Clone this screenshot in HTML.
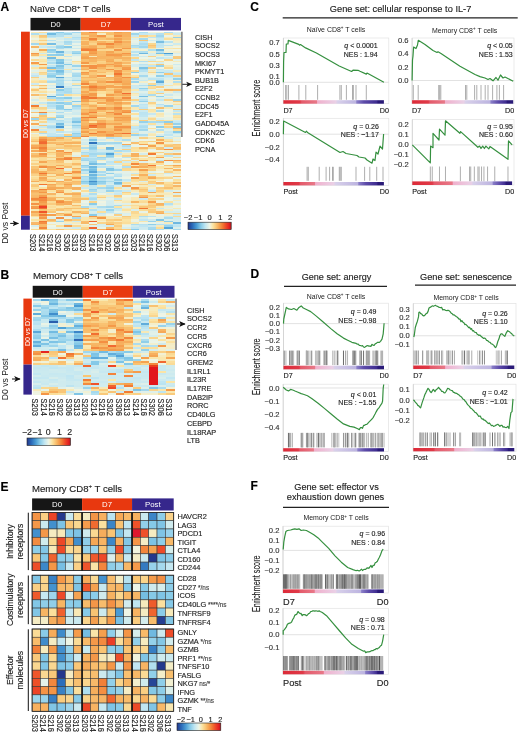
<!DOCTYPE html><html><head><meta charset="utf-8"><style>html,body{margin:0;padding:0;background:#fff;}svg{display:block;filter:blur(0.3px);}text{font-family:"Liberation Sans",sans-serif;stroke-width:0.14px;}</style></head><body><svg width="520" height="733" viewBox="0 0 520 733"><defs><filter id="bl" x="-2%" y="-2%" width="104%" height="104%"><feGaussianBlur stdDeviation="0.4 0.7"/></filter><linearGradient id="cb" x1="0" x2="1" y1="0" y2="0"><stop offset="0.000" stop-color="#24388c"/><stop offset="0.100" stop-color="#2a6ab8"/><stop offset="0.200" stop-color="#4a9cd4"/><stop offset="0.300" stop-color="#88cbe8"/><stop offset="0.400" stop-color="#c0e6f2"/><stop offset="0.500" stop-color="#eef5e6"/><stop offset="0.575" stop-color="#fbe4a4"/><stop offset="0.650" stop-color="#f9c676"/><stop offset="0.725" stop-color="#f5a250"/><stop offset="0.800" stop-color="#f27a34"/><stop offset="0.875" stop-color="#ee4a28"/><stop offset="0.950" stop-color="#e42222"/><stop offset="1.000" stop-color="#b8141e"/></linearGradient><marker id="ar" viewBox="0 0 10 10" refX="9" refY="5" markerWidth="6.5" markerHeight="6.5" orient="auto"><path d="M0,0.5 L10,5 L0,9.5 L2.5,5 z" fill="#111"/></marker></defs><rect width="520" height="733" fill="#fff"/><text x="0.4" y="10.8" font-size="12" text-anchor="start" fill="#000" stroke="#000" font-weight="bold" >A</text><text x="30" y="12.3" font-size="9.6" text-anchor="start" fill="#222" stroke="#222" >Naïve CD8<tspan font-size="6" dy="-3.5">+</tspan><tspan dy="3.5"> T cells</tspan></text><rect x="30.50" y="17.9" width="50.17" height="12.5" fill="#161616"/><text x="55.58" y="26.96" font-size="7.8" text-anchor="middle" fill="#fff" stroke="none" >D0</text><rect x="80.67" y="17.9" width="50.17" height="12.5" fill="#e8380f"/><text x="105.75" y="26.96" font-size="7.8" text-anchor="middle" fill="#fff" stroke="none" >D7</text><rect x="130.83" y="17.9" width="50.17" height="12.5" fill="#36278c"/><text x="155.92" y="26.96" font-size="7.8" text-anchor="middle" fill="#fff" stroke="none" >Post</text><g filter="url(#bl)" shape-rendering="crispEdges"><rect x="30.50" y="31.70" width="8.41" height="1.65" fill="#f7eaba"/><rect x="38.86" y="31.70" width="8.41" height="1.65" fill="#fbde9a"/><rect x="47.22" y="31.70" width="8.41" height="1.65" fill="#bbe3f1"/><rect x="55.58" y="31.70" width="8.41" height="1.65" fill="#8dcee9"/><rect x="63.94" y="31.70" width="8.41" height="1.65" fill="#c1e6f2"/><rect x="72.31" y="31.70" width="8.41" height="1.65" fill="#a2d7ed"/><rect x="80.67" y="31.70" width="8.41" height="1.65" fill="#f7b261"/><rect x="89.03" y="31.70" width="8.41" height="1.65" fill="#f3883e"/><rect x="97.39" y="31.70" width="8.41" height="1.65" fill="#f9c777"/><rect x="105.75" y="31.70" width="8.41" height="1.65" fill="#f8c170"/><rect x="114.11" y="31.70" width="8.41" height="1.65" fill="#f59e4d"/><rect x="122.47" y="31.70" width="8.41" height="1.65" fill="#f6ab59"/><rect x="130.83" y="31.70" width="8.41" height="1.65" fill="#e7f3e8"/><rect x="139.19" y="31.70" width="8.41" height="1.65" fill="#aedeef"/><rect x="147.56" y="31.70" width="8.41" height="1.65" fill="#f0f3dd"/><rect x="155.92" y="31.70" width="8.41" height="1.65" fill="#f0f3dc"/><rect x="164.28" y="31.70" width="8.41" height="1.65" fill="#afdeef"/><rect x="172.64" y="31.70" width="8.41" height="1.65" fill="#dcefeb"/><rect x="30.50" y="33.30" width="8.41" height="1.65" fill="#afdeef"/><rect x="38.86" y="33.30" width="8.41" height="1.65" fill="#d2eced"/><rect x="47.22" y="33.30" width="8.41" height="1.65" fill="#72bbe1"/><rect x="55.58" y="33.30" width="8.41" height="1.65" fill="#adddef"/><rect x="63.94" y="33.30" width="8.41" height="1.65" fill="#9cd5ec"/><rect x="72.31" y="33.30" width="8.41" height="1.65" fill="#d5edec"/><rect x="80.67" y="33.30" width="8.41" height="1.65" fill="#f7b05f"/><rect x="89.03" y="33.30" width="8.41" height="1.65" fill="#f7b362"/><rect x="97.39" y="33.30" width="8.41" height="1.65" fill="#f4edc6"/><rect x="105.75" y="33.30" width="8.41" height="1.65" fill="#f8bf6e"/><rect x="114.11" y="33.30" width="8.41" height="1.65" fill="#f6ad5b"/><rect x="122.47" y="33.30" width="8.41" height="1.65" fill="#f7b160"/><rect x="130.83" y="33.30" width="8.41" height="1.65" fill="#9fd6ec"/><rect x="139.19" y="33.30" width="8.41" height="1.65" fill="#c4e7f1"/><rect x="147.56" y="33.30" width="8.41" height="1.65" fill="#cceaef"/><rect x="155.92" y="33.30" width="8.41" height="1.65" fill="#b4e0f0"/><rect x="164.28" y="33.30" width="8.41" height="1.65" fill="#fbe2a1"/><rect x="172.64" y="33.30" width="8.41" height="1.65" fill="#cdeaee"/><rect x="30.50" y="34.90" width="8.41" height="1.65" fill="#f6eabd"/><rect x="38.86" y="34.90" width="8.41" height="1.65" fill="#f9c778"/><rect x="47.22" y="34.90" width="8.41" height="1.65" fill="#adddef"/><rect x="55.58" y="34.90" width="8.41" height="1.65" fill="#b4e0f0"/><rect x="63.94" y="34.90" width="8.41" height="1.65" fill="#d5edec"/><rect x="72.31" y="34.90" width="8.41" height="1.65" fill="#ceebee"/><rect x="80.67" y="34.90" width="8.41" height="1.65" fill="#fad288"/><rect x="89.03" y="34.90" width="8.41" height="1.65" fill="#f6ac5b"/><rect x="97.39" y="34.90" width="8.41" height="1.65" fill="#f49547"/><rect x="105.75" y="34.90" width="8.41" height="1.65" fill="#fad68f"/><rect x="114.11" y="34.90" width="8.41" height="1.65" fill="#f49346"/><rect x="122.47" y="34.90" width="8.41" height="1.65" fill="#f7b160"/><rect x="130.83" y="34.90" width="8.41" height="1.65" fill="#c9e9f0"/><rect x="139.19" y="34.90" width="8.41" height="1.65" fill="#fad085"/><rect x="147.56" y="34.90" width="8.41" height="1.65" fill="#fbe2a1"/><rect x="155.92" y="34.90" width="8.41" height="1.65" fill="#a1d7ed"/><rect x="164.28" y="34.90" width="8.41" height="1.65" fill="#ebf4e7"/><rect x="172.64" y="34.90" width="8.41" height="1.65" fill="#f7eaba"/><rect x="30.50" y="36.50" width="8.41" height="1.65" fill="#f4eeca"/><rect x="38.86" y="36.50" width="8.41" height="1.65" fill="#facf84"/><rect x="47.22" y="36.50" width="8.41" height="1.65" fill="#c3e7f1"/><rect x="55.58" y="36.50" width="8.41" height="1.65" fill="#d5edec"/><rect x="63.94" y="36.50" width="8.41" height="1.65" fill="#f7e9b8"/><rect x="72.31" y="36.50" width="8.41" height="1.65" fill="#b0deef"/><rect x="80.67" y="36.50" width="8.41" height="1.65" fill="#f6af5d"/><rect x="89.03" y="36.50" width="8.41" height="1.65" fill="#f8ba6a"/><rect x="97.39" y="36.50" width="8.41" height="1.65" fill="#f7b766"/><rect x="105.75" y="36.50" width="8.41" height="1.65" fill="#face82"/><rect x="114.11" y="36.50" width="8.41" height="1.65" fill="#f8bb6a"/><rect x="122.47" y="36.50" width="8.41" height="1.65" fill="#f8b968"/><rect x="130.83" y="36.50" width="8.41" height="1.65" fill="#f7e9b7"/><rect x="139.19" y="36.50" width="8.41" height="1.65" fill="#f7eaba"/><rect x="147.56" y="36.50" width="8.41" height="1.65" fill="#bee5f2"/><rect x="155.92" y="36.50" width="8.41" height="1.65" fill="#b5e1f0"/><rect x="164.28" y="36.50" width="8.41" height="1.65" fill="#f6ebbf"/><rect x="172.64" y="36.50" width="8.41" height="1.65" fill="#96d2eb"/><rect x="30.50" y="38.10" width="8.41" height="1.65" fill="#eff4e1"/><rect x="38.86" y="38.10" width="8.41" height="1.65" fill="#f7e9b7"/><rect x="47.22" y="38.10" width="8.41" height="1.65" fill="#f0f2db"/><rect x="55.58" y="38.10" width="8.41" height="1.65" fill="#d6edec"/><rect x="63.94" y="38.10" width="8.41" height="1.65" fill="#c5e8f1"/><rect x="72.31" y="38.10" width="8.41" height="1.65" fill="#bde5f2"/><rect x="80.67" y="38.10" width="8.41" height="1.65" fill="#f8bb6a"/><rect x="89.03" y="38.10" width="8.41" height="1.65" fill="#f3833a"/><rect x="97.39" y="38.10" width="8.41" height="1.65" fill="#f9c575"/><rect x="105.75" y="38.10" width="8.41" height="1.65" fill="#f7b868"/><rect x="114.11" y="38.10" width="8.41" height="1.65" fill="#f5a250"/><rect x="122.47" y="38.10" width="8.41" height="1.65" fill="#f7b766"/><rect x="130.83" y="38.10" width="8.41" height="1.65" fill="#dbefeb"/><rect x="139.19" y="38.10" width="8.41" height="1.65" fill="#a5d9ed"/><rect x="147.56" y="38.10" width="8.41" height="1.65" fill="#f0f2dc"/><rect x="155.92" y="38.10" width="8.41" height="1.65" fill="#c5e8f1"/><rect x="164.28" y="38.10" width="8.41" height="1.65" fill="#fbde9b"/><rect x="172.64" y="38.10" width="8.41" height="1.65" fill="#f8e8b4"/><rect x="30.50" y="39.70" width="8.41" height="1.65" fill="#f6eabc"/><rect x="38.86" y="39.70" width="8.41" height="1.65" fill="#fad085"/><rect x="47.22" y="39.70" width="8.41" height="1.65" fill="#b8e2f1"/><rect x="55.58" y="39.70" width="8.41" height="1.65" fill="#e5f2e8"/><rect x="63.94" y="39.70" width="8.41" height="1.65" fill="#d1ecee"/><rect x="72.31" y="39.70" width="8.41" height="1.65" fill="#e1f1e9"/><rect x="80.67" y="39.70" width="8.41" height="1.65" fill="#fad38b"/><rect x="89.03" y="39.70" width="8.41" height="1.65" fill="#f5a553"/><rect x="97.39" y="39.70" width="8.41" height="1.65" fill="#fbe1a0"/><rect x="105.75" y="39.70" width="8.41" height="1.65" fill="#fbe19f"/><rect x="114.11" y="39.70" width="8.41" height="1.65" fill="#f7b463"/><rect x="122.47" y="39.70" width="8.41" height="1.65" fill="#f9cb7d"/><rect x="130.83" y="39.70" width="8.41" height="1.65" fill="#e9f3e7"/><rect x="139.19" y="39.70" width="8.41" height="1.65" fill="#f9c778"/><rect x="147.56" y="39.70" width="8.41" height="1.65" fill="#d2eced"/><rect x="155.92" y="39.70" width="8.41" height="1.65" fill="#bde5f2"/><rect x="164.28" y="39.70" width="8.41" height="1.65" fill="#eff4e1"/><rect x="172.64" y="39.70" width="8.41" height="1.65" fill="#f5ebc0"/><rect x="30.50" y="41.30" width="8.41" height="1.65" fill="#f4edc9"/><rect x="38.86" y="41.30" width="8.41" height="1.65" fill="#f5ebc0"/><rect x="47.22" y="41.30" width="8.41" height="1.65" fill="#e0f0ea"/><rect x="55.58" y="41.30" width="8.41" height="1.65" fill="#cfebee"/><rect x="63.94" y="41.30" width="8.41" height="1.65" fill="#a7daed"/><rect x="72.31" y="41.30" width="8.41" height="1.65" fill="#c9e9f0"/><rect x="80.67" y="41.30" width="8.41" height="1.65" fill="#f7b362"/><rect x="89.03" y="41.30" width="8.41" height="1.65" fill="#f9c97b"/><rect x="97.39" y="41.30" width="8.41" height="1.65" fill="#f7b362"/><rect x="105.75" y="41.30" width="8.41" height="1.65" fill="#f9c777"/><rect x="114.11" y="41.30" width="8.41" height="1.65" fill="#f49044"/><rect x="122.47" y="41.30" width="8.41" height="1.65" fill="#f6af5e"/><rect x="130.83" y="41.30" width="8.41" height="1.65" fill="#e6f2e8"/><rect x="139.19" y="41.30" width="8.41" height="1.65" fill="#bfe6f2"/><rect x="147.56" y="41.30" width="8.41" height="1.65" fill="#eef5e4"/><rect x="155.92" y="41.30" width="8.41" height="1.65" fill="#79bfe3"/><rect x="164.28" y="41.30" width="8.41" height="1.65" fill="#bae3f1"/><rect x="172.64" y="41.30" width="8.41" height="1.65" fill="#f4eeca"/><rect x="30.50" y="42.90" width="8.41" height="1.65" fill="#a3d8ed"/><rect x="38.86" y="42.90" width="8.41" height="1.65" fill="#f9c97a"/><rect x="47.22" y="42.90" width="8.41" height="1.65" fill="#77bee3"/><rect x="55.58" y="42.90" width="8.41" height="1.65" fill="#d9eeec"/><rect x="63.94" y="42.90" width="8.41" height="1.65" fill="#afdeef"/><rect x="72.31" y="42.90" width="8.41" height="1.65" fill="#e8f3e8"/><rect x="80.67" y="42.90" width="8.41" height="1.65" fill="#f7b15f"/><rect x="89.03" y="42.90" width="8.41" height="1.65" fill="#fad48b"/><rect x="97.39" y="42.90" width="8.41" height="1.65" fill="#f49849"/><rect x="105.75" y="42.90" width="8.41" height="1.65" fill="#f3883e"/><rect x="114.11" y="42.90" width="8.41" height="1.65" fill="#f6ad5c"/><rect x="122.47" y="42.90" width="8.41" height="1.65" fill="#f8bb6b"/><rect x="130.83" y="42.90" width="8.41" height="1.65" fill="#dcefeb"/><rect x="139.19" y="42.90" width="8.41" height="1.65" fill="#acdcee"/><rect x="147.56" y="42.90" width="8.41" height="1.65" fill="#fad78f"/><rect x="155.92" y="42.90" width="8.41" height="1.65" fill="#c1e6f2"/><rect x="164.28" y="42.90" width="8.41" height="1.65" fill="#e6f2e8"/><rect x="172.64" y="42.90" width="8.41" height="1.65" fill="#ceebee"/><rect x="30.50" y="44.50" width="8.41" height="1.65" fill="#eaf4e7"/><rect x="38.86" y="44.50" width="8.41" height="1.65" fill="#d3eced"/><rect x="47.22" y="44.50" width="8.41" height="1.65" fill="#f0f2db"/><rect x="55.58" y="44.50" width="8.41" height="1.65" fill="#b1dfef"/><rect x="63.94" y="44.50" width="8.41" height="1.65" fill="#f1f2d9"/><rect x="72.31" y="44.50" width="8.41" height="1.65" fill="#cceaef"/><rect x="80.67" y="44.50" width="8.41" height="1.65" fill="#f9c676"/><rect x="89.03" y="44.50" width="8.41" height="1.65" fill="#f7b766"/><rect x="97.39" y="44.50" width="8.41" height="1.65" fill="#f9c87a"/><rect x="105.75" y="44.50" width="8.41" height="1.65" fill="#f7b05f"/><rect x="114.11" y="44.50" width="8.41" height="1.65" fill="#f7b665"/><rect x="122.47" y="44.50" width="8.41" height="1.65" fill="#f8bc6b"/><rect x="130.83" y="44.50" width="8.41" height="1.65" fill="#a6daed"/><rect x="139.19" y="44.50" width="8.41" height="1.65" fill="#b4e0f0"/><rect x="147.56" y="44.50" width="8.41" height="1.65" fill="#f9c372"/><rect x="155.92" y="44.50" width="8.41" height="1.65" fill="#bbe4f1"/><rect x="164.28" y="44.50" width="8.41" height="1.65" fill="#bde5f2"/><rect x="172.64" y="44.50" width="8.41" height="1.65" fill="#f3eecc"/><rect x="30.50" y="46.10" width="8.41" height="1.65" fill="#f7b665"/><rect x="38.86" y="46.10" width="8.41" height="1.65" fill="#cbeaef"/><rect x="47.22" y="46.10" width="8.41" height="1.65" fill="#bee5f2"/><rect x="55.58" y="46.10" width="8.41" height="1.65" fill="#9ad4eb"/><rect x="63.94" y="46.10" width="8.41" height="1.65" fill="#86c9e7"/><rect x="72.31" y="46.10" width="8.41" height="1.65" fill="#e7f3e8"/><rect x="80.67" y="46.10" width="8.41" height="1.65" fill="#f7b564"/><rect x="89.03" y="46.10" width="8.41" height="1.65" fill="#f6ac5b"/><rect x="97.39" y="46.10" width="8.41" height="1.65" fill="#f9cd80"/><rect x="105.75" y="46.10" width="8.41" height="1.65" fill="#f5a453"/><rect x="114.11" y="46.10" width="8.41" height="1.65" fill="#f8ba69"/><rect x="122.47" y="46.10" width="8.41" height="1.65" fill="#f7b867"/><rect x="130.83" y="46.10" width="8.41" height="1.65" fill="#b4e0f0"/><rect x="139.19" y="46.10" width="8.41" height="1.65" fill="#a0d7ec"/><rect x="147.56" y="46.10" width="8.41" height="1.65" fill="#face83"/><rect x="155.92" y="46.10" width="8.41" height="1.65" fill="#c3e7f1"/><rect x="164.28" y="46.10" width="8.41" height="1.65" fill="#f0f2db"/><rect x="172.64" y="46.10" width="8.41" height="1.65" fill="#edf5e6"/><rect x="30.50" y="47.70" width="8.41" height="1.65" fill="#eff3df"/><rect x="38.86" y="47.70" width="8.41" height="1.65" fill="#f0f2d9"/><rect x="47.22" y="47.70" width="8.41" height="1.65" fill="#ddefea"/><rect x="55.58" y="47.70" width="8.41" height="1.65" fill="#aadbee"/><rect x="63.94" y="47.70" width="8.41" height="1.65" fill="#cceaef"/><rect x="72.31" y="47.70" width="8.41" height="1.65" fill="#cceaef"/><rect x="80.67" y="47.70" width="8.41" height="1.65" fill="#f49346"/><rect x="89.03" y="47.70" width="8.41" height="1.65" fill="#f59b4b"/><rect x="97.39" y="47.70" width="8.41" height="1.65" fill="#f7b05f"/><rect x="105.75" y="47.70" width="8.41" height="1.65" fill="#f8bf6f"/><rect x="114.11" y="47.70" width="8.41" height="1.65" fill="#face83"/><rect x="122.47" y="47.70" width="8.41" height="1.65" fill="#f49a4b"/><rect x="130.83" y="47.70" width="8.41" height="1.65" fill="#f8e7b2"/><rect x="139.19" y="47.70" width="8.41" height="1.65" fill="#d1eced"/><rect x="147.56" y="47.70" width="8.41" height="1.65" fill="#f8e7b1"/><rect x="155.92" y="47.70" width="8.41" height="1.65" fill="#f1f1d6"/><rect x="164.28" y="47.70" width="8.41" height="1.65" fill="#f8e7b1"/><rect x="172.64" y="47.70" width="8.41" height="1.65" fill="#fbe2a1"/><rect x="30.50" y="49.30" width="8.41" height="1.65" fill="#eff3e0"/><rect x="38.86" y="49.30" width="8.41" height="1.65" fill="#f6ab59"/><rect x="47.22" y="49.30" width="8.41" height="1.65" fill="#8fcee9"/><rect x="55.58" y="49.30" width="8.41" height="1.65" fill="#ddefea"/><rect x="63.94" y="49.30" width="8.41" height="1.65" fill="#e3f2e9"/><rect x="72.31" y="49.30" width="8.41" height="1.65" fill="#ecf4e7"/><rect x="80.67" y="49.30" width="8.41" height="1.65" fill="#f27f37"/><rect x="89.03" y="49.30" width="8.41" height="1.65" fill="#f3843b"/><rect x="97.39" y="49.30" width="8.41" height="1.65" fill="#fad58d"/><rect x="105.75" y="49.30" width="8.41" height="1.65" fill="#fad993"/><rect x="114.11" y="49.30" width="8.41" height="1.65" fill="#f49547"/><rect x="122.47" y="49.30" width="8.41" height="1.65" fill="#f9cd81"/><rect x="130.83" y="49.30" width="8.41" height="1.65" fill="#e2f1e9"/><rect x="139.19" y="49.30" width="8.41" height="1.65" fill="#f2f0d1"/><rect x="147.56" y="49.30" width="8.41" height="1.65" fill="#aedeef"/><rect x="155.92" y="49.30" width="8.41" height="1.65" fill="#73bbe1"/><rect x="164.28" y="49.30" width="8.41" height="1.65" fill="#f0f3dd"/><rect x="172.64" y="49.30" width="8.41" height="1.65" fill="#eff4e3"/><rect x="30.50" y="50.90" width="8.41" height="1.65" fill="#f3efcf"/><rect x="38.86" y="50.90" width="8.41" height="1.65" fill="#f9e6ac"/><rect x="47.22" y="50.90" width="8.41" height="1.65" fill="#a0d7ec"/><rect x="55.58" y="50.90" width="8.41" height="1.65" fill="#6cb6df"/><rect x="63.94" y="50.90" width="8.41" height="1.65" fill="#cbeaef"/><rect x="72.31" y="50.90" width="8.41" height="1.65" fill="#a2d8ed"/><rect x="80.67" y="50.90" width="8.41" height="1.65" fill="#fadb96"/><rect x="89.03" y="50.90" width="8.41" height="1.65" fill="#f5a14f"/><rect x="97.39" y="50.90" width="8.41" height="1.65" fill="#f8bc6b"/><rect x="105.75" y="50.90" width="8.41" height="1.65" fill="#f5a654"/><rect x="114.11" y="50.90" width="8.41" height="1.65" fill="#f9c676"/><rect x="122.47" y="50.90" width="8.41" height="1.65" fill="#f9c575"/><rect x="130.83" y="50.90" width="8.41" height="1.65" fill="#b9e3f1"/><rect x="139.19" y="50.90" width="8.41" height="1.65" fill="#b1dfef"/><rect x="147.56" y="50.90" width="8.41" height="1.65" fill="#f3eecc"/><rect x="155.92" y="50.90" width="8.41" height="1.65" fill="#b6e1f0"/><rect x="164.28" y="50.90" width="8.41" height="1.65" fill="#f1f1d6"/><rect x="172.64" y="50.90" width="8.41" height="1.65" fill="#f3eecc"/><rect x="30.50" y="52.50" width="8.41" height="1.65" fill="#f4994a"/><rect x="38.86" y="52.50" width="8.41" height="1.65" fill="#ceebee"/><rect x="47.22" y="52.50" width="8.41" height="1.65" fill="#e6f3e8"/><rect x="55.58" y="52.50" width="8.41" height="1.65" fill="#b5e1f0"/><rect x="63.94" y="52.50" width="8.41" height="1.65" fill="#d1ebee"/><rect x="72.31" y="52.50" width="8.41" height="1.65" fill="#8dcde9"/><rect x="80.67" y="52.50" width="8.41" height="1.65" fill="#f8c070"/><rect x="89.03" y="52.50" width="8.41" height="1.65" fill="#f49a4a"/><rect x="97.39" y="52.50" width="8.41" height="1.65" fill="#f8bc6c"/><rect x="105.75" y="52.50" width="8.41" height="1.65" fill="#f6ae5d"/><rect x="114.11" y="52.50" width="8.41" height="1.65" fill="#f7b362"/><rect x="122.47" y="52.50" width="8.41" height="1.65" fill="#f49446"/><rect x="130.83" y="52.50" width="8.41" height="1.65" fill="#e2f1e9"/><rect x="139.19" y="52.50" width="8.41" height="1.65" fill="#6eb7df"/><rect x="147.56" y="52.50" width="8.41" height="1.65" fill="#d8eeec"/><rect x="155.92" y="52.50" width="8.41" height="1.65" fill="#7ac1e4"/><rect x="164.28" y="52.50" width="8.41" height="1.65" fill="#4c9dd5"/><rect x="172.64" y="52.50" width="8.41" height="1.65" fill="#d9eeec"/><rect x="30.50" y="54.10" width="8.41" height="1.65" fill="#f8b968"/><rect x="38.86" y="54.10" width="8.41" height="1.65" fill="#fae6ab"/><rect x="47.22" y="54.10" width="8.41" height="1.65" fill="#92d0ea"/><rect x="55.58" y="54.10" width="8.41" height="1.65" fill="#8bcce9"/><rect x="63.94" y="54.10" width="8.41" height="1.65" fill="#f3efcd"/><rect x="72.31" y="54.10" width="8.41" height="1.65" fill="#d1eced"/><rect x="80.67" y="54.10" width="8.41" height="1.65" fill="#f7b362"/><rect x="89.03" y="54.10" width="8.41" height="1.65" fill="#f6af5e"/><rect x="97.39" y="54.10" width="8.41" height="1.65" fill="#f8b968"/><rect x="105.75" y="54.10" width="8.41" height="1.65" fill="#f49a4b"/><rect x="114.11" y="54.10" width="8.41" height="1.65" fill="#f59c4c"/><rect x="122.47" y="54.10" width="8.41" height="1.65" fill="#f6ae5d"/><rect x="130.83" y="54.10" width="8.41" height="1.65" fill="#b7e2f0"/><rect x="139.19" y="54.10" width="8.41" height="1.65" fill="#ecf4e7"/><rect x="147.56" y="54.10" width="8.41" height="1.65" fill="#d8eeec"/><rect x="155.92" y="54.10" width="8.41" height="1.65" fill="#f6ebbe"/><rect x="164.28" y="54.10" width="8.41" height="1.65" fill="#b3e0f0"/><rect x="172.64" y="54.10" width="8.41" height="1.65" fill="#e8f3e7"/><rect x="30.50" y="55.70" width="8.41" height="1.65" fill="#f7eabb"/><rect x="38.86" y="55.70" width="8.41" height="1.65" fill="#d1ebee"/><rect x="47.22" y="55.70" width="8.41" height="1.65" fill="#f7eaba"/><rect x="55.58" y="55.70" width="8.41" height="1.65" fill="#f1f2d9"/><rect x="63.94" y="55.70" width="8.41" height="1.65" fill="#c0e6f2"/><rect x="72.31" y="55.70" width="8.41" height="1.65" fill="#e8f3e8"/><rect x="80.67" y="55.70" width="8.41" height="1.65" fill="#f6aa58"/><rect x="89.03" y="55.70" width="8.41" height="1.65" fill="#f8e8b4"/><rect x="97.39" y="55.70" width="8.41" height="1.65" fill="#f7b362"/><rect x="105.75" y="55.70" width="8.41" height="1.65" fill="#f7b261"/><rect x="114.11" y="55.70" width="8.41" height="1.65" fill="#f6a958"/><rect x="122.47" y="55.70" width="8.41" height="1.65" fill="#facf83"/><rect x="130.83" y="55.70" width="8.41" height="1.65" fill="#d8eeec"/><rect x="139.19" y="55.70" width="8.41" height="1.65" fill="#d0ebee"/><rect x="147.56" y="55.70" width="8.41" height="1.65" fill="#fad38b"/><rect x="155.92" y="55.70" width="8.41" height="1.65" fill="#e4f2e8"/><rect x="164.28" y="55.70" width="8.41" height="1.65" fill="#e8f3e8"/><rect x="172.64" y="55.70" width="8.41" height="1.65" fill="#f9cc80"/><rect x="30.50" y="57.30" width="8.41" height="1.65" fill="#edf5e6"/><rect x="38.86" y="57.30" width="8.41" height="1.65" fill="#f2efd0"/><rect x="47.22" y="57.30" width="8.41" height="1.65" fill="#74bce1"/><rect x="55.58" y="57.30" width="8.41" height="1.65" fill="#f2efd0"/><rect x="63.94" y="57.30" width="8.41" height="1.65" fill="#f1f2d9"/><rect x="72.31" y="57.30" width="8.41" height="1.65" fill="#edf5e6"/><rect x="80.67" y="57.30" width="8.41" height="1.65" fill="#f5a250"/><rect x="89.03" y="57.30" width="8.41" height="1.65" fill="#f6ab5a"/><rect x="97.39" y="57.30" width="8.41" height="1.65" fill="#f7b463"/><rect x="105.75" y="57.30" width="8.41" height="1.65" fill="#f7b766"/><rect x="114.11" y="57.30" width="8.41" height="1.65" fill="#f7b160"/><rect x="122.47" y="57.30" width="8.41" height="1.65" fill="#f7b361"/><rect x="130.83" y="57.30" width="8.41" height="1.65" fill="#fad790"/><rect x="139.19" y="57.30" width="8.41" height="1.65" fill="#edf5e6"/><rect x="147.56" y="57.30" width="8.41" height="1.65" fill="#eff3e0"/><rect x="155.92" y="57.30" width="8.41" height="1.65" fill="#c0e6f2"/><rect x="164.28" y="57.30" width="8.41" height="1.65" fill="#cfebee"/><rect x="172.64" y="57.30" width="8.41" height="1.65" fill="#f9ca7c"/><rect x="30.50" y="58.90" width="8.41" height="1.65" fill="#fadb96"/><rect x="38.86" y="58.90" width="8.41" height="1.65" fill="#fae5a9"/><rect x="47.22" y="58.90" width="8.41" height="1.65" fill="#b7e2f0"/><rect x="55.58" y="58.90" width="8.41" height="1.65" fill="#82c7e6"/><rect x="63.94" y="58.90" width="8.41" height="1.65" fill="#cfebee"/><rect x="72.31" y="58.90" width="8.41" height="1.65" fill="#ecf4e7"/><rect x="80.67" y="58.90" width="8.41" height="1.65" fill="#f8be6e"/><rect x="89.03" y="58.90" width="8.41" height="1.65" fill="#f7b463"/><rect x="97.39" y="58.90" width="8.41" height="1.65" fill="#f8c06f"/><rect x="105.75" y="58.90" width="8.41" height="1.65" fill="#f6ae5c"/><rect x="114.11" y="58.90" width="8.41" height="1.65" fill="#fad38a"/><rect x="122.47" y="58.90" width="8.41" height="1.65" fill="#f8ba6a"/><rect x="130.83" y="58.90" width="8.41" height="1.65" fill="#c0e6f2"/><rect x="139.19" y="58.90" width="8.41" height="1.65" fill="#f3efce"/><rect x="147.56" y="58.90" width="8.41" height="1.65" fill="#d5eded"/><rect x="155.92" y="58.90" width="8.41" height="1.65" fill="#eef5e6"/><rect x="164.28" y="58.90" width="8.41" height="1.65" fill="#fad288"/><rect x="172.64" y="58.90" width="8.41" height="1.65" fill="#e1f1e9"/><rect x="30.50" y="60.50" width="8.41" height="1.65" fill="#ebf4e7"/><rect x="38.86" y="60.50" width="8.41" height="1.65" fill="#fbe2a1"/><rect x="47.22" y="60.50" width="8.41" height="1.65" fill="#c6e8f1"/><rect x="55.58" y="60.50" width="8.41" height="1.65" fill="#88cbe8"/><rect x="63.94" y="60.50" width="8.41" height="1.65" fill="#e2f1e9"/><rect x="72.31" y="60.50" width="8.41" height="1.65" fill="#fbe09d"/><rect x="80.67" y="60.50" width="8.41" height="1.65" fill="#f8bb6a"/><rect x="89.03" y="60.50" width="8.41" height="1.65" fill="#f7b362"/><rect x="97.39" y="60.50" width="8.41" height="1.65" fill="#fad38a"/><rect x="105.75" y="60.50" width="8.41" height="1.65" fill="#f6a856"/><rect x="114.11" y="60.50" width="8.41" height="1.65" fill="#f9cb7e"/><rect x="122.47" y="60.50" width="8.41" height="1.65" fill="#facf84"/><rect x="130.83" y="60.50" width="8.41" height="1.65" fill="#fbdf9d"/><rect x="139.19" y="60.50" width="8.41" height="1.65" fill="#b0deef"/><rect x="147.56" y="60.50" width="8.41" height="1.65" fill="#fad790"/><rect x="155.92" y="60.50" width="8.41" height="1.65" fill="#fbe19f"/><rect x="164.28" y="60.50" width="8.41" height="1.65" fill="#f0f3dd"/><rect x="172.64" y="60.50" width="8.41" height="1.65" fill="#f6eabb"/><rect x="30.50" y="62.10" width="8.41" height="1.65" fill="#f59c4c"/><rect x="38.86" y="62.10" width="8.41" height="1.65" fill="#f6ebbf"/><rect x="47.22" y="62.10" width="8.41" height="1.65" fill="#acddef"/><rect x="55.58" y="62.10" width="8.41" height="1.65" fill="#75bce2"/><rect x="63.94" y="62.10" width="8.41" height="1.65" fill="#d3eced"/><rect x="72.31" y="62.10" width="8.41" height="1.65" fill="#f6ebc0"/><rect x="80.67" y="62.10" width="8.41" height="1.65" fill="#f49a4a"/><rect x="89.03" y="62.10" width="8.41" height="1.65" fill="#f9c777"/><rect x="97.39" y="62.10" width="8.41" height="1.65" fill="#facf84"/><rect x="105.75" y="62.10" width="8.41" height="1.65" fill="#f8be6d"/><rect x="114.11" y="62.10" width="8.41" height="1.65" fill="#f5a452"/><rect x="122.47" y="62.10" width="8.41" height="1.65" fill="#f8b969"/><rect x="130.83" y="62.10" width="8.41" height="1.65" fill="#ebf4e7"/><rect x="139.19" y="62.10" width="8.41" height="1.65" fill="#e3f1e9"/><rect x="147.56" y="62.10" width="8.41" height="1.65" fill="#e8f3e8"/><rect x="155.92" y="62.10" width="8.41" height="1.65" fill="#d5edec"/><rect x="164.28" y="62.10" width="8.41" height="1.65" fill="#eff4e1"/><rect x="172.64" y="62.10" width="8.41" height="1.65" fill="#ebf4e7"/><rect x="30.50" y="63.70" width="8.41" height="1.65" fill="#fadb96"/><rect x="38.86" y="63.70" width="8.41" height="1.65" fill="#f49a4a"/><rect x="47.22" y="63.70" width="8.41" height="1.65" fill="#dcefeb"/><rect x="55.58" y="63.70" width="8.41" height="1.65" fill="#bce4f1"/><rect x="63.94" y="63.70" width="8.41" height="1.65" fill="#89cce8"/><rect x="72.31" y="63.70" width="8.41" height="1.65" fill="#daeeeb"/><rect x="80.67" y="63.70" width="8.41" height="1.65" fill="#fbe2a1"/><rect x="89.03" y="63.70" width="8.41" height="1.65" fill="#fad187"/><rect x="97.39" y="63.70" width="8.41" height="1.65" fill="#f5a352"/><rect x="105.75" y="63.70" width="8.41" height="1.65" fill="#f59d4d"/><rect x="114.11" y="63.70" width="8.41" height="1.65" fill="#f7b05e"/><rect x="122.47" y="63.70" width="8.41" height="1.65" fill="#fbdd99"/><rect x="130.83" y="63.70" width="8.41" height="1.65" fill="#d4eced"/><rect x="139.19" y="63.70" width="8.41" height="1.65" fill="#bbe3f1"/><rect x="147.56" y="63.70" width="8.41" height="1.65" fill="#fae6aa"/><rect x="155.92" y="63.70" width="8.41" height="1.65" fill="#f9c778"/><rect x="164.28" y="63.70" width="8.41" height="1.65" fill="#eff4e0"/><rect x="172.64" y="63.70" width="8.41" height="1.65" fill="#cfebee"/><rect x="30.50" y="65.30" width="8.41" height="1.65" fill="#d2eced"/><rect x="38.86" y="65.30" width="8.41" height="1.65" fill="#f8e8b4"/><rect x="47.22" y="65.30" width="8.41" height="1.65" fill="#bfe6f2"/><rect x="55.58" y="65.30" width="8.41" height="1.65" fill="#80c5e5"/><rect x="63.94" y="65.30" width="8.41" height="1.65" fill="#d6edec"/><rect x="72.31" y="65.30" width="8.41" height="1.65" fill="#9ad4eb"/><rect x="80.67" y="65.30" width="8.41" height="1.65" fill="#f49547"/><rect x="89.03" y="65.30" width="8.41" height="1.65" fill="#f49044"/><rect x="97.39" y="65.30" width="8.41" height="1.65" fill="#f59d4c"/><rect x="105.75" y="65.30" width="8.41" height="1.65" fill="#f8bd6c"/><rect x="114.11" y="65.30" width="8.41" height="1.65" fill="#f59e4d"/><rect x="122.47" y="65.30" width="8.41" height="1.65" fill="#f7b767"/><rect x="130.83" y="65.30" width="8.41" height="1.65" fill="#d3eced"/><rect x="139.19" y="65.30" width="8.41" height="1.65" fill="#c9e9f0"/><rect x="147.56" y="65.30" width="8.41" height="1.65" fill="#bfe6f2"/><rect x="155.92" y="65.30" width="8.41" height="1.65" fill="#95d1ea"/><rect x="164.28" y="65.30" width="8.41" height="1.65" fill="#f8e8b4"/><rect x="172.64" y="65.30" width="8.41" height="1.65" fill="#e6f2e8"/><rect x="30.50" y="66.90" width="8.41" height="1.65" fill="#fae5a8"/><rect x="38.86" y="66.90" width="8.41" height="1.65" fill="#f9c272"/><rect x="47.22" y="66.90" width="8.41" height="1.65" fill="#78bfe3"/><rect x="55.58" y="66.90" width="8.41" height="1.65" fill="#93d0ea"/><rect x="63.94" y="66.90" width="8.41" height="1.65" fill="#d8eeec"/><rect x="72.31" y="66.90" width="8.41" height="1.65" fill="#daeeeb"/><rect x="80.67" y="66.90" width="8.41" height="1.65" fill="#f8be6e"/><rect x="89.03" y="66.90" width="8.41" height="1.65" fill="#f49144"/><rect x="97.39" y="66.90" width="8.41" height="1.65" fill="#f7b463"/><rect x="105.75" y="66.90" width="8.41" height="1.65" fill="#facf83"/><rect x="114.11" y="66.90" width="8.41" height="1.65" fill="#f9c474"/><rect x="122.47" y="66.90" width="8.41" height="1.65" fill="#f59e4d"/><rect x="130.83" y="66.90" width="8.41" height="1.65" fill="#f1f1d8"/><rect x="139.19" y="66.90" width="8.41" height="1.65" fill="#7ec3e5"/><rect x="147.56" y="66.90" width="8.41" height="1.65" fill="#face82"/><rect x="155.92" y="66.90" width="8.41" height="1.65" fill="#eef4e4"/><rect x="164.28" y="66.90" width="8.41" height="1.65" fill="#fad892"/><rect x="172.64" y="66.90" width="8.41" height="1.65" fill="#dff0ea"/><rect x="30.50" y="68.50" width="8.41" height="1.65" fill="#f2f0d3"/><rect x="38.86" y="68.50" width="8.41" height="1.65" fill="#daeeeb"/><rect x="47.22" y="68.50" width="8.41" height="1.65" fill="#fad48b"/><rect x="55.58" y="68.50" width="8.41" height="1.65" fill="#b0deef"/><rect x="63.94" y="68.50" width="8.41" height="1.65" fill="#f9e6ad"/><rect x="72.31" y="68.50" width="8.41" height="1.65" fill="#b1dfef"/><rect x="80.67" y="68.50" width="8.41" height="1.65" fill="#f7b05e"/><rect x="89.03" y="68.50" width="8.41" height="1.65" fill="#fad790"/><rect x="97.39" y="68.50" width="8.41" height="1.65" fill="#f9c474"/><rect x="105.75" y="68.50" width="8.41" height="1.65" fill="#f49547"/><rect x="114.11" y="68.50" width="8.41" height="1.65" fill="#f9cc7e"/><rect x="122.47" y="68.50" width="8.41" height="1.65" fill="#f49748"/><rect x="130.83" y="68.50" width="8.41" height="1.65" fill="#eff4e2"/><rect x="139.19" y="68.50" width="8.41" height="1.65" fill="#a9dbee"/><rect x="147.56" y="68.50" width="8.41" height="1.65" fill="#e0f0ea"/><rect x="155.92" y="68.50" width="8.41" height="1.65" fill="#c5e7f1"/><rect x="164.28" y="68.50" width="8.41" height="1.65" fill="#e6f2e8"/><rect x="172.64" y="68.50" width="8.41" height="1.65" fill="#d8eeec"/><rect x="30.50" y="70.10" width="8.41" height="1.65" fill="#e1f1e9"/><rect x="38.86" y="70.10" width="8.41" height="1.65" fill="#f4edc8"/><rect x="47.22" y="70.10" width="8.41" height="1.65" fill="#99d3eb"/><rect x="55.58" y="70.10" width="8.41" height="1.65" fill="#78bfe3"/><rect x="63.94" y="70.10" width="8.41" height="1.65" fill="#cfebee"/><rect x="72.31" y="70.10" width="8.41" height="1.65" fill="#ecf4e7"/><rect x="80.67" y="70.10" width="8.41" height="1.65" fill="#fad993"/><rect x="89.03" y="70.10" width="8.41" height="1.65" fill="#f6ae5d"/><rect x="97.39" y="70.10" width="8.41" height="1.65" fill="#f9ca7d"/><rect x="105.75" y="70.10" width="8.41" height="1.65" fill="#f9c97b"/><rect x="114.11" y="70.10" width="8.41" height="1.65" fill="#f49446"/><rect x="122.47" y="70.10" width="8.41" height="1.65" fill="#f9c271"/><rect x="130.83" y="70.10" width="8.41" height="1.65" fill="#fad891"/><rect x="139.19" y="70.10" width="8.41" height="1.65" fill="#b6e1f0"/><rect x="147.56" y="70.10" width="8.41" height="1.65" fill="#f6ebbd"/><rect x="155.92" y="70.10" width="8.41" height="1.65" fill="#ceebee"/><rect x="164.28" y="70.10" width="8.41" height="1.65" fill="#cae9ef"/><rect x="172.64" y="70.10" width="8.41" height="1.65" fill="#f7e9b9"/><rect x="30.50" y="71.70" width="8.41" height="1.65" fill="#f4edc7"/><rect x="38.86" y="71.70" width="8.41" height="1.65" fill="#fad289"/><rect x="47.22" y="71.70" width="8.41" height="1.65" fill="#c4e7f1"/><rect x="55.58" y="71.70" width="8.41" height="1.65" fill="#83c7e6"/><rect x="63.94" y="71.70" width="8.41" height="1.65" fill="#cdeaee"/><rect x="72.31" y="71.70" width="8.41" height="1.65" fill="#cdeaef"/><rect x="80.67" y="71.70" width="8.41" height="1.65" fill="#f49a4a"/><rect x="89.03" y="71.70" width="8.41" height="1.65" fill="#f9c676"/><rect x="97.39" y="71.70" width="8.41" height="1.65" fill="#f8bb6a"/><rect x="105.75" y="71.70" width="8.41" height="1.65" fill="#fada94"/><rect x="114.11" y="71.70" width="8.41" height="1.65" fill="#f49a4a"/><rect x="122.47" y="71.70" width="8.41" height="1.65" fill="#facf83"/><rect x="130.83" y="71.70" width="8.41" height="1.65" fill="#91d0ea"/><rect x="139.19" y="71.70" width="8.41" height="1.65" fill="#d5eded"/><rect x="147.56" y="71.70" width="8.41" height="1.65" fill="#fad68f"/><rect x="155.92" y="71.70" width="8.41" height="1.65" fill="#91cfea"/><rect x="164.28" y="71.70" width="8.41" height="1.65" fill="#bce4f1"/><rect x="172.64" y="71.70" width="8.41" height="1.65" fill="#d0ebee"/><rect x="30.50" y="73.30" width="8.41" height="1.65" fill="#d4eced"/><rect x="38.86" y="73.30" width="8.41" height="1.65" fill="#fadb96"/><rect x="47.22" y="73.30" width="8.41" height="1.65" fill="#a3d8ed"/><rect x="55.58" y="73.30" width="8.41" height="1.65" fill="#96d2ea"/><rect x="63.94" y="73.30" width="8.41" height="1.65" fill="#e7f3e8"/><rect x="72.31" y="73.30" width="8.41" height="1.65" fill="#acdcee"/><rect x="80.67" y="73.30" width="8.41" height="1.65" fill="#f6a957"/><rect x="89.03" y="73.30" width="8.41" height="1.65" fill="#f9c778"/><rect x="97.39" y="73.30" width="8.41" height="1.65" fill="#fad790"/><rect x="105.75" y="73.30" width="8.41" height="1.65" fill="#fadc98"/><rect x="114.11" y="73.30" width="8.41" height="1.65" fill="#f27533"/><rect x="122.47" y="73.30" width="8.41" height="1.65" fill="#f8bc6c"/><rect x="130.83" y="73.30" width="8.41" height="1.65" fill="#ecf4e6"/><rect x="139.19" y="73.30" width="8.41" height="1.65" fill="#d6edec"/><rect x="147.56" y="73.30" width="8.41" height="1.65" fill="#f3efcf"/><rect x="155.92" y="73.30" width="8.41" height="1.65" fill="#d9eeeb"/><rect x="164.28" y="73.30" width="8.41" height="1.65" fill="#f9c474"/><rect x="172.64" y="73.30" width="8.41" height="1.65" fill="#c4e7f1"/><rect x="30.50" y="74.90" width="8.41" height="1.65" fill="#c1e6f2"/><rect x="38.86" y="74.90" width="8.41" height="1.65" fill="#dff0ea"/><rect x="47.22" y="74.90" width="8.41" height="1.65" fill="#8bcde9"/><rect x="55.58" y="74.90" width="8.41" height="1.65" fill="#d8eeec"/><rect x="63.94" y="74.90" width="8.41" height="1.65" fill="#eff4e3"/><rect x="72.31" y="74.90" width="8.41" height="1.65" fill="#a3d8ed"/><rect x="80.67" y="74.90" width="8.41" height="1.65" fill="#fad68e"/><rect x="89.03" y="74.90" width="8.41" height="1.65" fill="#f7b767"/><rect x="97.39" y="74.90" width="8.41" height="1.65" fill="#f49446"/><rect x="105.75" y="74.90" width="8.41" height="1.65" fill="#f5ecc3"/><rect x="114.11" y="74.90" width="8.41" height="1.65" fill="#f59d4d"/><rect x="122.47" y="74.90" width="8.41" height="1.65" fill="#facf83"/><rect x="130.83" y="74.90" width="8.41" height="1.65" fill="#f9e6ac"/><rect x="139.19" y="74.90" width="8.41" height="1.65" fill="#a7daee"/><rect x="147.56" y="74.90" width="8.41" height="1.65" fill="#e8f3e7"/><rect x="155.92" y="74.90" width="8.41" height="1.65" fill="#92d0ea"/><rect x="164.28" y="74.90" width="8.41" height="1.65" fill="#c1e6f2"/><rect x="172.64" y="74.90" width="8.41" height="1.65" fill="#fad188"/><rect x="30.50" y="76.50" width="8.41" height="1.65" fill="#facf84"/><rect x="38.86" y="76.50" width="8.41" height="1.65" fill="#f2efd1"/><rect x="47.22" y="76.50" width="8.41" height="1.65" fill="#a0d7ec"/><rect x="55.58" y="76.50" width="8.41" height="1.65" fill="#58a6d8"/><rect x="63.94" y="76.50" width="8.41" height="1.65" fill="#c3e7f1"/><rect x="72.31" y="76.50" width="8.41" height="1.65" fill="#cae9ef"/><rect x="80.67" y="76.50" width="8.41" height="1.65" fill="#f7b665"/><rect x="89.03" y="76.50" width="8.41" height="1.65" fill="#f7b05f"/><rect x="97.39" y="76.50" width="8.41" height="1.65" fill="#fad58d"/><rect x="105.75" y="76.50" width="8.41" height="1.65" fill="#f7b261"/><rect x="114.11" y="76.50" width="8.41" height="1.65" fill="#f6ad5b"/><rect x="122.47" y="76.50" width="8.41" height="1.65" fill="#f49044"/><rect x="130.83" y="76.50" width="8.41" height="1.65" fill="#f9cb7d"/><rect x="139.19" y="76.50" width="8.41" height="1.65" fill="#d1eced"/><rect x="147.56" y="76.50" width="8.41" height="1.65" fill="#d5eded"/><rect x="155.92" y="76.50" width="8.41" height="1.65" fill="#d4eded"/><rect x="164.28" y="76.50" width="8.41" height="1.65" fill="#d0ebee"/><rect x="172.64" y="76.50" width="8.41" height="1.65" fill="#d0ebee"/><rect x="30.50" y="78.10" width="8.41" height="1.65" fill="#f6ebbf"/><rect x="38.86" y="78.10" width="8.41" height="1.65" fill="#ddf0ea"/><rect x="47.22" y="78.10" width="8.41" height="1.65" fill="#dcefeb"/><rect x="55.58" y="78.10" width="8.41" height="1.65" fill="#b4e0f0"/><rect x="63.94" y="78.10" width="8.41" height="1.65" fill="#daefeb"/><rect x="72.31" y="78.10" width="8.41" height="1.65" fill="#c5e8f1"/><rect x="80.67" y="78.10" width="8.41" height="1.65" fill="#f9c778"/><rect x="89.03" y="78.10" width="8.41" height="1.65" fill="#f9c777"/><rect x="97.39" y="78.10" width="8.41" height="1.65" fill="#f8c070"/><rect x="105.75" y="78.10" width="8.41" height="1.65" fill="#f8bf6e"/><rect x="114.11" y="78.10" width="8.41" height="1.65" fill="#f5a554"/><rect x="122.47" y="78.10" width="8.41" height="1.65" fill="#f7b463"/><rect x="130.83" y="78.10" width="8.41" height="1.65" fill="#a7daee"/><rect x="139.19" y="78.10" width="8.41" height="1.65" fill="#daeeeb"/><rect x="147.56" y="78.10" width="8.41" height="1.65" fill="#bde5f1"/><rect x="155.92" y="78.10" width="8.41" height="1.65" fill="#bee5f2"/><rect x="164.28" y="78.10" width="8.41" height="1.65" fill="#dcefeb"/><rect x="172.64" y="78.10" width="8.41" height="1.65" fill="#92d0ea"/><rect x="30.50" y="79.70" width="8.41" height="1.65" fill="#f8e8b2"/><rect x="38.86" y="79.70" width="8.41" height="1.65" fill="#fbe3a3"/><rect x="47.22" y="79.70" width="8.41" height="1.65" fill="#c0e6f2"/><rect x="55.58" y="79.70" width="8.41" height="1.65" fill="#a4d9ed"/><rect x="63.94" y="79.70" width="8.41" height="1.65" fill="#c4e7f1"/><rect x="72.31" y="79.70" width="8.41" height="1.65" fill="#a2d8ed"/><rect x="80.67" y="79.70" width="8.41" height="1.65" fill="#f8bb6b"/><rect x="89.03" y="79.70" width="8.41" height="1.65" fill="#f8bd6c"/><rect x="97.39" y="79.70" width="8.41" height="1.65" fill="#f7b867"/><rect x="105.75" y="79.70" width="8.41" height="1.65" fill="#face83"/><rect x="114.11" y="79.70" width="8.41" height="1.65" fill="#f5a554"/><rect x="122.47" y="79.70" width="8.41" height="1.65" fill="#f7b05f"/><rect x="130.83" y="79.70" width="8.41" height="1.65" fill="#ddefea"/><rect x="139.19" y="79.70" width="8.41" height="1.65" fill="#c5e8f1"/><rect x="147.56" y="79.70" width="8.41" height="1.65" fill="#f9e7b0"/><rect x="155.92" y="79.70" width="8.41" height="1.65" fill="#8acce8"/><rect x="164.28" y="79.70" width="8.41" height="1.65" fill="#f3efce"/><rect x="172.64" y="79.70" width="8.41" height="1.65" fill="#f2f0d3"/><rect x="30.50" y="81.30" width="8.41" height="1.65" fill="#fbe3a3"/><rect x="38.86" y="81.30" width="8.41" height="1.65" fill="#fada95"/><rect x="47.22" y="81.30" width="8.41" height="1.65" fill="#aadbee"/><rect x="55.58" y="81.30" width="8.41" height="1.65" fill="#acdcee"/><rect x="63.94" y="81.30" width="8.41" height="1.65" fill="#e9f3e7"/><rect x="72.31" y="81.30" width="8.41" height="1.65" fill="#dbefeb"/><rect x="80.67" y="81.30" width="8.41" height="1.65" fill="#f6af5d"/><rect x="89.03" y="81.30" width="8.41" height="1.65" fill="#fad38a"/><rect x="97.39" y="81.30" width="8.41" height="1.65" fill="#f6ac5a"/><rect x="105.75" y="81.30" width="8.41" height="1.65" fill="#f49043"/><rect x="114.11" y="81.30" width="8.41" height="1.65" fill="#f48f43"/><rect x="122.47" y="81.30" width="8.41" height="1.65" fill="#f6ae5c"/><rect x="130.83" y="81.30" width="8.41" height="1.65" fill="#9ed5ec"/><rect x="139.19" y="81.30" width="8.41" height="1.65" fill="#f4eec9"/><rect x="147.56" y="81.30" width="8.41" height="1.65" fill="#eef5e6"/><rect x="155.92" y="81.30" width="8.41" height="1.65" fill="#5ca9da"/><rect x="164.28" y="81.30" width="8.41" height="1.65" fill="#f2f0d4"/><rect x="172.64" y="81.30" width="8.41" height="1.65" fill="#afdeef"/><rect x="30.50" y="82.90" width="8.41" height="1.65" fill="#cceaef"/><rect x="38.86" y="82.90" width="8.41" height="1.65" fill="#eef5e4"/><rect x="47.22" y="82.90" width="8.41" height="1.65" fill="#f0f2d9"/><rect x="55.58" y="82.90" width="8.41" height="1.65" fill="#a7daee"/><rect x="63.94" y="82.90" width="8.41" height="1.65" fill="#dbefeb"/><rect x="72.31" y="82.90" width="8.41" height="1.65" fill="#f9e6ad"/><rect x="80.67" y="82.90" width="8.41" height="1.65" fill="#f3873d"/><rect x="89.03" y="82.90" width="8.41" height="1.65" fill="#f7b160"/><rect x="97.39" y="82.90" width="8.41" height="1.65" fill="#f8c070"/><rect x="105.75" y="82.90" width="8.41" height="1.65" fill="#fad085"/><rect x="114.11" y="82.90" width="8.41" height="1.65" fill="#f8be6d"/><rect x="122.47" y="82.90" width="8.41" height="1.65" fill="#f6a957"/><rect x="130.83" y="82.90" width="8.41" height="1.65" fill="#f0f3de"/><rect x="139.19" y="82.90" width="8.41" height="1.65" fill="#dbefeb"/><rect x="147.56" y="82.90" width="8.41" height="1.65" fill="#fada95"/><rect x="155.92" y="82.90" width="8.41" height="1.65" fill="#b6e1f0"/><rect x="164.28" y="82.90" width="8.41" height="1.65" fill="#e6f2e8"/><rect x="172.64" y="82.90" width="8.41" height="1.65" fill="#f9e6ae"/><rect x="30.50" y="84.50" width="8.41" height="1.65" fill="#fad891"/><rect x="38.86" y="84.50" width="8.41" height="1.65" fill="#f8bf6f"/><rect x="47.22" y="84.50" width="8.41" height="1.65" fill="#d4eded"/><rect x="55.58" y="84.50" width="8.41" height="1.65" fill="#aadbee"/><rect x="63.94" y="84.50" width="8.41" height="1.65" fill="#dff0ea"/><rect x="72.31" y="84.50" width="8.41" height="1.65" fill="#a1d7ec"/><rect x="80.67" y="84.50" width="8.41" height="1.65" fill="#fadb96"/><rect x="89.03" y="84.50" width="8.41" height="1.65" fill="#f59e4d"/><rect x="97.39" y="84.50" width="8.41" height="1.65" fill="#f8bb6b"/><rect x="105.75" y="84.50" width="8.41" height="1.65" fill="#f6a857"/><rect x="114.11" y="84.50" width="8.41" height="1.65" fill="#fad58e"/><rect x="122.47" y="84.50" width="8.41" height="1.65" fill="#f8be6d"/><rect x="130.83" y="84.50" width="8.41" height="1.65" fill="#cae9ef"/><rect x="139.19" y="84.50" width="8.41" height="1.65" fill="#b2dfef"/><rect x="147.56" y="84.50" width="8.41" height="1.65" fill="#91cfea"/><rect x="155.92" y="84.50" width="8.41" height="1.65" fill="#cae9f0"/><rect x="164.28" y="84.50" width="8.41" height="1.65" fill="#f9e6ac"/><rect x="172.64" y="84.50" width="8.41" height="1.65" fill="#f4edc9"/><rect x="30.50" y="86.10" width="8.41" height="1.65" fill="#ebf4e7"/><rect x="38.86" y="86.10" width="8.41" height="1.65" fill="#f9e7b0"/><rect x="47.22" y="86.10" width="8.41" height="1.65" fill="#e2f1e9"/><rect x="55.58" y="86.10" width="8.41" height="1.65" fill="#3981c5"/><rect x="63.94" y="86.10" width="8.41" height="1.65" fill="#cdeaef"/><rect x="72.31" y="86.10" width="8.41" height="1.65" fill="#dff0ea"/><rect x="80.67" y="86.10" width="8.41" height="1.65" fill="#f5a250"/><rect x="89.03" y="86.10" width="8.41" height="1.65" fill="#f27d36"/><rect x="97.39" y="86.10" width="8.41" height="1.65" fill="#f59b4b"/><rect x="105.75" y="86.10" width="8.41" height="1.65" fill="#f6a856"/><rect x="114.11" y="86.10" width="8.41" height="1.65" fill="#f5a452"/><rect x="122.47" y="86.10" width="8.41" height="1.65" fill="#f59f4e"/><rect x="130.83" y="86.10" width="8.41" height="1.65" fill="#cdeaef"/><rect x="139.19" y="86.10" width="8.41" height="1.65" fill="#d5edec"/><rect x="147.56" y="86.10" width="8.41" height="1.65" fill="#fbdd9a"/><rect x="155.92" y="86.10" width="8.41" height="1.65" fill="#fad188"/><rect x="164.28" y="86.10" width="8.41" height="1.65" fill="#e2f1e9"/><rect x="172.64" y="86.10" width="8.41" height="1.65" fill="#ecf4e7"/><rect x="30.50" y="87.70" width="8.41" height="1.65" fill="#fae5a9"/><rect x="38.86" y="87.70" width="8.41" height="1.65" fill="#f7b362"/><rect x="47.22" y="87.70" width="8.41" height="1.65" fill="#c5e8f1"/><rect x="55.58" y="87.70" width="8.41" height="1.65" fill="#f1f1d8"/><rect x="63.94" y="87.70" width="8.41" height="1.65" fill="#aadbee"/><rect x="72.31" y="87.70" width="8.41" height="1.65" fill="#c5e8f1"/><rect x="80.67" y="87.70" width="8.41" height="1.65" fill="#f8b969"/><rect x="89.03" y="87.70" width="8.41" height="1.65" fill="#f49849"/><rect x="97.39" y="87.70" width="8.41" height="1.65" fill="#f59e4d"/><rect x="105.75" y="87.70" width="8.41" height="1.65" fill="#fad58d"/><rect x="114.11" y="87.70" width="8.41" height="1.65" fill="#f9c474"/><rect x="122.47" y="87.70" width="8.41" height="1.65" fill="#f6ab5a"/><rect x="130.83" y="87.70" width="8.41" height="1.65" fill="#c8e9f0"/><rect x="139.19" y="87.70" width="8.41" height="1.65" fill="#91d0ea"/><rect x="147.56" y="87.70" width="8.41" height="1.65" fill="#fad993"/><rect x="155.92" y="87.70" width="8.41" height="1.65" fill="#ebf4e7"/><rect x="164.28" y="87.70" width="8.41" height="1.65" fill="#f3eecb"/><rect x="172.64" y="87.70" width="8.41" height="1.65" fill="#dbefeb"/><rect x="30.50" y="89.30" width="8.41" height="1.65" fill="#f9c777"/><rect x="38.86" y="89.30" width="8.41" height="1.65" fill="#f5ecc3"/><rect x="47.22" y="89.30" width="8.41" height="1.65" fill="#eef5e6"/><rect x="55.58" y="89.30" width="8.41" height="1.65" fill="#8ccde9"/><rect x="63.94" y="89.30" width="8.41" height="1.65" fill="#afdeef"/><rect x="72.31" y="89.30" width="8.41" height="1.65" fill="#d3eced"/><rect x="80.67" y="89.30" width="8.41" height="1.65" fill="#f9c677"/><rect x="89.03" y="89.30" width="8.41" height="1.65" fill="#f59c4b"/><rect x="97.39" y="89.30" width="8.41" height="1.65" fill="#f7b362"/><rect x="105.75" y="89.30" width="8.41" height="1.65" fill="#f9c87a"/><rect x="114.11" y="89.30" width="8.41" height="1.65" fill="#f6aa58"/><rect x="122.47" y="89.30" width="8.41" height="1.65" fill="#f8bd6d"/><rect x="130.83" y="89.30" width="8.41" height="1.65" fill="#f8e9b5"/><rect x="139.19" y="89.30" width="8.41" height="1.65" fill="#bde5f1"/><rect x="147.56" y="89.30" width="8.41" height="1.65" fill="#e2f1e9"/><rect x="155.92" y="89.30" width="8.41" height="1.65" fill="#f8e8b5"/><rect x="164.28" y="89.30" width="8.41" height="1.65" fill="#f7b665"/><rect x="172.64" y="89.30" width="8.41" height="1.65" fill="#f8ba69"/><rect x="30.50" y="90.90" width="8.41" height="1.65" fill="#f8e8b5"/><rect x="38.86" y="90.90" width="8.41" height="1.65" fill="#fbe19f"/><rect x="47.22" y="90.90" width="8.41" height="1.65" fill="#f4edc7"/><rect x="55.58" y="90.90" width="8.41" height="1.65" fill="#b3e0f0"/><rect x="63.94" y="90.90" width="8.41" height="1.65" fill="#a9dbee"/><rect x="72.31" y="90.90" width="8.41" height="1.65" fill="#d0ebee"/><rect x="80.67" y="90.90" width="8.41" height="1.65" fill="#f6a856"/><rect x="89.03" y="90.90" width="8.41" height="1.65" fill="#f9c474"/><rect x="97.39" y="90.90" width="8.41" height="1.65" fill="#fbe09e"/><rect x="105.75" y="90.90" width="8.41" height="1.65" fill="#fad48b"/><rect x="114.11" y="90.90" width="8.41" height="1.65" fill="#f4994a"/><rect x="122.47" y="90.90" width="8.41" height="1.65" fill="#f9c879"/><rect x="130.83" y="90.90" width="8.41" height="1.65" fill="#ddefea"/><rect x="139.19" y="90.90" width="8.41" height="1.65" fill="#e0f0ea"/><rect x="147.56" y="90.90" width="8.41" height="1.65" fill="#fae6ab"/><rect x="155.92" y="90.90" width="8.41" height="1.65" fill="#cae9f0"/><rect x="164.28" y="90.90" width="8.41" height="1.65" fill="#f3eecb"/><rect x="172.64" y="90.90" width="8.41" height="1.65" fill="#cae9ef"/><rect x="30.50" y="92.50" width="8.41" height="1.65" fill="#f1f1d8"/><rect x="38.86" y="92.50" width="8.41" height="1.65" fill="#def0ea"/><rect x="47.22" y="92.50" width="8.41" height="1.65" fill="#eff4e3"/><rect x="55.58" y="92.50" width="8.41" height="1.65" fill="#b8e2f1"/><rect x="63.94" y="92.50" width="8.41" height="1.65" fill="#b4e0f0"/><rect x="72.31" y="92.50" width="8.41" height="1.65" fill="#bee5f2"/><rect x="80.67" y="92.50" width="8.41" height="1.65" fill="#f8ba69"/><rect x="89.03" y="92.50" width="8.41" height="1.65" fill="#f49b4b"/><rect x="97.39" y="92.50" width="8.41" height="1.65" fill="#fbdf9c"/><rect x="105.75" y="92.50" width="8.41" height="1.65" fill="#f9cb7d"/><rect x="114.11" y="92.50" width="8.41" height="1.65" fill="#f7b665"/><rect x="122.47" y="92.50" width="8.41" height="1.65" fill="#f16930"/><rect x="130.83" y="92.50" width="8.41" height="1.65" fill="#f8e8b2"/><rect x="139.19" y="92.50" width="8.41" height="1.65" fill="#d3eced"/><rect x="147.56" y="92.50" width="8.41" height="1.65" fill="#fbe4a4"/><rect x="155.92" y="92.50" width="8.41" height="1.65" fill="#face82"/><rect x="164.28" y="92.50" width="8.41" height="1.65" fill="#dff0ea"/><rect x="172.64" y="92.50" width="8.41" height="1.65" fill="#dff0ea"/><rect x="30.50" y="94.10" width="8.41" height="1.65" fill="#f8bf6e"/><rect x="38.86" y="94.10" width="8.41" height="1.65" fill="#fad68f"/><rect x="47.22" y="94.10" width="8.41" height="1.65" fill="#def0ea"/><rect x="55.58" y="94.10" width="8.41" height="1.65" fill="#a0d7ec"/><rect x="63.94" y="94.10" width="8.41" height="1.65" fill="#fbdd9a"/><rect x="72.31" y="94.10" width="8.41" height="1.65" fill="#f9e7b0"/><rect x="80.67" y="94.10" width="8.41" height="1.65" fill="#f5a553"/><rect x="89.03" y="94.10" width="8.41" height="1.65" fill="#f49b4b"/><rect x="97.39" y="94.10" width="8.41" height="1.65" fill="#f9e7ae"/><rect x="105.75" y="94.10" width="8.41" height="1.65" fill="#f59f4e"/><rect x="114.11" y="94.10" width="8.41" height="1.65" fill="#f7b160"/><rect x="122.47" y="94.10" width="8.41" height="1.65" fill="#f6a957"/><rect x="130.83" y="94.10" width="8.41" height="1.65" fill="#f4edc7"/><rect x="139.19" y="94.10" width="8.41" height="1.65" fill="#c9e9f0"/><rect x="147.56" y="94.10" width="8.41" height="1.65" fill="#acdcee"/><rect x="155.92" y="94.10" width="8.41" height="1.65" fill="#e6f2e8"/><rect x="164.28" y="94.10" width="8.41" height="1.65" fill="#cae9ef"/><rect x="172.64" y="94.10" width="8.41" height="1.65" fill="#e1f1e9"/><rect x="30.50" y="95.70" width="8.41" height="1.65" fill="#ebf4e7"/><rect x="38.86" y="95.70" width="8.41" height="1.65" fill="#f3eecc"/><rect x="47.22" y="95.70" width="8.41" height="1.65" fill="#5ba9da"/><rect x="55.58" y="95.70" width="8.41" height="1.65" fill="#ebf4e7"/><rect x="63.94" y="95.70" width="8.41" height="1.65" fill="#dbefeb"/><rect x="72.31" y="95.70" width="8.41" height="1.65" fill="#f0f2da"/><rect x="80.67" y="95.70" width="8.41" height="1.65" fill="#f27c35"/><rect x="89.03" y="95.70" width="8.41" height="1.65" fill="#f6ad5c"/><rect x="97.39" y="95.70" width="8.41" height="1.65" fill="#fbe4a3"/><rect x="105.75" y="95.70" width="8.41" height="1.65" fill="#f9c879"/><rect x="114.11" y="95.70" width="8.41" height="1.65" fill="#f9cb7d"/><rect x="122.47" y="95.70" width="8.41" height="1.65" fill="#f8c171"/><rect x="130.83" y="95.70" width="8.41" height="1.65" fill="#e6f2e8"/><rect x="139.19" y="95.70" width="8.41" height="1.65" fill="#78bfe3"/><rect x="147.56" y="95.70" width="8.41" height="1.65" fill="#f5ebc1"/><rect x="155.92" y="95.70" width="8.41" height="1.65" fill="#92d0ea"/><rect x="164.28" y="95.70" width="8.41" height="1.65" fill="#f0f2da"/><rect x="172.64" y="95.70" width="8.41" height="1.65" fill="#eaf4e7"/><rect x="30.50" y="97.30" width="8.41" height="1.65" fill="#f2f0d4"/><rect x="38.86" y="97.30" width="8.41" height="1.65" fill="#f8e8b5"/><rect x="47.22" y="97.30" width="8.41" height="1.65" fill="#afdeef"/><rect x="55.58" y="97.30" width="8.41" height="1.65" fill="#9bd4eb"/><rect x="63.94" y="97.30" width="8.41" height="1.65" fill="#8acce8"/><rect x="72.31" y="97.30" width="8.41" height="1.65" fill="#cae9ef"/><rect x="80.67" y="97.30" width="8.41" height="1.65" fill="#f28038"/><rect x="89.03" y="97.30" width="8.41" height="1.65" fill="#f27433"/><rect x="97.39" y="97.30" width="8.41" height="1.65" fill="#f49648"/><rect x="105.75" y="97.30" width="8.41" height="1.65" fill="#f59d4d"/><rect x="114.11" y="97.30" width="8.41" height="1.65" fill="#f8bd6d"/><rect x="122.47" y="97.30" width="8.41" height="1.65" fill="#f38c40"/><rect x="130.83" y="97.30" width="8.41" height="1.65" fill="#e0f1ea"/><rect x="139.19" y="97.30" width="8.41" height="1.65" fill="#d4eded"/><rect x="147.56" y="97.30" width="8.41" height="1.65" fill="#e8f3e8"/><rect x="155.92" y="97.30" width="8.41" height="1.65" fill="#dbefeb"/><rect x="164.28" y="97.30" width="8.41" height="1.65" fill="#d7edec"/><rect x="172.64" y="97.30" width="8.41" height="1.65" fill="#ebf4e7"/><rect x="30.50" y="98.90" width="8.41" height="1.65" fill="#d6edec"/><rect x="38.86" y="98.90" width="8.41" height="1.65" fill="#f3efce"/><rect x="47.22" y="98.90" width="8.41" height="1.65" fill="#fadc98"/><rect x="55.58" y="98.90" width="8.41" height="1.65" fill="#b6e1f0"/><rect x="63.94" y="98.90" width="8.41" height="1.65" fill="#c8e9f0"/><rect x="72.31" y="98.90" width="8.41" height="1.65" fill="#dff0ea"/><rect x="80.67" y="98.90" width="8.41" height="1.65" fill="#f5a14f"/><rect x="89.03" y="98.90" width="8.41" height="1.65" fill="#f9cb7d"/><rect x="97.39" y="98.90" width="8.41" height="1.65" fill="#f8bf6f"/><rect x="105.75" y="98.90" width="8.41" height="1.65" fill="#f49748"/><rect x="114.11" y="98.90" width="8.41" height="1.65" fill="#f5a453"/><rect x="122.47" y="98.90" width="8.41" height="1.65" fill="#f7b160"/><rect x="130.83" y="98.90" width="8.41" height="1.65" fill="#fad68e"/><rect x="139.19" y="98.90" width="8.41" height="1.65" fill="#bbe3f1"/><rect x="147.56" y="98.90" width="8.41" height="1.65" fill="#f1f1d5"/><rect x="155.92" y="98.90" width="8.41" height="1.65" fill="#c2e7f1"/><rect x="164.28" y="98.90" width="8.41" height="1.65" fill="#fad38a"/><rect x="172.64" y="98.90" width="8.41" height="1.65" fill="#98d3eb"/><rect x="30.50" y="100.50" width="8.41" height="1.65" fill="#e8f3e8"/><rect x="38.86" y="100.50" width="8.41" height="1.65" fill="#f0f2db"/><rect x="47.22" y="100.50" width="8.41" height="1.65" fill="#def0ea"/><rect x="55.58" y="100.50" width="8.41" height="1.65" fill="#d3eced"/><rect x="63.94" y="100.50" width="8.41" height="1.65" fill="#f7eabb"/><rect x="72.31" y="100.50" width="8.41" height="1.65" fill="#87cbe8"/><rect x="80.67" y="100.50" width="8.41" height="1.65" fill="#f5a04f"/><rect x="89.03" y="100.50" width="8.41" height="1.65" fill="#f7b665"/><rect x="97.39" y="100.50" width="8.41" height="1.65" fill="#f9cb7d"/><rect x="105.75" y="100.50" width="8.41" height="1.65" fill="#f5a250"/><rect x="114.11" y="100.50" width="8.41" height="1.65" fill="#f9c474"/><rect x="122.47" y="100.50" width="8.41" height="1.65" fill="#fbe4a6"/><rect x="130.83" y="100.50" width="8.41" height="1.65" fill="#d4eced"/><rect x="139.19" y="100.50" width="8.41" height="1.65" fill="#93d0ea"/><rect x="147.56" y="100.50" width="8.41" height="1.65" fill="#daeeeb"/><rect x="155.92" y="100.50" width="8.41" height="1.65" fill="#e6f2e8"/><rect x="164.28" y="100.50" width="8.41" height="1.65" fill="#f1f2d9"/><rect x="172.64" y="100.50" width="8.41" height="1.65" fill="#f9ca7d"/><rect x="30.50" y="102.10" width="8.41" height="1.65" fill="#f3eecb"/><rect x="38.86" y="102.10" width="8.41" height="1.65" fill="#c8e9f0"/><rect x="47.22" y="102.10" width="8.41" height="1.65" fill="#a5d9ed"/><rect x="55.58" y="102.10" width="8.41" height="1.65" fill="#8ccde9"/><rect x="63.94" y="102.10" width="8.41" height="1.65" fill="#9ed6ec"/><rect x="72.31" y="102.10" width="8.41" height="1.65" fill="#dcefeb"/><rect x="80.67" y="102.10" width="8.41" height="1.65" fill="#f9c575"/><rect x="89.03" y="102.10" width="8.41" height="1.65" fill="#fbde9a"/><rect x="97.39" y="102.10" width="8.41" height="1.65" fill="#f6a856"/><rect x="105.75" y="102.10" width="8.41" height="1.65" fill="#f7b362"/><rect x="114.11" y="102.10" width="8.41" height="1.65" fill="#f5a250"/><rect x="122.47" y="102.10" width="8.41" height="1.65" fill="#f7b160"/><rect x="130.83" y="102.10" width="8.41" height="1.65" fill="#f3eecb"/><rect x="139.19" y="102.10" width="8.41" height="1.65" fill="#d9eeec"/><rect x="147.56" y="102.10" width="8.41" height="1.65" fill="#fad288"/><rect x="155.92" y="102.10" width="8.41" height="1.65" fill="#e8f3e8"/><rect x="164.28" y="102.10" width="8.41" height="1.65" fill="#f2f0d3"/><rect x="172.64" y="102.10" width="8.41" height="1.65" fill="#f4edc6"/><rect x="30.50" y="103.70" width="8.41" height="1.65" fill="#c5e8f1"/><rect x="38.86" y="103.70" width="8.41" height="1.65" fill="#f6eabd"/><rect x="47.22" y="103.70" width="8.41" height="1.65" fill="#bbe4f1"/><rect x="55.58" y="103.70" width="8.41" height="1.65" fill="#c3e7f1"/><rect x="63.94" y="103.70" width="8.41" height="1.65" fill="#98d3eb"/><rect x="72.31" y="103.70" width="8.41" height="1.65" fill="#f8e8b5"/><rect x="80.67" y="103.70" width="8.41" height="1.65" fill="#f7b160"/><rect x="89.03" y="103.70" width="8.41" height="1.65" fill="#f9cd80"/><rect x="97.39" y="103.70" width="8.41" height="1.65" fill="#fbe2a0"/><rect x="105.75" y="103.70" width="8.41" height="1.65" fill="#f7b867"/><rect x="114.11" y="103.70" width="8.41" height="1.65" fill="#f6ae5d"/><rect x="122.47" y="103.70" width="8.41" height="1.65" fill="#f9c777"/><rect x="130.83" y="103.70" width="8.41" height="1.65" fill="#e6f2e8"/><rect x="139.19" y="103.70" width="8.41" height="1.65" fill="#bde4f1"/><rect x="147.56" y="103.70" width="8.41" height="1.65" fill="#f9e7b1"/><rect x="155.92" y="103.70" width="8.41" height="1.65" fill="#b8e2f1"/><rect x="164.28" y="103.70" width="8.41" height="1.65" fill="#e7f3e8"/><rect x="172.64" y="103.70" width="8.41" height="1.65" fill="#fbe09d"/><rect x="30.50" y="105.30" width="8.41" height="1.65" fill="#f27d36"/><rect x="38.86" y="105.30" width="8.41" height="1.65" fill="#dff0ea"/><rect x="47.22" y="105.30" width="8.41" height="1.65" fill="#b2dff0"/><rect x="55.58" y="105.30" width="8.41" height="1.65" fill="#90cfe9"/><rect x="63.94" y="105.30" width="8.41" height="1.65" fill="#eef5e6"/><rect x="72.31" y="105.30" width="8.41" height="1.65" fill="#9bd4eb"/><rect x="80.67" y="105.30" width="8.41" height="1.65" fill="#f8c170"/><rect x="89.03" y="105.30" width="8.41" height="1.65" fill="#f6af5d"/><rect x="97.39" y="105.30" width="8.41" height="1.65" fill="#fad288"/><rect x="105.75" y="105.30" width="8.41" height="1.65" fill="#f9c97b"/><rect x="114.11" y="105.30" width="8.41" height="1.65" fill="#f7b867"/><rect x="122.47" y="105.30" width="8.41" height="1.65" fill="#fae5a7"/><rect x="130.83" y="105.30" width="8.41" height="1.65" fill="#a3d8ed"/><rect x="139.19" y="105.30" width="8.41" height="1.65" fill="#c6e8f0"/><rect x="147.56" y="105.30" width="8.41" height="1.65" fill="#f2efd0"/><rect x="155.92" y="105.30" width="8.41" height="1.65" fill="#d0ebee"/><rect x="164.28" y="105.30" width="8.41" height="1.65" fill="#9ad4eb"/><rect x="172.64" y="105.30" width="8.41" height="1.65" fill="#dbefeb"/><rect x="30.50" y="106.90" width="8.41" height="1.65" fill="#fad085"/><rect x="38.86" y="106.90" width="8.41" height="1.65" fill="#fad48b"/><rect x="47.22" y="106.90" width="8.41" height="1.65" fill="#c3e7f1"/><rect x="55.58" y="106.90" width="8.41" height="1.65" fill="#8ecee9"/><rect x="63.94" y="106.90" width="8.41" height="1.65" fill="#e8f3e7"/><rect x="72.31" y="106.90" width="8.41" height="1.65" fill="#b4e0f0"/><rect x="80.67" y="106.90" width="8.41" height="1.65" fill="#fad186"/><rect x="89.03" y="106.90" width="8.41" height="1.65" fill="#f9c373"/><rect x="97.39" y="106.90" width="8.41" height="1.65" fill="#f49245"/><rect x="105.75" y="106.90" width="8.41" height="1.65" fill="#f6ab59"/><rect x="114.11" y="106.90" width="8.41" height="1.65" fill="#f38b40"/><rect x="122.47" y="106.90" width="8.41" height="1.65" fill="#f8c170"/><rect x="130.83" y="106.90" width="8.41" height="1.65" fill="#f8e8b4"/><rect x="139.19" y="106.90" width="8.41" height="1.65" fill="#bfe5f2"/><rect x="147.56" y="106.90" width="8.41" height="1.65" fill="#edf5e6"/><rect x="155.92" y="106.90" width="8.41" height="1.65" fill="#f8be6d"/><rect x="164.28" y="106.90" width="8.41" height="1.65" fill="#f7e9b6"/><rect x="172.64" y="106.90" width="8.41" height="1.65" fill="#daeeeb"/><rect x="30.50" y="108.50" width="8.41" height="1.65" fill="#f5ebc1"/><rect x="38.86" y="108.50" width="8.41" height="1.65" fill="#fbdd99"/><rect x="47.22" y="108.50" width="8.41" height="1.65" fill="#f0f3de"/><rect x="55.58" y="108.50" width="8.41" height="1.65" fill="#a1d7ec"/><rect x="63.94" y="108.50" width="8.41" height="1.65" fill="#87cae8"/><rect x="72.31" y="108.50" width="8.41" height="1.65" fill="#c1e6f2"/><rect x="80.67" y="108.50" width="8.41" height="1.65" fill="#f7b463"/><rect x="89.03" y="108.50" width="8.41" height="1.65" fill="#f6ab5a"/><rect x="97.39" y="108.50" width="8.41" height="1.65" fill="#f49648"/><rect x="105.75" y="108.50" width="8.41" height="1.65" fill="#f6a856"/><rect x="114.11" y="108.50" width="8.41" height="1.65" fill="#f49547"/><rect x="122.47" y="108.50" width="8.41" height="1.65" fill="#facf84"/><rect x="130.83" y="108.50" width="8.41" height="1.65" fill="#f7e9b9"/><rect x="139.19" y="108.50" width="8.41" height="1.65" fill="#f9cd80"/><rect x="147.56" y="108.50" width="8.41" height="1.65" fill="#fbe2a1"/><rect x="155.92" y="108.50" width="8.41" height="1.65" fill="#e1f1e9"/><rect x="164.28" y="108.50" width="8.41" height="1.65" fill="#eef5e5"/><rect x="172.64" y="108.50" width="8.41" height="1.65" fill="#f9c373"/><rect x="30.50" y="110.10" width="8.41" height="1.65" fill="#dcefeb"/><rect x="38.86" y="110.10" width="8.41" height="1.65" fill="#f7e9b8"/><rect x="47.22" y="110.10" width="8.41" height="1.65" fill="#d7edec"/><rect x="55.58" y="110.10" width="8.41" height="1.65" fill="#d8eeec"/><rect x="63.94" y="110.10" width="8.41" height="1.65" fill="#c1e6f2"/><rect x="72.31" y="110.10" width="8.41" height="1.65" fill="#d7edec"/><rect x="80.67" y="110.10" width="8.41" height="1.65" fill="#f8bb6b"/><rect x="89.03" y="110.10" width="8.41" height="1.65" fill="#f6ab59"/><rect x="97.39" y="110.10" width="8.41" height="1.65" fill="#f8bd6d"/><rect x="105.75" y="110.10" width="8.41" height="1.65" fill="#f9cd81"/><rect x="114.11" y="110.10" width="8.41" height="1.65" fill="#f6ac5b"/><rect x="122.47" y="110.10" width="8.41" height="1.65" fill="#f59c4c"/><rect x="130.83" y="110.10" width="8.41" height="1.65" fill="#bbe3f1"/><rect x="139.19" y="110.10" width="8.41" height="1.65" fill="#cdeaef"/><rect x="147.56" y="110.10" width="8.41" height="1.65" fill="#fae5a8"/><rect x="155.92" y="110.10" width="8.41" height="1.65" fill="#a8daee"/><rect x="164.28" y="110.10" width="8.41" height="1.65" fill="#eff4e3"/><rect x="172.64" y="110.10" width="8.41" height="1.65" fill="#c3e7f1"/><rect x="30.50" y="111.70" width="8.41" height="1.65" fill="#f9c272"/><rect x="38.86" y="111.70" width="8.41" height="1.65" fill="#f3833b"/><rect x="47.22" y="111.70" width="8.41" height="1.65" fill="#fbe4a5"/><rect x="55.58" y="111.70" width="8.41" height="1.65" fill="#aeddef"/><rect x="63.94" y="111.70" width="8.41" height="1.65" fill="#ecf5e6"/><rect x="72.31" y="111.70" width="8.41" height="1.65" fill="#d0ebee"/><rect x="80.67" y="111.70" width="8.41" height="1.65" fill="#f7b160"/><rect x="89.03" y="111.70" width="8.41" height="1.65" fill="#f3823a"/><rect x="97.39" y="111.70" width="8.41" height="1.65" fill="#fad993"/><rect x="105.75" y="111.70" width="8.41" height="1.65" fill="#f49346"/><rect x="114.11" y="111.70" width="8.41" height="1.65" fill="#f6ad5b"/><rect x="122.47" y="111.70" width="8.41" height="1.65" fill="#f38d41"/><rect x="130.83" y="111.70" width="8.41" height="1.65" fill="#eaf4e7"/><rect x="139.19" y="111.70" width="8.41" height="1.65" fill="#bbe4f1"/><rect x="147.56" y="111.70" width="8.41" height="1.65" fill="#f4edc6"/><rect x="155.92" y="111.70" width="8.41" height="1.65" fill="#f0f2d9"/><rect x="164.28" y="111.70" width="8.41" height="1.65" fill="#eaf4e7"/><rect x="172.64" y="111.70" width="8.41" height="1.65" fill="#f5ebc0"/><rect x="30.50" y="113.30" width="8.41" height="1.65" fill="#eef5e6"/><rect x="38.86" y="113.30" width="8.41" height="1.65" fill="#a9dbee"/><rect x="47.22" y="113.30" width="8.41" height="1.65" fill="#e7f3e8"/><rect x="55.58" y="113.30" width="8.41" height="1.65" fill="#d6edec"/><rect x="63.94" y="113.30" width="8.41" height="1.65" fill="#d7edec"/><rect x="72.31" y="113.30" width="8.41" height="1.65" fill="#ceebee"/><rect x="80.67" y="113.30" width="8.41" height="1.65" fill="#f49849"/><rect x="89.03" y="113.30" width="8.41" height="1.65" fill="#f8ba69"/><rect x="97.39" y="113.30" width="8.41" height="1.65" fill="#f9cc7f"/><rect x="105.75" y="113.30" width="8.41" height="1.65" fill="#f7b564"/><rect x="114.11" y="113.30" width="8.41" height="1.65" fill="#f38a3f"/><rect x="122.47" y="113.30" width="8.41" height="1.65" fill="#fad68e"/><rect x="130.83" y="113.30" width="8.41" height="1.65" fill="#fbe2a1"/><rect x="139.19" y="113.30" width="8.41" height="1.65" fill="#bde4f1"/><rect x="147.56" y="113.30" width="8.41" height="1.65" fill="#c7e8f0"/><rect x="155.92" y="113.30" width="8.41" height="1.65" fill="#f8e7b1"/><rect x="164.28" y="113.30" width="8.41" height="1.65" fill="#e4f2e9"/><rect x="172.64" y="113.30" width="8.41" height="1.65" fill="#b8e2f1"/><rect x="30.50" y="114.90" width="8.41" height="1.65" fill="#f1f1d8"/><rect x="38.86" y="114.90" width="8.41" height="1.65" fill="#f9c676"/><rect x="47.22" y="114.90" width="8.41" height="1.65" fill="#eff3df"/><rect x="55.58" y="114.90" width="8.41" height="1.65" fill="#a4d9ed"/><rect x="63.94" y="114.90" width="8.41" height="1.65" fill="#e0f1ea"/><rect x="72.31" y="114.90" width="8.41" height="1.65" fill="#e6f2e8"/><rect x="80.67" y="114.90" width="8.41" height="1.65" fill="#f9c575"/><rect x="89.03" y="114.90" width="8.41" height="1.65" fill="#f5a553"/><rect x="97.39" y="114.90" width="8.41" height="1.65" fill="#f8bb6a"/><rect x="105.75" y="114.90" width="8.41" height="1.65" fill="#f8bf6e"/><rect x="114.11" y="114.90" width="8.41" height="1.65" fill="#f8b968"/><rect x="122.47" y="114.90" width="8.41" height="1.65" fill="#f7b261"/><rect x="130.83" y="114.90" width="8.41" height="1.65" fill="#e4f2e9"/><rect x="139.19" y="114.90" width="8.41" height="1.65" fill="#c0e6f2"/><rect x="147.56" y="114.90" width="8.41" height="1.65" fill="#e3f1e9"/><rect x="155.92" y="114.90" width="8.41" height="1.65" fill="#f6eabc"/><rect x="164.28" y="114.90" width="8.41" height="1.65" fill="#eff4e1"/><rect x="172.64" y="114.90" width="8.41" height="1.65" fill="#fbe3a2"/><rect x="30.50" y="116.50" width="8.41" height="1.65" fill="#f8bf6f"/><rect x="38.86" y="116.50" width="8.41" height="1.65" fill="#fad389"/><rect x="47.22" y="116.50" width="8.41" height="1.65" fill="#fadc98"/><rect x="55.58" y="116.50" width="8.41" height="1.65" fill="#91cfea"/><rect x="63.94" y="116.50" width="8.41" height="1.65" fill="#eef5e4"/><rect x="72.31" y="116.50" width="8.41" height="1.65" fill="#c0e6f2"/><rect x="80.67" y="116.50" width="8.41" height="1.65" fill="#f28038"/><rect x="89.03" y="116.50" width="8.41" height="1.65" fill="#f27d36"/><rect x="97.39" y="116.50" width="8.41" height="1.65" fill="#fae6ab"/><rect x="105.75" y="116.50" width="8.41" height="1.65" fill="#f9c97b"/><rect x="114.11" y="116.50" width="8.41" height="1.65" fill="#f4994a"/><rect x="122.47" y="116.50" width="8.41" height="1.65" fill="#f59f4e"/><rect x="130.83" y="116.50" width="8.41" height="1.65" fill="#f5ecc3"/><rect x="139.19" y="116.50" width="8.41" height="1.65" fill="#d4eded"/><rect x="147.56" y="116.50" width="8.41" height="1.65" fill="#f7e9b8"/><rect x="155.92" y="116.50" width="8.41" height="1.65" fill="#eff3e0"/><rect x="164.28" y="116.50" width="8.41" height="1.65" fill="#e5f2e8"/><rect x="172.64" y="116.50" width="8.41" height="1.65" fill="#fbde9b"/><rect x="30.50" y="118.10" width="8.41" height="1.65" fill="#9cd5ec"/><rect x="38.86" y="118.10" width="8.41" height="1.65" fill="#fad187"/><rect x="47.22" y="118.10" width="8.41" height="1.65" fill="#99d3eb"/><rect x="55.58" y="118.10" width="8.41" height="1.65" fill="#e1f1e9"/><rect x="63.94" y="118.10" width="8.41" height="1.65" fill="#c9e9f0"/><rect x="72.31" y="118.10" width="8.41" height="1.65" fill="#a6daed"/><rect x="80.67" y="118.10" width="8.41" height="1.65" fill="#f6aa59"/><rect x="89.03" y="118.10" width="8.41" height="1.65" fill="#f9c676"/><rect x="97.39" y="118.10" width="8.41" height="1.65" fill="#fad085"/><rect x="105.75" y="118.10" width="8.41" height="1.65" fill="#fad68f"/><rect x="114.11" y="118.10" width="8.41" height="1.65" fill="#f6ac5b"/><rect x="122.47" y="118.10" width="8.41" height="1.65" fill="#f6a755"/><rect x="130.83" y="118.10" width="8.41" height="1.65" fill="#f9e6ad"/><rect x="139.19" y="118.10" width="8.41" height="1.65" fill="#d1eced"/><rect x="147.56" y="118.10" width="8.41" height="1.65" fill="#fad892"/><rect x="155.92" y="118.10" width="8.41" height="1.65" fill="#d8eeec"/><rect x="164.28" y="118.10" width="8.41" height="1.65" fill="#e4f2e8"/><rect x="172.64" y="118.10" width="8.41" height="1.65" fill="#f7eaba"/><rect x="30.50" y="119.70" width="8.41" height="1.65" fill="#f9c676"/><rect x="38.86" y="119.70" width="8.41" height="1.65" fill="#f3eecc"/><rect x="47.22" y="119.70" width="8.41" height="1.65" fill="#bce4f1"/><rect x="55.58" y="119.70" width="8.41" height="1.65" fill="#b1dfef"/><rect x="63.94" y="119.70" width="8.41" height="1.65" fill="#d4eded"/><rect x="72.31" y="119.70" width="8.41" height="1.65" fill="#a6d9ed"/><rect x="80.67" y="119.70" width="8.41" height="1.65" fill="#f49849"/><rect x="89.03" y="119.70" width="8.41" height="1.65" fill="#f8b968"/><rect x="97.39" y="119.70" width="8.41" height="1.65" fill="#f6ae5c"/><rect x="105.75" y="119.70" width="8.41" height="1.65" fill="#f9c676"/><rect x="114.11" y="119.70" width="8.41" height="1.65" fill="#f5a250"/><rect x="122.47" y="119.70" width="8.41" height="1.65" fill="#f6aa58"/><rect x="130.83" y="119.70" width="8.41" height="1.65" fill="#d2eced"/><rect x="139.19" y="119.70" width="8.41" height="1.65" fill="#facf84"/><rect x="147.56" y="119.70" width="8.41" height="1.65" fill="#f6ebbe"/><rect x="155.92" y="119.70" width="8.41" height="1.65" fill="#fad891"/><rect x="164.28" y="119.70" width="8.41" height="1.65" fill="#fae5a7"/><rect x="172.64" y="119.70" width="8.41" height="1.65" fill="#d3eced"/><rect x="30.50" y="121.30" width="8.41" height="1.65" fill="#f0f2da"/><rect x="38.86" y="121.30" width="8.41" height="1.65" fill="#fad892"/><rect x="47.22" y="121.30" width="8.41" height="1.65" fill="#c8e9f0"/><rect x="55.58" y="121.30" width="8.41" height="1.65" fill="#bbe4f1"/><rect x="63.94" y="121.30" width="8.41" height="1.65" fill="#c7e8f0"/><rect x="72.31" y="121.30" width="8.41" height="1.65" fill="#7cc2e4"/><rect x="80.67" y="121.30" width="8.41" height="1.65" fill="#f8ba69"/><rect x="89.03" y="121.30" width="8.41" height="1.65" fill="#fbe3a2"/><rect x="97.39" y="121.30" width="8.41" height="1.65" fill="#f7b05f"/><rect x="105.75" y="121.30" width="8.41" height="1.65" fill="#f9c473"/><rect x="114.11" y="121.30" width="8.41" height="1.65" fill="#f8be6e"/><rect x="122.47" y="121.30" width="8.41" height="1.65" fill="#f8ba69"/><rect x="130.83" y="121.30" width="8.41" height="1.65" fill="#edf5e6"/><rect x="139.19" y="121.30" width="8.41" height="1.65" fill="#96d2ea"/><rect x="147.56" y="121.30" width="8.41" height="1.65" fill="#a9dbee"/><rect x="155.92" y="121.30" width="8.41" height="1.65" fill="#a8daee"/><rect x="164.28" y="121.30" width="8.41" height="1.65" fill="#8dcde9"/><rect x="172.64" y="121.30" width="8.41" height="1.65" fill="#c7e8f0"/><rect x="30.50" y="122.90" width="8.41" height="1.65" fill="#f6ad5c"/><rect x="38.86" y="122.90" width="8.41" height="1.65" fill="#ddefeb"/><rect x="47.22" y="122.90" width="8.41" height="1.65" fill="#def0ea"/><rect x="55.58" y="122.90" width="8.41" height="1.65" fill="#74bce1"/><rect x="63.94" y="122.90" width="8.41" height="1.65" fill="#dcefeb"/><rect x="72.31" y="122.90" width="8.41" height="1.65" fill="#c0e6f2"/><rect x="80.67" y="122.90" width="8.41" height="1.65" fill="#f7b665"/><rect x="89.03" y="122.90" width="8.41" height="1.65" fill="#f59f4e"/><rect x="97.39" y="122.90" width="8.41" height="1.65" fill="#f3893f"/><rect x="105.75" y="122.90" width="8.41" height="1.65" fill="#f6ab5a"/><rect x="114.11" y="122.90" width="8.41" height="1.65" fill="#f6a857"/><rect x="122.47" y="122.90" width="8.41" height="1.65" fill="#f9cc80"/><rect x="130.83" y="122.90" width="8.41" height="1.65" fill="#f3efcf"/><rect x="139.19" y="122.90" width="8.41" height="1.65" fill="#cdeaef"/><rect x="147.56" y="122.90" width="8.41" height="1.65" fill="#fbe09e"/><rect x="155.92" y="122.90" width="8.41" height="1.65" fill="#d5edec"/><rect x="164.28" y="122.90" width="8.41" height="1.65" fill="#f9ca7c"/><rect x="172.64" y="122.90" width="8.41" height="1.65" fill="#97d2eb"/><rect x="30.50" y="124.50" width="8.41" height="1.65" fill="#f2f0d3"/><rect x="38.86" y="124.50" width="8.41" height="1.65" fill="#f9c878"/><rect x="47.22" y="124.50" width="8.41" height="1.65" fill="#b7e2f0"/><rect x="55.58" y="124.50" width="8.41" height="1.65" fill="#92d0ea"/><rect x="63.94" y="124.50" width="8.41" height="1.65" fill="#c7e8f0"/><rect x="72.31" y="124.50" width="8.41" height="1.65" fill="#90cfe9"/><rect x="80.67" y="124.50" width="8.41" height="1.65" fill="#f7b160"/><rect x="89.03" y="124.50" width="8.41" height="1.65" fill="#f0642f"/><rect x="97.39" y="124.50" width="8.41" height="1.65" fill="#f49b4b"/><rect x="105.75" y="124.50" width="8.41" height="1.65" fill="#f9cc80"/><rect x="114.11" y="124.50" width="8.41" height="1.65" fill="#f9c372"/><rect x="122.47" y="124.50" width="8.41" height="1.65" fill="#f8bf6e"/><rect x="130.83" y="124.50" width="8.41" height="1.65" fill="#f9e7af"/><rect x="139.19" y="124.50" width="8.41" height="1.65" fill="#b4e0f0"/><rect x="147.56" y="124.50" width="8.41" height="1.65" fill="#d8eeec"/><rect x="155.92" y="124.50" width="8.41" height="1.65" fill="#f3efce"/><rect x="164.28" y="124.50" width="8.41" height="1.65" fill="#f9e7ae"/><rect x="172.64" y="124.50" width="8.41" height="1.65" fill="#dff0ea"/><rect x="30.50" y="126.10" width="8.41" height="1.65" fill="#d4eded"/><rect x="38.86" y="126.10" width="8.41" height="1.65" fill="#c7e8f0"/><rect x="47.22" y="126.10" width="8.41" height="1.65" fill="#a8daee"/><rect x="55.58" y="126.10" width="8.41" height="1.65" fill="#4898d2"/><rect x="63.94" y="126.10" width="8.41" height="1.65" fill="#edf5e6"/><rect x="72.31" y="126.10" width="8.41" height="1.65" fill="#b2dfef"/><rect x="80.67" y="126.10" width="8.41" height="1.65" fill="#f6a756"/><rect x="89.03" y="126.10" width="8.41" height="1.65" fill="#f27834"/><rect x="97.39" y="126.10" width="8.41" height="1.65" fill="#f49a4b"/><rect x="105.75" y="126.10" width="8.41" height="1.65" fill="#f9cd81"/><rect x="114.11" y="126.10" width="8.41" height="1.65" fill="#f49346"/><rect x="122.47" y="126.10" width="8.41" height="1.65" fill="#f49446"/><rect x="130.83" y="126.10" width="8.41" height="1.65" fill="#c4e7f1"/><rect x="139.19" y="126.10" width="8.41" height="1.65" fill="#adddef"/><rect x="147.56" y="126.10" width="8.41" height="1.65" fill="#eff4e3"/><rect x="155.92" y="126.10" width="8.41" height="1.65" fill="#8ecee9"/><rect x="164.28" y="126.10" width="8.41" height="1.65" fill="#fad48b"/><rect x="172.64" y="126.10" width="8.41" height="1.65" fill="#82c6e6"/><rect x="30.50" y="127.70" width="8.41" height="1.65" fill="#d5eded"/><rect x="38.86" y="127.70" width="8.41" height="1.65" fill="#f4edc6"/><rect x="47.22" y="127.70" width="8.41" height="1.65" fill="#bde4f1"/><rect x="55.58" y="127.70" width="8.41" height="1.65" fill="#c1e6f2"/><rect x="63.94" y="127.70" width="8.41" height="1.65" fill="#dbefeb"/><rect x="72.31" y="127.70" width="8.41" height="1.65" fill="#c4e7f1"/><rect x="80.67" y="127.70" width="8.41" height="1.65" fill="#f49547"/><rect x="89.03" y="127.70" width="8.41" height="1.65" fill="#fbe1a0"/><rect x="97.39" y="127.70" width="8.41" height="1.65" fill="#f8ba69"/><rect x="105.75" y="127.70" width="8.41" height="1.65" fill="#f9c373"/><rect x="114.11" y="127.70" width="8.41" height="1.65" fill="#f6a856"/><rect x="122.47" y="127.70" width="8.41" height="1.65" fill="#f6ae5d"/><rect x="130.83" y="127.70" width="8.41" height="1.65" fill="#bde5f2"/><rect x="139.19" y="127.70" width="8.41" height="1.65" fill="#bde4f1"/><rect x="147.56" y="127.70" width="8.41" height="1.65" fill="#fbe1a0"/><rect x="155.92" y="127.70" width="8.41" height="1.65" fill="#e5f2e8"/><rect x="164.28" y="127.70" width="8.41" height="1.65" fill="#cdeaef"/><rect x="172.64" y="127.70" width="8.41" height="1.65" fill="#f7b868"/><rect x="30.50" y="129.30" width="8.41" height="1.65" fill="#f38a3f"/><rect x="38.86" y="129.30" width="8.41" height="1.65" fill="#cbeaef"/><rect x="47.22" y="129.30" width="8.41" height="1.65" fill="#d1ebee"/><rect x="55.58" y="129.30" width="8.41" height="1.65" fill="#fad790"/><rect x="63.94" y="129.30" width="8.41" height="1.65" fill="#eef5e6"/><rect x="72.31" y="129.30" width="8.41" height="1.65" fill="#d4eced"/><rect x="80.67" y="129.30" width="8.41" height="1.65" fill="#f8b969"/><rect x="89.03" y="129.30" width="8.41" height="1.65" fill="#f8bc6c"/><rect x="97.39" y="129.30" width="8.41" height="1.65" fill="#f8c06f"/><rect x="105.75" y="129.30" width="8.41" height="1.65" fill="#f8bf6f"/><rect x="114.11" y="129.30" width="8.41" height="1.65" fill="#f49748"/><rect x="122.47" y="129.30" width="8.41" height="1.65" fill="#f8bf6e"/><rect x="130.83" y="129.30" width="8.41" height="1.65" fill="#d1ebee"/><rect x="139.19" y="129.30" width="8.41" height="1.65" fill="#a1d7ec"/><rect x="147.56" y="129.30" width="8.41" height="1.65" fill="#eff3df"/><rect x="155.92" y="129.30" width="8.41" height="1.65" fill="#b0deef"/><rect x="164.28" y="129.30" width="8.41" height="1.65" fill="#e1f1e9"/><rect x="172.64" y="129.30" width="8.41" height="1.65" fill="#fbde9a"/><rect x="30.50" y="130.90" width="8.41" height="1.65" fill="#fbe09e"/><rect x="38.86" y="130.90" width="8.41" height="1.65" fill="#fad68e"/><rect x="47.22" y="130.90" width="8.41" height="1.65" fill="#d3eced"/><rect x="55.58" y="130.90" width="8.41" height="1.65" fill="#bce4f1"/><rect x="63.94" y="130.90" width="8.41" height="1.65" fill="#cdeaef"/><rect x="72.31" y="130.90" width="8.41" height="1.65" fill="#c0e6f2"/><rect x="80.67" y="130.90" width="8.41" height="1.65" fill="#f5a04e"/><rect x="89.03" y="130.90" width="8.41" height="1.65" fill="#f9ca7c"/><rect x="97.39" y="130.90" width="8.41" height="1.65" fill="#f49547"/><rect x="105.75" y="130.90" width="8.41" height="1.65" fill="#f7b05e"/><rect x="114.11" y="130.90" width="8.41" height="1.65" fill="#f8bf6f"/><rect x="122.47" y="130.90" width="8.41" height="1.65" fill="#f8c171"/><rect x="130.83" y="130.90" width="8.41" height="1.65" fill="#c7e8f0"/><rect x="139.19" y="130.90" width="8.41" height="1.65" fill="#ddf0ea"/><rect x="147.56" y="130.90" width="8.41" height="1.65" fill="#d7edec"/><rect x="155.92" y="130.90" width="8.41" height="1.65" fill="#f7eaba"/><rect x="164.28" y="130.90" width="8.41" height="1.65" fill="#c9e9f0"/><rect x="172.64" y="130.90" width="8.41" height="1.65" fill="#89cbe8"/><rect x="30.50" y="132.50" width="8.41" height="1.65" fill="#e5f2e8"/><rect x="38.86" y="132.50" width="8.41" height="1.65" fill="#b0deef"/><rect x="47.22" y="132.50" width="8.41" height="1.65" fill="#c4e7f1"/><rect x="55.58" y="132.50" width="8.41" height="1.65" fill="#e5f2e8"/><rect x="63.94" y="132.50" width="8.41" height="1.65" fill="#e9f3e7"/><rect x="72.31" y="132.50" width="8.41" height="1.65" fill="#92d0ea"/><rect x="80.67" y="132.50" width="8.41" height="1.65" fill="#f9c879"/><rect x="89.03" y="132.50" width="8.41" height="1.65" fill="#f27b35"/><rect x="97.39" y="132.50" width="8.41" height="1.65" fill="#f7b260"/><rect x="105.75" y="132.50" width="8.41" height="1.65" fill="#f7b05f"/><rect x="114.11" y="132.50" width="8.41" height="1.65" fill="#f38e42"/><rect x="122.47" y="132.50" width="8.41" height="1.65" fill="#f16c30"/><rect x="130.83" y="132.50" width="8.41" height="1.65" fill="#fbdf9c"/><rect x="139.19" y="132.50" width="8.41" height="1.65" fill="#ddefeb"/><rect x="147.56" y="132.50" width="8.41" height="1.65" fill="#f6ebc0"/><rect x="155.92" y="132.50" width="8.41" height="1.65" fill="#eff4e2"/><rect x="164.28" y="132.50" width="8.41" height="1.65" fill="#d0ebee"/><rect x="172.64" y="132.50" width="8.41" height="1.65" fill="#c3e7f1"/><rect x="30.50" y="134.10" width="8.41" height="1.65" fill="#f8e9b6"/><rect x="38.86" y="134.10" width="8.41" height="1.65" fill="#e1f1e9"/><rect x="47.22" y="134.10" width="8.41" height="1.65" fill="#c3e7f1"/><rect x="55.58" y="134.10" width="8.41" height="1.65" fill="#bee5f2"/><rect x="63.94" y="134.10" width="8.41" height="1.65" fill="#fad085"/><rect x="72.31" y="134.10" width="8.41" height="1.65" fill="#a8daee"/><rect x="80.67" y="134.10" width="8.41" height="1.65" fill="#f7b766"/><rect x="89.03" y="134.10" width="8.41" height="1.65" fill="#f7b261"/><rect x="97.39" y="134.10" width="8.41" height="1.65" fill="#f6ae5d"/><rect x="105.75" y="134.10" width="8.41" height="1.65" fill="#f49346"/><rect x="114.11" y="134.10" width="8.41" height="1.65" fill="#f8b968"/><rect x="122.47" y="134.10" width="8.41" height="1.65" fill="#f9c97b"/><rect x="130.83" y="134.10" width="8.41" height="1.65" fill="#9ad3eb"/><rect x="139.19" y="134.10" width="8.41" height="1.65" fill="#afdeef"/><rect x="147.56" y="134.10" width="8.41" height="1.65" fill="#f8e8b2"/><rect x="155.92" y="134.10" width="8.41" height="1.65" fill="#d9eeec"/><rect x="164.28" y="134.10" width="8.41" height="1.65" fill="#bfe6f2"/><rect x="172.64" y="134.10" width="8.41" height="1.65" fill="#dff0ea"/><rect x="30.50" y="135.70" width="8.41" height="1.65" fill="#f7e9b7"/><rect x="38.86" y="135.70" width="8.41" height="1.65" fill="#fad68e"/><rect x="47.22" y="135.70" width="8.41" height="1.65" fill="#acddef"/><rect x="55.58" y="135.70" width="8.41" height="1.65" fill="#adddef"/><rect x="63.94" y="135.70" width="8.41" height="1.65" fill="#83c7e6"/><rect x="72.31" y="135.70" width="8.41" height="1.65" fill="#9ad4eb"/><rect x="80.67" y="135.70" width="8.41" height="1.65" fill="#f3873d"/><rect x="89.03" y="135.70" width="8.41" height="1.65" fill="#fbe2a1"/><rect x="97.39" y="135.70" width="8.41" height="1.65" fill="#f9c373"/><rect x="105.75" y="135.70" width="8.41" height="1.65" fill="#f6ab59"/><rect x="114.11" y="135.70" width="8.41" height="1.65" fill="#f7b565"/><rect x="122.47" y="135.70" width="8.41" height="1.65" fill="#f9c97a"/><rect x="130.83" y="135.70" width="8.41" height="1.65" fill="#e0f0ea"/><rect x="139.19" y="135.70" width="8.41" height="1.65" fill="#d7edec"/><rect x="147.56" y="135.70" width="8.41" height="1.65" fill="#eff4e1"/><rect x="155.92" y="135.70" width="8.41" height="1.65" fill="#7fc4e5"/><rect x="164.28" y="135.70" width="8.41" height="1.65" fill="#e2f1e9"/><rect x="172.64" y="135.70" width="8.41" height="1.65" fill="#cceaef"/><rect x="30.50" y="137.30" width="8.41" height="1.65" fill="#fbde9a"/><rect x="38.86" y="137.30" width="8.41" height="1.65" fill="#f5a453"/><rect x="47.22" y="137.30" width="8.41" height="1.65" fill="#f8b968"/><rect x="55.58" y="137.30" width="8.41" height="1.65" fill="#f6ab5a"/><rect x="63.94" y="137.30" width="8.41" height="1.65" fill="#fad791"/><rect x="72.31" y="137.30" width="8.41" height="1.65" fill="#f7b665"/><rect x="80.67" y="137.30" width="8.41" height="1.65" fill="#eff4e0"/><rect x="89.03" y="137.30" width="8.41" height="1.65" fill="#c2e7f2"/><rect x="97.39" y="137.30" width="8.41" height="1.65" fill="#f0f2dc"/><rect x="105.75" y="137.30" width="8.41" height="1.65" fill="#b2dff0"/><rect x="114.11" y="137.30" width="8.41" height="1.65" fill="#c5e8f1"/><rect x="122.47" y="137.30" width="8.41" height="1.65" fill="#f7e9b7"/><rect x="130.83" y="137.30" width="8.41" height="1.65" fill="#e1f1e9"/><rect x="139.19" y="137.30" width="8.41" height="1.65" fill="#facf83"/><rect x="147.56" y="137.30" width="8.41" height="1.65" fill="#f8e7b1"/><rect x="155.92" y="137.30" width="8.41" height="1.65" fill="#fbe5a6"/><rect x="164.28" y="137.30" width="8.41" height="1.65" fill="#cfebee"/><rect x="172.64" y="137.30" width="8.41" height="1.65" fill="#f2f0d4"/><rect x="30.50" y="138.90" width="8.41" height="1.65" fill="#fad186"/><rect x="38.86" y="138.90" width="8.41" height="1.65" fill="#f3863c"/><rect x="47.22" y="138.90" width="8.41" height="1.65" fill="#f6ae5d"/><rect x="55.58" y="138.90" width="8.41" height="1.65" fill="#f9c879"/><rect x="63.94" y="138.90" width="8.41" height="1.65" fill="#fad085"/><rect x="72.31" y="138.90" width="8.41" height="1.65" fill="#fbe4a6"/><rect x="80.67" y="138.90" width="8.41" height="1.65" fill="#d5eded"/><rect x="89.03" y="138.90" width="8.41" height="1.65" fill="#83c8e7"/><rect x="97.39" y="138.90" width="8.41" height="1.65" fill="#d6edec"/><rect x="105.75" y="138.90" width="8.41" height="1.65" fill="#f3efce"/><rect x="114.11" y="138.90" width="8.41" height="1.65" fill="#cae9ef"/><rect x="122.47" y="138.90" width="8.41" height="1.65" fill="#aeddef"/><rect x="130.83" y="138.90" width="8.41" height="1.65" fill="#f0f3dd"/><rect x="139.19" y="138.90" width="8.41" height="1.65" fill="#eff4e3"/><rect x="147.56" y="138.90" width="8.41" height="1.65" fill="#f0f3dd"/><rect x="155.92" y="138.90" width="8.41" height="1.65" fill="#f6af5e"/><rect x="164.28" y="138.90" width="8.41" height="1.65" fill="#fbe2a1"/><rect x="172.64" y="138.90" width="8.41" height="1.65" fill="#e2f1e9"/><rect x="30.50" y="140.50" width="8.41" height="1.65" fill="#f8be6e"/><rect x="38.86" y="140.50" width="8.41" height="1.65" fill="#f17332"/><rect x="47.22" y="140.50" width="8.41" height="1.65" fill="#fad48b"/><rect x="55.58" y="140.50" width="8.41" height="1.65" fill="#fad790"/><rect x="63.94" y="140.50" width="8.41" height="1.65" fill="#fad38b"/><rect x="72.31" y="140.50" width="8.41" height="1.65" fill="#f9c97a"/><rect x="80.67" y="140.50" width="8.41" height="1.65" fill="#ddf0ea"/><rect x="89.03" y="140.50" width="8.41" height="1.65" fill="#c3e7f1"/><rect x="97.39" y="140.50" width="8.41" height="1.65" fill="#edf5e6"/><rect x="105.75" y="140.50" width="8.41" height="1.65" fill="#e6f2e8"/><rect x="114.11" y="140.50" width="8.41" height="1.65" fill="#f4edc8"/><rect x="122.47" y="140.50" width="8.41" height="1.65" fill="#f5ecc2"/><rect x="130.83" y="140.50" width="8.41" height="1.65" fill="#dcefeb"/><rect x="139.19" y="140.50" width="8.41" height="1.65" fill="#fad993"/><rect x="147.56" y="140.50" width="8.41" height="1.65" fill="#fad186"/><rect x="155.92" y="140.50" width="8.41" height="1.65" fill="#fae5a7"/><rect x="164.28" y="140.50" width="8.41" height="1.65" fill="#face82"/><rect x="172.64" y="140.50" width="8.41" height="1.65" fill="#f8e7b1"/><rect x="30.50" y="142.10" width="8.41" height="1.65" fill="#fae6ab"/><rect x="38.86" y="142.10" width="8.41" height="1.65" fill="#f16930"/><rect x="47.22" y="142.10" width="8.41" height="1.65" fill="#f7b867"/><rect x="55.58" y="142.10" width="8.41" height="1.65" fill="#f8bf6f"/><rect x="63.94" y="142.10" width="8.41" height="1.65" fill="#f7b05f"/><rect x="72.31" y="142.10" width="8.41" height="1.65" fill="#f7b261"/><rect x="80.67" y="142.10" width="8.41" height="1.65" fill="#d2eced"/><rect x="89.03" y="142.10" width="8.41" height="1.65" fill="#2f72bc"/><rect x="97.39" y="142.10" width="8.41" height="1.65" fill="#a2d7ed"/><rect x="105.75" y="142.10" width="8.41" height="1.65" fill="#a5d9ed"/><rect x="114.11" y="142.10" width="8.41" height="1.65" fill="#a2d7ed"/><rect x="122.47" y="142.10" width="8.41" height="1.65" fill="#eff4e3"/><rect x="130.83" y="142.10" width="8.41" height="1.65" fill="#f8bf6f"/><rect x="139.19" y="142.10" width="8.41" height="1.65" fill="#fbe4a3"/><rect x="147.56" y="142.10" width="8.41" height="1.65" fill="#f1f2d9"/><rect x="155.92" y="142.10" width="8.41" height="1.65" fill="#f49446"/><rect x="164.28" y="142.10" width="8.41" height="1.65" fill="#f3efcd"/><rect x="172.64" y="142.10" width="8.41" height="1.65" fill="#ecf4e7"/><rect x="30.50" y="143.70" width="8.41" height="1.65" fill="#f9ca7c"/><rect x="38.86" y="143.70" width="8.41" height="1.65" fill="#f59b4b"/><rect x="47.22" y="143.70" width="8.41" height="1.65" fill="#fbdd99"/><rect x="55.58" y="143.70" width="8.41" height="1.65" fill="#f6ae5d"/><rect x="63.94" y="143.70" width="8.41" height="1.65" fill="#fad790"/><rect x="72.31" y="143.70" width="8.41" height="1.65" fill="#fae6ab"/><rect x="80.67" y="143.70" width="8.41" height="1.65" fill="#cceaef"/><rect x="89.03" y="143.70" width="8.41" height="1.65" fill="#b2dfef"/><rect x="97.39" y="143.70" width="8.41" height="1.65" fill="#a4d8ed"/><rect x="105.75" y="143.70" width="8.41" height="1.65" fill="#c6e8f0"/><rect x="114.11" y="143.70" width="8.41" height="1.65" fill="#c8e9f0"/><rect x="122.47" y="143.70" width="8.41" height="1.65" fill="#f6a856"/><rect x="130.83" y="143.70" width="8.41" height="1.65" fill="#f2f0d3"/><rect x="139.19" y="143.70" width="8.41" height="1.65" fill="#f5a654"/><rect x="147.56" y="143.70" width="8.41" height="1.65" fill="#fadc97"/><rect x="155.92" y="143.70" width="8.41" height="1.65" fill="#fbde9a"/><rect x="164.28" y="143.70" width="8.41" height="1.65" fill="#fad38a"/><rect x="172.64" y="143.70" width="8.41" height="1.65" fill="#f9c474"/><rect x="30.50" y="145.30" width="8.41" height="1.65" fill="#f6ac5b"/><rect x="38.86" y="145.30" width="8.41" height="1.65" fill="#f5a04f"/><rect x="47.22" y="145.30" width="8.41" height="1.65" fill="#fada95"/><rect x="55.58" y="145.30" width="8.41" height="1.65" fill="#fad38b"/><rect x="63.94" y="145.30" width="8.41" height="1.65" fill="#f8bd6c"/><rect x="72.31" y="145.30" width="8.41" height="1.65" fill="#f8c170"/><rect x="80.67" y="145.30" width="8.41" height="1.65" fill="#f2efd1"/><rect x="89.03" y="145.30" width="8.41" height="1.65" fill="#a2d7ed"/><rect x="97.39" y="145.30" width="8.41" height="1.65" fill="#e7f3e8"/><rect x="105.75" y="145.30" width="8.41" height="1.65" fill="#f0f3de"/><rect x="114.11" y="145.30" width="8.41" height="1.65" fill="#d2eced"/><rect x="122.47" y="145.30" width="8.41" height="1.65" fill="#aedeef"/><rect x="130.83" y="145.30" width="8.41" height="1.65" fill="#e8f3e8"/><rect x="139.19" y="145.30" width="8.41" height="1.65" fill="#eff4e2"/><rect x="147.56" y="145.30" width="8.41" height="1.65" fill="#f5a553"/><rect x="155.92" y="145.30" width="8.41" height="1.65" fill="#f4edc6"/><rect x="164.28" y="145.30" width="8.41" height="1.65" fill="#f9c474"/><rect x="172.64" y="145.30" width="8.41" height="1.65" fill="#f9cd81"/><rect x="30.50" y="146.90" width="8.41" height="1.65" fill="#f59e4d"/><rect x="38.86" y="146.90" width="8.41" height="1.65" fill="#f28139"/><rect x="47.22" y="146.90" width="8.41" height="1.65" fill="#face82"/><rect x="55.58" y="146.90" width="8.41" height="1.65" fill="#f9cb7e"/><rect x="63.94" y="146.90" width="8.41" height="1.65" fill="#f9c97a"/><rect x="72.31" y="146.90" width="8.41" height="1.65" fill="#f9cc7f"/><rect x="80.67" y="146.90" width="8.41" height="1.65" fill="#afdeef"/><rect x="89.03" y="146.90" width="8.41" height="1.65" fill="#8ecee9"/><rect x="97.39" y="146.90" width="8.41" height="1.65" fill="#f3eecd"/><rect x="105.75" y="146.90" width="8.41" height="1.65" fill="#6ab4de"/><rect x="114.11" y="146.90" width="8.41" height="1.65" fill="#d5eded"/><rect x="122.47" y="146.90" width="8.41" height="1.65" fill="#c7e8f0"/><rect x="130.83" y="146.90" width="8.41" height="1.65" fill="#fbde9b"/><rect x="139.19" y="146.90" width="8.41" height="1.65" fill="#f8ba69"/><rect x="147.56" y="146.90" width="8.41" height="1.65" fill="#fadc97"/><rect x="155.92" y="146.90" width="8.41" height="1.65" fill="#f9c272"/><rect x="164.28" y="146.90" width="8.41" height="1.65" fill="#d4eced"/><rect x="172.64" y="146.90" width="8.41" height="1.65" fill="#f8bc6c"/><rect x="30.50" y="148.50" width="8.41" height="1.65" fill="#fbdf9c"/><rect x="38.86" y="148.50" width="8.41" height="1.65" fill="#f49245"/><rect x="47.22" y="148.50" width="8.41" height="1.65" fill="#f9c677"/><rect x="55.58" y="148.50" width="8.41" height="1.65" fill="#e9f3e7"/><rect x="63.94" y="148.50" width="8.41" height="1.65" fill="#fbde9b"/><rect x="72.31" y="148.50" width="8.41" height="1.65" fill="#f9ca7d"/><rect x="80.67" y="148.50" width="8.41" height="1.65" fill="#f4edc6"/><rect x="89.03" y="148.50" width="8.41" height="1.65" fill="#9cd5ec"/><rect x="97.39" y="148.50" width="8.41" height="1.65" fill="#c9e9f0"/><rect x="105.75" y="148.50" width="8.41" height="1.65" fill="#78bfe3"/><rect x="114.11" y="148.50" width="8.41" height="1.65" fill="#f5ecc3"/><rect x="122.47" y="148.50" width="8.41" height="1.65" fill="#f9cd81"/><rect x="130.83" y="148.50" width="8.41" height="1.65" fill="#fbe3a3"/><rect x="139.19" y="148.50" width="8.41" height="1.65" fill="#fadc97"/><rect x="147.56" y="148.50" width="8.41" height="1.65" fill="#e4f2e9"/><rect x="155.92" y="148.50" width="8.41" height="1.65" fill="#f8be6e"/><rect x="164.28" y="148.50" width="8.41" height="1.65" fill="#f38d41"/><rect x="172.64" y="148.50" width="8.41" height="1.65" fill="#f9c97b"/><rect x="30.50" y="150.10" width="8.41" height="1.65" fill="#f6ac5b"/><rect x="38.86" y="150.10" width="8.41" height="1.65" fill="#f49648"/><rect x="47.22" y="150.10" width="8.41" height="1.65" fill="#fbe4a3"/><rect x="55.58" y="150.10" width="8.41" height="1.65" fill="#f59d4d"/><rect x="63.94" y="150.10" width="8.41" height="1.65" fill="#f8e7b1"/><rect x="72.31" y="150.10" width="8.41" height="1.65" fill="#fad58d"/><rect x="80.67" y="150.10" width="8.41" height="1.65" fill="#d0ebee"/><rect x="89.03" y="150.10" width="8.41" height="1.65" fill="#b7e1f0"/><rect x="97.39" y="150.10" width="8.41" height="1.65" fill="#cfebee"/><rect x="105.75" y="150.10" width="8.41" height="1.65" fill="#c8e9f0"/><rect x="114.11" y="150.10" width="8.41" height="1.65" fill="#acdcee"/><rect x="122.47" y="150.10" width="8.41" height="1.65" fill="#b7e2f0"/><rect x="130.83" y="150.10" width="8.41" height="1.65" fill="#fbe2a1"/><rect x="139.19" y="150.10" width="8.41" height="1.65" fill="#f8e8b2"/><rect x="147.56" y="150.10" width="8.41" height="1.65" fill="#eef5e4"/><rect x="155.92" y="150.10" width="8.41" height="1.65" fill="#eff4e2"/><rect x="164.28" y="150.10" width="8.41" height="1.65" fill="#f2efcf"/><rect x="172.64" y="150.10" width="8.41" height="1.65" fill="#d6edec"/><rect x="30.50" y="151.70" width="8.41" height="1.65" fill="#f5ecc2"/><rect x="38.86" y="151.70" width="8.41" height="1.65" fill="#f8e8b4"/><rect x="47.22" y="151.70" width="8.41" height="1.65" fill="#f9c677"/><rect x="55.58" y="151.70" width="8.41" height="1.65" fill="#f8ba69"/><rect x="63.94" y="151.70" width="8.41" height="1.65" fill="#f38e42"/><rect x="72.31" y="151.70" width="8.41" height="1.65" fill="#f3eeca"/><rect x="80.67" y="151.70" width="8.41" height="1.65" fill="#a9dbee"/><rect x="89.03" y="151.70" width="8.41" height="1.65" fill="#b8e2f1"/><rect x="97.39" y="151.70" width="8.41" height="1.65" fill="#b6e1f0"/><rect x="105.75" y="151.70" width="8.41" height="1.65" fill="#aadcee"/><rect x="114.11" y="151.70" width="8.41" height="1.65" fill="#f9e7b0"/><rect x="122.47" y="151.70" width="8.41" height="1.65" fill="#dcefeb"/><rect x="130.83" y="151.70" width="8.41" height="1.65" fill="#e9f3e7"/><rect x="139.19" y="151.70" width="8.41" height="1.65" fill="#f0f2da"/><rect x="147.56" y="151.70" width="8.41" height="1.65" fill="#fad085"/><rect x="155.92" y="151.70" width="8.41" height="1.65" fill="#fad187"/><rect x="164.28" y="151.70" width="8.41" height="1.65" fill="#dbefeb"/><rect x="172.64" y="151.70" width="8.41" height="1.65" fill="#f0f2da"/><rect x="30.50" y="153.30" width="8.41" height="1.65" fill="#f9c272"/><rect x="38.86" y="153.30" width="8.41" height="1.65" fill="#f49446"/><rect x="47.22" y="153.30" width="8.41" height="1.65" fill="#fadb96"/><rect x="55.58" y="153.30" width="8.41" height="1.65" fill="#f7b362"/><rect x="63.94" y="153.30" width="8.41" height="1.65" fill="#f8bb6a"/><rect x="72.31" y="153.30" width="8.41" height="1.65" fill="#f0f2da"/><rect x="80.67" y="153.30" width="8.41" height="1.65" fill="#b9e3f1"/><rect x="89.03" y="153.30" width="8.41" height="1.65" fill="#a2d7ed"/><rect x="97.39" y="153.30" width="8.41" height="1.65" fill="#a6daed"/><rect x="105.75" y="153.30" width="8.41" height="1.65" fill="#54a4d7"/><rect x="114.11" y="153.30" width="8.41" height="1.65" fill="#c1e6f2"/><rect x="122.47" y="153.30" width="8.41" height="1.65" fill="#f6eabc"/><rect x="130.83" y="153.30" width="8.41" height="1.65" fill="#f7b160"/><rect x="139.19" y="153.30" width="8.41" height="1.65" fill="#d6edec"/><rect x="147.56" y="153.30" width="8.41" height="1.65" fill="#f27c35"/><rect x="155.92" y="153.30" width="8.41" height="1.65" fill="#f1f1d8"/><rect x="164.28" y="153.30" width="8.41" height="1.65" fill="#f9cc80"/><rect x="172.64" y="153.30" width="8.41" height="1.65" fill="#f7b867"/><rect x="30.50" y="154.90" width="8.41" height="1.65" fill="#f7b564"/><rect x="38.86" y="154.90" width="8.41" height="1.65" fill="#f6a856"/><rect x="47.22" y="154.90" width="8.41" height="1.65" fill="#f9e6ad"/><rect x="55.58" y="154.90" width="8.41" height="1.65" fill="#f7b362"/><rect x="63.94" y="154.90" width="8.41" height="1.65" fill="#fbdd99"/><rect x="72.31" y="154.90" width="8.41" height="1.65" fill="#dff0ea"/><rect x="80.67" y="154.90" width="8.41" height="1.65" fill="#f9ca7d"/><rect x="89.03" y="154.90" width="8.41" height="1.65" fill="#afdeef"/><rect x="97.39" y="154.90" width="8.41" height="1.65" fill="#f6ebbe"/><rect x="105.75" y="154.90" width="8.41" height="1.65" fill="#90cfe9"/><rect x="114.11" y="154.90" width="8.41" height="1.65" fill="#f5ebc1"/><rect x="122.47" y="154.90" width="8.41" height="1.65" fill="#fad48c"/><rect x="130.83" y="154.90" width="8.41" height="1.65" fill="#f7b261"/><rect x="139.19" y="154.90" width="8.41" height="1.65" fill="#fad68e"/><rect x="147.56" y="154.90" width="8.41" height="1.65" fill="#f0f3dd"/><rect x="155.92" y="154.90" width="8.41" height="1.65" fill="#fbdf9d"/><rect x="164.28" y="154.90" width="8.41" height="1.65" fill="#bee5f2"/><rect x="172.64" y="154.90" width="8.41" height="1.65" fill="#dcefeb"/><rect x="30.50" y="156.50" width="8.41" height="1.65" fill="#face82"/><rect x="38.86" y="156.50" width="8.41" height="1.65" fill="#fad58d"/><rect x="47.22" y="156.50" width="8.41" height="1.65" fill="#facf84"/><rect x="55.58" y="156.50" width="8.41" height="1.65" fill="#f9c97a"/><rect x="63.94" y="156.50" width="8.41" height="1.65" fill="#f49044"/><rect x="72.31" y="156.50" width="8.41" height="1.65" fill="#f6ab5a"/><rect x="80.67" y="156.50" width="8.41" height="1.65" fill="#c4e7f1"/><rect x="89.03" y="156.50" width="8.41" height="1.65" fill="#c4e7f1"/><rect x="97.39" y="156.50" width="8.41" height="1.65" fill="#9dd5ec"/><rect x="105.75" y="156.50" width="8.41" height="1.65" fill="#aadbee"/><rect x="114.11" y="156.50" width="8.41" height="1.65" fill="#edf5e6"/><rect x="122.47" y="156.50" width="8.41" height="1.65" fill="#b9e3f1"/><rect x="130.83" y="156.50" width="8.41" height="1.65" fill="#f7e9b6"/><rect x="139.19" y="156.50" width="8.41" height="1.65" fill="#f0f2da"/><rect x="147.56" y="156.50" width="8.41" height="1.65" fill="#fad68f"/><rect x="155.92" y="156.50" width="8.41" height="1.65" fill="#f5a351"/><rect x="164.28" y="156.50" width="8.41" height="1.65" fill="#eff4e1"/><rect x="172.64" y="156.50" width="8.41" height="1.65" fill="#fad892"/><rect x="30.50" y="158.10" width="8.41" height="1.65" fill="#fae5a9"/><rect x="38.86" y="158.10" width="8.41" height="1.65" fill="#fada95"/><rect x="47.22" y="158.10" width="8.41" height="1.65" fill="#f8e7b1"/><rect x="55.58" y="158.10" width="8.41" height="1.65" fill="#f49a4a"/><rect x="63.94" y="158.10" width="8.41" height="1.65" fill="#f3823a"/><rect x="72.31" y="158.10" width="8.41" height="1.65" fill="#f9c473"/><rect x="80.67" y="158.10" width="8.41" height="1.65" fill="#a7daee"/><rect x="89.03" y="158.10" width="8.41" height="1.65" fill="#afdeef"/><rect x="97.39" y="158.10" width="8.41" height="1.65" fill="#b1dfef"/><rect x="105.75" y="158.10" width="8.41" height="1.65" fill="#d8eeec"/><rect x="114.11" y="158.10" width="8.41" height="1.65" fill="#d6edec"/><rect x="122.47" y="158.10" width="8.41" height="1.65" fill="#f0f3dd"/><rect x="130.83" y="158.10" width="8.41" height="1.65" fill="#fad288"/><rect x="139.19" y="158.10" width="8.41" height="1.65" fill="#fae5a9"/><rect x="147.56" y="158.10" width="8.41" height="1.65" fill="#fae5a9"/><rect x="155.92" y="158.10" width="8.41" height="1.65" fill="#e1f1e9"/><rect x="164.28" y="158.10" width="8.41" height="1.65" fill="#f3eecc"/><rect x="172.64" y="158.10" width="8.41" height="1.65" fill="#e5f2e8"/><rect x="30.50" y="159.70" width="8.41" height="1.65" fill="#fad48b"/><rect x="38.86" y="159.70" width="8.41" height="1.65" fill="#fad48b"/><rect x="47.22" y="159.70" width="8.41" height="1.65" fill="#f9c87a"/><rect x="55.58" y="159.70" width="8.41" height="1.65" fill="#f7b868"/><rect x="63.94" y="159.70" width="8.41" height="1.65" fill="#f6eabb"/><rect x="72.31" y="159.70" width="8.41" height="1.65" fill="#fbe4a5"/><rect x="80.67" y="159.70" width="8.41" height="1.65" fill="#9dd5ec"/><rect x="89.03" y="159.70" width="8.41" height="1.65" fill="#b0deef"/><rect x="97.39" y="159.70" width="8.41" height="1.65" fill="#f4edc6"/><rect x="105.75" y="159.70" width="8.41" height="1.65" fill="#daeeeb"/><rect x="114.11" y="159.70" width="8.41" height="1.65" fill="#bee5f2"/><rect x="122.47" y="159.70" width="8.41" height="1.65" fill="#fad892"/><rect x="130.83" y="159.70" width="8.41" height="1.65" fill="#dcefeb"/><rect x="139.19" y="159.70" width="8.41" height="1.65" fill="#f5a250"/><rect x="147.56" y="159.70" width="8.41" height="1.65" fill="#f7e9b9"/><rect x="155.92" y="159.70" width="8.41" height="1.65" fill="#bbe4f1"/><rect x="164.28" y="159.70" width="8.41" height="1.65" fill="#f48f42"/><rect x="172.64" y="159.70" width="8.41" height="1.65" fill="#f6ab5a"/><rect x="30.50" y="161.30" width="8.41" height="1.65" fill="#f8e7b1"/><rect x="38.86" y="161.30" width="8.41" height="1.65" fill="#f6a755"/><rect x="47.22" y="161.30" width="8.41" height="1.65" fill="#fad086"/><rect x="55.58" y="161.30" width="8.41" height="1.65" fill="#f9c373"/><rect x="63.94" y="161.30" width="8.41" height="1.65" fill="#f6ebbf"/><rect x="72.31" y="161.30" width="8.41" height="1.65" fill="#fbe19f"/><rect x="80.67" y="161.30" width="8.41" height="1.65" fill="#d7edec"/><rect x="89.03" y="161.30" width="8.41" height="1.65" fill="#99d3eb"/><rect x="97.39" y="161.30" width="8.41" height="1.65" fill="#ecf4e6"/><rect x="105.75" y="161.30" width="8.41" height="1.65" fill="#bde4f1"/><rect x="114.11" y="161.30" width="8.41" height="1.65" fill="#fad58d"/><rect x="122.47" y="161.30" width="8.41" height="1.65" fill="#ceebee"/><rect x="130.83" y="161.30" width="8.41" height="1.65" fill="#fadc98"/><rect x="139.19" y="161.30" width="8.41" height="1.65" fill="#e0f0ea"/><rect x="147.56" y="161.30" width="8.41" height="1.65" fill="#eff4e1"/><rect x="155.92" y="161.30" width="8.41" height="1.65" fill="#f6ae5d"/><rect x="164.28" y="161.30" width="8.41" height="1.65" fill="#eaf4e7"/><rect x="172.64" y="161.30" width="8.41" height="1.65" fill="#facf84"/><rect x="30.50" y="162.90" width="8.41" height="1.65" fill="#fad288"/><rect x="38.86" y="162.90" width="8.41" height="1.65" fill="#fad78f"/><rect x="47.22" y="162.90" width="8.41" height="1.65" fill="#fad48b"/><rect x="55.58" y="162.90" width="8.41" height="1.65" fill="#fad38a"/><rect x="63.94" y="162.90" width="8.41" height="1.65" fill="#fad790"/><rect x="72.31" y="162.90" width="8.41" height="1.65" fill="#f8bb6b"/><rect x="80.67" y="162.90" width="8.41" height="1.65" fill="#def0ea"/><rect x="89.03" y="162.90" width="8.41" height="1.65" fill="#73bbe1"/><rect x="97.39" y="162.90" width="8.41" height="1.65" fill="#97d2eb"/><rect x="105.75" y="162.90" width="8.41" height="1.65" fill="#c5e8f1"/><rect x="114.11" y="162.90" width="8.41" height="1.65" fill="#c8e9f0"/><rect x="122.47" y="162.90" width="8.41" height="1.65" fill="#fae5a9"/><rect x="130.83" y="162.90" width="8.41" height="1.65" fill="#f3883e"/><rect x="139.19" y="162.90" width="8.41" height="1.65" fill="#f8ba69"/><rect x="147.56" y="162.90" width="8.41" height="1.65" fill="#fadb96"/><rect x="155.92" y="162.90" width="8.41" height="1.65" fill="#fbdf9d"/><rect x="164.28" y="162.90" width="8.41" height="1.65" fill="#edf5e6"/><rect x="172.64" y="162.90" width="8.41" height="1.65" fill="#f1f1d5"/><rect x="30.50" y="164.50" width="8.41" height="1.65" fill="#f9e7af"/><rect x="38.86" y="164.50" width="8.41" height="1.65" fill="#f8bf6e"/><rect x="47.22" y="164.50" width="8.41" height="1.65" fill="#fad68e"/><rect x="55.58" y="164.50" width="8.41" height="1.65" fill="#f7b05e"/><rect x="63.94" y="164.50" width="8.41" height="1.65" fill="#fad58d"/><rect x="72.31" y="164.50" width="8.41" height="1.65" fill="#fad58d"/><rect x="80.67" y="164.50" width="8.41" height="1.65" fill="#90cfea"/><rect x="89.03" y="164.50" width="8.41" height="1.65" fill="#d4eded"/><rect x="97.39" y="164.50" width="8.41" height="1.65" fill="#d3eced"/><rect x="105.75" y="164.50" width="8.41" height="1.65" fill="#f3eecb"/><rect x="114.11" y="164.50" width="8.41" height="1.65" fill="#e9f3e7"/><rect x="122.47" y="164.50" width="8.41" height="1.65" fill="#fad791"/><rect x="130.83" y="164.50" width="8.41" height="1.65" fill="#f8e8b4"/><rect x="139.19" y="164.50" width="8.41" height="1.65" fill="#f8be6e"/><rect x="147.56" y="164.50" width="8.41" height="1.65" fill="#f27834"/><rect x="155.92" y="164.50" width="8.41" height="1.65" fill="#eff3df"/><rect x="164.28" y="164.50" width="8.41" height="1.65" fill="#f9c676"/><rect x="172.64" y="164.50" width="8.41" height="1.65" fill="#f6a755"/><rect x="30.50" y="166.10" width="8.41" height="1.65" fill="#f9c575"/><rect x="38.86" y="166.10" width="8.41" height="1.65" fill="#f38c40"/><rect x="47.22" y="166.10" width="8.41" height="1.65" fill="#f5a654"/><rect x="55.58" y="166.10" width="8.41" height="1.65" fill="#fad790"/><rect x="63.94" y="166.10" width="8.41" height="1.65" fill="#f8bf6f"/><rect x="72.31" y="166.10" width="8.41" height="1.65" fill="#fae5a9"/><rect x="80.67" y="166.10" width="8.41" height="1.65" fill="#a8daee"/><rect x="89.03" y="166.10" width="8.41" height="1.65" fill="#70b9e0"/><rect x="97.39" y="166.10" width="8.41" height="1.65" fill="#b9e3f1"/><rect x="105.75" y="166.10" width="8.41" height="1.65" fill="#c0e6f2"/><rect x="114.11" y="166.10" width="8.41" height="1.65" fill="#ddefeb"/><rect x="122.47" y="166.10" width="8.41" height="1.65" fill="#b0deef"/><rect x="130.83" y="166.10" width="8.41" height="1.65" fill="#f5a14f"/><rect x="139.19" y="166.10" width="8.41" height="1.65" fill="#f6ad5c"/><rect x="147.56" y="166.10" width="8.41" height="1.65" fill="#f9c373"/><rect x="155.92" y="166.10" width="8.41" height="1.65" fill="#fbe5a6"/><rect x="164.28" y="166.10" width="8.41" height="1.65" fill="#f8e8b5"/><rect x="172.64" y="166.10" width="8.41" height="1.65" fill="#face83"/><rect x="30.50" y="167.70" width="8.41" height="1.65" fill="#f9c575"/><rect x="38.86" y="167.70" width="8.41" height="1.65" fill="#f7eabb"/><rect x="47.22" y="167.70" width="8.41" height="1.65" fill="#f7b564"/><rect x="55.58" y="167.70" width="8.41" height="1.65" fill="#f0622e"/><rect x="63.94" y="167.70" width="8.41" height="1.65" fill="#f1f1d5"/><rect x="72.31" y="167.70" width="8.41" height="1.65" fill="#f7b362"/><rect x="80.67" y="167.70" width="8.41" height="1.65" fill="#d4eced"/><rect x="89.03" y="167.70" width="8.41" height="1.65" fill="#8acce8"/><rect x="97.39" y="167.70" width="8.41" height="1.65" fill="#f0f2db"/><rect x="105.75" y="167.70" width="8.41" height="1.65" fill="#82c6e6"/><rect x="114.11" y="167.70" width="8.41" height="1.65" fill="#d2eced"/><rect x="122.47" y="167.70" width="8.41" height="1.65" fill="#fad790"/><rect x="130.83" y="167.70" width="8.41" height="1.65" fill="#f8e7b1"/><rect x="139.19" y="167.70" width="8.41" height="1.65" fill="#fbe2a1"/><rect x="147.56" y="167.70" width="8.41" height="1.65" fill="#fad68f"/><rect x="155.92" y="167.70" width="8.41" height="1.65" fill="#f9e6ac"/><rect x="164.28" y="167.70" width="8.41" height="1.65" fill="#f7b766"/><rect x="172.64" y="167.70" width="8.41" height="1.65" fill="#f1f1d7"/><rect x="30.50" y="169.30" width="8.41" height="1.65" fill="#f7b766"/><rect x="38.86" y="169.30" width="8.41" height="1.65" fill="#fbdf9c"/><rect x="47.22" y="169.30" width="8.41" height="1.65" fill="#f7b767"/><rect x="55.58" y="169.30" width="8.41" height="1.65" fill="#f9c97a"/><rect x="63.94" y="169.30" width="8.41" height="1.65" fill="#e1f1e9"/><rect x="72.31" y="169.30" width="8.41" height="1.65" fill="#fad086"/><rect x="80.67" y="169.30" width="8.41" height="1.65" fill="#96d2ea"/><rect x="89.03" y="169.30" width="8.41" height="1.65" fill="#79c0e3"/><rect x="97.39" y="169.30" width="8.41" height="1.65" fill="#f3efcf"/><rect x="105.75" y="169.30" width="8.41" height="1.65" fill="#85c9e7"/><rect x="114.11" y="169.30" width="8.41" height="1.65" fill="#9dd5ec"/><rect x="122.47" y="169.30" width="8.41" height="1.65" fill="#fad891"/><rect x="130.83" y="169.30" width="8.41" height="1.65" fill="#fbe09f"/><rect x="139.19" y="169.30" width="8.41" height="1.65" fill="#f59f4e"/><rect x="147.56" y="169.30" width="8.41" height="1.65" fill="#fad085"/><rect x="155.92" y="169.30" width="8.41" height="1.65" fill="#f4eeca"/><rect x="164.28" y="169.30" width="8.41" height="1.65" fill="#f8e8b3"/><rect x="172.64" y="169.30" width="8.41" height="1.65" fill="#f7b666"/><rect x="30.50" y="170.90" width="8.41" height="1.65" fill="#f7b564"/><rect x="38.86" y="170.90" width="8.41" height="1.65" fill="#f6ae5d"/><rect x="47.22" y="170.90" width="8.41" height="1.65" fill="#f9ca7c"/><rect x="55.58" y="170.90" width="8.41" height="1.65" fill="#f9c97a"/><rect x="63.94" y="170.90" width="8.41" height="1.65" fill="#fada94"/><rect x="72.31" y="170.90" width="8.41" height="1.65" fill="#f49547"/><rect x="80.67" y="170.90" width="8.41" height="1.65" fill="#c6e8f0"/><rect x="89.03" y="170.90" width="8.41" height="1.65" fill="#56a5d8"/><rect x="97.39" y="170.90" width="8.41" height="1.65" fill="#aadbee"/><rect x="105.75" y="170.90" width="8.41" height="1.65" fill="#d6edec"/><rect x="114.11" y="170.90" width="8.41" height="1.65" fill="#e4f2e9"/><rect x="122.47" y="170.90" width="8.41" height="1.65" fill="#e3f1e9"/><rect x="130.83" y="170.90" width="8.41" height="1.65" fill="#f2f0d1"/><rect x="139.19" y="170.90" width="8.41" height="1.65" fill="#fad48c"/><rect x="147.56" y="170.90" width="8.41" height="1.65" fill="#e1f1e9"/><rect x="155.92" y="170.90" width="8.41" height="1.65" fill="#eef5e6"/><rect x="164.28" y="170.90" width="8.41" height="1.65" fill="#fad086"/><rect x="172.64" y="170.90" width="8.41" height="1.65" fill="#f7eaba"/><rect x="30.50" y="172.50" width="8.41" height="1.65" fill="#f9c677"/><rect x="38.86" y="172.50" width="8.41" height="1.65" fill="#f17432"/><rect x="47.22" y="172.50" width="8.41" height="1.65" fill="#f7b867"/><rect x="55.58" y="172.50" width="8.41" height="1.65" fill="#f9c575"/><rect x="63.94" y="172.50" width="8.41" height="1.65" fill="#f3883e"/><rect x="72.31" y="172.50" width="8.41" height="1.65" fill="#f8bd6d"/><rect x="80.67" y="172.50" width="8.41" height="1.65" fill="#b7e2f0"/><rect x="89.03" y="172.50" width="8.41" height="1.65" fill="#b1dfef"/><rect x="97.39" y="172.50" width="8.41" height="1.65" fill="#cfebee"/><rect x="105.75" y="172.50" width="8.41" height="1.65" fill="#92d0ea"/><rect x="114.11" y="172.50" width="8.41" height="1.65" fill="#ceebee"/><rect x="122.47" y="172.50" width="8.41" height="1.65" fill="#e2f1e9"/><rect x="130.83" y="172.50" width="8.41" height="1.65" fill="#cbeaef"/><rect x="139.19" y="172.50" width="8.41" height="1.65" fill="#fada95"/><rect x="147.56" y="172.50" width="8.41" height="1.65" fill="#fbe3a2"/><rect x="155.92" y="172.50" width="8.41" height="1.65" fill="#f9e6ac"/><rect x="164.28" y="172.50" width="8.41" height="1.65" fill="#d0ebee"/><rect x="172.64" y="172.50" width="8.41" height="1.65" fill="#f8e7b1"/><rect x="30.50" y="174.10" width="8.41" height="1.65" fill="#fad187"/><rect x="38.86" y="174.10" width="8.41" height="1.65" fill="#f6aa58"/><rect x="47.22" y="174.10" width="8.41" height="1.65" fill="#f9e6ad"/><rect x="55.58" y="174.10" width="8.41" height="1.65" fill="#f7b261"/><rect x="63.94" y="174.10" width="8.41" height="1.65" fill="#f8e8b2"/><rect x="72.31" y="174.10" width="8.41" height="1.65" fill="#fad68e"/><rect x="80.67" y="174.10" width="8.41" height="1.65" fill="#f1f1d5"/><rect x="89.03" y="174.10" width="8.41" height="1.65" fill="#6cb6df"/><rect x="97.39" y="174.10" width="8.41" height="1.65" fill="#a8dbee"/><rect x="105.75" y="174.10" width="8.41" height="1.65" fill="#e3f1e9"/><rect x="114.11" y="174.10" width="8.41" height="1.65" fill="#bce4f1"/><rect x="122.47" y="174.10" width="8.41" height="1.65" fill="#ddefea"/><rect x="130.83" y="174.10" width="8.41" height="1.65" fill="#fbdd9a"/><rect x="139.19" y="174.10" width="8.41" height="1.65" fill="#f7b160"/><rect x="147.56" y="174.10" width="8.41" height="1.65" fill="#ceebee"/><rect x="155.92" y="174.10" width="8.41" height="1.65" fill="#f4edc6"/><rect x="164.28" y="174.10" width="8.41" height="1.65" fill="#e7f3e8"/><rect x="172.64" y="174.10" width="8.41" height="1.65" fill="#eff4e3"/><rect x="30.50" y="175.70" width="8.41" height="1.65" fill="#fae5a8"/><rect x="38.86" y="175.70" width="8.41" height="1.65" fill="#fad086"/><rect x="47.22" y="175.70" width="8.41" height="1.65" fill="#f9c373"/><rect x="55.58" y="175.70" width="8.41" height="1.65" fill="#fbdd99"/><rect x="63.94" y="175.70" width="8.41" height="1.65" fill="#f9c879"/><rect x="72.31" y="175.70" width="8.41" height="1.65" fill="#f9c676"/><rect x="80.67" y="175.70" width="8.41" height="1.65" fill="#a5d9ed"/><rect x="89.03" y="175.70" width="8.41" height="1.65" fill="#95d1ea"/><rect x="97.39" y="175.70" width="8.41" height="1.65" fill="#f4edc8"/><rect x="105.75" y="175.70" width="8.41" height="1.65" fill="#c6e8f0"/><rect x="114.11" y="175.70" width="8.41" height="1.65" fill="#b1dfef"/><rect x="122.47" y="175.70" width="8.41" height="1.65" fill="#e6f2e8"/><rect x="130.83" y="175.70" width="8.41" height="1.65" fill="#eff4e2"/><rect x="139.19" y="175.70" width="8.41" height="1.65" fill="#f9cd80"/><rect x="147.56" y="175.70" width="8.41" height="1.65" fill="#f8be6e"/><rect x="155.92" y="175.70" width="8.41" height="1.65" fill="#f4edc5"/><rect x="164.28" y="175.70" width="8.41" height="1.65" fill="#f6eabd"/><rect x="172.64" y="175.70" width="8.41" height="1.65" fill="#f8bb6a"/><rect x="30.50" y="177.30" width="8.41" height="1.65" fill="#fbdd99"/><rect x="38.86" y="177.30" width="8.41" height="1.65" fill="#f5a654"/><rect x="47.22" y="177.30" width="8.41" height="1.65" fill="#fbe5a7"/><rect x="55.58" y="177.30" width="8.41" height="1.65" fill="#fadb96"/><rect x="63.94" y="177.30" width="8.41" height="1.65" fill="#fad892"/><rect x="72.31" y="177.30" width="8.41" height="1.65" fill="#f48f43"/><rect x="80.67" y="177.30" width="8.41" height="1.65" fill="#b5e1f0"/><rect x="89.03" y="177.30" width="8.41" height="1.65" fill="#75bde2"/><rect x="97.39" y="177.30" width="8.41" height="1.65" fill="#a7daed"/><rect x="105.75" y="177.30" width="8.41" height="1.65" fill="#b2dfef"/><rect x="114.11" y="177.30" width="8.41" height="1.65" fill="#e4f2e9"/><rect x="122.47" y="177.30" width="8.41" height="1.65" fill="#eef4e4"/><rect x="130.83" y="177.30" width="8.41" height="1.65" fill="#f5a04e"/><rect x="139.19" y="177.30" width="8.41" height="1.65" fill="#facf83"/><rect x="147.56" y="177.30" width="8.41" height="1.65" fill="#f6aa58"/><rect x="155.92" y="177.30" width="8.41" height="1.65" fill="#fad288"/><rect x="164.28" y="177.30" width="8.41" height="1.65" fill="#fad790"/><rect x="172.64" y="177.30" width="8.41" height="1.65" fill="#e4f2e8"/><rect x="30.50" y="178.90" width="8.41" height="1.65" fill="#fad38a"/><rect x="38.86" y="178.90" width="8.41" height="1.65" fill="#f7b160"/><rect x="47.22" y="178.90" width="8.41" height="1.65" fill="#fad187"/><rect x="55.58" y="178.90" width="8.41" height="1.65" fill="#f1f1d8"/><rect x="63.94" y="178.90" width="8.41" height="1.65" fill="#f7b260"/><rect x="72.31" y="178.90" width="8.41" height="1.65" fill="#fada94"/><rect x="80.67" y="178.90" width="8.41" height="1.65" fill="#b3e0f0"/><rect x="89.03" y="178.90" width="8.41" height="1.65" fill="#83c7e6"/><rect x="97.39" y="178.90" width="8.41" height="1.65" fill="#b6e1f0"/><rect x="105.75" y="178.90" width="8.41" height="1.65" fill="#c9e9f0"/><rect x="114.11" y="178.90" width="8.41" height="1.65" fill="#95d1ea"/><rect x="122.47" y="178.90" width="8.41" height="1.65" fill="#c6e8f0"/><rect x="130.83" y="178.90" width="8.41" height="1.65" fill="#fadb97"/><rect x="139.19" y="178.90" width="8.41" height="1.65" fill="#fad186"/><rect x="147.56" y="178.90" width="8.41" height="1.65" fill="#fae5a7"/><rect x="155.92" y="178.90" width="8.41" height="1.65" fill="#f8e8b4"/><rect x="164.28" y="178.90" width="8.41" height="1.65" fill="#eef5e6"/><rect x="172.64" y="178.90" width="8.41" height="1.65" fill="#fbe19f"/><rect x="30.50" y="180.50" width="8.41" height="1.65" fill="#f6af5d"/><rect x="38.86" y="180.50" width="8.41" height="1.65" fill="#fad790"/><rect x="47.22" y="180.50" width="8.41" height="1.65" fill="#f59e4d"/><rect x="55.58" y="180.50" width="8.41" height="1.65" fill="#f6ad5b"/><rect x="63.94" y="180.50" width="8.41" height="1.65" fill="#fad68f"/><rect x="72.31" y="180.50" width="8.41" height="1.65" fill="#f8bb6a"/><rect x="80.67" y="180.50" width="8.41" height="1.65" fill="#85c9e7"/><rect x="89.03" y="180.50" width="8.41" height="1.65" fill="#428fcd"/><rect x="97.39" y="180.50" width="8.41" height="1.65" fill="#86cae7"/><rect x="105.75" y="180.50" width="8.41" height="1.65" fill="#a7daed"/><rect x="114.11" y="180.50" width="8.41" height="1.65" fill="#bfe6f2"/><rect x="122.47" y="180.50" width="8.41" height="1.65" fill="#d5edec"/><rect x="130.83" y="180.50" width="8.41" height="1.65" fill="#fbe19f"/><rect x="139.19" y="180.50" width="8.41" height="1.65" fill="#d8eeec"/><rect x="147.56" y="180.50" width="8.41" height="1.65" fill="#f9cb7e"/><rect x="155.92" y="180.50" width="8.41" height="1.65" fill="#ebf4e7"/><rect x="164.28" y="180.50" width="8.41" height="1.65" fill="#f0f2db"/><rect x="172.64" y="180.50" width="8.41" height="1.65" fill="#f8e8b4"/><rect x="30.50" y="182.10" width="8.41" height="1.65" fill="#f7e9b8"/><rect x="38.86" y="182.10" width="8.41" height="1.65" fill="#fbe2a1"/><rect x="47.22" y="182.10" width="8.41" height="1.65" fill="#fbe4a4"/><rect x="55.58" y="182.10" width="8.41" height="1.65" fill="#f9c676"/><rect x="63.94" y="182.10" width="8.41" height="1.65" fill="#f8ba6a"/><rect x="72.31" y="182.10" width="8.41" height="1.65" fill="#f8c171"/><rect x="80.67" y="182.10" width="8.41" height="1.65" fill="#9ad4eb"/><rect x="89.03" y="182.10" width="8.41" height="1.65" fill="#68b3de"/><rect x="97.39" y="182.10" width="8.41" height="1.65" fill="#97d2eb"/><rect x="105.75" y="182.10" width="8.41" height="1.65" fill="#cbeaef"/><rect x="114.11" y="182.10" width="8.41" height="1.65" fill="#70b9e0"/><rect x="122.47" y="182.10" width="8.41" height="1.65" fill="#fbdf9d"/><rect x="130.83" y="182.10" width="8.41" height="1.65" fill="#f5ecc4"/><rect x="139.19" y="182.10" width="8.41" height="1.65" fill="#f7e9b7"/><rect x="147.56" y="182.10" width="8.41" height="1.65" fill="#fad085"/><rect x="155.92" y="182.10" width="8.41" height="1.65" fill="#f8b968"/><rect x="164.28" y="182.10" width="8.41" height="1.65" fill="#fbdf9c"/><rect x="172.64" y="182.10" width="8.41" height="1.65" fill="#f8be6e"/><rect x="30.50" y="183.70" width="8.41" height="1.65" fill="#f9cd80"/><rect x="38.86" y="183.70" width="8.41" height="1.65" fill="#f27533"/><rect x="47.22" y="183.70" width="8.41" height="1.65" fill="#f6a755"/><rect x="55.58" y="183.70" width="8.41" height="1.65" fill="#f9c87a"/><rect x="63.94" y="183.70" width="8.41" height="1.65" fill="#f5a14f"/><rect x="72.31" y="183.70" width="8.41" height="1.65" fill="#f9cc7f"/><rect x="80.67" y="183.70" width="8.41" height="1.65" fill="#c9e9f0"/><rect x="89.03" y="183.70" width="8.41" height="1.65" fill="#62aedc"/><rect x="97.39" y="183.70" width="8.41" height="1.65" fill="#b3e0f0"/><rect x="105.75" y="183.70" width="8.41" height="1.65" fill="#d7edec"/><rect x="114.11" y="183.70" width="8.41" height="1.65" fill="#93d0ea"/><rect x="122.47" y="183.70" width="8.41" height="1.65" fill="#f5ecc3"/><rect x="130.83" y="183.70" width="8.41" height="1.65" fill="#fada94"/><rect x="139.19" y="183.70" width="8.41" height="1.65" fill="#f9cd80"/><rect x="147.56" y="183.70" width="8.41" height="1.65" fill="#d0ebee"/><rect x="155.92" y="183.70" width="8.41" height="1.65" fill="#fbdd99"/><rect x="164.28" y="183.70" width="8.41" height="1.65" fill="#fad68e"/><rect x="172.64" y="183.70" width="8.41" height="1.65" fill="#f3eecb"/><rect x="30.50" y="185.30" width="8.41" height="1.65" fill="#f9c97a"/><rect x="38.86" y="185.30" width="8.41" height="1.65" fill="#f0f2db"/><rect x="47.22" y="185.30" width="8.41" height="1.65" fill="#f7b867"/><rect x="55.58" y="185.30" width="8.41" height="1.65" fill="#fadc97"/><rect x="63.94" y="185.30" width="8.41" height="1.65" fill="#f7b867"/><rect x="72.31" y="185.30" width="8.41" height="1.65" fill="#f0f3dd"/><rect x="80.67" y="185.30" width="8.41" height="1.65" fill="#f8e7b1"/><rect x="89.03" y="185.30" width="8.41" height="1.65" fill="#c2e7f1"/><rect x="97.39" y="185.30" width="8.41" height="1.65" fill="#f6ebbe"/><rect x="105.75" y="185.30" width="8.41" height="1.65" fill="#afdeef"/><rect x="114.11" y="185.30" width="8.41" height="1.65" fill="#d5edec"/><rect x="122.47" y="185.30" width="8.41" height="1.65" fill="#f5a452"/><rect x="130.83" y="185.30" width="8.41" height="1.65" fill="#f0f2db"/><rect x="139.19" y="185.30" width="8.41" height="1.65" fill="#f6eabd"/><rect x="147.56" y="185.30" width="8.41" height="1.65" fill="#f7e9b6"/><rect x="155.92" y="185.30" width="8.41" height="1.65" fill="#edf5e6"/><rect x="164.28" y="185.30" width="8.41" height="1.65" fill="#fad48c"/><rect x="172.64" y="185.30" width="8.41" height="1.65" fill="#f7b867"/><rect x="30.50" y="186.90" width="8.41" height="1.65" fill="#fbdd99"/><rect x="38.86" y="186.90" width="8.41" height="1.65" fill="#fbe3a3"/><rect x="47.22" y="186.90" width="8.41" height="1.65" fill="#f6a957"/><rect x="55.58" y="186.90" width="8.41" height="1.65" fill="#f6ab59"/><rect x="63.94" y="186.90" width="8.41" height="1.65" fill="#f8b969"/><rect x="72.31" y="186.90" width="8.41" height="1.65" fill="#f6af5e"/><rect x="80.67" y="186.90" width="8.41" height="1.65" fill="#cbeaef"/><rect x="89.03" y="186.90" width="8.41" height="1.65" fill="#c5e8f1"/><rect x="97.39" y="186.90" width="8.41" height="1.65" fill="#a6daed"/><rect x="105.75" y="186.90" width="8.41" height="1.65" fill="#97d2eb"/><rect x="114.11" y="186.90" width="8.41" height="1.65" fill="#fbe09d"/><rect x="122.47" y="186.90" width="8.41" height="1.65" fill="#def0ea"/><rect x="130.83" y="186.90" width="8.41" height="1.65" fill="#f49748"/><rect x="139.19" y="186.90" width="8.41" height="1.65" fill="#fad891"/><rect x="147.56" y="186.90" width="8.41" height="1.65" fill="#f3efce"/><rect x="155.92" y="186.90" width="8.41" height="1.65" fill="#f9cc7f"/><rect x="164.28" y="186.90" width="8.41" height="1.65" fill="#f8c171"/><rect x="172.64" y="186.90" width="8.41" height="1.65" fill="#fbdf9d"/><rect x="30.50" y="188.50" width="8.41" height="1.65" fill="#f9e7b0"/><rect x="38.86" y="188.50" width="8.41" height="1.65" fill="#f38139"/><rect x="47.22" y="188.50" width="8.41" height="1.65" fill="#f5a351"/><rect x="55.58" y="188.50" width="8.41" height="1.65" fill="#fad791"/><rect x="63.94" y="188.50" width="8.41" height="1.65" fill="#fbe3a3"/><rect x="72.31" y="188.50" width="8.41" height="1.65" fill="#f7b462"/><rect x="80.67" y="188.50" width="8.41" height="1.65" fill="#f0f2db"/><rect x="89.03" y="188.50" width="8.41" height="1.65" fill="#98d3eb"/><rect x="97.39" y="188.50" width="8.41" height="1.65" fill="#d3eced"/><rect x="105.75" y="188.50" width="8.41" height="1.65" fill="#b7e2f0"/><rect x="114.11" y="188.50" width="8.41" height="1.65" fill="#f2efcf"/><rect x="122.47" y="188.50" width="8.41" height="1.65" fill="#f4edc8"/><rect x="130.83" y="188.50" width="8.41" height="1.65" fill="#f8c170"/><rect x="139.19" y="188.50" width="8.41" height="1.65" fill="#f9c474"/><rect x="147.56" y="188.50" width="8.41" height="1.65" fill="#dbefeb"/><rect x="155.92" y="188.50" width="8.41" height="1.65" fill="#fad891"/><rect x="164.28" y="188.50" width="8.41" height="1.65" fill="#fbdd99"/><rect x="172.64" y="188.50" width="8.41" height="1.65" fill="#fbe09e"/><rect x="30.50" y="190.10" width="8.41" height="1.65" fill="#f6ad5c"/><rect x="38.86" y="190.10" width="8.41" height="1.65" fill="#f7b05f"/><rect x="47.22" y="190.10" width="8.41" height="1.65" fill="#fbe3a2"/><rect x="55.58" y="190.10" width="8.41" height="1.65" fill="#f7b05f"/><rect x="63.94" y="190.10" width="8.41" height="1.65" fill="#f8e8b3"/><rect x="72.31" y="190.10" width="8.41" height="1.65" fill="#e9f4e7"/><rect x="80.67" y="190.10" width="8.41" height="1.65" fill="#fbde9b"/><rect x="89.03" y="190.10" width="8.41" height="1.65" fill="#abdcee"/><rect x="97.39" y="190.10" width="8.41" height="1.65" fill="#d6edec"/><rect x="105.75" y="190.10" width="8.41" height="1.65" fill="#97d2eb"/><rect x="114.11" y="190.10" width="8.41" height="1.65" fill="#b7e2f0"/><rect x="122.47" y="190.10" width="8.41" height="1.65" fill="#cbeaef"/><rect x="130.83" y="190.10" width="8.41" height="1.65" fill="#f6eabc"/><rect x="139.19" y="190.10" width="8.41" height="1.65" fill="#facf84"/><rect x="147.56" y="190.10" width="8.41" height="1.65" fill="#c1e6f2"/><rect x="155.92" y="190.10" width="8.41" height="1.65" fill="#f9cd81"/><rect x="164.28" y="190.10" width="8.41" height="1.65" fill="#d1ebee"/><rect x="172.64" y="190.10" width="8.41" height="1.65" fill="#e0f1ea"/><rect x="30.50" y="191.70" width="8.41" height="1.65" fill="#f7b867"/><rect x="38.86" y="191.70" width="8.41" height="1.65" fill="#f49949"/><rect x="47.22" y="191.70" width="8.41" height="1.65" fill="#f5ecc2"/><rect x="55.58" y="191.70" width="8.41" height="1.65" fill="#f49346"/><rect x="63.94" y="191.70" width="8.41" height="1.65" fill="#fae5a7"/><rect x="72.31" y="191.70" width="8.41" height="1.65" fill="#f9ca7c"/><rect x="80.67" y="191.70" width="8.41" height="1.65" fill="#f1f1d7"/><rect x="89.03" y="191.70" width="8.41" height="1.65" fill="#f6eabb"/><rect x="97.39" y="191.70" width="8.41" height="1.65" fill="#d0ebee"/><rect x="105.75" y="191.70" width="8.41" height="1.65" fill="#f5ecc4"/><rect x="114.11" y="191.70" width="8.41" height="1.65" fill="#d0ebee"/><rect x="122.47" y="191.70" width="8.41" height="1.65" fill="#fad186"/><rect x="130.83" y="191.70" width="8.41" height="1.65" fill="#f1f1d6"/><rect x="139.19" y="191.70" width="8.41" height="1.65" fill="#fbe4a6"/><rect x="147.56" y="191.70" width="8.41" height="1.65" fill="#f5a654"/><rect x="155.92" y="191.70" width="8.41" height="1.65" fill="#fada95"/><rect x="164.28" y="191.70" width="8.41" height="1.65" fill="#f4edc9"/><rect x="172.64" y="191.70" width="8.41" height="1.65" fill="#f5a553"/><rect x="30.50" y="193.30" width="8.41" height="1.65" fill="#f8c171"/><rect x="38.86" y="193.30" width="8.41" height="1.65" fill="#f8bd6d"/><rect x="47.22" y="193.30" width="8.41" height="1.65" fill="#f7b665"/><rect x="55.58" y="193.30" width="8.41" height="1.65" fill="#f9e7ae"/><rect x="63.94" y="193.30" width="8.41" height="1.65" fill="#f7b05f"/><rect x="72.31" y="193.30" width="8.41" height="1.65" fill="#f6ae5c"/><rect x="80.67" y="193.30" width="8.41" height="1.65" fill="#d7edec"/><rect x="89.03" y="193.30" width="8.41" height="1.65" fill="#afdeef"/><rect x="97.39" y="193.30" width="8.41" height="1.65" fill="#eaf4e7"/><rect x="105.75" y="193.30" width="8.41" height="1.65" fill="#d8eeec"/><rect x="114.11" y="193.30" width="8.41" height="1.65" fill="#c7e8f0"/><rect x="122.47" y="193.30" width="8.41" height="1.65" fill="#fbe4a4"/><rect x="130.83" y="193.30" width="8.41" height="1.65" fill="#cae9ef"/><rect x="139.19" y="193.30" width="8.41" height="1.65" fill="#fae6ab"/><rect x="147.56" y="193.30" width="8.41" height="1.65" fill="#f6ebbf"/><rect x="155.92" y="193.30" width="8.41" height="1.65" fill="#f7e9b6"/><rect x="164.28" y="193.30" width="8.41" height="1.65" fill="#f6eabc"/><rect x="172.64" y="193.30" width="8.41" height="1.65" fill="#dbefeb"/><rect x="30.50" y="194.90" width="8.41" height="1.65" fill="#f8ba6a"/><rect x="38.86" y="194.90" width="8.41" height="1.65" fill="#f59e4d"/><rect x="47.22" y="194.90" width="8.41" height="1.65" fill="#fadb97"/><rect x="55.58" y="194.90" width="8.41" height="1.65" fill="#f7e9b8"/><rect x="63.94" y="194.90" width="8.41" height="1.65" fill="#f7e9b9"/><rect x="72.31" y="194.90" width="8.41" height="1.65" fill="#f9c778"/><rect x="80.67" y="194.90" width="8.41" height="1.65" fill="#c7e8f0"/><rect x="89.03" y="194.90" width="8.41" height="1.65" fill="#ceebee"/><rect x="97.39" y="194.90" width="8.41" height="1.65" fill="#fae6aa"/><rect x="105.75" y="194.90" width="8.41" height="1.65" fill="#f5ecc2"/><rect x="114.11" y="194.90" width="8.41" height="1.65" fill="#f9cb7e"/><rect x="122.47" y="194.90" width="8.41" height="1.65" fill="#eef5e6"/><rect x="130.83" y="194.90" width="8.41" height="1.65" fill="#ebf4e7"/><rect x="139.19" y="194.90" width="8.41" height="1.65" fill="#f8b969"/><rect x="147.56" y="194.90" width="8.41" height="1.65" fill="#fadb96"/><rect x="155.92" y="194.90" width="8.41" height="1.65" fill="#f9c271"/><rect x="164.28" y="194.90" width="8.41" height="1.65" fill="#f2efcf"/><rect x="172.64" y="194.90" width="8.41" height="1.65" fill="#f9ca7c"/><rect x="30.50" y="196.50" width="8.41" height="1.65" fill="#f7b362"/><rect x="38.86" y="196.50" width="8.41" height="1.65" fill="#f16c31"/><rect x="47.22" y="196.50" width="8.41" height="1.65" fill="#f8bd6c"/><rect x="55.58" y="196.50" width="8.41" height="1.65" fill="#f8c070"/><rect x="63.94" y="196.50" width="8.41" height="1.65" fill="#f9ca7c"/><rect x="72.31" y="196.50" width="8.41" height="1.65" fill="#f9ca7d"/><rect x="80.67" y="196.50" width="8.41" height="1.65" fill="#fbdf9d"/><rect x="89.03" y="196.50" width="8.41" height="1.65" fill="#b5e1f0"/><rect x="97.39" y="196.50" width="8.41" height="1.65" fill="#facf84"/><rect x="105.75" y="196.50" width="8.41" height="1.65" fill="#d3eced"/><rect x="114.11" y="196.50" width="8.41" height="1.65" fill="#fbe09d"/><rect x="122.47" y="196.50" width="8.41" height="1.65" fill="#f1f1d7"/><rect x="130.83" y="196.50" width="8.41" height="1.65" fill="#f8e8b4"/><rect x="139.19" y="196.50" width="8.41" height="1.65" fill="#f49346"/><rect x="147.56" y="196.50" width="8.41" height="1.65" fill="#f7e9b8"/><rect x="155.92" y="196.50" width="8.41" height="1.65" fill="#e4f2e8"/><rect x="164.28" y="196.50" width="8.41" height="1.65" fill="#e1f1e9"/><rect x="172.64" y="196.50" width="8.41" height="1.65" fill="#f3efcf"/><rect x="30.50" y="198.10" width="8.41" height="1.65" fill="#f3893e"/><rect x="38.86" y="198.10" width="8.41" height="1.65" fill="#f38a3f"/><rect x="47.22" y="198.10" width="8.41" height="1.65" fill="#f7b05f"/><rect x="55.58" y="198.10" width="8.41" height="1.65" fill="#fbe4a4"/><rect x="63.94" y="198.10" width="8.41" height="1.65" fill="#f9c778"/><rect x="72.31" y="198.10" width="8.41" height="1.65" fill="#f8be6d"/><rect x="80.67" y="198.10" width="8.41" height="1.65" fill="#f9c272"/><rect x="89.03" y="198.10" width="8.41" height="1.65" fill="#acdcee"/><rect x="97.39" y="198.10" width="8.41" height="1.65" fill="#f3efce"/><rect x="105.75" y="198.10" width="8.41" height="1.65" fill="#e3f1e9"/><rect x="114.11" y="198.10" width="8.41" height="1.65" fill="#c5e8f1"/><rect x="122.47" y="198.10" width="8.41" height="1.65" fill="#f2f0d1"/><rect x="130.83" y="198.10" width="8.41" height="1.65" fill="#f8e8b5"/><rect x="139.19" y="198.10" width="8.41" height="1.65" fill="#cceaef"/><rect x="147.56" y="198.10" width="8.41" height="1.65" fill="#fad288"/><rect x="155.92" y="198.10" width="8.41" height="1.65" fill="#fad48b"/><rect x="164.28" y="198.10" width="8.41" height="1.65" fill="#eaf4e7"/><rect x="172.64" y="198.10" width="8.41" height="1.65" fill="#d7edec"/><rect x="30.50" y="199.70" width="8.41" height="1.65" fill="#f59f4e"/><rect x="38.86" y="199.70" width="8.41" height="1.65" fill="#f3863d"/><rect x="47.22" y="199.70" width="8.41" height="1.65" fill="#f6ad5c"/><rect x="55.58" y="199.70" width="8.41" height="1.65" fill="#f5a250"/><rect x="63.94" y="199.70" width="8.41" height="1.65" fill="#fbdd99"/><rect x="72.31" y="199.70" width="8.41" height="1.65" fill="#f8ba69"/><rect x="80.67" y="199.70" width="8.41" height="1.65" fill="#e4f2e9"/><rect x="89.03" y="199.70" width="8.41" height="1.65" fill="#c9e9f0"/><rect x="97.39" y="199.70" width="8.41" height="1.65" fill="#dff0ea"/><rect x="105.75" y="199.70" width="8.41" height="1.65" fill="#d7edec"/><rect x="114.11" y="199.70" width="8.41" height="1.65" fill="#fadb96"/><rect x="122.47" y="199.70" width="8.41" height="1.65" fill="#f4edc6"/><rect x="130.83" y="199.70" width="8.41" height="1.65" fill="#f9e7ae"/><rect x="139.19" y="199.70" width="8.41" height="1.65" fill="#fbe2a1"/><rect x="147.56" y="199.70" width="8.41" height="1.65" fill="#fada94"/><rect x="155.92" y="199.70" width="8.41" height="1.65" fill="#eff3df"/><rect x="164.28" y="199.70" width="8.41" height="1.65" fill="#e8f3e8"/><rect x="172.64" y="199.70" width="8.41" height="1.65" fill="#f6ebbd"/><rect x="30.50" y="201.30" width="8.41" height="1.65" fill="#fad993"/><rect x="38.86" y="201.30" width="8.41" height="1.65" fill="#f49b4b"/><rect x="47.22" y="201.30" width="8.41" height="1.65" fill="#fada95"/><rect x="55.58" y="201.30" width="8.41" height="1.65" fill="#f38e42"/><rect x="63.94" y="201.30" width="8.41" height="1.65" fill="#f6aa59"/><rect x="72.31" y="201.30" width="8.41" height="1.65" fill="#f9c574"/><rect x="80.67" y="201.30" width="8.41" height="1.65" fill="#ecf4e7"/><rect x="89.03" y="201.30" width="8.41" height="1.65" fill="#fad38a"/><rect x="97.39" y="201.30" width="8.41" height="1.65" fill="#eff4e3"/><rect x="105.75" y="201.30" width="8.41" height="1.65" fill="#d4eced"/><rect x="114.11" y="201.30" width="8.41" height="1.65" fill="#f3efcf"/><rect x="122.47" y="201.30" width="8.41" height="1.65" fill="#f7e9b8"/><rect x="130.83" y="201.30" width="8.41" height="1.65" fill="#f7b766"/><rect x="139.19" y="201.30" width="8.41" height="1.65" fill="#fadb96"/><rect x="147.56" y="201.30" width="8.41" height="1.65" fill="#f59e4d"/><rect x="155.92" y="201.30" width="8.41" height="1.65" fill="#f0f3de"/><rect x="164.28" y="201.30" width="8.41" height="1.65" fill="#fbe3a3"/><rect x="172.64" y="201.30" width="8.41" height="1.65" fill="#e2f1e9"/><rect x="30.50" y="202.90" width="8.41" height="1.65" fill="#f49446"/><rect x="38.86" y="202.90" width="8.41" height="1.65" fill="#f5a654"/><rect x="47.22" y="202.90" width="8.41" height="1.65" fill="#f9cc80"/><rect x="55.58" y="202.90" width="8.41" height="1.65" fill="#f7b05f"/><rect x="63.94" y="202.90" width="8.41" height="1.65" fill="#f6ac5b"/><rect x="72.31" y="202.90" width="8.41" height="1.65" fill="#f8e8b5"/><rect x="80.67" y="202.90" width="8.41" height="1.65" fill="#e0f0ea"/><rect x="89.03" y="202.90" width="8.41" height="1.65" fill="#8acce8"/><rect x="97.39" y="202.90" width="8.41" height="1.65" fill="#e8f3e8"/><rect x="105.75" y="202.90" width="8.41" height="1.65" fill="#d3eced"/><rect x="114.11" y="202.90" width="8.41" height="1.65" fill="#e0f0ea"/><rect x="122.47" y="202.90" width="8.41" height="1.65" fill="#def0ea"/><rect x="130.83" y="202.90" width="8.41" height="1.65" fill="#f6ebbd"/><rect x="139.19" y="202.90" width="8.41" height="1.65" fill="#f6ebbf"/><rect x="147.56" y="202.90" width="8.41" height="1.65" fill="#fad48c"/><rect x="155.92" y="202.90" width="8.41" height="1.65" fill="#f7b362"/><rect x="164.28" y="202.90" width="8.41" height="1.65" fill="#b5e1f0"/><rect x="172.64" y="202.90" width="8.41" height="1.65" fill="#f5ecc2"/><rect x="30.50" y="204.50" width="8.41" height="1.65" fill="#fad58e"/><rect x="38.86" y="204.50" width="8.41" height="1.65" fill="#f27a34"/><rect x="47.22" y="204.50" width="8.41" height="1.65" fill="#fbe3a2"/><rect x="55.58" y="204.50" width="8.41" height="1.65" fill="#facf83"/><rect x="63.94" y="204.50" width="8.41" height="1.65" fill="#f8e7b1"/><rect x="72.31" y="204.50" width="8.41" height="1.65" fill="#f8bd6d"/><rect x="80.67" y="204.50" width="8.41" height="1.65" fill="#f0f3de"/><rect x="89.03" y="204.50" width="8.41" height="1.65" fill="#c5e8f1"/><rect x="97.39" y="204.50" width="8.41" height="1.65" fill="#eff3df"/><rect x="105.75" y="204.50" width="8.41" height="1.65" fill="#cdeaef"/><rect x="114.11" y="204.50" width="8.41" height="1.65" fill="#acdcee"/><rect x="122.47" y="204.50" width="8.41" height="1.65" fill="#fbe3a3"/><rect x="130.83" y="204.50" width="8.41" height="1.65" fill="#fadb97"/><rect x="139.19" y="204.50" width="8.41" height="1.65" fill="#fbdf9c"/><rect x="147.56" y="204.50" width="8.41" height="1.65" fill="#f9c677"/><rect x="155.92" y="204.50" width="8.41" height="1.65" fill="#f8be6e"/><rect x="164.28" y="204.50" width="8.41" height="1.65" fill="#d4eced"/><rect x="172.64" y="204.50" width="8.41" height="1.65" fill="#eaf4e7"/><rect x="30.50" y="206.10" width="8.41" height="1.65" fill="#f59d4d"/><rect x="38.86" y="206.10" width="8.41" height="1.65" fill="#ec4127"/><rect x="47.22" y="206.10" width="8.41" height="1.65" fill="#fbdd9a"/><rect x="55.58" y="206.10" width="8.41" height="1.65" fill="#f9e7ae"/><rect x="63.94" y="206.10" width="8.41" height="1.65" fill="#fbe09e"/><rect x="72.31" y="206.10" width="8.41" height="1.65" fill="#fadc98"/><rect x="80.67" y="206.10" width="8.41" height="1.65" fill="#aadcee"/><rect x="89.03" y="206.10" width="8.41" height="1.65" fill="#cdeaef"/><rect x="97.39" y="206.10" width="8.41" height="1.65" fill="#abdcee"/><rect x="105.75" y="206.10" width="8.41" height="1.65" fill="#a1d7ec"/><rect x="114.11" y="206.10" width="8.41" height="1.65" fill="#fbe2a1"/><rect x="122.47" y="206.10" width="8.41" height="1.65" fill="#def0ea"/><rect x="130.83" y="206.10" width="8.41" height="1.65" fill="#fae5a9"/><rect x="139.19" y="206.10" width="8.41" height="1.65" fill="#f9c778"/><rect x="147.56" y="206.10" width="8.41" height="1.65" fill="#f9cc7f"/><rect x="155.92" y="206.10" width="8.41" height="1.65" fill="#f7eaba"/><rect x="164.28" y="206.10" width="8.41" height="1.65" fill="#f3efcd"/><rect x="172.64" y="206.10" width="8.41" height="1.65" fill="#e9f3e7"/><rect x="30.50" y="207.70" width="8.41" height="1.65" fill="#f49648"/><rect x="38.86" y="207.70" width="8.41" height="1.65" fill="#f17032"/><rect x="47.22" y="207.70" width="8.41" height="1.65" fill="#fae5aa"/><rect x="55.58" y="207.70" width="8.41" height="1.65" fill="#f9cb7e"/><rect x="63.94" y="207.70" width="8.41" height="1.65" fill="#f8bd6c"/><rect x="72.31" y="207.70" width="8.41" height="1.65" fill="#f9c473"/><rect x="80.67" y="207.70" width="8.41" height="1.65" fill="#f8c171"/><rect x="89.03" y="207.70" width="8.41" height="1.65" fill="#f6ebbe"/><rect x="97.39" y="207.70" width="8.41" height="1.65" fill="#cdeaef"/><rect x="105.75" y="207.70" width="8.41" height="1.65" fill="#d3eced"/><rect x="114.11" y="207.70" width="8.41" height="1.65" fill="#b9e3f1"/><rect x="122.47" y="207.70" width="8.41" height="1.65" fill="#f6eabd"/><rect x="130.83" y="207.70" width="8.41" height="1.65" fill="#fbdf9d"/><rect x="139.19" y="207.70" width="8.41" height="1.65" fill="#f27834"/><rect x="147.56" y="207.70" width="8.41" height="1.65" fill="#fbe1a0"/><rect x="155.92" y="207.70" width="8.41" height="1.65" fill="#c8e9f0"/><rect x="164.28" y="207.70" width="8.41" height="1.65" fill="#e2f1e9"/><rect x="172.64" y="207.70" width="8.41" height="1.65" fill="#f8e8b3"/><rect x="30.50" y="209.30" width="8.41" height="1.65" fill="#f8e8b2"/><rect x="38.86" y="209.30" width="8.41" height="1.65" fill="#f8c06f"/><rect x="47.22" y="209.30" width="8.41" height="1.65" fill="#fad48c"/><rect x="55.58" y="209.30" width="8.41" height="1.65" fill="#f9c272"/><rect x="63.94" y="209.30" width="8.41" height="1.65" fill="#fad48c"/><rect x="72.31" y="209.30" width="8.41" height="1.65" fill="#fae5a9"/><rect x="80.67" y="209.30" width="8.41" height="1.65" fill="#fae5a9"/><rect x="89.03" y="209.30" width="8.41" height="1.65" fill="#b4e0f0"/><rect x="97.39" y="209.30" width="8.41" height="1.65" fill="#ceebee"/><rect x="105.75" y="209.30" width="8.41" height="1.65" fill="#98d3eb"/><rect x="114.11" y="209.30" width="8.41" height="1.65" fill="#ceebee"/><rect x="122.47" y="209.30" width="8.41" height="1.65" fill="#fbe1a0"/><rect x="130.83" y="209.30" width="8.41" height="1.65" fill="#d9eeec"/><rect x="139.19" y="209.30" width="8.41" height="1.65" fill="#fadc98"/><rect x="147.56" y="209.30" width="8.41" height="1.65" fill="#face83"/><rect x="155.92" y="209.30" width="8.41" height="1.65" fill="#f6eabd"/><rect x="164.28" y="209.30" width="8.41" height="1.65" fill="#f5ebc0"/><rect x="172.64" y="209.30" width="8.41" height="1.65" fill="#def0ea"/><rect x="30.50" y="210.90" width="8.41" height="1.65" fill="#f5a553"/><rect x="38.86" y="210.90" width="8.41" height="1.65" fill="#ef542a"/><rect x="47.22" y="210.90" width="8.41" height="1.65" fill="#f9c575"/><rect x="55.58" y="210.90" width="8.41" height="1.65" fill="#f3efce"/><rect x="63.94" y="210.90" width="8.41" height="1.65" fill="#f8e7b2"/><rect x="72.31" y="210.90" width="8.41" height="1.65" fill="#f7b564"/><rect x="80.67" y="210.90" width="8.41" height="1.65" fill="#f9c676"/><rect x="89.03" y="210.90" width="8.41" height="1.65" fill="#d7eeec"/><rect x="97.39" y="210.90" width="8.41" height="1.65" fill="#fbe09e"/><rect x="105.75" y="210.90" width="8.41" height="1.65" fill="#bee5f2"/><rect x="114.11" y="210.90" width="8.41" height="1.65" fill="#e6f3e8"/><rect x="122.47" y="210.90" width="8.41" height="1.65" fill="#f2efd0"/><rect x="130.83" y="210.90" width="8.41" height="1.65" fill="#fad791"/><rect x="139.19" y="210.90" width="8.41" height="1.65" fill="#e7f3e8"/><rect x="147.56" y="210.90" width="8.41" height="1.65" fill="#f9c879"/><rect x="155.92" y="210.90" width="8.41" height="1.65" fill="#f8ba6a"/><rect x="164.28" y="210.90" width="8.41" height="1.65" fill="#d2eced"/><rect x="172.64" y="210.90" width="8.41" height="1.65" fill="#d6edec"/><rect x="30.50" y="212.50" width="8.41" height="1.65" fill="#f8c171"/><rect x="38.86" y="212.50" width="8.41" height="1.65" fill="#f7b564"/><rect x="47.22" y="212.50" width="8.41" height="1.65" fill="#e9f3e7"/><rect x="55.58" y="212.50" width="8.41" height="1.65" fill="#f7b463"/><rect x="63.94" y="212.50" width="8.41" height="1.65" fill="#f9cc7f"/><rect x="72.31" y="212.50" width="8.41" height="1.65" fill="#fadc98"/><rect x="80.67" y="212.50" width="8.41" height="1.65" fill="#f7b564"/><rect x="89.03" y="212.50" width="8.41" height="1.65" fill="#d1ecee"/><rect x="97.39" y="212.50" width="8.41" height="1.65" fill="#c4e7f1"/><rect x="105.75" y="212.50" width="8.41" height="1.65" fill="#dbefeb"/><rect x="114.11" y="212.50" width="8.41" height="1.65" fill="#c4e7f1"/><rect x="122.47" y="212.50" width="8.41" height="1.65" fill="#dbefeb"/><rect x="130.83" y="212.50" width="8.41" height="1.65" fill="#fad892"/><rect x="139.19" y="212.50" width="8.41" height="1.65" fill="#f8e8b3"/><rect x="147.56" y="212.50" width="8.41" height="1.65" fill="#f5ecc2"/><rect x="155.92" y="212.50" width="8.41" height="1.65" fill="#f6ae5d"/><rect x="164.28" y="212.50" width="8.41" height="1.65" fill="#fbde9b"/><rect x="172.64" y="212.50" width="8.41" height="1.65" fill="#fad68e"/><rect x="30.50" y="214.10" width="8.41" height="1.65" fill="#f8bc6c"/><rect x="38.86" y="214.10" width="8.41" height="1.65" fill="#f27b35"/><rect x="47.22" y="214.10" width="8.41" height="1.65" fill="#f5a04f"/><rect x="55.58" y="214.10" width="8.41" height="1.65" fill="#f9cb7e"/><rect x="63.94" y="214.10" width="8.41" height="1.65" fill="#f4994a"/><rect x="72.31" y="214.10" width="8.41" height="1.65" fill="#f9e6ac"/><rect x="80.67" y="214.10" width="8.41" height="1.65" fill="#e4f2e9"/><rect x="89.03" y="214.10" width="8.41" height="1.65" fill="#8acce8"/><rect x="97.39" y="214.10" width="8.41" height="1.65" fill="#d5eded"/><rect x="105.75" y="214.10" width="8.41" height="1.65" fill="#ecf4e7"/><rect x="114.11" y="214.10" width="8.41" height="1.65" fill="#facf84"/><rect x="122.47" y="214.10" width="8.41" height="1.65" fill="#dff0ea"/><rect x="130.83" y="214.10" width="8.41" height="1.65" fill="#fbe4a4"/><rect x="139.19" y="214.10" width="8.41" height="1.65" fill="#fbe4a6"/><rect x="147.56" y="214.10" width="8.41" height="1.65" fill="#f1f1d5"/><rect x="155.92" y="214.10" width="8.41" height="1.65" fill="#e7f3e8"/><rect x="164.28" y="214.10" width="8.41" height="1.65" fill="#f3eecc"/><rect x="172.64" y="214.10" width="8.41" height="1.65" fill="#c9e9f0"/><rect x="30.50" y="215.70" width="8.41" height="1.65" fill="#fbe09e"/><rect x="38.86" y="215.70" width="8.41" height="1.65" fill="#f6ad5c"/><rect x="47.22" y="215.70" width="8.41" height="1.65" fill="#f1f1d7"/><rect x="55.58" y="215.70" width="8.41" height="1.65" fill="#e8f3e8"/><rect x="63.94" y="215.70" width="8.41" height="1.65" fill="#d9eeec"/><rect x="72.31" y="215.70" width="8.41" height="1.65" fill="#f6a756"/><rect x="80.67" y="215.70" width="8.41" height="1.65" fill="#daefeb"/><rect x="89.03" y="215.70" width="8.41" height="1.65" fill="#f49547"/><rect x="97.39" y="215.70" width="8.41" height="1.65" fill="#facf84"/><rect x="105.75" y="215.70" width="8.41" height="1.65" fill="#f8e8b5"/><rect x="114.11" y="215.70" width="8.41" height="1.65" fill="#e2f1e9"/><rect x="122.47" y="215.70" width="8.41" height="1.65" fill="#f9ca7b"/><rect x="130.83" y="215.70" width="8.41" height="1.65" fill="#fbe3a3"/><rect x="139.19" y="215.70" width="8.41" height="1.65" fill="#aeddef"/><rect x="147.56" y="215.70" width="8.41" height="1.65" fill="#b8e2f1"/><rect x="155.92" y="215.70" width="8.41" height="1.65" fill="#f1f1d7"/><rect x="164.28" y="215.70" width="8.41" height="1.65" fill="#c8e9f0"/><rect x="172.64" y="215.70" width="8.41" height="1.65" fill="#fada95"/><rect x="30.50" y="217.30" width="8.41" height="1.65" fill="#f2efd0"/><rect x="38.86" y="217.30" width="8.41" height="1.65" fill="#f49648"/><rect x="47.22" y="217.30" width="8.41" height="1.65" fill="#def0ea"/><rect x="55.58" y="217.30" width="8.41" height="1.65" fill="#f49044"/><rect x="63.94" y="217.30" width="8.41" height="1.65" fill="#f0f2dc"/><rect x="72.31" y="217.30" width="8.41" height="1.65" fill="#a8daee"/><rect x="80.67" y="217.30" width="8.41" height="1.65" fill="#f9e6ae"/><rect x="89.03" y="217.30" width="8.41" height="1.65" fill="#fada94"/><rect x="97.39" y="217.30" width="8.41" height="1.65" fill="#f49949"/><rect x="105.75" y="217.30" width="8.41" height="1.65" fill="#f8e8b3"/><rect x="114.11" y="217.30" width="8.41" height="1.65" fill="#fbe4a5"/><rect x="122.47" y="217.30" width="8.41" height="1.65" fill="#fad993"/><rect x="130.83" y="217.30" width="8.41" height="1.65" fill="#f9e7ae"/><rect x="139.19" y="217.30" width="8.41" height="1.65" fill="#d4eded"/><rect x="147.56" y="217.30" width="8.41" height="1.65" fill="#eff4e3"/><rect x="155.92" y="217.30" width="8.41" height="1.65" fill="#e0f1ea"/><rect x="164.28" y="217.30" width="8.41" height="1.65" fill="#aadcee"/><rect x="172.64" y="217.30" width="8.41" height="1.65" fill="#cfebee"/><rect x="30.50" y="218.90" width="8.41" height="1.65" fill="#fbe3a2"/><rect x="38.86" y="218.90" width="8.41" height="1.65" fill="#fad288"/><rect x="47.22" y="218.90" width="8.41" height="1.65" fill="#f7b766"/><rect x="55.58" y="218.90" width="8.41" height="1.65" fill="#d9eeec"/><rect x="63.94" y="218.90" width="8.41" height="1.65" fill="#f8b968"/><rect x="72.31" y="218.90" width="8.41" height="1.65" fill="#f9cd80"/><rect x="80.67" y="218.90" width="8.41" height="1.65" fill="#fae6ab"/><rect x="89.03" y="218.90" width="8.41" height="1.65" fill="#f6ebbe"/><rect x="97.39" y="218.90" width="8.41" height="1.65" fill="#f8e8b5"/><rect x="105.75" y="218.90" width="8.41" height="1.65" fill="#face83"/><rect x="114.11" y="218.90" width="8.41" height="1.65" fill="#f9ca7c"/><rect x="122.47" y="218.90" width="8.41" height="1.65" fill="#fbe4a4"/><rect x="130.83" y="218.90" width="8.41" height="1.65" fill="#f0f2dc"/><rect x="139.19" y="218.90" width="8.41" height="1.65" fill="#c1e6f2"/><rect x="147.56" y="218.90" width="8.41" height="1.65" fill="#cfebee"/><rect x="155.92" y="218.90" width="8.41" height="1.65" fill="#80c5e6"/><rect x="164.28" y="218.90" width="8.41" height="1.65" fill="#d9eeeb"/><rect x="172.64" y="218.90" width="8.41" height="1.65" fill="#d2eced"/><rect x="30.50" y="220.50" width="8.41" height="1.65" fill="#f5ecc4"/><rect x="38.86" y="220.50" width="8.41" height="1.65" fill="#f27934"/><rect x="47.22" y="220.50" width="8.41" height="1.65" fill="#f9cc7f"/><rect x="55.58" y="220.50" width="8.41" height="1.65" fill="#98d3eb"/><rect x="63.94" y="220.50" width="8.41" height="1.65" fill="#fbe3a2"/><rect x="72.31" y="220.50" width="8.41" height="1.65" fill="#cae9ef"/><rect x="80.67" y="220.50" width="8.41" height="1.65" fill="#f8bd6d"/><rect x="89.03" y="220.50" width="8.41" height="1.65" fill="#f0672f"/><rect x="97.39" y="220.50" width="8.41" height="1.65" fill="#f3eecc"/><rect x="105.75" y="220.50" width="8.41" height="1.65" fill="#fadc98"/><rect x="114.11" y="220.50" width="8.41" height="1.65" fill="#f7e9b7"/><rect x="122.47" y="220.50" width="8.41" height="1.65" fill="#fbe2a1"/><rect x="130.83" y="220.50" width="8.41" height="1.65" fill="#e5f2e8"/><rect x="139.19" y="220.50" width="8.41" height="1.65" fill="#f9e7af"/><rect x="147.56" y="220.50" width="8.41" height="1.65" fill="#97d2eb"/><rect x="155.92" y="220.50" width="8.41" height="1.65" fill="#f9e7af"/><rect x="164.28" y="220.50" width="8.41" height="1.65" fill="#8bcde9"/><rect x="172.64" y="220.50" width="8.41" height="1.65" fill="#d7edec"/><rect x="30.50" y="222.10" width="8.41" height="1.65" fill="#f8b969"/><rect x="38.86" y="222.10" width="8.41" height="1.65" fill="#f48e42"/><rect x="47.22" y="222.10" width="8.41" height="1.65" fill="#ebf4e7"/><rect x="55.58" y="222.10" width="8.41" height="1.65" fill="#f0f2da"/><rect x="63.94" y="222.10" width="8.41" height="1.65" fill="#f4edc8"/><rect x="72.31" y="222.10" width="8.41" height="1.65" fill="#f6ebbe"/><rect x="80.67" y="222.10" width="8.41" height="1.65" fill="#f8ba69"/><rect x="89.03" y="222.10" width="8.41" height="1.65" fill="#eef5e6"/><rect x="97.39" y="222.10" width="8.41" height="1.65" fill="#fad48b"/><rect x="105.75" y="222.10" width="8.41" height="1.65" fill="#f9ca7c"/><rect x="114.11" y="222.10" width="8.41" height="1.65" fill="#fad086"/><rect x="122.47" y="222.10" width="8.41" height="1.65" fill="#fbde9a"/><rect x="130.83" y="222.10" width="8.41" height="1.65" fill="#f8e8b3"/><rect x="139.19" y="222.10" width="8.41" height="1.65" fill="#ebf4e7"/><rect x="147.56" y="222.10" width="8.41" height="1.65" fill="#e8f3e8"/><rect x="155.92" y="222.10" width="8.41" height="1.65" fill="#e2f1e9"/><rect x="164.28" y="222.10" width="8.41" height="1.65" fill="#f6ebbf"/><rect x="172.64" y="222.10" width="8.41" height="1.65" fill="#6eb8e0"/><rect x="30.50" y="223.70" width="8.41" height="1.65" fill="#f7b463"/><rect x="38.86" y="223.70" width="8.41" height="1.65" fill="#f8b968"/><rect x="47.22" y="223.70" width="8.41" height="1.65" fill="#f7eaba"/><rect x="55.58" y="223.70" width="8.41" height="1.65" fill="#e9f4e7"/><rect x="63.94" y="223.70" width="8.41" height="1.65" fill="#c5e8f1"/><rect x="72.31" y="223.70" width="8.41" height="1.65" fill="#f1f1d7"/><rect x="80.67" y="223.70" width="8.41" height="1.65" fill="#f1f2d9"/><rect x="89.03" y="223.70" width="8.41" height="1.65" fill="#f9c373"/><rect x="97.39" y="223.70" width="8.41" height="1.65" fill="#d5edec"/><rect x="105.75" y="223.70" width="8.41" height="1.65" fill="#f6a856"/><rect x="114.11" y="223.70" width="8.41" height="1.65" fill="#fada95"/><rect x="122.47" y="223.70" width="8.41" height="1.65" fill="#f3efcd"/><rect x="130.83" y="223.70" width="8.41" height="1.65" fill="#abdcee"/><rect x="139.19" y="223.70" width="8.41" height="1.65" fill="#b5e1f0"/><rect x="147.56" y="223.70" width="8.41" height="1.65" fill="#90cfe9"/><rect x="155.92" y="223.70" width="8.41" height="1.65" fill="#b3e0f0"/><rect x="164.28" y="223.70" width="8.41" height="1.65" fill="#b9e3f1"/><rect x="172.64" y="223.70" width="8.41" height="1.65" fill="#c4e7f1"/><rect x="30.50" y="225.30" width="8.41" height="1.65" fill="#d8eeec"/><rect x="38.86" y="225.30" width="8.41" height="1.65" fill="#f8b968"/><rect x="47.22" y="225.30" width="8.41" height="1.65" fill="#edf5e6"/><rect x="55.58" y="225.30" width="8.41" height="1.65" fill="#fbde9b"/><rect x="63.94" y="225.30" width="8.41" height="1.65" fill="#f49b4b"/><rect x="72.31" y="225.30" width="8.41" height="1.65" fill="#fad892"/><rect x="80.67" y="225.30" width="8.41" height="1.65" fill="#f6eabc"/><rect x="89.03" y="225.30" width="8.41" height="1.65" fill="#e0f1ea"/><rect x="97.39" y="225.30" width="8.41" height="1.65" fill="#d8eeec"/><rect x="105.75" y="225.30" width="8.41" height="1.65" fill="#d2eced"/><rect x="114.11" y="225.30" width="8.41" height="1.65" fill="#f9cb7d"/><rect x="122.47" y="225.30" width="8.41" height="1.65" fill="#e6f2e8"/><rect x="130.83" y="225.30" width="8.41" height="1.65" fill="#ceebee"/><rect x="139.19" y="225.30" width="8.41" height="1.65" fill="#bee5f2"/><rect x="147.56" y="225.30" width="8.41" height="1.65" fill="#c9e9f0"/><rect x="155.92" y="225.30" width="8.41" height="1.65" fill="#f6eabc"/><rect x="164.28" y="225.30" width="8.41" height="1.65" fill="#97d2eb"/><rect x="172.64" y="225.30" width="8.41" height="1.65" fill="#bde5f2"/><rect x="30.50" y="226.90" width="8.41" height="1.65" fill="#eff4e2"/><rect x="38.86" y="226.90" width="8.41" height="1.65" fill="#f3873d"/><rect x="47.22" y="226.90" width="8.41" height="1.65" fill="#e7f3e8"/><rect x="55.58" y="226.90" width="8.41" height="1.65" fill="#e3f1e9"/><rect x="63.94" y="226.90" width="8.41" height="1.65" fill="#d9eeec"/><rect x="72.31" y="226.90" width="8.41" height="1.65" fill="#cceaef"/><rect x="80.67" y="226.90" width="8.41" height="1.65" fill="#fad48b"/><rect x="89.03" y="226.90" width="8.41" height="1.65" fill="#f0622e"/><rect x="97.39" y="226.90" width="8.41" height="1.65" fill="#e8f3e7"/><rect x="105.75" y="226.90" width="8.41" height="1.65" fill="#f8bc6b"/><rect x="114.11" y="226.90" width="8.41" height="1.65" fill="#fadb97"/><rect x="122.47" y="226.90" width="8.41" height="1.65" fill="#d9eeec"/><rect x="130.83" y="226.90" width="8.41" height="1.65" fill="#c0e6f2"/><rect x="139.19" y="226.90" width="8.41" height="1.65" fill="#ceeaee"/><rect x="147.56" y="226.90" width="8.41" height="1.65" fill="#a5d9ed"/><rect x="155.92" y="226.90" width="8.41" height="1.65" fill="#fadc98"/><rect x="164.28" y="226.90" width="8.41" height="1.65" fill="#57a6d8"/><rect x="172.64" y="226.90" width="8.41" height="1.65" fill="#dbefeb"/><rect x="30.50" y="228.50" width="8.41" height="1.65" fill="#fad892"/><rect x="38.86" y="228.50" width="8.41" height="1.65" fill="#f9c676"/><rect x="47.22" y="228.50" width="8.41" height="1.65" fill="#fbdf9c"/><rect x="55.58" y="228.50" width="8.41" height="1.65" fill="#f9c575"/><rect x="63.94" y="228.50" width="8.41" height="1.65" fill="#fbdf9c"/><rect x="72.31" y="228.50" width="8.41" height="1.65" fill="#fbdf9d"/><rect x="80.67" y="228.50" width="8.41" height="1.65" fill="#f9cc7f"/><rect x="89.03" y="228.50" width="8.41" height="1.65" fill="#d0ebee"/><rect x="97.39" y="228.50" width="8.41" height="1.65" fill="#f6ac5a"/><rect x="105.75" y="228.50" width="8.41" height="1.65" fill="#f38139"/><rect x="114.11" y="228.50" width="8.41" height="1.65" fill="#f8c171"/><rect x="122.47" y="228.50" width="8.41" height="1.65" fill="#f9cb7d"/><rect x="130.83" y="228.50" width="8.41" height="1.65" fill="#89cbe8"/><rect x="139.19" y="228.50" width="8.41" height="1.65" fill="#d2eced"/><rect x="147.56" y="228.50" width="8.41" height="1.65" fill="#9fd6ec"/><rect x="155.92" y="228.50" width="8.41" height="1.65" fill="#b1dfef"/><rect x="164.28" y="228.50" width="8.41" height="1.65" fill="#e1f1e9"/><rect x="172.64" y="228.50" width="8.41" height="1.65" fill="#a7daed"/></g><rect x="21" y="31.7" width="8.8" height="184" fill="#e8380f"/><rect x="21" y="215.7" width="8.8" height="14" fill="#36278c"/><text transform="translate(27.6,138) rotate(-90)" font-size="7.8" fill="#fff" textLength="29" lengthAdjust="spacingAndGlyphs">D0 vs D7</text><text transform="translate(8.4,243.8) rotate(-90)" font-size="9.6" fill="#222" textLength="41.3" lengthAdjust="spacingAndGlyphs">D0 vs Post</text><line x1="10.2" y1="223.4" x2="18.4" y2="223.4" stroke="#111" stroke-width="1" marker-end="url(#ar)"/><line x1="181.9" y1="31.7" x2="181.9" y2="137" stroke="#555" stroke-width="1.2"/><line x1="182.3" y1="84.3" x2="191.5" y2="84.3" stroke="#111" stroke-width="0.9" marker-end="url(#ar)"/><text x="195" y="39.70" font-size="7.3" text-anchor="start" fill="#222" stroke="#222" >CISH</text><text x="195" y="48.32" font-size="7.3" text-anchor="start" fill="#222" stroke="#222" >SOCS2</text><text x="195" y="56.94" font-size="7.3" text-anchor="start" fill="#222" stroke="#222" >SOCS3</text><text x="195" y="65.56" font-size="7.3" text-anchor="start" fill="#222" stroke="#222" >MKI67</text><text x="195" y="74.18" font-size="7.3" text-anchor="start" fill="#222" stroke="#222" >PKMYT1</text><text x="195" y="82.80" font-size="7.3" text-anchor="start" fill="#222" stroke="#222" >BUB1B</text><text x="195" y="91.42" font-size="7.3" text-anchor="start" fill="#222" stroke="#222" >E2F2</text><text x="195" y="100.04" font-size="7.3" text-anchor="start" fill="#222" stroke="#222" >CCNB2</text><text x="195" y="108.66" font-size="7.3" text-anchor="start" fill="#222" stroke="#222" >CDC45</text><text x="195" y="117.28" font-size="7.3" text-anchor="start" fill="#222" stroke="#222" >E2F1</text><text x="195" y="125.90" font-size="7.3" text-anchor="start" fill="#222" stroke="#222" >GADD45A</text><text x="195" y="134.52" font-size="7.3" text-anchor="start" fill="#222" stroke="#222" >CDKN2C</text><text x="195" y="143.14" font-size="7.3" text-anchor="start" fill="#222" stroke="#222" >CDK6</text><text x="195" y="151.76" font-size="7.3" text-anchor="start" fill="#222" stroke="#222" >PCNA</text><rect x="188" y="222.2" width="43.2" height="7.4" fill="url(#cb)" stroke="#222" stroke-width="0.6"/><text x="188.2" y="220.3" font-size="7.6" text-anchor="middle" fill="#222" stroke="#222" >−2</text><text x="198.2" y="220.3" font-size="7.6" text-anchor="middle" fill="#222" stroke="#222" >−1</text><text x="209.5" y="220.3" font-size="7.6" text-anchor="middle" fill="#222" stroke="#222" >0</text><text x="220.4" y="220.3" font-size="7.6" text-anchor="middle" fill="#222" stroke="#222" >1</text><text x="230.2" y="220.3" font-size="7.6" text-anchor="middle" fill="#222" stroke="#222" >2</text><text transform="translate(30.23,234) rotate(90)" font-size="8.2" fill="#222" stroke="#222" textLength="17.3" lengthAdjust="spacingAndGlyphs">S203</text><text transform="translate(38.59,234) rotate(90)" font-size="8.2" fill="#222" stroke="#222" textLength="17.3" lengthAdjust="spacingAndGlyphs">S214</text><text transform="translate(46.95,234) rotate(90)" font-size="8.2" fill="#222" stroke="#222" textLength="17.3" lengthAdjust="spacingAndGlyphs">S216</text><text transform="translate(55.31,234) rotate(90)" font-size="8.2" fill="#222" stroke="#222" textLength="17.3" lengthAdjust="spacingAndGlyphs">S302</text><text transform="translate(63.67,234) rotate(90)" font-size="8.2" fill="#222" stroke="#222" textLength="17.3" lengthAdjust="spacingAndGlyphs">S306</text><text transform="translate(72.03,234) rotate(90)" font-size="8.2" fill="#222" stroke="#222" textLength="17.3" lengthAdjust="spacingAndGlyphs">S313</text><text transform="translate(80.40,234) rotate(90)" font-size="8.2" fill="#222" stroke="#222" textLength="17.3" lengthAdjust="spacingAndGlyphs">S203</text><text transform="translate(88.76,234) rotate(90)" font-size="8.2" fill="#222" stroke="#222" textLength="17.3" lengthAdjust="spacingAndGlyphs">S214</text><text transform="translate(97.12,234) rotate(90)" font-size="8.2" fill="#222" stroke="#222" textLength="17.3" lengthAdjust="spacingAndGlyphs">S216</text><text transform="translate(105.48,234) rotate(90)" font-size="8.2" fill="#222" stroke="#222" textLength="17.3" lengthAdjust="spacingAndGlyphs">S302</text><text transform="translate(113.84,234) rotate(90)" font-size="8.2" fill="#222" stroke="#222" textLength="17.3" lengthAdjust="spacingAndGlyphs">S306</text><text transform="translate(122.20,234) rotate(90)" font-size="8.2" fill="#222" stroke="#222" textLength="17.3" lengthAdjust="spacingAndGlyphs">S313</text><text transform="translate(130.56,234) rotate(90)" font-size="8.2" fill="#222" stroke="#222" textLength="17.3" lengthAdjust="spacingAndGlyphs">S203</text><text transform="translate(138.92,234) rotate(90)" font-size="8.2" fill="#222" stroke="#222" textLength="17.3" lengthAdjust="spacingAndGlyphs">S214</text><text transform="translate(147.28,234) rotate(90)" font-size="8.2" fill="#222" stroke="#222" textLength="17.3" lengthAdjust="spacingAndGlyphs">S216</text><text transform="translate(155.65,234) rotate(90)" font-size="8.2" fill="#222" stroke="#222" textLength="17.3" lengthAdjust="spacingAndGlyphs">S302</text><text transform="translate(164.01,234) rotate(90)" font-size="8.2" fill="#222" stroke="#222" textLength="17.3" lengthAdjust="spacingAndGlyphs">S306</text><text transform="translate(172.37,234) rotate(90)" font-size="8.2" fill="#222" stroke="#222" textLength="17.3" lengthAdjust="spacingAndGlyphs">S313</text><text x="0.4" y="278.6" font-size="12" text-anchor="start" fill="#000" stroke="#000" font-weight="bold" >B</text><text x="33" y="279.3" font-size="9.6" text-anchor="start" fill="#222" stroke="#222" >Memory CD8<tspan font-size="6" dy="-3.5">+</tspan><tspan dy="3.5"> T cells</tspan></text><rect x="32.70" y="285.8" width="50.05" height="11.899999999999977" fill="#161616"/><text x="57.72" y="294.56" font-size="7.8" text-anchor="middle" fill="#fff" stroke="none" >D0</text><rect x="82.75" y="285.8" width="50.05" height="11.899999999999977" fill="#e8380f"/><text x="107.77" y="294.56" font-size="7.8" text-anchor="middle" fill="#fff" stroke="none" >D7</text><rect x="132.79" y="285.8" width="41.71" height="11.899999999999977" fill="#36278c"/><text x="153.65" y="294.56" font-size="7.8" text-anchor="middle" fill="#fff" stroke="none" >Post</text><g filter="url(#bl)" shape-rendering="crispEdges"><rect x="32.70" y="298.60" width="8.39" height="2.05" fill="#a5d9ed"/><rect x="41.04" y="298.60" width="8.39" height="2.05" fill="#57a6d8"/><rect x="49.38" y="298.60" width="8.39" height="2.05" fill="#7fc4e5"/><rect x="57.72" y="298.60" width="8.39" height="2.05" fill="#b6e1f0"/><rect x="66.06" y="298.60" width="8.39" height="2.05" fill="#88cbe8"/><rect x="74.41" y="298.60" width="8.39" height="2.05" fill="#80c5e5"/><rect x="82.75" y="298.60" width="8.39" height="2.05" fill="#f27d36"/><rect x="91.09" y="298.60" width="8.39" height="2.05" fill="#fbde9b"/><rect x="99.43" y="298.60" width="8.39" height="2.05" fill="#f9e7ae"/><rect x="107.77" y="298.60" width="8.39" height="2.05" fill="#fad389"/><rect x="116.11" y="298.60" width="8.39" height="2.05" fill="#f3893f"/><rect x="124.45" y="298.60" width="8.39" height="2.05" fill="#f17432"/><rect x="132.79" y="298.60" width="8.39" height="2.05" fill="#eff3df"/><rect x="141.14" y="298.60" width="8.39" height="2.05" fill="#adddef"/><rect x="149.48" y="298.60" width="8.39" height="2.05" fill="#e6f2e8"/><rect x="157.82" y="298.60" width="8.39" height="2.05" fill="#fbe1a0"/><rect x="166.16" y="298.60" width="8.39" height="2.05" fill="#c4e7f1"/><rect x="32.70" y="300.60" width="8.39" height="2.05" fill="#e9f3e7"/><rect x="41.04" y="300.60" width="8.39" height="2.05" fill="#f0f2dc"/><rect x="49.38" y="300.60" width="8.39" height="2.05" fill="#8bcde9"/><rect x="57.72" y="300.60" width="8.39" height="2.05" fill="#cfebee"/><rect x="66.06" y="300.60" width="8.39" height="2.05" fill="#cdeaef"/><rect x="74.41" y="300.60" width="8.39" height="2.05" fill="#e8f3e8"/><rect x="82.75" y="300.60" width="8.39" height="2.05" fill="#fbde9b"/><rect x="91.09" y="300.60" width="8.39" height="2.05" fill="#f49144"/><rect x="99.43" y="300.60" width="8.39" height="2.05" fill="#fad68e"/><rect x="107.77" y="300.60" width="8.39" height="2.05" fill="#fad188"/><rect x="116.11" y="300.60" width="8.39" height="2.05" fill="#f7b15f"/><rect x="124.45" y="300.60" width="8.39" height="2.05" fill="#f9c778"/><rect x="132.79" y="300.60" width="8.39" height="2.05" fill="#b3e0f0"/><rect x="141.14" y="300.60" width="8.39" height="2.05" fill="#7ac1e4"/><rect x="149.48" y="300.60" width="8.39" height="2.05" fill="#ceebee"/><rect x="157.82" y="300.60" width="8.39" height="2.05" fill="#fad288"/><rect x="166.16" y="300.60" width="8.39" height="2.05" fill="#f7b05f"/><rect x="32.70" y="302.60" width="8.39" height="2.05" fill="#c9e9f0"/><rect x="41.04" y="302.60" width="8.39" height="2.05" fill="#eaf4e7"/><rect x="49.38" y="302.60" width="8.39" height="2.05" fill="#6cb6df"/><rect x="57.72" y="302.60" width="8.39" height="2.05" fill="#aeddef"/><rect x="66.06" y="302.60" width="8.39" height="2.05" fill="#b9e3f1"/><rect x="74.41" y="302.60" width="8.39" height="2.05" fill="#6cb6df"/><rect x="82.75" y="302.60" width="8.39" height="2.05" fill="#fbdd99"/><rect x="91.09" y="302.60" width="8.39" height="2.05" fill="#f7b766"/><rect x="99.43" y="302.60" width="8.39" height="2.05" fill="#fad48b"/><rect x="107.77" y="302.60" width="8.39" height="2.05" fill="#fada94"/><rect x="116.11" y="302.60" width="8.39" height="2.05" fill="#f6a755"/><rect x="124.45" y="302.60" width="8.39" height="2.05" fill="#f9c87a"/><rect x="132.79" y="302.60" width="8.39" height="2.05" fill="#fbe3a3"/><rect x="141.14" y="302.60" width="8.39" height="2.05" fill="#d1ecee"/><rect x="149.48" y="302.60" width="8.39" height="2.05" fill="#ecf4e7"/><rect x="157.82" y="302.60" width="8.39" height="2.05" fill="#e8f3e7"/><rect x="166.16" y="302.60" width="8.39" height="2.05" fill="#e6f2e8"/><rect x="32.70" y="304.60" width="8.39" height="2.05" fill="#8acce8"/><rect x="41.04" y="304.60" width="8.39" height="2.05" fill="#a5d9ed"/><rect x="49.38" y="304.60" width="8.39" height="2.05" fill="#adddef"/><rect x="57.72" y="304.60" width="8.39" height="2.05" fill="#cfebee"/><rect x="66.06" y="304.60" width="8.39" height="2.05" fill="#e3f1e9"/><rect x="74.41" y="304.60" width="8.39" height="2.05" fill="#4b9dd4"/><rect x="82.75" y="304.60" width="8.39" height="2.05" fill="#f9cc7f"/><rect x="91.09" y="304.60" width="8.39" height="2.05" fill="#f9c878"/><rect x="99.43" y="304.60" width="8.39" height="2.05" fill="#f9c676"/><rect x="107.77" y="304.60" width="8.39" height="2.05" fill="#f9c97a"/><rect x="116.11" y="304.60" width="8.39" height="2.05" fill="#f9c575"/><rect x="124.45" y="304.60" width="8.39" height="2.05" fill="#f5a654"/><rect x="132.79" y="304.60" width="8.39" height="2.05" fill="#ebf4e7"/><rect x="141.14" y="304.60" width="8.39" height="2.05" fill="#94d1ea"/><rect x="149.48" y="304.60" width="8.39" height="2.05" fill="#f9c272"/><rect x="157.82" y="304.60" width="8.39" height="2.05" fill="#fbe4a4"/><rect x="166.16" y="304.60" width="8.39" height="2.05" fill="#d4eced"/><rect x="32.70" y="306.60" width="8.39" height="2.05" fill="#d0ebee"/><rect x="41.04" y="306.60" width="8.39" height="2.05" fill="#95d1ea"/><rect x="49.38" y="306.60" width="8.39" height="2.05" fill="#bfe6f2"/><rect x="57.72" y="306.60" width="8.39" height="2.05" fill="#a7daee"/><rect x="66.06" y="306.60" width="8.39" height="2.05" fill="#83c7e6"/><rect x="74.41" y="306.60" width="8.39" height="2.05" fill="#92d0ea"/><rect x="82.75" y="306.60" width="8.39" height="2.05" fill="#fad68f"/><rect x="91.09" y="306.60" width="8.39" height="2.05" fill="#f7b463"/><rect x="99.43" y="306.60" width="8.39" height="2.05" fill="#f9c676"/><rect x="107.77" y="306.60" width="8.39" height="2.05" fill="#f8b968"/><rect x="116.11" y="306.60" width="8.39" height="2.05" fill="#f9c777"/><rect x="124.45" y="306.60" width="8.39" height="2.05" fill="#c3e7f1"/><rect x="132.79" y="306.60" width="8.39" height="2.05" fill="#e7f3e8"/><rect x="141.14" y="306.60" width="8.39" height="2.05" fill="#68b3de"/><rect x="149.48" y="306.60" width="8.39" height="2.05" fill="#f7eabb"/><rect x="157.82" y="306.60" width="8.39" height="2.05" fill="#fbdf9c"/><rect x="166.16" y="306.60" width="8.39" height="2.05" fill="#f3efce"/><rect x="32.70" y="308.60" width="8.39" height="2.05" fill="#98d3eb"/><rect x="41.04" y="308.60" width="8.39" height="2.05" fill="#b0deef"/><rect x="49.38" y="308.60" width="8.39" height="2.05" fill="#81c6e6"/><rect x="57.72" y="308.60" width="8.39" height="2.05" fill="#97d2eb"/><rect x="66.06" y="308.60" width="8.39" height="2.05" fill="#8ecee9"/><rect x="74.41" y="308.60" width="8.39" height="2.05" fill="#75bde2"/><rect x="82.75" y="308.60" width="8.39" height="2.05" fill="#f49748"/><rect x="91.09" y="308.60" width="8.39" height="2.05" fill="#f8bb6a"/><rect x="99.43" y="308.60" width="8.39" height="2.05" fill="#f6ac5a"/><rect x="107.77" y="308.60" width="8.39" height="2.05" fill="#f9c272"/><rect x="116.11" y="308.60" width="8.39" height="2.05" fill="#f7b260"/><rect x="124.45" y="308.60" width="8.39" height="2.05" fill="#f9c676"/><rect x="132.79" y="308.60" width="8.39" height="2.05" fill="#f2f0d3"/><rect x="141.14" y="308.60" width="8.39" height="2.05" fill="#f1f0d4"/><rect x="149.48" y="308.60" width="8.39" height="2.05" fill="#f6eabb"/><rect x="157.82" y="308.60" width="8.39" height="2.05" fill="#c4e7f1"/><rect x="166.16" y="308.60" width="8.39" height="2.05" fill="#cae9ef"/><rect x="32.70" y="310.60" width="8.39" height="2.05" fill="#eff3df"/><rect x="41.04" y="310.60" width="8.39" height="2.05" fill="#abdcee"/><rect x="49.38" y="310.60" width="8.39" height="2.05" fill="#78bfe3"/><rect x="57.72" y="310.60" width="8.39" height="2.05" fill="#eff4e3"/><rect x="66.06" y="310.60" width="8.39" height="2.05" fill="#dbefeb"/><rect x="74.41" y="310.60" width="8.39" height="2.05" fill="#bee5f2"/><rect x="82.75" y="310.60" width="8.39" height="2.05" fill="#f9cc7f"/><rect x="91.09" y="310.60" width="8.39" height="2.05" fill="#f0612e"/><rect x="99.43" y="310.60" width="8.39" height="2.05" fill="#f8bf6e"/><rect x="107.77" y="310.60" width="8.39" height="2.05" fill="#f6a856"/><rect x="116.11" y="310.60" width="8.39" height="2.05" fill="#f8ba69"/><rect x="124.45" y="310.60" width="8.39" height="2.05" fill="#f9e7ae"/><rect x="132.79" y="310.60" width="8.39" height="2.05" fill="#9fd6ec"/><rect x="141.14" y="310.60" width="8.39" height="2.05" fill="#e4f2e9"/><rect x="149.48" y="310.60" width="8.39" height="2.05" fill="#f9e6ae"/><rect x="157.82" y="310.60" width="8.39" height="2.05" fill="#d7eeec"/><rect x="166.16" y="310.60" width="8.39" height="2.05" fill="#b6e1f0"/><rect x="32.70" y="312.60" width="8.39" height="2.05" fill="#61addb"/><rect x="41.04" y="312.60" width="8.39" height="2.05" fill="#a9dbee"/><rect x="49.38" y="312.60" width="8.39" height="2.05" fill="#418ecc"/><rect x="57.72" y="312.60" width="8.39" height="2.05" fill="#d9eeec"/><rect x="66.06" y="312.60" width="8.39" height="2.05" fill="#ddf0ea"/><rect x="74.41" y="312.60" width="8.39" height="2.05" fill="#fadb96"/><rect x="82.75" y="312.60" width="8.39" height="2.05" fill="#f5a251"/><rect x="91.09" y="312.60" width="8.39" height="2.05" fill="#f9cd80"/><rect x="99.43" y="312.60" width="8.39" height="2.05" fill="#fbe3a3"/><rect x="107.77" y="312.60" width="8.39" height="2.05" fill="#cfebee"/><rect x="116.11" y="312.60" width="8.39" height="2.05" fill="#f9c879"/><rect x="124.45" y="312.60" width="8.39" height="2.05" fill="#f9c676"/><rect x="132.79" y="312.60" width="8.39" height="2.05" fill="#fae5a7"/><rect x="141.14" y="312.60" width="8.39" height="2.05" fill="#edf5e6"/><rect x="149.48" y="312.60" width="8.39" height="2.05" fill="#fbe09f"/><rect x="157.82" y="312.60" width="8.39" height="2.05" fill="#ecf4e6"/><rect x="166.16" y="312.60" width="8.39" height="2.05" fill="#f9e6ac"/><rect x="32.70" y="314.60" width="8.39" height="2.05" fill="#e9f3e7"/><rect x="41.04" y="314.60" width="8.39" height="2.05" fill="#84c8e7"/><rect x="49.38" y="314.60" width="8.39" height="2.05" fill="#6fb8e0"/><rect x="57.72" y="314.60" width="8.39" height="2.05" fill="#6bb5df"/><rect x="66.06" y="314.60" width="8.39" height="2.05" fill="#eff4e2"/><rect x="74.41" y="314.60" width="8.39" height="2.05" fill="#ddf0ea"/><rect x="82.75" y="314.60" width="8.39" height="2.05" fill="#f6a755"/><rect x="91.09" y="314.60" width="8.39" height="2.05" fill="#fbde9a"/><rect x="99.43" y="314.60" width="8.39" height="2.05" fill="#f9c676"/><rect x="107.77" y="314.60" width="8.39" height="2.05" fill="#f9c272"/><rect x="116.11" y="314.60" width="8.39" height="2.05" fill="#f7b160"/><rect x="124.45" y="314.60" width="8.39" height="2.05" fill="#f9c676"/><rect x="132.79" y="314.60" width="8.39" height="2.05" fill="#f3efce"/><rect x="141.14" y="314.60" width="8.39" height="2.05" fill="#bfe5f2"/><rect x="149.48" y="314.60" width="8.39" height="2.05" fill="#fad68e"/><rect x="157.82" y="314.60" width="8.39" height="2.05" fill="#eef5e6"/><rect x="166.16" y="314.60" width="8.39" height="2.05" fill="#e1f1ea"/><rect x="32.70" y="316.60" width="8.39" height="2.05" fill="#a6d9ed"/><rect x="41.04" y="316.60" width="8.39" height="2.05" fill="#a3d8ed"/><rect x="49.38" y="316.60" width="8.39" height="2.05" fill="#b0deef"/><rect x="57.72" y="316.60" width="8.39" height="2.05" fill="#a5d9ed"/><rect x="66.06" y="316.60" width="8.39" height="2.05" fill="#b9e3f1"/><rect x="74.41" y="316.60" width="8.39" height="2.05" fill="#91cfea"/><rect x="82.75" y="316.60" width="8.39" height="2.05" fill="#f8e8b2"/><rect x="91.09" y="316.60" width="8.39" height="2.05" fill="#f49b4b"/><rect x="99.43" y="316.60" width="8.39" height="2.05" fill="#f9e7ae"/><rect x="107.77" y="316.60" width="8.39" height="2.05" fill="#f5a351"/><rect x="116.11" y="316.60" width="8.39" height="2.05" fill="#f5a654"/><rect x="124.45" y="316.60" width="8.39" height="2.05" fill="#f6eabd"/><rect x="132.79" y="316.60" width="8.39" height="2.05" fill="#b5e1f0"/><rect x="141.14" y="316.60" width="8.39" height="2.05" fill="#b8e2f1"/><rect x="149.48" y="316.60" width="8.39" height="2.05" fill="#d4eced"/><rect x="157.82" y="316.60" width="8.39" height="2.05" fill="#a8daee"/><rect x="166.16" y="316.60" width="8.39" height="2.05" fill="#fbe4a5"/><rect x="32.70" y="318.60" width="8.39" height="2.05" fill="#9fd6ec"/><rect x="41.04" y="318.60" width="8.39" height="2.05" fill="#cae9ef"/><rect x="49.38" y="318.60" width="8.39" height="2.05" fill="#71b9e0"/><rect x="57.72" y="318.60" width="8.39" height="2.05" fill="#c1e6f2"/><rect x="66.06" y="318.60" width="8.39" height="2.05" fill="#86c9e7"/><rect x="74.41" y="318.60" width="8.39" height="2.05" fill="#a3d8ed"/><rect x="82.75" y="318.60" width="8.39" height="2.05" fill="#f6ac5b"/><rect x="91.09" y="318.60" width="8.39" height="2.05" fill="#f7b868"/><rect x="99.43" y="318.60" width="8.39" height="2.05" fill="#fad891"/><rect x="107.77" y="318.60" width="8.39" height="2.05" fill="#fada95"/><rect x="116.11" y="318.60" width="8.39" height="2.05" fill="#f6ae5d"/><rect x="124.45" y="318.60" width="8.39" height="2.05" fill="#f7b463"/><rect x="132.79" y="318.60" width="8.39" height="2.05" fill="#d7edec"/><rect x="141.14" y="318.60" width="8.39" height="2.05" fill="#aadbee"/><rect x="149.48" y="318.60" width="8.39" height="2.05" fill="#fbe2a1"/><rect x="157.82" y="318.60" width="8.39" height="2.05" fill="#f5a351"/><rect x="166.16" y="318.60" width="8.39" height="2.05" fill="#e0f0ea"/><rect x="32.70" y="320.60" width="8.39" height="2.05" fill="#bce4f1"/><rect x="41.04" y="320.60" width="8.39" height="2.05" fill="#c9e9f0"/><rect x="49.38" y="320.60" width="8.39" height="2.05" fill="#295ead"/><rect x="57.72" y="320.60" width="8.39" height="2.05" fill="#b8e2f1"/><rect x="66.06" y="320.60" width="8.39" height="2.05" fill="#88cbe8"/><rect x="74.41" y="320.60" width="8.39" height="2.05" fill="#e1f1e9"/><rect x="82.75" y="320.60" width="8.39" height="2.05" fill="#f9c879"/><rect x="91.09" y="320.60" width="8.39" height="2.05" fill="#fad288"/><rect x="99.43" y="320.60" width="8.39" height="2.05" fill="#fad187"/><rect x="107.77" y="320.60" width="8.39" height="2.05" fill="#f7b463"/><rect x="116.11" y="320.60" width="8.39" height="2.05" fill="#f9c777"/><rect x="124.45" y="320.60" width="8.39" height="2.05" fill="#f9c272"/><rect x="132.79" y="320.60" width="8.39" height="2.05" fill="#9ed6ec"/><rect x="141.14" y="320.60" width="8.39" height="2.05" fill="#c7e8f0"/><rect x="149.48" y="320.60" width="8.39" height="2.05" fill="#fad993"/><rect x="157.82" y="320.60" width="8.39" height="2.05" fill="#f8bb6b"/><rect x="166.16" y="320.60" width="8.39" height="2.05" fill="#fae5a8"/><rect x="32.70" y="322.60" width="8.39" height="2.05" fill="#b8e2f1"/><rect x="41.04" y="322.60" width="8.39" height="2.05" fill="#eaf4e7"/><rect x="49.38" y="322.60" width="8.39" height="2.05" fill="#bae3f1"/><rect x="57.72" y="322.60" width="8.39" height="2.05" fill="#f2f0d4"/><rect x="66.06" y="322.60" width="8.39" height="2.05" fill="#daefeb"/><rect x="74.41" y="322.60" width="8.39" height="2.05" fill="#9ed6ec"/><rect x="82.75" y="322.60" width="8.39" height="2.05" fill="#f7b767"/><rect x="91.09" y="322.60" width="8.39" height="2.05" fill="#f7b463"/><rect x="99.43" y="322.60" width="8.39" height="2.05" fill="#f9c272"/><rect x="107.77" y="322.60" width="8.39" height="2.05" fill="#f7b362"/><rect x="116.11" y="322.60" width="8.39" height="2.05" fill="#f9cd81"/><rect x="124.45" y="322.60" width="8.39" height="2.05" fill="#f1f2d9"/><rect x="132.79" y="322.60" width="8.39" height="2.05" fill="#c4e7f1"/><rect x="141.14" y="322.60" width="8.39" height="2.05" fill="#60acdb"/><rect x="149.48" y="322.60" width="8.39" height="2.05" fill="#f4eeca"/><rect x="157.82" y="322.60" width="8.39" height="2.05" fill="#e3f1e9"/><rect x="166.16" y="322.60" width="8.39" height="2.05" fill="#9ad4eb"/><rect x="32.70" y="324.60" width="8.39" height="2.05" fill="#cae9ef"/><rect x="41.04" y="324.60" width="8.39" height="2.05" fill="#ddf0ea"/><rect x="49.38" y="324.60" width="8.39" height="2.05" fill="#8dcde9"/><rect x="57.72" y="324.60" width="8.39" height="2.05" fill="#f2f0d4"/><rect x="66.06" y="324.60" width="8.39" height="2.05" fill="#f3efcf"/><rect x="74.41" y="324.60" width="8.39" height="2.05" fill="#66b1dd"/><rect x="82.75" y="324.60" width="8.39" height="2.05" fill="#f59d4c"/><rect x="91.09" y="324.60" width="8.39" height="2.05" fill="#f6ab5a"/><rect x="99.43" y="324.60" width="8.39" height="2.05" fill="#f8be6d"/><rect x="107.77" y="324.60" width="8.39" height="2.05" fill="#f49a4a"/><rect x="116.11" y="324.60" width="8.39" height="2.05" fill="#f9cb7e"/><rect x="124.45" y="324.60" width="8.39" height="2.05" fill="#fad288"/><rect x="132.79" y="324.60" width="8.39" height="2.05" fill="#bce4f1"/><rect x="141.14" y="324.60" width="8.39" height="2.05" fill="#abdcee"/><rect x="149.48" y="324.60" width="8.39" height="2.05" fill="#f1f2d9"/><rect x="157.82" y="324.60" width="8.39" height="2.05" fill="#99d3eb"/><rect x="166.16" y="324.60" width="8.39" height="2.05" fill="#bde5f2"/><rect x="32.70" y="326.60" width="8.39" height="2.05" fill="#c6e8f0"/><rect x="41.04" y="326.60" width="8.39" height="2.05" fill="#b6e1f0"/><rect x="49.38" y="326.60" width="8.39" height="2.05" fill="#9bd4eb"/><rect x="57.72" y="326.60" width="8.39" height="2.05" fill="#50a1d6"/><rect x="66.06" y="326.60" width="8.39" height="2.05" fill="#84c8e7"/><rect x="74.41" y="326.60" width="8.39" height="2.05" fill="#89cbe8"/><rect x="82.75" y="326.60" width="8.39" height="2.05" fill="#f8bf6f"/><rect x="91.09" y="326.60" width="8.39" height="2.05" fill="#f9cc80"/><rect x="99.43" y="326.60" width="8.39" height="2.05" fill="#f6ad5b"/><rect x="107.77" y="326.60" width="8.39" height="2.05" fill="#f8bc6b"/><rect x="116.11" y="326.60" width="8.39" height="2.05" fill="#f7b362"/><rect x="124.45" y="326.60" width="8.39" height="2.05" fill="#f8c06f"/><rect x="132.79" y="326.60" width="8.39" height="2.05" fill="#f6ebbe"/><rect x="141.14" y="326.60" width="8.39" height="2.05" fill="#bbe3f1"/><rect x="149.48" y="326.60" width="8.39" height="2.05" fill="#f9cb7e"/><rect x="157.82" y="326.60" width="8.39" height="2.05" fill="#f2f0d4"/><rect x="166.16" y="326.60" width="8.39" height="2.05" fill="#f1f2d8"/><rect x="32.70" y="328.60" width="8.39" height="2.05" fill="#adddef"/><rect x="41.04" y="328.60" width="8.39" height="2.05" fill="#cfebee"/><rect x="49.38" y="328.60" width="8.39" height="2.05" fill="#bae3f1"/><rect x="57.72" y="328.60" width="8.39" height="2.05" fill="#dbefeb"/><rect x="66.06" y="328.60" width="8.39" height="2.05" fill="#bde5f2"/><rect x="74.41" y="328.60" width="8.39" height="2.05" fill="#cceaef"/><rect x="82.75" y="328.60" width="8.39" height="2.05" fill="#f8bc6b"/><rect x="91.09" y="328.60" width="8.39" height="2.05" fill="#f38e42"/><rect x="99.43" y="328.60" width="8.39" height="2.05" fill="#f9cc7f"/><rect x="107.77" y="328.60" width="8.39" height="2.05" fill="#f3eecc"/><rect x="116.11" y="328.60" width="8.39" height="2.05" fill="#f3843b"/><rect x="124.45" y="328.60" width="8.39" height="2.05" fill="#f8bc6c"/><rect x="132.79" y="328.60" width="8.39" height="2.05" fill="#a8dbee"/><rect x="141.14" y="328.60" width="8.39" height="2.05" fill="#c8e9f0"/><rect x="149.48" y="328.60" width="8.39" height="2.05" fill="#d1ebee"/><rect x="157.82" y="328.60" width="8.39" height="2.05" fill="#f7b564"/><rect x="166.16" y="328.60" width="8.39" height="2.05" fill="#f7eaba"/><rect x="32.70" y="330.60" width="8.39" height="2.05" fill="#5aa8d9"/><rect x="41.04" y="330.60" width="8.39" height="2.05" fill="#d0ebee"/><rect x="49.38" y="330.60" width="8.39" height="2.05" fill="#72bbe1"/><rect x="57.72" y="330.60" width="8.39" height="2.05" fill="#f5ebc0"/><rect x="66.06" y="330.60" width="8.39" height="2.05" fill="#76bde2"/><rect x="74.41" y="330.60" width="8.39" height="2.05" fill="#3b85c7"/><rect x="82.75" y="330.60" width="8.39" height="2.05" fill="#f8be6d"/><rect x="91.09" y="330.60" width="8.39" height="2.05" fill="#f9c676"/><rect x="99.43" y="330.60" width="8.39" height="2.05" fill="#fad790"/><rect x="107.77" y="330.60" width="8.39" height="2.05" fill="#f2efd0"/><rect x="116.11" y="330.60" width="8.39" height="2.05" fill="#f5a654"/><rect x="124.45" y="330.60" width="8.39" height="2.05" fill="#f3853c"/><rect x="132.79" y="330.60" width="8.39" height="2.05" fill="#7ec4e5"/><rect x="141.14" y="330.60" width="8.39" height="2.05" fill="#f7e9b6"/><rect x="149.48" y="330.60" width="8.39" height="2.05" fill="#dff0ea"/><rect x="157.82" y="330.60" width="8.39" height="2.05" fill="#f6a958"/><rect x="166.16" y="330.60" width="8.39" height="2.05" fill="#f6ebc0"/><rect x="32.70" y="332.60" width="8.39" height="2.05" fill="#a2d7ed"/><rect x="41.04" y="332.60" width="8.39" height="2.05" fill="#e7f3e8"/><rect x="49.38" y="332.60" width="8.39" height="2.05" fill="#a2d7ed"/><rect x="57.72" y="332.60" width="8.39" height="2.05" fill="#95d1ea"/><rect x="66.06" y="332.60" width="8.39" height="2.05" fill="#cbeaef"/><rect x="74.41" y="332.60" width="8.39" height="2.05" fill="#8bcce9"/><rect x="82.75" y="332.60" width="8.39" height="2.05" fill="#f4edc5"/><rect x="91.09" y="332.60" width="8.39" height="2.05" fill="#f16f31"/><rect x="99.43" y="332.60" width="8.39" height="2.05" fill="#fad58d"/><rect x="107.77" y="332.60" width="8.39" height="2.05" fill="#f9cd81"/><rect x="116.11" y="332.60" width="8.39" height="2.05" fill="#f6a957"/><rect x="124.45" y="332.60" width="8.39" height="2.05" fill="#f7e9b7"/><rect x="132.79" y="332.60" width="8.39" height="2.05" fill="#9ed6ec"/><rect x="141.14" y="332.60" width="8.39" height="2.05" fill="#b9e3f1"/><rect x="149.48" y="332.60" width="8.39" height="2.05" fill="#e2f1e9"/><rect x="157.82" y="332.60" width="8.39" height="2.05" fill="#e6f2e8"/><rect x="166.16" y="332.60" width="8.39" height="2.05" fill="#fad58d"/><rect x="32.70" y="334.60" width="8.39" height="2.05" fill="#94d1ea"/><rect x="41.04" y="334.60" width="8.39" height="2.05" fill="#ceebee"/><rect x="49.38" y="334.60" width="8.39" height="2.05" fill="#a5d9ed"/><rect x="57.72" y="334.60" width="8.39" height="2.05" fill="#7cc2e4"/><rect x="66.06" y="334.60" width="8.39" height="2.05" fill="#b6e1f0"/><rect x="74.41" y="334.60" width="8.39" height="2.05" fill="#74bce2"/><rect x="82.75" y="334.60" width="8.39" height="2.05" fill="#f59c4c"/><rect x="91.09" y="334.60" width="8.39" height="2.05" fill="#f6ab59"/><rect x="99.43" y="334.60" width="8.39" height="2.05" fill="#f9cb7d"/><rect x="107.77" y="334.60" width="8.39" height="2.05" fill="#fbe2a0"/><rect x="116.11" y="334.60" width="8.39" height="2.05" fill="#f7b05f"/><rect x="124.45" y="334.60" width="8.39" height="2.05" fill="#fad68f"/><rect x="132.79" y="334.60" width="8.39" height="2.05" fill="#f6ebbe"/><rect x="141.14" y="334.60" width="8.39" height="2.05" fill="#cceaef"/><rect x="149.48" y="334.60" width="8.39" height="2.05" fill="#d4eded"/><rect x="157.82" y="334.60" width="8.39" height="2.05" fill="#fae6ab"/><rect x="166.16" y="334.60" width="8.39" height="2.05" fill="#fbe5a7"/><rect x="32.70" y="336.60" width="8.39" height="2.05" fill="#8ecee9"/><rect x="41.04" y="336.60" width="8.39" height="2.05" fill="#e9f3e7"/><rect x="49.38" y="336.60" width="8.39" height="2.05" fill="#78bfe3"/><rect x="57.72" y="336.60" width="8.39" height="2.05" fill="#a3d8ed"/><rect x="66.06" y="336.60" width="8.39" height="2.05" fill="#b1dfef"/><rect x="74.41" y="336.60" width="8.39" height="2.05" fill="#7ec4e5"/><rect x="82.75" y="336.60" width="8.39" height="2.05" fill="#f9cd81"/><rect x="91.09" y="336.60" width="8.39" height="2.05" fill="#f8bf6f"/><rect x="99.43" y="336.60" width="8.39" height="2.05" fill="#f49849"/><rect x="107.77" y="336.60" width="8.39" height="2.05" fill="#f3853b"/><rect x="116.11" y="336.60" width="8.39" height="2.05" fill="#f8bd6c"/><rect x="124.45" y="336.60" width="8.39" height="2.05" fill="#f3873d"/><rect x="132.79" y="336.60" width="8.39" height="2.05" fill="#e1f1ea"/><rect x="141.14" y="336.60" width="8.39" height="2.05" fill="#e3f1e9"/><rect x="149.48" y="336.60" width="8.39" height="2.05" fill="#fad58c"/><rect x="157.82" y="336.60" width="8.39" height="2.05" fill="#eff4e2"/><rect x="166.16" y="336.60" width="8.39" height="2.05" fill="#f4994a"/><rect x="32.70" y="338.60" width="8.39" height="2.05" fill="#b7e2f0"/><rect x="41.04" y="338.60" width="8.39" height="2.05" fill="#7dc3e5"/><rect x="49.38" y="338.60" width="8.39" height="2.05" fill="#c7e8f0"/><rect x="57.72" y="338.60" width="8.39" height="2.05" fill="#9ed6ec"/><rect x="66.06" y="338.60" width="8.39" height="2.05" fill="#9cd5ec"/><rect x="74.41" y="338.60" width="8.39" height="2.05" fill="#2964b3"/><rect x="82.75" y="338.60" width="8.39" height="2.05" fill="#f59e4d"/><rect x="91.09" y="338.60" width="8.39" height="2.05" fill="#f59e4d"/><rect x="99.43" y="338.60" width="8.39" height="2.05" fill="#f7b160"/><rect x="107.77" y="338.60" width="8.39" height="2.05" fill="#f49849"/><rect x="116.11" y="338.60" width="8.39" height="2.05" fill="#f27633"/><rect x="124.45" y="338.60" width="8.39" height="2.05" fill="#f9c271"/><rect x="132.79" y="338.60" width="8.39" height="2.05" fill="#fae5a9"/><rect x="141.14" y="338.60" width="8.39" height="2.05" fill="#abdcee"/><rect x="149.48" y="338.60" width="8.39" height="2.05" fill="#e9f3e7"/><rect x="157.82" y="338.60" width="8.39" height="2.05" fill="#fbe2a1"/><rect x="166.16" y="338.60" width="8.39" height="2.05" fill="#f5ecc4"/><rect x="32.70" y="340.60" width="8.39" height="2.05" fill="#66b2dd"/><rect x="41.04" y="340.60" width="8.39" height="2.05" fill="#c9e9f0"/><rect x="49.38" y="340.60" width="8.39" height="2.05" fill="#7ec3e5"/><rect x="57.72" y="340.60" width="8.39" height="2.05" fill="#8acce8"/><rect x="66.06" y="340.60" width="8.39" height="2.05" fill="#c0e6f2"/><rect x="74.41" y="340.60" width="8.39" height="2.05" fill="#90cfe9"/><rect x="82.75" y="340.60" width="8.39" height="2.05" fill="#f7e9b8"/><rect x="91.09" y="340.60" width="8.39" height="2.05" fill="#fadb96"/><rect x="99.43" y="340.60" width="8.39" height="2.05" fill="#f48f42"/><rect x="107.77" y="340.60" width="8.39" height="2.05" fill="#fae5a9"/><rect x="116.11" y="340.60" width="8.39" height="2.05" fill="#f6ad5b"/><rect x="124.45" y="340.60" width="8.39" height="2.05" fill="#f6ac5a"/><rect x="132.79" y="340.60" width="8.39" height="2.05" fill="#f5ecc4"/><rect x="141.14" y="340.60" width="8.39" height="2.05" fill="#90cfe9"/><rect x="149.48" y="340.60" width="8.39" height="2.05" fill="#ebf4e7"/><rect x="157.82" y="340.60" width="8.39" height="2.05" fill="#e9f3e7"/><rect x="166.16" y="340.60" width="8.39" height="2.05" fill="#fbe2a1"/><rect x="32.70" y="342.60" width="8.39" height="2.05" fill="#8bcde9"/><rect x="41.04" y="342.60" width="8.39" height="2.05" fill="#7fc4e5"/><rect x="49.38" y="342.60" width="8.39" height="2.05" fill="#b9e3f1"/><rect x="57.72" y="342.60" width="8.39" height="2.05" fill="#e1f1e9"/><rect x="66.06" y="342.60" width="8.39" height="2.05" fill="#bde5f1"/><rect x="74.41" y="342.60" width="8.39" height="2.05" fill="#86c9e7"/><rect x="82.75" y="342.60" width="8.39" height="2.05" fill="#f7b261"/><rect x="91.09" y="342.60" width="8.39" height="2.05" fill="#f7b665"/><rect x="99.43" y="342.60" width="8.39" height="2.05" fill="#f7b05f"/><rect x="107.77" y="342.60" width="8.39" height="2.05" fill="#fbdf9c"/><rect x="116.11" y="342.60" width="8.39" height="2.05" fill="#f7b05f"/><rect x="124.45" y="342.60" width="8.39" height="2.05" fill="#f9c575"/><rect x="132.79" y="342.60" width="8.39" height="2.05" fill="#acdcee"/><rect x="141.14" y="342.60" width="8.39" height="2.05" fill="#dbefeb"/><rect x="149.48" y="342.60" width="8.39" height="2.05" fill="#f3efcd"/><rect x="157.82" y="342.60" width="8.39" height="2.05" fill="#d0ebee"/><rect x="166.16" y="342.60" width="8.39" height="2.05" fill="#f5ecc3"/><rect x="32.70" y="344.60" width="8.39" height="2.05" fill="#62aedc"/><rect x="41.04" y="344.60" width="8.39" height="2.05" fill="#b6e1f0"/><rect x="49.38" y="344.60" width="8.39" height="2.05" fill="#9dd5ec"/><rect x="57.72" y="344.60" width="8.39" height="2.05" fill="#c0e6f2"/><rect x="66.06" y="344.60" width="8.39" height="2.05" fill="#daefeb"/><rect x="74.41" y="344.60" width="8.39" height="2.05" fill="#66b1dd"/><rect x="82.75" y="344.60" width="8.39" height="2.05" fill="#f8e8b4"/><rect x="91.09" y="344.60" width="8.39" height="2.05" fill="#f7b261"/><rect x="99.43" y="344.60" width="8.39" height="2.05" fill="#f8bd6c"/><rect x="107.77" y="344.60" width="8.39" height="2.05" fill="#f16b30"/><rect x="116.11" y="344.60" width="8.39" height="2.05" fill="#f59f4e"/><rect x="124.45" y="344.60" width="8.39" height="2.05" fill="#fad994"/><rect x="132.79" y="344.60" width="8.39" height="2.05" fill="#f8e8b5"/><rect x="141.14" y="344.60" width="8.39" height="2.05" fill="#a6d9ed"/><rect x="149.48" y="344.60" width="8.39" height="2.05" fill="#b3e0f0"/><rect x="157.82" y="344.60" width="8.39" height="2.05" fill="#f59c4c"/><rect x="166.16" y="344.60" width="8.39" height="2.05" fill="#f4eec9"/><rect x="32.70" y="346.60" width="8.39" height="2.05" fill="#cceaef"/><rect x="41.04" y="346.60" width="8.39" height="2.05" fill="#d1ecee"/><rect x="49.38" y="346.60" width="8.39" height="2.05" fill="#dbefeb"/><rect x="57.72" y="346.60" width="8.39" height="2.05" fill="#c0e6f2"/><rect x="66.06" y="346.60" width="8.39" height="2.05" fill="#e0f0ea"/><rect x="74.41" y="346.60" width="8.39" height="2.05" fill="#6fb8e0"/><rect x="82.75" y="346.60" width="8.39" height="2.05" fill="#f9e6ad"/><rect x="91.09" y="346.60" width="8.39" height="2.05" fill="#f3873d"/><rect x="99.43" y="346.60" width="8.39" height="2.05" fill="#f49a4a"/><rect x="107.77" y="346.60" width="8.39" height="2.05" fill="#f6a957"/><rect x="116.11" y="346.60" width="8.39" height="2.05" fill="#f6ac5b"/><rect x="124.45" y="346.60" width="8.39" height="2.05" fill="#f8ba6a"/><rect x="132.79" y="346.60" width="8.39" height="2.05" fill="#c3e7f1"/><rect x="141.14" y="346.60" width="8.39" height="2.05" fill="#fbdd9a"/><rect x="149.48" y="346.60" width="8.39" height="2.05" fill="#fbde9a"/><rect x="157.82" y="346.60" width="8.39" height="2.05" fill="#f2efcf"/><rect x="166.16" y="346.60" width="8.39" height="2.05" fill="#f5ecc5"/><rect x="32.70" y="348.60" width="8.39" height="2.05" fill="#d9eeeb"/><rect x="41.04" y="348.60" width="8.39" height="2.05" fill="#cfebee"/><rect x="49.38" y="348.60" width="8.39" height="2.05" fill="#adddef"/><rect x="57.72" y="348.60" width="8.39" height="2.05" fill="#77bee3"/><rect x="66.06" y="348.60" width="8.39" height="2.05" fill="#c3e7f1"/><rect x="74.41" y="348.60" width="8.39" height="2.05" fill="#f5ecc2"/><rect x="82.75" y="348.60" width="8.39" height="2.05" fill="#fad085"/><rect x="91.09" y="348.60" width="8.39" height="2.05" fill="#f8be6e"/><rect x="99.43" y="348.60" width="8.39" height="2.05" fill="#f6ae5d"/><rect x="107.77" y="348.60" width="8.39" height="2.05" fill="#f4994a"/><rect x="116.11" y="348.60" width="8.39" height="2.05" fill="#f59f4e"/><rect x="124.45" y="348.60" width="8.39" height="2.05" fill="#f7eabb"/><rect x="132.79" y="348.60" width="8.39" height="2.05" fill="#f2efd0"/><rect x="141.14" y="348.60" width="8.39" height="2.05" fill="#93d0ea"/><rect x="149.48" y="348.60" width="8.39" height="2.05" fill="#d4eced"/><rect x="157.82" y="348.60" width="8.39" height="2.05" fill="#f3eecc"/><rect x="166.16" y="348.60" width="8.39" height="2.05" fill="#e0f1ea"/><rect x="32.70" y="350.60" width="8.39" height="2.10" fill="#f59f4e"/><rect x="41.04" y="350.60" width="8.39" height="2.10" fill="#e52723"/><rect x="49.38" y="350.60" width="8.39" height="2.10" fill="#f9c575"/><rect x="57.72" y="350.60" width="8.39" height="2.10" fill="#f5a351"/><rect x="66.06" y="350.60" width="8.39" height="2.10" fill="#e7f3e8"/><rect x="74.41" y="350.60" width="8.39" height="2.10" fill="#f0f3dd"/><rect x="82.75" y="350.60" width="8.39" height="2.10" fill="#a0d7ec"/><rect x="91.09" y="350.60" width="8.39" height="2.10" fill="#a2d8ed"/><rect x="99.43" y="350.60" width="8.39" height="2.10" fill="#73bbe1"/><rect x="107.77" y="350.60" width="8.39" height="2.10" fill="#a9dbee"/><rect x="116.11" y="350.60" width="8.39" height="2.10" fill="#98d3eb"/><rect x="124.45" y="350.60" width="8.39" height="2.10" fill="#88cbe8"/><rect x="132.79" y="350.60" width="8.39" height="2.10" fill="#c4e7f1"/><rect x="141.14" y="350.60" width="8.39" height="2.10" fill="#d2eced"/><rect x="149.48" y="350.60" width="8.39" height="2.10" fill="#f9c879"/><rect x="157.82" y="350.60" width="8.39" height="2.10" fill="#face82"/><rect x="166.16" y="350.60" width="8.39" height="2.10" fill="#f8b968"/><rect x="32.70" y="352.65" width="8.39" height="2.10" fill="#f49245"/><rect x="41.04" y="352.65" width="8.39" height="2.10" fill="#fbde9a"/><rect x="49.38" y="352.65" width="8.39" height="2.10" fill="#f9c97b"/><rect x="57.72" y="352.65" width="8.39" height="2.10" fill="#eff4e1"/><rect x="66.06" y="352.65" width="8.39" height="2.10" fill="#f27833"/><rect x="74.41" y="352.65" width="8.39" height="2.10" fill="#f7b15f"/><rect x="82.75" y="352.65" width="8.39" height="2.10" fill="#cdeaef"/><rect x="91.09" y="352.65" width="8.39" height="2.10" fill="#7ec3e5"/><rect x="99.43" y="352.65" width="8.39" height="2.10" fill="#c6e8f0"/><rect x="107.77" y="352.65" width="8.39" height="2.10" fill="#62aedc"/><rect x="116.11" y="352.65" width="8.39" height="2.10" fill="#77bee2"/><rect x="124.45" y="352.65" width="8.39" height="2.10" fill="#e2f1e9"/><rect x="132.79" y="352.65" width="8.39" height="2.10" fill="#f8e8b3"/><rect x="141.14" y="352.65" width="8.39" height="2.10" fill="#f2efcf"/><rect x="149.48" y="352.65" width="8.39" height="2.10" fill="#f7b05f"/><rect x="157.82" y="352.65" width="8.39" height="2.10" fill="#f2f0d3"/><rect x="166.16" y="352.65" width="8.39" height="2.10" fill="#fad993"/><rect x="32.70" y="354.70" width="8.39" height="2.10" fill="#fada95"/><rect x="41.04" y="354.70" width="8.39" height="2.10" fill="#f5ecc3"/><rect x="49.38" y="354.70" width="8.39" height="2.10" fill="#fad188"/><rect x="57.72" y="354.70" width="8.39" height="2.10" fill="#f7eab9"/><rect x="66.06" y="354.70" width="8.39" height="2.10" fill="#f38d41"/><rect x="74.41" y="354.70" width="8.39" height="2.10" fill="#f1f1d7"/><rect x="82.75" y="354.70" width="8.39" height="2.10" fill="#f9c677"/><rect x="91.09" y="354.70" width="8.39" height="2.10" fill="#82c7e6"/><rect x="99.43" y="354.70" width="8.39" height="2.10" fill="#d0ebee"/><rect x="107.77" y="354.70" width="8.39" height="2.10" fill="#8bcce9"/><rect x="116.11" y="354.70" width="8.39" height="2.10" fill="#54a3d7"/><rect x="124.45" y="354.70" width="8.39" height="2.10" fill="#c7e8f0"/><rect x="132.79" y="354.70" width="8.39" height="2.10" fill="#fad38a"/><rect x="141.14" y="354.70" width="8.39" height="2.10" fill="#d6edec"/><rect x="149.48" y="354.70" width="8.39" height="2.10" fill="#f5a553"/><rect x="157.82" y="354.70" width="8.39" height="2.10" fill="#f6ebbe"/><rect x="166.16" y="354.70" width="8.39" height="2.10" fill="#fbdf9c"/><rect x="32.70" y="356.75" width="8.39" height="2.10" fill="#f7b463"/><rect x="41.04" y="356.75" width="8.39" height="2.10" fill="#f7b565"/><rect x="49.38" y="356.75" width="8.39" height="2.10" fill="#bde5f2"/><rect x="57.72" y="356.75" width="8.39" height="2.10" fill="#f17232"/><rect x="66.06" y="356.75" width="8.39" height="2.10" fill="#face82"/><rect x="74.41" y="356.75" width="8.39" height="2.10" fill="#f4eec9"/><rect x="82.75" y="356.75" width="8.39" height="2.10" fill="#a3d8ed"/><rect x="91.09" y="356.75" width="8.39" height="2.10" fill="#5daada"/><rect x="99.43" y="356.75" width="8.39" height="2.10" fill="#62aedc"/><rect x="107.77" y="356.75" width="8.39" height="2.10" fill="#e5f2e8"/><rect x="116.11" y="356.75" width="8.39" height="2.10" fill="#91cfea"/><rect x="124.45" y="356.75" width="8.39" height="2.10" fill="#80c5e5"/><rect x="132.79" y="356.75" width="8.39" height="2.10" fill="#edf5e6"/><rect x="141.14" y="356.75" width="8.39" height="2.10" fill="#f59f4e"/><rect x="149.48" y="356.75" width="8.39" height="2.10" fill="#fae6ab"/><rect x="157.82" y="356.75" width="8.39" height="2.10" fill="#fae6ab"/><rect x="166.16" y="356.75" width="8.39" height="2.10" fill="#f6a958"/><rect x="32.70" y="358.80" width="8.39" height="2.10" fill="#f7b05f"/><rect x="41.04" y="358.80" width="8.39" height="2.10" fill="#face83"/><rect x="49.38" y="358.80" width="8.39" height="2.10" fill="#f0f2d9"/><rect x="57.72" y="358.80" width="8.39" height="2.10" fill="#ecf4e7"/><rect x="66.06" y="358.80" width="8.39" height="2.10" fill="#dbefeb"/><rect x="74.41" y="358.80" width="8.39" height="2.10" fill="#f3efce"/><rect x="82.75" y="358.80" width="8.39" height="2.10" fill="#cdeaef"/><rect x="91.09" y="358.80" width="8.39" height="2.10" fill="#d0ebee"/><rect x="99.43" y="358.80" width="8.39" height="2.10" fill="#ceebee"/><rect x="107.77" y="358.80" width="8.39" height="2.10" fill="#d6edec"/><rect x="116.11" y="358.80" width="8.39" height="2.10" fill="#b0deef"/><rect x="124.45" y="358.80" width="8.39" height="2.10" fill="#88cbe8"/><rect x="132.79" y="358.80" width="8.39" height="2.10" fill="#9bd4eb"/><rect x="141.14" y="358.80" width="8.39" height="2.10" fill="#f2f0d2"/><rect x="149.48" y="358.80" width="8.39" height="2.10" fill="#eff4e2"/><rect x="157.82" y="358.80" width="8.39" height="2.10" fill="#f8e7b1"/><rect x="166.16" y="358.80" width="8.39" height="2.10" fill="#f6eabc"/><rect x="32.70" y="360.85" width="8.39" height="2.10" fill="#f2efcf"/><rect x="41.04" y="360.85" width="8.39" height="2.10" fill="#f0f2da"/><rect x="49.38" y="360.85" width="8.39" height="2.10" fill="#f9e6ad"/><rect x="57.72" y="360.85" width="8.39" height="2.10" fill="#f8c070"/><rect x="66.06" y="360.85" width="8.39" height="2.10" fill="#f0f3de"/><rect x="74.41" y="360.85" width="8.39" height="2.10" fill="#fad085"/><rect x="82.75" y="360.85" width="8.39" height="2.10" fill="#cdeaef"/><rect x="91.09" y="360.85" width="8.39" height="2.10" fill="#87cae8"/><rect x="99.43" y="360.85" width="8.39" height="2.10" fill="#b4e0f0"/><rect x="107.77" y="360.85" width="8.39" height="2.10" fill="#fad58d"/><rect x="116.11" y="360.85" width="8.39" height="2.10" fill="#7dc3e5"/><rect x="124.45" y="360.85" width="8.39" height="2.10" fill="#f1f1d7"/><rect x="132.79" y="360.85" width="8.39" height="2.10" fill="#f7b463"/><rect x="141.14" y="360.85" width="8.39" height="2.10" fill="#f5a250"/><rect x="149.48" y="360.85" width="8.39" height="2.10" fill="#f1f1d6"/><rect x="157.82" y="360.85" width="8.39" height="2.10" fill="#f16930"/><rect x="166.16" y="360.85" width="8.39" height="2.10" fill="#fbdf9d"/><rect x="32.70" y="362.90" width="8.39" height="2.10" fill="#fad086"/><rect x="41.04" y="362.90" width="8.39" height="2.10" fill="#fad993"/><rect x="49.38" y="362.90" width="8.39" height="2.10" fill="#f9cc7f"/><rect x="57.72" y="362.90" width="8.39" height="2.10" fill="#f9c473"/><rect x="66.06" y="362.90" width="8.39" height="2.10" fill="#f8e8b4"/><rect x="74.41" y="362.90" width="8.39" height="2.10" fill="#f6ac5b"/><rect x="82.75" y="362.90" width="8.39" height="2.10" fill="#b4e0f0"/><rect x="91.09" y="362.90" width="8.39" height="2.10" fill="#85c9e7"/><rect x="99.43" y="362.90" width="8.39" height="2.10" fill="#d9eeeb"/><rect x="107.77" y="362.90" width="8.39" height="2.10" fill="#ecf4e7"/><rect x="116.11" y="362.90" width="8.39" height="2.10" fill="#dbefeb"/><rect x="124.45" y="362.90" width="8.39" height="2.10" fill="#84c8e7"/><rect x="132.79" y="362.90" width="8.39" height="2.10" fill="#f9c272"/><rect x="141.14" y="362.90" width="8.39" height="2.10" fill="#fad186"/><rect x="149.48" y="362.90" width="8.39" height="2.10" fill="#f3873d"/><rect x="157.82" y="362.90" width="8.39" height="2.10" fill="#eef5e6"/><rect x="166.16" y="362.90" width="8.39" height="2.10" fill="#fadb97"/></g><g filter="url(#bl)" shape-rendering="crispEdges"><rect x="32.70" y="364.60" width="8.39" height="2.05" fill="#cae9ef"/><rect x="41.04" y="364.60" width="8.39" height="2.05" fill="#c2e7f1"/><rect x="49.38" y="364.60" width="8.39" height="2.05" fill="#c7e8f0"/><rect x="57.72" y="364.60" width="8.39" height="2.05" fill="#d2eced"/><rect x="66.06" y="364.60" width="8.39" height="2.05" fill="#c9e9f0"/><rect x="74.41" y="364.60" width="8.39" height="2.05" fill="#c7e8f0"/><rect x="82.75" y="364.60" width="8.39" height="2.05" fill="#f16b30"/><rect x="91.09" y="364.60" width="8.39" height="2.05" fill="#c7e8f0"/><rect x="99.43" y="364.60" width="8.39" height="2.05" fill="#d1eced"/><rect x="107.77" y="364.60" width="8.39" height="2.05" fill="#ed4728"/><rect x="116.11" y="364.60" width="8.39" height="2.05" fill="#fbe2a1"/><rect x="124.45" y="364.60" width="8.39" height="2.05" fill="#c6e8f1"/><rect x="132.79" y="364.60" width="8.39" height="2.05" fill="#cfebee"/><rect x="141.14" y="364.60" width="8.39" height="2.05" fill="#c7e8f0"/><rect x="149.48" y="364.60" width="8.39" height="2.05" fill="#e8401c"/><rect x="157.82" y="364.60" width="8.39" height="2.05" fill="#c8e9f0"/><rect x="166.16" y="364.60" width="8.39" height="2.05" fill="#d0ebee"/><rect x="32.70" y="366.60" width="8.39" height="2.05" fill="#c6e8f0"/><rect x="41.04" y="366.60" width="8.39" height="2.05" fill="#c9e9f0"/><rect x="49.38" y="366.60" width="8.39" height="2.05" fill="#c2e7f1"/><rect x="57.72" y="366.60" width="8.39" height="2.05" fill="#c7e8f0"/><rect x="66.06" y="366.60" width="8.39" height="2.05" fill="#c7e8f0"/><rect x="74.41" y="366.60" width="8.39" height="2.05" fill="#d1ebee"/><rect x="82.75" y="366.60" width="8.39" height="2.05" fill="#c9e9f0"/><rect x="91.09" y="366.60" width="8.39" height="2.05" fill="#c4e7f1"/><rect x="99.43" y="366.60" width="8.39" height="2.05" fill="#cbeaef"/><rect x="107.77" y="366.60" width="8.39" height="2.05" fill="#d2eced"/><rect x="116.11" y="366.60" width="8.39" height="2.05" fill="#d2eced"/><rect x="124.45" y="366.60" width="8.39" height="2.05" fill="#cbeaef"/><rect x="132.79" y="366.60" width="8.39" height="2.05" fill="#c4e7f1"/><rect x="141.14" y="366.60" width="8.39" height="2.05" fill="#d4eced"/><rect x="149.48" y="366.60" width="8.39" height="2.05" fill="#e2121c"/><rect x="157.82" y="366.60" width="8.39" height="2.05" fill="#c9e9f0"/><rect x="166.16" y="366.60" width="8.39" height="2.05" fill="#d1ecee"/><rect x="32.70" y="368.60" width="8.39" height="2.05" fill="#cae9ef"/><rect x="41.04" y="368.60" width="8.39" height="2.05" fill="#cae9ef"/><rect x="49.38" y="368.60" width="8.39" height="2.05" fill="#cfebee"/><rect x="57.72" y="368.60" width="8.39" height="2.05" fill="#cdeaef"/><rect x="66.06" y="368.60" width="8.39" height="2.05" fill="#c7e8f0"/><rect x="74.41" y="368.60" width="8.39" height="2.05" fill="#d5edec"/><rect x="82.75" y="368.60" width="8.39" height="2.05" fill="#cdeaef"/><rect x="91.09" y="368.60" width="8.39" height="2.05" fill="#d4eded"/><rect x="99.43" y="368.60" width="8.39" height="2.05" fill="#cbeaef"/><rect x="107.77" y="368.60" width="8.39" height="2.05" fill="#c5e8f1"/><rect x="116.11" y="368.60" width="8.39" height="2.05" fill="#bee5f2"/><rect x="124.45" y="368.60" width="8.39" height="2.05" fill="#f9c97b"/><rect x="132.79" y="368.60" width="8.39" height="2.05" fill="#c6e8f0"/><rect x="141.14" y="368.60" width="8.39" height="2.05" fill="#cdeaef"/><rect x="149.48" y="368.60" width="8.39" height="2.05" fill="#e2121c"/><rect x="157.82" y="368.60" width="8.39" height="2.05" fill="#c8e9f0"/><rect x="166.16" y="368.60" width="8.39" height="2.05" fill="#cceaef"/><rect x="32.70" y="370.60" width="8.39" height="2.05" fill="#cbeaef"/><rect x="41.04" y="370.60" width="8.39" height="2.05" fill="#cbeaef"/><rect x="49.38" y="370.60" width="8.39" height="2.05" fill="#cdeaef"/><rect x="57.72" y="370.60" width="8.39" height="2.05" fill="#ceebee"/><rect x="66.06" y="370.60" width="8.39" height="2.05" fill="#c9e9f0"/><rect x="74.41" y="370.60" width="8.39" height="2.05" fill="#c7e8f0"/><rect x="82.75" y="370.60" width="8.39" height="2.05" fill="#d0ebee"/><rect x="91.09" y="370.60" width="8.39" height="2.05" fill="#d9eeeb"/><rect x="99.43" y="370.60" width="8.39" height="2.05" fill="#c8e8f0"/><rect x="107.77" y="370.60" width="8.39" height="2.05" fill="#c2e7f1"/><rect x="116.11" y="370.60" width="8.39" height="2.05" fill="#bce4f1"/><rect x="124.45" y="370.60" width="8.39" height="2.05" fill="#f6ad5b"/><rect x="132.79" y="370.60" width="8.39" height="2.05" fill="#f59c4c"/><rect x="141.14" y="370.60" width="8.39" height="2.05" fill="#c5e8f1"/><rect x="149.48" y="370.60" width="8.39" height="2.05" fill="#e2121c"/><rect x="157.82" y="370.60" width="8.39" height="2.05" fill="#fbe4a5"/><rect x="166.16" y="370.60" width="8.39" height="2.05" fill="#d2eced"/><rect x="32.70" y="372.60" width="8.39" height="2.05" fill="#c3e7f1"/><rect x="41.04" y="372.60" width="8.39" height="2.05" fill="#cbeaef"/><rect x="49.38" y="372.60" width="8.39" height="2.05" fill="#c7e8f0"/><rect x="57.72" y="372.60" width="8.39" height="2.05" fill="#c8e9f0"/><rect x="66.06" y="372.60" width="8.39" height="2.05" fill="#cceaef"/><rect x="74.41" y="372.60" width="8.39" height="2.05" fill="#c7e8f0"/><rect x="82.75" y="372.60" width="8.39" height="2.05" fill="#d1ecee"/><rect x="91.09" y="372.60" width="8.39" height="2.05" fill="#d1ecee"/><rect x="99.43" y="372.60" width="8.39" height="2.05" fill="#d0ebee"/><rect x="107.77" y="372.60" width="8.39" height="2.05" fill="#f3833a"/><rect x="116.11" y="372.60" width="8.39" height="2.05" fill="#d1ecee"/><rect x="124.45" y="372.60" width="8.39" height="2.05" fill="#d3eced"/><rect x="132.79" y="372.60" width="8.39" height="2.05" fill="#cae9ef"/><rect x="141.14" y="372.60" width="8.39" height="2.05" fill="#cbeaef"/><rect x="149.48" y="372.60" width="8.39" height="2.05" fill="#e2121c"/><rect x="157.82" y="372.60" width="8.39" height="2.05" fill="#c8e8f0"/><rect x="166.16" y="372.60" width="8.39" height="2.05" fill="#cdeaef"/><rect x="32.70" y="374.60" width="8.39" height="2.05" fill="#d2eced"/><rect x="41.04" y="374.60" width="8.39" height="2.05" fill="#c9e9f0"/><rect x="49.38" y="374.60" width="8.39" height="2.05" fill="#cae9ef"/><rect x="57.72" y="374.60" width="8.39" height="2.05" fill="#c9e9f0"/><rect x="66.06" y="374.60" width="8.39" height="2.05" fill="#c0e6f2"/><rect x="74.41" y="374.60" width="8.39" height="2.05" fill="#d0ebee"/><rect x="82.75" y="374.60" width="8.39" height="2.05" fill="#f9c676"/><rect x="91.09" y="374.60" width="8.39" height="2.05" fill="#d0ebee"/><rect x="99.43" y="374.60" width="8.39" height="2.05" fill="#cceaef"/><rect x="107.77" y="374.60" width="8.39" height="2.05" fill="#cbeaef"/><rect x="116.11" y="374.60" width="8.39" height="2.05" fill="#cdeaef"/><rect x="124.45" y="374.60" width="8.39" height="2.05" fill="#f3863c"/><rect x="132.79" y="374.60" width="8.39" height="2.05" fill="#cfebee"/><rect x="141.14" y="374.60" width="8.39" height="2.05" fill="#cae9ef"/><rect x="149.48" y="374.60" width="8.39" height="2.05" fill="#e2121c"/><rect x="157.82" y="374.60" width="8.39" height="2.05" fill="#d2eced"/><rect x="166.16" y="374.60" width="8.39" height="2.05" fill="#d1ecee"/><rect x="32.70" y="376.60" width="8.39" height="2.05" fill="#c4e7f1"/><rect x="41.04" y="376.60" width="8.39" height="2.05" fill="#c5e8f1"/><rect x="49.38" y="376.60" width="8.39" height="2.05" fill="#d6edec"/><rect x="57.72" y="376.60" width="8.39" height="2.05" fill="#cdeaef"/><rect x="66.06" y="376.60" width="8.39" height="2.05" fill="#c3e7f1"/><rect x="74.41" y="376.60" width="8.39" height="2.05" fill="#ceeaee"/><rect x="82.75" y="376.60" width="8.39" height="2.05" fill="#c9e9f0"/><rect x="91.09" y="376.60" width="8.39" height="2.05" fill="#bee5f2"/><rect x="99.43" y="376.60" width="8.39" height="2.05" fill="#cdeaef"/><rect x="107.77" y="376.60" width="8.39" height="2.05" fill="#cae9ef"/><rect x="116.11" y="376.60" width="8.39" height="2.05" fill="#cfebee"/><rect x="124.45" y="376.60" width="8.39" height="2.05" fill="#cae9ef"/><rect x="132.79" y="376.60" width="8.39" height="2.05" fill="#c4e7f1"/><rect x="141.14" y="376.60" width="8.39" height="2.05" fill="#cbeaef"/><rect x="149.48" y="376.60" width="8.39" height="2.05" fill="#e2121c"/><rect x="157.82" y="376.60" width="8.39" height="2.05" fill="#d7eeec"/><rect x="166.16" y="376.60" width="8.39" height="2.05" fill="#c2e7f2"/><rect x="32.70" y="378.60" width="8.39" height="2.05" fill="#cfebee"/><rect x="41.04" y="378.60" width="8.39" height="2.05" fill="#ceebee"/><rect x="49.38" y="378.60" width="8.39" height="2.05" fill="#c5e8f1"/><rect x="57.72" y="378.60" width="8.39" height="2.05" fill="#d1ecee"/><rect x="66.06" y="378.60" width="8.39" height="2.05" fill="#c7e8f0"/><rect x="74.41" y="378.60" width="8.39" height="2.05" fill="#c5e8f1"/><rect x="82.75" y="378.60" width="8.39" height="2.05" fill="#f27c35"/><rect x="91.09" y="378.60" width="8.39" height="2.05" fill="#cfebee"/><rect x="99.43" y="378.60" width="8.39" height="2.05" fill="#d1ebee"/><rect x="107.77" y="378.60" width="8.39" height="2.05" fill="#fae6ab"/><rect x="116.11" y="378.60" width="8.39" height="2.05" fill="#d0ebee"/><rect x="124.45" y="378.60" width="8.39" height="2.05" fill="#cae9ef"/><rect x="132.79" y="378.60" width="8.39" height="2.05" fill="#c9e9f0"/><rect x="141.14" y="378.60" width="8.39" height="2.05" fill="#d4eced"/><rect x="149.48" y="378.60" width="8.39" height="2.05" fill="#e2121c"/><rect x="157.82" y="378.60" width="8.39" height="2.05" fill="#cceaef"/><rect x="166.16" y="378.60" width="8.39" height="2.05" fill="#d0ebee"/><rect x="32.70" y="380.60" width="8.39" height="2.05" fill="#c5e8f1"/><rect x="41.04" y="380.60" width="8.39" height="2.05" fill="#cceaef"/><rect x="49.38" y="380.60" width="8.39" height="2.05" fill="#cae9ef"/><rect x="57.72" y="380.60" width="8.39" height="2.05" fill="#cfebee"/><rect x="66.06" y="380.60" width="8.39" height="2.05" fill="#cceaef"/><rect x="74.41" y="380.60" width="8.39" height="2.05" fill="#cfebee"/><rect x="82.75" y="380.60" width="8.39" height="2.05" fill="#f9c272"/><rect x="91.09" y="380.60" width="8.39" height="2.05" fill="#c8e9f0"/><rect x="99.43" y="380.60" width="8.39" height="2.05" fill="#cbe9ef"/><rect x="107.77" y="380.60" width="8.39" height="2.05" fill="#d5eded"/><rect x="116.11" y="380.60" width="8.39" height="2.05" fill="#c4e7f1"/><rect x="124.45" y="380.60" width="8.39" height="2.05" fill="#c7e8f0"/><rect x="132.79" y="380.60" width="8.39" height="2.05" fill="#cbeaef"/><rect x="141.14" y="380.60" width="8.39" height="2.05" fill="#cceaef"/><rect x="149.48" y="380.60" width="8.39" height="2.05" fill="#e2121c"/><rect x="157.82" y="380.60" width="8.39" height="2.05" fill="#bee5f2"/><rect x="166.16" y="380.60" width="8.39" height="2.05" fill="#fbe5a6"/><rect x="32.70" y="382.60" width="8.39" height="2.05" fill="#d8eeec"/><rect x="41.04" y="382.60" width="8.39" height="2.05" fill="#c9e9f0"/><rect x="49.38" y="382.60" width="8.39" height="2.05" fill="#d7eeec"/><rect x="57.72" y="382.60" width="8.39" height="2.05" fill="#cfebee"/><rect x="66.06" y="382.60" width="8.39" height="2.05" fill="#cceaef"/><rect x="74.41" y="382.60" width="8.39" height="2.05" fill="#ceebee"/><rect x="82.75" y="382.60" width="8.39" height="2.05" fill="#f38b40"/><rect x="91.09" y="382.60" width="8.39" height="2.05" fill="#ef532a"/><rect x="99.43" y="382.60" width="8.39" height="2.05" fill="#d0ebee"/><rect x="107.77" y="382.60" width="8.39" height="2.05" fill="#f8c070"/><rect x="116.11" y="382.60" width="8.39" height="2.05" fill="#f6af5d"/><rect x="124.45" y="382.60" width="8.39" height="2.05" fill="#f5a250"/><rect x="132.79" y="382.60" width="8.39" height="2.05" fill="#d7eeec"/><rect x="141.14" y="382.60" width="8.39" height="2.05" fill="#def0ea"/><rect x="149.48" y="382.60" width="8.39" height="2.05" fill="#e2121c"/><rect x="157.82" y="382.60" width="8.39" height="2.05" fill="#bae3f1"/><rect x="166.16" y="382.60" width="8.39" height="2.05" fill="#cdeaef"/><rect x="32.70" y="384.60" width="8.39" height="2.05" fill="#c4e7f1"/><rect x="41.04" y="384.60" width="8.39" height="2.05" fill="#d6edec"/><rect x="49.38" y="384.60" width="8.39" height="2.05" fill="#cae9ef"/><rect x="57.72" y="384.60" width="8.39" height="2.05" fill="#d0ebee"/><rect x="66.06" y="384.60" width="8.39" height="2.05" fill="#bce4f1"/><rect x="74.41" y="384.60" width="8.39" height="2.05" fill="#cceaef"/><rect x="82.75" y="384.60" width="8.39" height="2.05" fill="#cae9f0"/><rect x="91.09" y="384.60" width="8.39" height="2.05" fill="#cceaef"/><rect x="99.43" y="384.60" width="8.39" height="2.05" fill="#d1ecee"/><rect x="107.77" y="384.60" width="8.39" height="2.05" fill="#f0642e"/><rect x="116.11" y="384.60" width="8.39" height="2.05" fill="#cbeaef"/><rect x="124.45" y="384.60" width="8.39" height="2.05" fill="#f27c35"/><rect x="132.79" y="384.60" width="8.39" height="2.05" fill="#cceaef"/><rect x="141.14" y="384.60" width="8.39" height="2.05" fill="#cceaef"/><rect x="149.48" y="384.60" width="8.39" height="2.05" fill="#cae9f0"/><rect x="157.82" y="384.60" width="8.39" height="2.05" fill="#d8eeec"/><rect x="166.16" y="384.60" width="8.39" height="2.05" fill="#c8e9f0"/><rect x="32.70" y="386.60" width="8.39" height="2.05" fill="#bbe4f1"/><rect x="41.04" y="386.60" width="8.39" height="2.05" fill="#fad790"/><rect x="49.38" y="386.60" width="8.39" height="2.05" fill="#fad48c"/><rect x="57.72" y="386.60" width="8.39" height="2.05" fill="#dff0ea"/><rect x="66.06" y="386.60" width="8.39" height="2.05" fill="#eff3df"/><rect x="74.41" y="386.60" width="8.39" height="2.05" fill="#d9eeeb"/><rect x="82.75" y="386.60" width="8.39" height="2.05" fill="#9bd4eb"/><rect x="91.09" y="386.60" width="8.39" height="2.05" fill="#f7b05f"/><rect x="99.43" y="386.60" width="8.39" height="2.05" fill="#f8e8b5"/><rect x="107.77" y="386.60" width="8.39" height="2.05" fill="#ee4c29"/><rect x="116.11" y="386.60" width="8.39" height="2.05" fill="#b8e2f1"/><rect x="124.45" y="386.60" width="8.39" height="2.05" fill="#e5f2e8"/><rect x="132.79" y="386.60" width="8.39" height="2.05" fill="#f9cd81"/><rect x="141.14" y="386.60" width="8.39" height="2.05" fill="#ddefea"/><rect x="149.48" y="386.60" width="8.39" height="2.05" fill="#83c7e6"/><rect x="157.82" y="386.60" width="8.39" height="2.05" fill="#a8dbee"/><rect x="166.16" y="386.60" width="8.39" height="2.05" fill="#f1f2d9"/><rect x="32.70" y="388.60" width="8.39" height="2.05" fill="#f7e9b9"/><rect x="41.04" y="388.60" width="8.39" height="2.05" fill="#e7f3e8"/><rect x="49.38" y="388.60" width="8.39" height="2.05" fill="#f9c676"/><rect x="57.72" y="388.60" width="8.39" height="2.05" fill="#f9c677"/><rect x="66.06" y="388.60" width="8.39" height="2.05" fill="#f6eabb"/><rect x="74.41" y="388.60" width="8.39" height="2.05" fill="#eff4e2"/><rect x="82.75" y="388.60" width="8.39" height="2.05" fill="#ddefeb"/><rect x="91.09" y="388.60" width="8.39" height="2.05" fill="#fbe19f"/><rect x="99.43" y="388.60" width="8.39" height="2.05" fill="#f9cb7d"/><rect x="107.77" y="388.60" width="8.39" height="2.05" fill="#f0f3de"/><rect x="116.11" y="388.60" width="8.39" height="2.05" fill="#fae6ab"/><rect x="124.45" y="388.60" width="8.39" height="2.05" fill="#d8eeec"/><rect x="132.79" y="388.60" width="8.39" height="2.05" fill="#81c5e6"/><rect x="141.14" y="388.60" width="8.39" height="2.05" fill="#a4d8ed"/><rect x="149.48" y="388.60" width="8.39" height="2.05" fill="#fad48c"/><rect x="157.82" y="388.60" width="8.39" height="2.05" fill="#fae6ab"/><rect x="166.16" y="388.60" width="8.39" height="2.05" fill="#f49b4b"/><rect x="32.70" y="390.60" width="8.39" height="2.05" fill="#eff3df"/><rect x="41.04" y="390.60" width="8.39" height="2.05" fill="#face82"/><rect x="49.38" y="390.60" width="8.39" height="2.05" fill="#f6af5d"/><rect x="57.72" y="390.60" width="8.39" height="2.05" fill="#f9c677"/><rect x="66.06" y="390.60" width="8.39" height="2.05" fill="#c4e7f1"/><rect x="74.41" y="390.60" width="8.39" height="2.05" fill="#e1f1e9"/><rect x="82.75" y="390.60" width="8.39" height="2.05" fill="#f1f1d5"/><rect x="91.09" y="390.60" width="8.39" height="2.05" fill="#a5d9ed"/><rect x="99.43" y="390.60" width="8.39" height="2.05" fill="#fae5a7"/><rect x="107.77" y="390.60" width="8.39" height="2.05" fill="#f9c474"/><rect x="116.11" y="390.60" width="8.39" height="2.05" fill="#cdeaef"/><rect x="124.45" y="390.60" width="8.39" height="2.05" fill="#f27c36"/><rect x="132.79" y="390.60" width="8.39" height="2.05" fill="#daeeeb"/><rect x="141.14" y="390.60" width="8.39" height="2.05" fill="#e0f0ea"/><rect x="149.48" y="390.60" width="8.39" height="2.05" fill="#def0ea"/><rect x="157.82" y="390.60" width="8.39" height="2.05" fill="#bde4f1"/><rect x="166.16" y="390.60" width="8.39" height="2.05" fill="#f9e7af"/><rect x="32.70" y="392.60" width="8.39" height="2.05" fill="#eff4e3"/><rect x="41.04" y="392.60" width="8.39" height="2.05" fill="#f49547"/><rect x="49.38" y="392.60" width="8.39" height="2.05" fill="#fbde9a"/><rect x="57.72" y="392.60" width="8.39" height="2.05" fill="#fbe2a1"/><rect x="66.06" y="392.60" width="8.39" height="2.05" fill="#dff0ea"/><rect x="74.41" y="392.60" width="8.39" height="2.05" fill="#80c5e6"/><rect x="82.75" y="392.60" width="8.39" height="2.05" fill="#e8f3e8"/><rect x="91.09" y="392.60" width="8.39" height="2.05" fill="#b1dfef"/><rect x="99.43" y="392.60" width="8.39" height="2.05" fill="#f9c97a"/><rect x="107.77" y="392.60" width="8.39" height="2.05" fill="#ecf4e7"/><rect x="116.11" y="392.60" width="8.39" height="2.05" fill="#f49547"/><rect x="124.45" y="392.60" width="8.39" height="2.05" fill="#fad68e"/><rect x="132.79" y="392.60" width="8.39" height="2.05" fill="#fad085"/><rect x="141.14" y="392.60" width="8.39" height="2.05" fill="#f4edc8"/><rect x="149.48" y="392.60" width="8.39" height="2.05" fill="#f3eeca"/><rect x="157.82" y="392.60" width="8.39" height="2.05" fill="#fadb96"/><rect x="166.16" y="392.60" width="8.39" height="2.05" fill="#f9cb7d"/></g><rect x="23.4" y="298.6" width="8.4" height="66" fill="#e8380f"/><rect x="23.4" y="364.6" width="8.4" height="30" fill="#36278c"/><text transform="translate(30,346) rotate(-90)" font-size="7.8" fill="#fff" textLength="29" lengthAdjust="spacingAndGlyphs">D0 vs D7</text><text transform="translate(8.3,400.2) rotate(-90)" font-size="9.6" fill="#222" textLength="41.6" lengthAdjust="spacingAndGlyphs">D0 vs Post</text><line x1="12" y1="379" x2="20" y2="379" stroke="#111" stroke-width="1" marker-end="url(#ar)"/><line x1="176" y1="298.6" x2="176" y2="350" stroke="#333" stroke-width="1"/><line x1="177" y1="324" x2="185" y2="324" stroke="#111" stroke-width="1" marker-end="url(#ar)"/><text x="187" y="312.70" font-size="7.3" text-anchor="start" fill="#222" stroke="#222" >CISH</text><text x="187" y="321.40" font-size="7.3" text-anchor="start" fill="#222" stroke="#222" >SOCS2</text><text x="187" y="330.10" font-size="7.3" text-anchor="start" fill="#222" stroke="#222" >CCR2</text><text x="187" y="338.80" font-size="7.3" text-anchor="start" fill="#222" stroke="#222" >CCR5</text><text x="187" y="347.50" font-size="7.3" text-anchor="start" fill="#222" stroke="#222" >CXCR6</text><text x="187" y="356.20" font-size="7.3" text-anchor="start" fill="#222" stroke="#222" >CCR6</text><text x="187" y="364.90" font-size="7.3" text-anchor="start" fill="#222" stroke="#222" >GREM2</text><text x="187" y="373.60" font-size="7.3" text-anchor="start" fill="#222" stroke="#222" >IL1RL1</text><text x="187" y="382.30" font-size="7.3" text-anchor="start" fill="#222" stroke="#222" >IL23R</text><text x="187" y="391.00" font-size="7.3" text-anchor="start" fill="#222" stroke="#222" >IL17RE</text><text x="187" y="399.70" font-size="7.3" text-anchor="start" fill="#222" stroke="#222" >DAB2IP</text><text x="187" y="408.40" font-size="7.3" text-anchor="start" fill="#222" stroke="#222" >RORC</text><text x="187" y="417.10" font-size="7.3" text-anchor="start" fill="#222" stroke="#222" >CD40LG</text><text x="187" y="425.80" font-size="7.3" text-anchor="start" fill="#222" stroke="#222" >CEBPD</text><text x="187" y="434.50" font-size="7.3" text-anchor="start" fill="#222" stroke="#222" >IL18RAP</text><text x="187" y="443.20" font-size="7.3" text-anchor="start" fill="#222" stroke="#222" >LTB</text><rect x="27" y="438" width="43.5" height="7.5" fill="url(#cb)" stroke="#222" stroke-width="0.6"/><text x="27" y="435.3" font-size="8.8" text-anchor="middle" fill="#222" stroke="#222" >−2</text><text x="37.3" y="435.3" font-size="8.8" text-anchor="middle" fill="#222" stroke="#222" >−1</text><text x="48.3" y="435.3" font-size="8.8" text-anchor="middle" fill="#222" stroke="#222" >0</text><text x="59.5" y="435.3" font-size="8.8" text-anchor="middle" fill="#222" stroke="#222" >1</text><text x="69.6" y="435.3" font-size="8.8" text-anchor="middle" fill="#222" stroke="#222" >2</text><text transform="translate(32.42,398.5) rotate(90)" font-size="8.2" fill="#222" stroke="#222" textLength="17.3" lengthAdjust="spacingAndGlyphs">S203</text><text transform="translate(40.76,398.5) rotate(90)" font-size="8.2" fill="#222" stroke="#222" textLength="17.3" lengthAdjust="spacingAndGlyphs">S214</text><text transform="translate(49.10,398.5) rotate(90)" font-size="8.2" fill="#222" stroke="#222" textLength="17.3" lengthAdjust="spacingAndGlyphs">S216</text><text transform="translate(57.44,398.5) rotate(90)" font-size="8.2" fill="#222" stroke="#222" textLength="17.3" lengthAdjust="spacingAndGlyphs">S302</text><text transform="translate(65.78,398.5) rotate(90)" font-size="8.2" fill="#222" stroke="#222" textLength="17.3" lengthAdjust="spacingAndGlyphs">S306</text><text transform="translate(74.12,398.5) rotate(90)" font-size="8.2" fill="#222" stroke="#222" textLength="17.3" lengthAdjust="spacingAndGlyphs">S313</text><text transform="translate(82.47,398.5) rotate(90)" font-size="8.2" fill="#222" stroke="#222" textLength="17.3" lengthAdjust="spacingAndGlyphs">S203</text><text transform="translate(90.81,398.5) rotate(90)" font-size="8.2" fill="#222" stroke="#222" textLength="17.3" lengthAdjust="spacingAndGlyphs">S214</text><text transform="translate(99.15,398.5) rotate(90)" font-size="8.2" fill="#222" stroke="#222" textLength="17.3" lengthAdjust="spacingAndGlyphs">S216</text><text transform="translate(107.49,398.5) rotate(90)" font-size="8.2" fill="#222" stroke="#222" textLength="17.3" lengthAdjust="spacingAndGlyphs">S302</text><text transform="translate(115.83,398.5) rotate(90)" font-size="8.2" fill="#222" stroke="#222" textLength="17.3" lengthAdjust="spacingAndGlyphs">S306</text><text transform="translate(124.17,398.5) rotate(90)" font-size="8.2" fill="#222" stroke="#222" textLength="17.3" lengthAdjust="spacingAndGlyphs">S313</text><text transform="translate(132.51,398.5) rotate(90)" font-size="8.2" fill="#222" stroke="#222" textLength="17.3" lengthAdjust="spacingAndGlyphs">S214</text><text transform="translate(140.85,398.5) rotate(90)" font-size="8.2" fill="#222" stroke="#222" textLength="17.3" lengthAdjust="spacingAndGlyphs">S216</text><text transform="translate(149.20,398.5) rotate(90)" font-size="8.2" fill="#222" stroke="#222" textLength="17.3" lengthAdjust="spacingAndGlyphs">S302</text><text transform="translate(157.54,398.5) rotate(90)" font-size="8.2" fill="#222" stroke="#222" textLength="17.3" lengthAdjust="spacingAndGlyphs">S306</text><text transform="translate(165.88,398.5) rotate(90)" font-size="8.2" fill="#222" stroke="#222" textLength="17.3" lengthAdjust="spacingAndGlyphs">S313</text><g><rect x="32.10" y="512.40" width="8.33" height="8.29" fill="#f49446" stroke="#333" stroke-width="0.55"/><rect x="40.43" y="512.40" width="8.33" height="8.29" fill="#facf84" stroke="#333" stroke-width="0.55"/><rect x="48.76" y="512.40" width="8.33" height="8.29" fill="#ec4427" stroke="#333" stroke-width="0.55"/><rect x="57.09" y="512.40" width="8.33" height="8.29" fill="#24388c" stroke="#333" stroke-width="0.55"/><rect x="65.42" y="512.40" width="8.33" height="8.29" fill="#c9e9f0" stroke="#333" stroke-width="0.55"/><rect x="73.75" y="512.40" width="8.33" height="8.29" fill="#fbde9b" stroke="#333" stroke-width="0.55"/><rect x="82.08" y="512.40" width="8.33" height="8.29" fill="#f5ecc2" stroke="#333" stroke-width="0.55"/><rect x="90.41" y="512.40" width="8.33" height="8.29" fill="#f49547" stroke="#333" stroke-width="0.55"/><rect x="98.74" y="512.40" width="8.33" height="8.29" fill="#f7b05f" stroke="#333" stroke-width="0.55"/><rect x="107.06" y="512.40" width="8.33" height="8.29" fill="#b9e3f1" stroke="#333" stroke-width="0.55"/><rect x="115.39" y="512.40" width="8.33" height="8.29" fill="#f6a957" stroke="#333" stroke-width="0.55"/><rect x="123.72" y="512.40" width="8.33" height="8.29" fill="#f8b968" stroke="#333" stroke-width="0.55"/><rect x="132.05" y="512.40" width="8.33" height="8.29" fill="#f7b160" stroke="#333" stroke-width="0.55"/><rect x="140.38" y="512.40" width="8.33" height="8.29" fill="#cae9ef" stroke="#333" stroke-width="0.55"/><rect x="148.71" y="512.40" width="8.33" height="8.29" fill="#3c85c7" stroke="#333" stroke-width="0.55"/><rect x="157.04" y="512.40" width="8.33" height="8.29" fill="#8dcee9" stroke="#333" stroke-width="0.55"/><rect x="165.37" y="512.40" width="8.33" height="8.29" fill="#fad38b" stroke="#333" stroke-width="0.55"/><rect x="32.10" y="520.69" width="8.33" height="8.29" fill="#f49748" stroke="#333" stroke-width="0.55"/><rect x="40.43" y="520.69" width="8.33" height="8.29" fill="#cae9ef" stroke="#333" stroke-width="0.55"/><rect x="48.76" y="520.69" width="8.33" height="8.29" fill="#4290cd" stroke="#333" stroke-width="0.55"/><rect x="57.09" y="520.69" width="8.33" height="8.29" fill="#7dc3e5" stroke="#333" stroke-width="0.55"/><rect x="65.42" y="520.69" width="8.33" height="8.29" fill="#f9c676" stroke="#333" stroke-width="0.55"/><rect x="73.75" y="520.69" width="8.33" height="8.29" fill="#fad790" stroke="#333" stroke-width="0.55"/><rect x="82.08" y="520.69" width="8.33" height="8.29" fill="#f59c4c" stroke="#333" stroke-width="0.55"/><rect x="90.41" y="520.69" width="8.33" height="8.29" fill="#f16b30" stroke="#333" stroke-width="0.55"/><rect x="98.74" y="520.69" width="8.33" height="8.29" fill="#fbe19f" stroke="#333" stroke-width="0.55"/><rect x="107.06" y="520.69" width="8.33" height="8.29" fill="#3b85c7" stroke="#333" stroke-width="0.55"/><rect x="115.39" y="520.69" width="8.33" height="8.29" fill="#f9c373" stroke="#333" stroke-width="0.55"/><rect x="123.72" y="520.69" width="8.33" height="8.29" fill="#bde5f2" stroke="#333" stroke-width="0.55"/><rect x="132.05" y="520.69" width="8.33" height="8.29" fill="#ef522a" stroke="#333" stroke-width="0.55"/><rect x="140.38" y="520.69" width="8.33" height="8.29" fill="#92d0ea" stroke="#333" stroke-width="0.55"/><rect x="148.71" y="520.69" width="8.33" height="8.29" fill="#85c9e7" stroke="#333" stroke-width="0.55"/><rect x="157.04" y="520.69" width="8.33" height="8.29" fill="#7fc4e5" stroke="#333" stroke-width="0.55"/><rect x="165.37" y="520.69" width="8.33" height="8.29" fill="#cfebee" stroke="#333" stroke-width="0.55"/><rect x="32.10" y="528.97" width="8.33" height="8.29" fill="#4390ce" stroke="#333" stroke-width="0.55"/><rect x="40.43" y="528.97" width="8.33" height="8.29" fill="#f49849" stroke="#333" stroke-width="0.55"/><rect x="48.76" y="528.97" width="8.33" height="8.29" fill="#f5ecc2" stroke="#333" stroke-width="0.55"/><rect x="57.09" y="528.97" width="8.33" height="8.29" fill="#f7e9b9" stroke="#333" stroke-width="0.55"/><rect x="65.42" y="528.97" width="8.33" height="8.29" fill="#85c9e7" stroke="#333" stroke-width="0.55"/><rect x="73.75" y="528.97" width="8.33" height="8.29" fill="#7ec3e5" stroke="#333" stroke-width="0.55"/><rect x="82.08" y="528.97" width="8.33" height="8.29" fill="#cfebee" stroke="#333" stroke-width="0.55"/><rect x="90.41" y="528.97" width="8.33" height="8.29" fill="#fad892" stroke="#333" stroke-width="0.55"/><rect x="98.74" y="528.97" width="8.33" height="8.29" fill="#f6ad5c" stroke="#333" stroke-width="0.55"/><rect x="107.06" y="528.97" width="8.33" height="8.29" fill="#f9c474" stroke="#333" stroke-width="0.55"/><rect x="115.39" y="528.97" width="8.33" height="8.29" fill="#80c5e5" stroke="#333" stroke-width="0.55"/><rect x="123.72" y="528.97" width="8.33" height="8.29" fill="#c4e7f1" stroke="#333" stroke-width="0.55"/><rect x="132.05" y="528.97" width="8.33" height="8.29" fill="#e0182e" stroke="#333" stroke-width="0.55"/><rect x="140.38" y="528.97" width="8.33" height="8.29" fill="#ef502a" stroke="#333" stroke-width="0.55"/><rect x="148.71" y="528.97" width="8.33" height="8.29" fill="#f5ecc2" stroke="#333" stroke-width="0.55"/><rect x="157.04" y="528.97" width="8.33" height="8.29" fill="#7fc4e5" stroke="#333" stroke-width="0.55"/><rect x="165.37" y="528.97" width="8.33" height="8.29" fill="#98d2eb" stroke="#333" stroke-width="0.55"/><rect x="32.10" y="537.26" width="8.33" height="8.29" fill="#f38c41" stroke="#333" stroke-width="0.55"/><rect x="40.43" y="537.26" width="8.33" height="8.29" fill="#d1eced" stroke="#333" stroke-width="0.55"/><rect x="48.76" y="537.26" width="8.33" height="8.29" fill="#fad790" stroke="#333" stroke-width="0.55"/><rect x="57.09" y="537.26" width="8.33" height="8.29" fill="#ed4627" stroke="#333" stroke-width="0.55"/><rect x="65.42" y="537.26" width="8.33" height="8.29" fill="#f5a351" stroke="#333" stroke-width="0.55"/><rect x="73.75" y="537.26" width="8.33" height="8.29" fill="#428fcd" stroke="#333" stroke-width="0.55"/><rect x="82.08" y="537.26" width="8.33" height="8.29" fill="#8fcee9" stroke="#333" stroke-width="0.55"/><rect x="90.41" y="537.26" width="8.33" height="8.29" fill="#f6a755" stroke="#333" stroke-width="0.55"/><rect x="98.74" y="537.26" width="8.33" height="8.29" fill="#f7b463" stroke="#333" stroke-width="0.55"/><rect x="107.06" y="537.26" width="8.33" height="8.29" fill="#3c87c8" stroke="#333" stroke-width="0.55"/><rect x="115.39" y="537.26" width="8.33" height="8.29" fill="#f7b05f" stroke="#333" stroke-width="0.55"/><rect x="123.72" y="537.26" width="8.33" height="8.29" fill="#83c7e6" stroke="#333" stroke-width="0.55"/><rect x="132.05" y="537.26" width="8.33" height="8.29" fill="#f49547" stroke="#333" stroke-width="0.55"/><rect x="140.38" y="537.26" width="8.33" height="8.29" fill="#f4edc6" stroke="#333" stroke-width="0.55"/><rect x="148.71" y="537.26" width="8.33" height="8.29" fill="#7dc3e4" stroke="#333" stroke-width="0.55"/><rect x="157.04" y="537.26" width="8.33" height="8.29" fill="#8fcee9" stroke="#333" stroke-width="0.55"/><rect x="165.37" y="537.26" width="8.33" height="8.29" fill="#f8b968" stroke="#333" stroke-width="0.55"/><rect x="32.10" y="545.54" width="8.33" height="8.29" fill="#8ecee9" stroke="#333" stroke-width="0.55"/><rect x="40.43" y="545.54" width="8.33" height="8.29" fill="#82c6e6" stroke="#333" stroke-width="0.55"/><rect x="48.76" y="545.54" width="8.33" height="8.29" fill="#f7e9b8" stroke="#333" stroke-width="0.55"/><rect x="57.09" y="545.54" width="8.33" height="8.29" fill="#ee4a28" stroke="#333" stroke-width="0.55"/><rect x="65.42" y="545.54" width="8.33" height="8.29" fill="#fadb97" stroke="#333" stroke-width="0.55"/><rect x="73.75" y="545.54" width="8.33" height="8.29" fill="#fad58d" stroke="#333" stroke-width="0.55"/><rect x="82.08" y="545.54" width="8.33" height="8.29" fill="#96d2eb" stroke="#333" stroke-width="0.55"/><rect x="90.41" y="545.54" width="8.33" height="8.29" fill="#9cd5ec" stroke="#333" stroke-width="0.55"/><rect x="98.74" y="545.54" width="8.33" height="8.29" fill="#f9c777" stroke="#333" stroke-width="0.55"/><rect x="107.06" y="545.54" width="8.33" height="8.29" fill="#92d0ea" stroke="#333" stroke-width="0.55"/><rect x="115.39" y="545.54" width="8.33" height="8.29" fill="#ee4c29" stroke="#333" stroke-width="0.55"/><rect x="123.72" y="545.54" width="8.33" height="8.29" fill="#87cae8" stroke="#333" stroke-width="0.55"/><rect x="132.05" y="545.54" width="8.33" height="8.29" fill="#f0f3dd" stroke="#333" stroke-width="0.55"/><rect x="140.38" y="545.54" width="8.33" height="8.29" fill="#f3873d" stroke="#333" stroke-width="0.55"/><rect x="148.71" y="545.54" width="8.33" height="8.29" fill="#f5a250" stroke="#333" stroke-width="0.55"/><rect x="157.04" y="545.54" width="8.33" height="8.29" fill="#ee4b28" stroke="#333" stroke-width="0.55"/><rect x="165.37" y="545.54" width="8.33" height="8.29" fill="#d7eeec" stroke="#333" stroke-width="0.55"/><rect x="32.10" y="553.83" width="8.33" height="8.29" fill="#f9c777" stroke="#333" stroke-width="0.55"/><rect x="40.43" y="553.83" width="8.33" height="8.29" fill="#84c8e7" stroke="#333" stroke-width="0.55"/><rect x="48.76" y="553.83" width="8.33" height="8.29" fill="#f0632e" stroke="#333" stroke-width="0.55"/><rect x="57.09" y="553.83" width="8.33" height="8.29" fill="#8bcce8" stroke="#333" stroke-width="0.55"/><rect x="65.42" y="553.83" width="8.33" height="8.29" fill="#99d3eb" stroke="#333" stroke-width="0.55"/><rect x="73.75" y="553.83" width="8.33" height="8.29" fill="#fae5a8" stroke="#333" stroke-width="0.55"/><rect x="82.08" y="553.83" width="8.33" height="8.29" fill="#f9c879" stroke="#333" stroke-width="0.55"/><rect x="90.41" y="553.83" width="8.33" height="8.29" fill="#ef592c" stroke="#333" stroke-width="0.55"/><rect x="98.74" y="553.83" width="8.33" height="8.29" fill="#ee4928" stroke="#333" stroke-width="0.55"/><rect x="107.06" y="553.83" width="8.33" height="8.29" fill="#daeeeb" stroke="#333" stroke-width="0.55"/><rect x="115.39" y="553.83" width="8.33" height="8.29" fill="#f7b463" stroke="#333" stroke-width="0.55"/><rect x="123.72" y="553.83" width="8.33" height="8.29" fill="#c5e8f1" stroke="#333" stroke-width="0.55"/><rect x="132.05" y="553.83" width="8.33" height="8.29" fill="#f4edc6" stroke="#333" stroke-width="0.55"/><rect x="140.38" y="553.83" width="8.33" height="8.29" fill="#cbeaef" stroke="#333" stroke-width="0.55"/><rect x="148.71" y="553.83" width="8.33" height="8.29" fill="#24388c" stroke="#333" stroke-width="0.55"/><rect x="157.04" y="553.83" width="8.33" height="8.29" fill="#7fc4e5" stroke="#333" stroke-width="0.55"/><rect x="165.37" y="553.83" width="8.33" height="8.29" fill="#8ccde9" stroke="#333" stroke-width="0.55"/><rect x="32.10" y="562.11" width="8.33" height="8.29" fill="#ee4e29" stroke="#333" stroke-width="0.55"/><rect x="40.43" y="562.11" width="8.33" height="8.29" fill="#3d88c9" stroke="#333" stroke-width="0.55"/><rect x="48.76" y="562.11" width="8.33" height="8.29" fill="#f49748" stroke="#333" stroke-width="0.55"/><rect x="57.09" y="562.11" width="8.33" height="8.29" fill="#78bfe3" stroke="#333" stroke-width="0.55"/><rect x="65.42" y="562.11" width="8.33" height="8.29" fill="#c7e8f0" stroke="#333" stroke-width="0.55"/><rect x="73.75" y="562.11" width="8.33" height="8.29" fill="#fad086" stroke="#333" stroke-width="0.55"/><rect x="82.08" y="562.11" width="8.33" height="8.29" fill="#ef542b" stroke="#333" stroke-width="0.55"/><rect x="90.41" y="562.11" width="8.33" height="8.29" fill="#fae5a7" stroke="#333" stroke-width="0.55"/><rect x="98.74" y="562.11" width="8.33" height="8.29" fill="#f3863d" stroke="#333" stroke-width="0.55"/><rect x="107.06" y="562.11" width="8.33" height="8.29" fill="#8ecee9" stroke="#333" stroke-width="0.55"/><rect x="115.39" y="562.11" width="8.33" height="8.29" fill="#a0d6ec" stroke="#333" stroke-width="0.55"/><rect x="123.72" y="562.11" width="8.33" height="8.29" fill="#f7b766" stroke="#333" stroke-width="0.55"/><rect x="132.05" y="562.11" width="8.33" height="8.29" fill="#f49a4a" stroke="#333" stroke-width="0.55"/><rect x="140.38" y="562.11" width="8.33" height="8.29" fill="#357bc1" stroke="#333" stroke-width="0.55"/><rect x="148.71" y="562.11" width="8.33" height="8.29" fill="#97d2eb" stroke="#333" stroke-width="0.55"/><rect x="157.04" y="562.11" width="8.33" height="8.29" fill="#a5d9ed" stroke="#333" stroke-width="0.55"/><rect x="165.37" y="562.11" width="8.33" height="8.29" fill="#c4e7f1" stroke="#333" stroke-width="0.55"/><rect x="32.10" y="512.4" width="141.60" height="58.00" fill="none" stroke="#222" stroke-width="0.8"/><line x1="82.08" y1="512.4" x2="82.08" y2="570.40" stroke="#111" stroke-width="1.6"/><line x1="132.05" y1="512.4" x2="132.05" y2="570.40" stroke="#111" stroke-width="1.6"/><line x1="28.3" y1="512.6999999999999" x2="28.3" y2="570.10" stroke="#111" stroke-width="1"/><rect x="32.10" y="575.20" width="8.33" height="8.22" fill="#80c5e5" stroke="#333" stroke-width="0.55"/><rect x="40.43" y="575.20" width="8.33" height="8.22" fill="#fad58d" stroke="#333" stroke-width="0.55"/><rect x="48.76" y="575.20" width="8.33" height="8.22" fill="#3981c5" stroke="#333" stroke-width="0.55"/><rect x="57.09" y="575.20" width="8.33" height="8.22" fill="#f49849" stroke="#333" stroke-width="0.55"/><rect x="65.42" y="575.20" width="8.33" height="8.22" fill="#f8bb6a" stroke="#333" stroke-width="0.55"/><rect x="73.75" y="575.20" width="8.33" height="8.22" fill="#8acce8" stroke="#333" stroke-width="0.55"/><rect x="82.08" y="575.20" width="8.33" height="8.22" fill="#f6ad5c" stroke="#333" stroke-width="0.55"/><rect x="90.41" y="575.20" width="8.33" height="8.22" fill="#fada94" stroke="#333" stroke-width="0.55"/><rect x="98.74" y="575.20" width="8.33" height="8.22" fill="#4492cf" stroke="#333" stroke-width="0.55"/><rect x="107.06" y="575.20" width="8.33" height="8.22" fill="#f8bc6b" stroke="#333" stroke-width="0.55"/><rect x="115.39" y="575.20" width="8.33" height="8.22" fill="#f4edc6" stroke="#333" stroke-width="0.55"/><rect x="123.72" y="575.20" width="8.33" height="8.22" fill="#b6e1f0" stroke="#333" stroke-width="0.55"/><rect x="132.05" y="575.20" width="8.33" height="8.22" fill="#f9c675" stroke="#333" stroke-width="0.55"/><rect x="140.38" y="575.20" width="8.33" height="8.22" fill="#fad48b" stroke="#333" stroke-width="0.55"/><rect x="148.71" y="575.20" width="8.33" height="8.22" fill="#f49b4b" stroke="#333" stroke-width="0.55"/><rect x="157.04" y="575.20" width="8.33" height="8.22" fill="#f48e42" stroke="#333" stroke-width="0.55"/><rect x="165.37" y="575.20" width="8.33" height="8.22" fill="#8ecee9" stroke="#333" stroke-width="0.55"/><rect x="32.10" y="583.42" width="8.33" height="8.22" fill="#facf84" stroke="#333" stroke-width="0.55"/><rect x="40.43" y="583.42" width="8.33" height="8.22" fill="#fad48b" stroke="#333" stroke-width="0.55"/><rect x="48.76" y="583.42" width="8.33" height="8.22" fill="#4593cf" stroke="#333" stroke-width="0.55"/><rect x="57.09" y="583.42" width="8.33" height="8.22" fill="#f8b968" stroke="#333" stroke-width="0.55"/><rect x="65.42" y="583.42" width="8.33" height="8.22" fill="#f8be6e" stroke="#333" stroke-width="0.55"/><rect x="73.75" y="583.42" width="8.33" height="8.22" fill="#7fc4e5" stroke="#333" stroke-width="0.55"/><rect x="82.08" y="583.42" width="8.33" height="8.22" fill="#ef582c" stroke="#333" stroke-width="0.55"/><rect x="90.41" y="583.42" width="8.33" height="8.22" fill="#f5a14f" stroke="#333" stroke-width="0.55"/><rect x="98.74" y="583.42" width="8.33" height="8.22" fill="#c6e8f0" stroke="#333" stroke-width="0.55"/><rect x="107.06" y="583.42" width="8.33" height="8.22" fill="#f7b868" stroke="#333" stroke-width="0.55"/><rect x="115.39" y="583.42" width="8.33" height="8.22" fill="#f7b564" stroke="#333" stroke-width="0.55"/><rect x="123.72" y="583.42" width="8.33" height="8.22" fill="#84c8e7" stroke="#333" stroke-width="0.55"/><rect x="132.05" y="583.42" width="8.33" height="8.22" fill="#eaf4e7" stroke="#333" stroke-width="0.55"/><rect x="140.38" y="583.42" width="8.33" height="8.22" fill="#87cae8" stroke="#333" stroke-width="0.55"/><rect x="148.71" y="583.42" width="8.33" height="8.22" fill="#ceeaee" stroke="#333" stroke-width="0.55"/><rect x="157.04" y="583.42" width="8.33" height="8.22" fill="#d5edec" stroke="#333" stroke-width="0.55"/><rect x="165.37" y="583.42" width="8.33" height="8.22" fill="#8ecee9" stroke="#333" stroke-width="0.55"/><rect x="32.10" y="591.63" width="8.33" height="8.22" fill="#ef5a2c" stroke="#333" stroke-width="0.55"/><rect x="40.43" y="591.63" width="8.33" height="8.22" fill="#c5e8f1" stroke="#333" stroke-width="0.55"/><rect x="48.76" y="591.63" width="8.33" height="8.22" fill="#9fd6ec" stroke="#333" stroke-width="0.55"/><rect x="57.09" y="591.63" width="8.33" height="8.22" fill="#ee4928" stroke="#333" stroke-width="0.55"/><rect x="65.42" y="591.63" width="8.33" height="8.22" fill="#dcefeb" stroke="#333" stroke-width="0.55"/><rect x="73.75" y="591.63" width="8.33" height="8.22" fill="#f5a351" stroke="#333" stroke-width="0.55"/><rect x="82.08" y="591.63" width="8.33" height="8.22" fill="#7ec3e5" stroke="#333" stroke-width="0.55"/><rect x="90.41" y="591.63" width="8.33" height="8.22" fill="#8ccde9" stroke="#333" stroke-width="0.55"/><rect x="98.74" y="591.63" width="8.33" height="8.22" fill="#d0ebee" stroke="#333" stroke-width="0.55"/><rect x="107.06" y="591.63" width="8.33" height="8.22" fill="#f7b261" stroke="#333" stroke-width="0.55"/><rect x="115.39" y="591.63" width="8.33" height="8.22" fill="#fad68e" stroke="#333" stroke-width="0.55"/><rect x="123.72" y="591.63" width="8.33" height="8.22" fill="#f7b665" stroke="#333" stroke-width="0.55"/><rect x="132.05" y="591.63" width="8.33" height="8.22" fill="#f7b665" stroke="#333" stroke-width="0.55"/><rect x="140.38" y="591.63" width="8.33" height="8.22" fill="#75bde2" stroke="#333" stroke-width="0.55"/><rect x="148.71" y="591.63" width="8.33" height="8.22" fill="#86c9e7" stroke="#333" stroke-width="0.55"/><rect x="157.04" y="591.63" width="8.33" height="8.22" fill="#7fc4e5" stroke="#333" stroke-width="0.55"/><rect x="165.37" y="591.63" width="8.33" height="8.22" fill="#89cce8" stroke="#333" stroke-width="0.55"/><rect x="32.10" y="599.85" width="8.33" height="8.22" fill="#82c7e6" stroke="#333" stroke-width="0.55"/><rect x="40.43" y="599.85" width="8.33" height="8.22" fill="#8fcee9" stroke="#333" stroke-width="0.55"/><rect x="48.76" y="599.85" width="8.33" height="8.22" fill="#91cfea" stroke="#333" stroke-width="0.55"/><rect x="57.09" y="599.85" width="8.33" height="8.22" fill="#f7b564" stroke="#333" stroke-width="0.55"/><rect x="65.42" y="599.85" width="8.33" height="8.22" fill="#8ccde9" stroke="#333" stroke-width="0.55"/><rect x="73.75" y="599.85" width="8.33" height="8.22" fill="#89cce8" stroke="#333" stroke-width="0.55"/><rect x="82.08" y="599.85" width="8.33" height="8.22" fill="#f8bc6b" stroke="#333" stroke-width="0.55"/><rect x="90.41" y="599.85" width="8.33" height="8.22" fill="#f49648" stroke="#333" stroke-width="0.55"/><rect x="98.74" y="599.85" width="8.33" height="8.22" fill="#f8bc6c" stroke="#333" stroke-width="0.55"/><rect x="107.06" y="599.85" width="8.33" height="8.22" fill="#f49144" stroke="#333" stroke-width="0.55"/><rect x="115.39" y="599.85" width="8.33" height="8.22" fill="#f7b767" stroke="#333" stroke-width="0.55"/><rect x="123.72" y="599.85" width="8.33" height="8.22" fill="#d1ebee" stroke="#333" stroke-width="0.55"/><rect x="132.05" y="599.85" width="8.33" height="8.22" fill="#bfe6f2" stroke="#333" stroke-width="0.55"/><rect x="140.38" y="599.85" width="8.33" height="8.22" fill="#f6eabc" stroke="#333" stroke-width="0.55"/><rect x="148.71" y="599.85" width="8.33" height="8.22" fill="#ef5c2c" stroke="#333" stroke-width="0.55"/><rect x="157.04" y="599.85" width="8.33" height="8.22" fill="#fbe09e" stroke="#333" stroke-width="0.55"/><rect x="165.37" y="599.85" width="8.33" height="8.22" fill="#86c9e7" stroke="#333" stroke-width="0.55"/><rect x="32.10" y="608.07" width="8.33" height="8.22" fill="#81c6e6" stroke="#333" stroke-width="0.55"/><rect x="40.43" y="608.07" width="8.33" height="8.22" fill="#f7b564" stroke="#333" stroke-width="0.55"/><rect x="48.76" y="608.07" width="8.33" height="8.22" fill="#fbdf9c" stroke="#333" stroke-width="0.55"/><rect x="57.09" y="608.07" width="8.33" height="8.22" fill="#f0602d" stroke="#333" stroke-width="0.55"/><rect x="65.42" y="608.07" width="8.33" height="8.22" fill="#c4e7f1" stroke="#333" stroke-width="0.55"/><rect x="73.75" y="608.07" width="8.33" height="8.22" fill="#f8e8b5" stroke="#333" stroke-width="0.55"/><rect x="82.08" y="608.07" width="8.33" height="8.22" fill="#88cbe8" stroke="#333" stroke-width="0.55"/><rect x="90.41" y="608.07" width="8.33" height="8.22" fill="#f9c373" stroke="#333" stroke-width="0.55"/><rect x="98.74" y="608.07" width="8.33" height="8.22" fill="#cceaef" stroke="#333" stroke-width="0.55"/><rect x="107.06" y="608.07" width="8.33" height="8.22" fill="#f9c677" stroke="#333" stroke-width="0.55"/><rect x="115.39" y="608.07" width="8.33" height="8.22" fill="#499bd4" stroke="#333" stroke-width="0.55"/><rect x="123.72" y="608.07" width="8.33" height="8.22" fill="#eef5e6" stroke="#333" stroke-width="0.55"/><rect x="132.05" y="608.07" width="8.33" height="8.22" fill="#f7b362" stroke="#333" stroke-width="0.55"/><rect x="140.38" y="608.07" width="8.33" height="8.22" fill="#f5ecc2" stroke="#333" stroke-width="0.55"/><rect x="148.71" y="608.07" width="8.33" height="8.22" fill="#f0652f" stroke="#333" stroke-width="0.55"/><rect x="157.04" y="608.07" width="8.33" height="8.22" fill="#8bcde9" stroke="#333" stroke-width="0.55"/><rect x="165.37" y="608.07" width="8.33" height="8.22" fill="#f7eaba" stroke="#333" stroke-width="0.55"/><rect x="32.10" y="616.28" width="8.33" height="8.22" fill="#f5ecc3" stroke="#333" stroke-width="0.55"/><rect x="40.43" y="616.28" width="8.33" height="8.22" fill="#f4edc7" stroke="#333" stroke-width="0.55"/><rect x="48.76" y="616.28" width="8.33" height="8.22" fill="#f6ae5d" stroke="#333" stroke-width="0.55"/><rect x="57.09" y="616.28" width="8.33" height="8.22" fill="#f49345" stroke="#333" stroke-width="0.55"/><rect x="65.42" y="616.28" width="8.33" height="8.22" fill="#cfebee" stroke="#333" stroke-width="0.55"/><rect x="73.75" y="616.28" width="8.33" height="8.22" fill="#cae9ef" stroke="#333" stroke-width="0.55"/><rect x="82.08" y="616.28" width="8.33" height="8.22" fill="#fad58d" stroke="#333" stroke-width="0.55"/><rect x="90.41" y="616.28" width="8.33" height="8.22" fill="#f59f4e" stroke="#333" stroke-width="0.55"/><rect x="98.74" y="616.28" width="8.33" height="8.22" fill="#fad48b" stroke="#333" stroke-width="0.55"/><rect x="107.06" y="616.28" width="8.33" height="8.22" fill="#f49a4a" stroke="#333" stroke-width="0.55"/><rect x="115.39" y="616.28" width="8.33" height="8.22" fill="#7ac1e4" stroke="#333" stroke-width="0.55"/><rect x="123.72" y="616.28" width="8.33" height="8.22" fill="#cfebee" stroke="#333" stroke-width="0.55"/><rect x="132.05" y="616.28" width="8.33" height="8.22" fill="#f9cc80" stroke="#333" stroke-width="0.55"/><rect x="140.38" y="616.28" width="8.33" height="8.22" fill="#d4eded" stroke="#333" stroke-width="0.55"/><rect x="148.71" y="616.28" width="8.33" height="8.22" fill="#f8bd6c" stroke="#333" stroke-width="0.55"/><rect x="157.04" y="616.28" width="8.33" height="8.22" fill="#253f92" stroke="#333" stroke-width="0.55"/><rect x="165.37" y="616.28" width="8.33" height="8.22" fill="#82c7e6" stroke="#333" stroke-width="0.55"/><rect x="32.10" y="575.2" width="141.60" height="49.30" fill="none" stroke="#222" stroke-width="0.8"/><line x1="82.08" y1="575.2" x2="82.08" y2="624.50" stroke="#111" stroke-width="1.6"/><line x1="132.05" y1="575.2" x2="132.05" y2="624.50" stroke="#111" stroke-width="1.6"/><line x1="28.3" y1="575.5" x2="28.3" y2="624.20" stroke="#111" stroke-width="1"/><rect x="32.10" y="629.00" width="8.33" height="8.23" fill="#fadb96" stroke="#333" stroke-width="0.55"/><rect x="40.43" y="629.00" width="8.33" height="8.23" fill="#89cbe8" stroke="#333" stroke-width="0.55"/><rect x="48.76" y="629.00" width="8.33" height="8.23" fill="#f6ac5b" stroke="#333" stroke-width="0.55"/><rect x="57.09" y="629.00" width="8.33" height="8.23" fill="#3f8bcb" stroke="#333" stroke-width="0.55"/><rect x="65.42" y="629.00" width="8.33" height="8.23" fill="#c2e7f1" stroke="#333" stroke-width="0.55"/><rect x="73.75" y="629.00" width="8.33" height="8.23" fill="#f59c4c" stroke="#333" stroke-width="0.55"/><rect x="82.08" y="629.00" width="8.33" height="8.23" fill="#76bde2" stroke="#333" stroke-width="0.55"/><rect x="90.41" y="629.00" width="8.33" height="8.23" fill="#fae5a9" stroke="#333" stroke-width="0.55"/><rect x="98.74" y="629.00" width="8.33" height="8.23" fill="#f59f4e" stroke="#333" stroke-width="0.55"/><rect x="107.06" y="629.00" width="8.33" height="8.23" fill="#91cfea" stroke="#333" stroke-width="0.55"/><rect x="115.39" y="629.00" width="8.33" height="8.23" fill="#dbefeb" stroke="#333" stroke-width="0.55"/><rect x="123.72" y="629.00" width="8.33" height="8.23" fill="#f49547" stroke="#333" stroke-width="0.55"/><rect x="132.05" y="629.00" width="8.33" height="8.23" fill="#d6edec" stroke="#333" stroke-width="0.55"/><rect x="140.38" y="629.00" width="8.33" height="8.23" fill="#f8ba69" stroke="#333" stroke-width="0.55"/><rect x="148.71" y="629.00" width="8.33" height="8.23" fill="#70b9e0" stroke="#333" stroke-width="0.55"/><rect x="157.04" y="629.00" width="8.33" height="8.23" fill="#cdeaef" stroke="#333" stroke-width="0.55"/><rect x="165.37" y="629.00" width="8.33" height="8.23" fill="#ee4c29" stroke="#333" stroke-width="0.55"/><rect x="32.10" y="637.23" width="8.33" height="8.23" fill="#f8bc6b" stroke="#333" stroke-width="0.55"/><rect x="40.43" y="637.23" width="8.33" height="8.23" fill="#408ccb" stroke="#333" stroke-width="0.55"/><rect x="48.76" y="637.23" width="8.33" height="8.23" fill="#f5ecc2" stroke="#333" stroke-width="0.55"/><rect x="57.09" y="637.23" width="8.33" height="8.23" fill="#c4e7f1" stroke="#333" stroke-width="0.55"/><rect x="65.42" y="637.23" width="8.33" height="8.23" fill="#eef5e6" stroke="#333" stroke-width="0.55"/><rect x="73.75" y="637.23" width="8.33" height="8.23" fill="#fadc97" stroke="#333" stroke-width="0.55"/><rect x="82.08" y="637.23" width="8.33" height="8.23" fill="#f8ba69" stroke="#333" stroke-width="0.55"/><rect x="90.41" y="637.23" width="8.33" height="8.23" fill="#f49849" stroke="#333" stroke-width="0.55"/><rect x="98.74" y="637.23" width="8.33" height="8.23" fill="#f38a3f" stroke="#333" stroke-width="0.55"/><rect x="107.06" y="637.23" width="8.33" height="8.23" fill="#eb3e26" stroke="#333" stroke-width="0.55"/><rect x="115.39" y="637.23" width="8.33" height="8.23" fill="#fbdd9a" stroke="#333" stroke-width="0.55"/><rect x="123.72" y="637.23" width="8.33" height="8.23" fill="#f7b160" stroke="#333" stroke-width="0.55"/><rect x="132.05" y="637.23" width="8.33" height="8.23" fill="#93d0ea" stroke="#333" stroke-width="0.55"/><rect x="140.38" y="637.23" width="8.33" height="8.23" fill="#f6ebbf" stroke="#333" stroke-width="0.55"/><rect x="148.71" y="637.23" width="8.33" height="8.23" fill="#94d1ea" stroke="#333" stroke-width="0.55"/><rect x="157.04" y="637.23" width="8.33" height="8.23" fill="#83c7e6" stroke="#333" stroke-width="0.55"/><rect x="165.37" y="637.23" width="8.33" height="8.23" fill="#d2eced" stroke="#333" stroke-width="0.55"/><rect x="32.10" y="645.46" width="8.33" height="8.23" fill="#f27f38" stroke="#333" stroke-width="0.55"/><rect x="40.43" y="645.46" width="8.33" height="8.23" fill="#f6ebbd" stroke="#333" stroke-width="0.55"/><rect x="48.76" y="645.46" width="8.33" height="8.23" fill="#f49b4b" stroke="#333" stroke-width="0.55"/><rect x="57.09" y="645.46" width="8.33" height="8.23" fill="#428fcd" stroke="#333" stroke-width="0.55"/><rect x="65.42" y="645.46" width="8.33" height="8.23" fill="#96d2eb" stroke="#333" stroke-width="0.55"/><rect x="73.75" y="645.46" width="8.33" height="8.23" fill="#f7b463" stroke="#333" stroke-width="0.55"/><rect x="82.08" y="645.46" width="8.33" height="8.23" fill="#c6e8f0" stroke="#333" stroke-width="0.55"/><rect x="90.41" y="645.46" width="8.33" height="8.23" fill="#f6a957" stroke="#333" stroke-width="0.55"/><rect x="98.74" y="645.46" width="8.33" height="8.23" fill="#f9c473" stroke="#333" stroke-width="0.55"/><rect x="107.06" y="645.46" width="8.33" height="8.23" fill="#8ecee9" stroke="#333" stroke-width="0.55"/><rect x="115.39" y="645.46" width="8.33" height="8.23" fill="#88cbe8" stroke="#333" stroke-width="0.55"/><rect x="123.72" y="645.46" width="8.33" height="8.23" fill="#f9c373" stroke="#333" stroke-width="0.55"/><rect x="132.05" y="645.46" width="8.33" height="8.23" fill="#fad086" stroke="#333" stroke-width="0.55"/><rect x="140.38" y="645.46" width="8.33" height="8.23" fill="#fad790" stroke="#333" stroke-width="0.55"/><rect x="148.71" y="645.46" width="8.33" height="8.23" fill="#377ec3" stroke="#333" stroke-width="0.55"/><rect x="157.04" y="645.46" width="8.33" height="8.23" fill="#8fcee9" stroke="#333" stroke-width="0.55"/><rect x="165.37" y="645.46" width="8.33" height="8.23" fill="#f8bc6b" stroke="#333" stroke-width="0.55"/><rect x="32.10" y="653.69" width="8.33" height="8.23" fill="#f9c97b" stroke="#333" stroke-width="0.55"/><rect x="40.43" y="653.69" width="8.33" height="8.23" fill="#7fc5e5" stroke="#333" stroke-width="0.55"/><rect x="48.76" y="653.69" width="8.33" height="8.23" fill="#fad891" stroke="#333" stroke-width="0.55"/><rect x="57.09" y="653.69" width="8.33" height="8.23" fill="#4290cd" stroke="#333" stroke-width="0.55"/><rect x="65.42" y="653.69" width="8.33" height="8.23" fill="#8acce8" stroke="#333" stroke-width="0.55"/><rect x="73.75" y="653.69" width="8.33" height="8.23" fill="#cceaef" stroke="#333" stroke-width="0.55"/><rect x="82.08" y="653.69" width="8.33" height="8.23" fill="#f7b362" stroke="#333" stroke-width="0.55"/><rect x="90.41" y="653.69" width="8.33" height="8.23" fill="#f49748" stroke="#333" stroke-width="0.55"/><rect x="98.74" y="653.69" width="8.33" height="8.23" fill="#f7e9b7" stroke="#333" stroke-width="0.55"/><rect x="107.06" y="653.69" width="8.33" height="8.23" fill="#f4eec9" stroke="#333" stroke-width="0.55"/><rect x="115.39" y="653.69" width="8.33" height="8.23" fill="#ee4e29" stroke="#333" stroke-width="0.55"/><rect x="123.72" y="653.69" width="8.33" height="8.23" fill="#f7b261" stroke="#333" stroke-width="0.55"/><rect x="132.05" y="653.69" width="8.33" height="8.23" fill="#f0f3de" stroke="#333" stroke-width="0.55"/><rect x="140.38" y="653.69" width="8.33" height="8.23" fill="#7fc4e5" stroke="#333" stroke-width="0.55"/><rect x="148.71" y="653.69" width="8.33" height="8.23" fill="#99d3eb" stroke="#333" stroke-width="0.55"/><rect x="157.04" y="653.69" width="8.33" height="8.23" fill="#cfebee" stroke="#333" stroke-width="0.55"/><rect x="165.37" y="653.69" width="8.33" height="8.23" fill="#c9e9f0" stroke="#333" stroke-width="0.55"/><rect x="32.10" y="661.92" width="8.33" height="8.23" fill="#fad790" stroke="#333" stroke-width="0.55"/><rect x="40.43" y="661.92" width="8.33" height="8.23" fill="#82c6e6" stroke="#333" stroke-width="0.55"/><rect x="48.76" y="661.92" width="8.33" height="8.23" fill="#fad891" stroke="#333" stroke-width="0.55"/><rect x="57.09" y="661.92" width="8.33" height="8.23" fill="#80c5e5" stroke="#333" stroke-width="0.55"/><rect x="65.42" y="661.92" width="8.33" height="8.23" fill="#8bcce9" stroke="#333" stroke-width="0.55"/><rect x="73.75" y="661.92" width="8.33" height="8.23" fill="#f9c777" stroke="#333" stroke-width="0.55"/><rect x="82.08" y="661.92" width="8.33" height="8.23" fill="#f6ab59" stroke="#333" stroke-width="0.55"/><rect x="90.41" y="661.92" width="8.33" height="8.23" fill="#f8bd6c" stroke="#333" stroke-width="0.55"/><rect x="98.74" y="661.92" width="8.33" height="8.23" fill="#f9c777" stroke="#333" stroke-width="0.55"/><rect x="107.06" y="661.92" width="8.33" height="8.23" fill="#f49748" stroke="#333" stroke-width="0.55"/><rect x="115.39" y="661.92" width="8.33" height="8.23" fill="#c8e9f0" stroke="#333" stroke-width="0.55"/><rect x="123.72" y="661.92" width="8.33" height="8.23" fill="#f49346" stroke="#333" stroke-width="0.55"/><rect x="132.05" y="661.92" width="8.33" height="8.23" fill="#c1e6f2" stroke="#333" stroke-width="0.55"/><rect x="140.38" y="661.92" width="8.33" height="8.23" fill="#f7b463" stroke="#333" stroke-width="0.55"/><rect x="148.71" y="661.92" width="8.33" height="8.23" fill="#b1dfef" stroke="#333" stroke-width="0.55"/><rect x="157.04" y="661.92" width="8.33" height="8.23" fill="#24388c" stroke="#333" stroke-width="0.55"/><rect x="165.37" y="661.92" width="8.33" height="8.23" fill="#f4edc6" stroke="#333" stroke-width="0.55"/><rect x="32.10" y="670.15" width="8.33" height="8.23" fill="#ef562b" stroke="#333" stroke-width="0.55"/><rect x="40.43" y="670.15" width="8.33" height="8.23" fill="#fad892" stroke="#333" stroke-width="0.55"/><rect x="48.76" y="670.15" width="8.33" height="8.23" fill="#f9c87a" stroke="#333" stroke-width="0.55"/><rect x="57.09" y="670.15" width="8.33" height="8.23" fill="#24388c" stroke="#333" stroke-width="0.55"/><rect x="65.42" y="670.15" width="8.33" height="8.23" fill="#f5ecc4" stroke="#333" stroke-width="0.55"/><rect x="73.75" y="670.15" width="8.33" height="8.23" fill="#f7b867" stroke="#333" stroke-width="0.55"/><rect x="82.08" y="670.15" width="8.33" height="8.23" fill="#f9cd81" stroke="#333" stroke-width="0.55"/><rect x="90.41" y="670.15" width="8.33" height="8.23" fill="#f8be6e" stroke="#333" stroke-width="0.55"/><rect x="98.74" y="670.15" width="8.33" height="8.23" fill="#cdeaef" stroke="#333" stroke-width="0.55"/><rect x="107.06" y="670.15" width="8.33" height="8.23" fill="#a9dbee" stroke="#333" stroke-width="0.55"/><rect x="115.39" y="670.15" width="8.33" height="8.23" fill="#7fc4e5" stroke="#333" stroke-width="0.55"/><rect x="123.72" y="670.15" width="8.33" height="8.23" fill="#f8c070" stroke="#333" stroke-width="0.55"/><rect x="132.05" y="670.15" width="8.33" height="8.23" fill="#f7b867" stroke="#333" stroke-width="0.55"/><rect x="140.38" y="670.15" width="8.33" height="8.23" fill="#fada95" stroke="#333" stroke-width="0.55"/><rect x="148.71" y="670.15" width="8.33" height="8.23" fill="#91d0ea" stroke="#333" stroke-width="0.55"/><rect x="157.04" y="670.15" width="8.33" height="8.23" fill="#f4eec9" stroke="#333" stroke-width="0.55"/><rect x="165.37" y="670.15" width="8.33" height="8.23" fill="#f8bf6e" stroke="#333" stroke-width="0.55"/><rect x="32.10" y="678.38" width="8.33" height="8.23" fill="#ee4f29" stroke="#333" stroke-width="0.55"/><rect x="40.43" y="678.38" width="8.33" height="8.23" fill="#e4f2e9" stroke="#333" stroke-width="0.55"/><rect x="48.76" y="678.38" width="8.33" height="8.23" fill="#f3873d" stroke="#333" stroke-width="0.55"/><rect x="57.09" y="678.38" width="8.33" height="8.23" fill="#2c6dba" stroke="#333" stroke-width="0.55"/><rect x="65.42" y="678.38" width="8.33" height="8.23" fill="#fadb96" stroke="#333" stroke-width="0.55"/><rect x="73.75" y="678.38" width="8.33" height="8.23" fill="#f8c070" stroke="#333" stroke-width="0.55"/><rect x="82.08" y="678.38" width="8.33" height="8.23" fill="#fad58d" stroke="#333" stroke-width="0.55"/><rect x="90.41" y="678.38" width="8.33" height="8.23" fill="#f8b969" stroke="#333" stroke-width="0.55"/><rect x="98.74" y="678.38" width="8.33" height="8.23" fill="#f28038" stroke="#333" stroke-width="0.55"/><rect x="107.06" y="678.38" width="8.33" height="8.23" fill="#92d0ea" stroke="#333" stroke-width="0.55"/><rect x="115.39" y="678.38" width="8.33" height="8.23" fill="#fad38a" stroke="#333" stroke-width="0.55"/><rect x="123.72" y="678.38" width="8.33" height="8.23" fill="#f7b665" stroke="#333" stroke-width="0.55"/><rect x="132.05" y="678.38" width="8.33" height="8.23" fill="#f3eecc" stroke="#333" stroke-width="0.55"/><rect x="140.38" y="678.38" width="8.33" height="8.23" fill="#cfebee" stroke="#333" stroke-width="0.55"/><rect x="148.71" y="678.38" width="8.33" height="8.23" fill="#264597" stroke="#333" stroke-width="0.55"/><rect x="157.04" y="678.38" width="8.33" height="8.23" fill="#8ecee9" stroke="#333" stroke-width="0.55"/><rect x="165.37" y="678.38" width="8.33" height="8.23" fill="#f2f0d2" stroke="#333" stroke-width="0.55"/><rect x="32.10" y="686.61" width="8.33" height="8.23" fill="#ec4327" stroke="#333" stroke-width="0.55"/><rect x="40.43" y="686.61" width="8.33" height="8.23" fill="#f49345" stroke="#333" stroke-width="0.55"/><rect x="48.76" y="686.61" width="8.33" height="8.23" fill="#f49547" stroke="#333" stroke-width="0.55"/><rect x="57.09" y="686.61" width="8.33" height="8.23" fill="#3981c5" stroke="#333" stroke-width="0.55"/><rect x="65.42" y="686.61" width="8.33" height="8.23" fill="#81c6e6" stroke="#333" stroke-width="0.55"/><rect x="73.75" y="686.61" width="8.33" height="8.23" fill="#fbdf9c" stroke="#333" stroke-width="0.55"/><rect x="82.08" y="686.61" width="8.33" height="8.23" fill="#afdeef" stroke="#333" stroke-width="0.55"/><rect x="90.41" y="686.61" width="8.33" height="8.23" fill="#f6ae5c" stroke="#333" stroke-width="0.55"/><rect x="98.74" y="686.61" width="8.33" height="8.23" fill="#f48f42" stroke="#333" stroke-width="0.55"/><rect x="107.06" y="686.61" width="8.33" height="8.23" fill="#85c9e7" stroke="#333" stroke-width="0.55"/><rect x="115.39" y="686.61" width="8.33" height="8.23" fill="#94d1ea" stroke="#333" stroke-width="0.55"/><rect x="123.72" y="686.61" width="8.33" height="8.23" fill="#f5ecc4" stroke="#333" stroke-width="0.55"/><rect x="132.05" y="686.61" width="8.33" height="8.23" fill="#f7b463" stroke="#333" stroke-width="0.55"/><rect x="140.38" y="686.61" width="8.33" height="8.23" fill="#face82" stroke="#333" stroke-width="0.55"/><rect x="148.71" y="686.61" width="8.33" height="8.23" fill="#85c9e7" stroke="#333" stroke-width="0.55"/><rect x="157.04" y="686.61" width="8.33" height="8.23" fill="#8ecee9" stroke="#333" stroke-width="0.55"/><rect x="165.37" y="686.61" width="8.33" height="8.23" fill="#daefeb" stroke="#333" stroke-width="0.55"/><rect x="32.10" y="694.84" width="8.33" height="8.23" fill="#9dd5ec" stroke="#333" stroke-width="0.55"/><rect x="40.43" y="694.84" width="8.33" height="8.23" fill="#98d3eb" stroke="#333" stroke-width="0.55"/><rect x="48.76" y="694.84" width="8.33" height="8.23" fill="#377ec3" stroke="#333" stroke-width="0.55"/><rect x="57.09" y="694.84" width="8.33" height="8.23" fill="#f9cc7f" stroke="#333" stroke-width="0.55"/><rect x="65.42" y="694.84" width="8.33" height="8.23" fill="#fad58e" stroke="#333" stroke-width="0.55"/><rect x="73.75" y="694.84" width="8.33" height="8.23" fill="#88cbe8" stroke="#333" stroke-width="0.55"/><rect x="82.08" y="694.84" width="8.33" height="8.23" fill="#fad289" stroke="#333" stroke-width="0.55"/><rect x="90.41" y="694.84" width="8.33" height="8.23" fill="#f8b968" stroke="#333" stroke-width="0.55"/><rect x="98.74" y="694.84" width="8.33" height="8.23" fill="#f7b565" stroke="#333" stroke-width="0.55"/><rect x="107.06" y="694.84" width="8.33" height="8.23" fill="#f0652f" stroke="#333" stroke-width="0.55"/><rect x="115.39" y="694.84" width="8.33" height="8.23" fill="#f7b362" stroke="#333" stroke-width="0.55"/><rect x="123.72" y="694.84" width="8.33" height="8.23" fill="#f8bc6b" stroke="#333" stroke-width="0.55"/><rect x="132.05" y="694.84" width="8.33" height="8.23" fill="#fad790" stroke="#333" stroke-width="0.55"/><rect x="140.38" y="694.84" width="8.33" height="8.23" fill="#f7b362" stroke="#333" stroke-width="0.55"/><rect x="148.71" y="694.84" width="8.33" height="8.23" fill="#fadb96" stroke="#333" stroke-width="0.55"/><rect x="157.04" y="694.84" width="8.33" height="8.23" fill="#8ccde9" stroke="#333" stroke-width="0.55"/><rect x="165.37" y="694.84" width="8.33" height="8.23" fill="#3e89c9" stroke="#333" stroke-width="0.55"/><rect x="32.10" y="703.07" width="8.33" height="8.23" fill="#f7b05f" stroke="#333" stroke-width="0.55"/><rect x="40.43" y="703.07" width="8.33" height="8.23" fill="#f7b362" stroke="#333" stroke-width="0.55"/><rect x="48.76" y="703.07" width="8.33" height="8.23" fill="#81c6e6" stroke="#333" stroke-width="0.55"/><rect x="57.09" y="703.07" width="8.33" height="8.23" fill="#81c5e6" stroke="#333" stroke-width="0.55"/><rect x="65.42" y="703.07" width="8.33" height="8.23" fill="#9cd4eb" stroke="#333" stroke-width="0.55"/><rect x="73.75" y="703.07" width="8.33" height="8.23" fill="#cbe9ef" stroke="#333" stroke-width="0.55"/><rect x="82.08" y="703.07" width="8.33" height="8.23" fill="#ed4627" stroke="#333" stroke-width="0.55"/><rect x="90.41" y="703.07" width="8.33" height="8.23" fill="#f7b463" stroke="#333" stroke-width="0.55"/><rect x="98.74" y="703.07" width="8.33" height="8.23" fill="#c6e8f0" stroke="#333" stroke-width="0.55"/><rect x="107.06" y="703.07" width="8.33" height="8.23" fill="#7fc4e5" stroke="#333" stroke-width="0.55"/><rect x="115.39" y="703.07" width="8.33" height="8.23" fill="#89cce8" stroke="#333" stroke-width="0.55"/><rect x="123.72" y="703.07" width="8.33" height="8.23" fill="#fad892" stroke="#333" stroke-width="0.55"/><rect x="132.05" y="703.07" width="8.33" height="8.23" fill="#ee4a28" stroke="#333" stroke-width="0.55"/><rect x="140.38" y="703.07" width="8.33" height="8.23" fill="#c0e6f2" stroke="#333" stroke-width="0.55"/><rect x="148.71" y="703.07" width="8.33" height="8.23" fill="#81c5e6" stroke="#333" stroke-width="0.55"/><rect x="157.04" y="703.07" width="8.33" height="8.23" fill="#f8b968" stroke="#333" stroke-width="0.55"/><rect x="165.37" y="703.07" width="8.33" height="8.23" fill="#f9e7af" stroke="#333" stroke-width="0.55"/><rect x="32.10" y="629.0" width="141.60" height="82.30" fill="none" stroke="#222" stroke-width="0.8"/><line x1="82.08" y1="629.0" x2="82.08" y2="711.30" stroke="#111" stroke-width="1.6"/><line x1="132.05" y1="629.0" x2="132.05" y2="711.30" stroke="#111" stroke-width="1.6"/><line x1="28.3" y1="629.3" x2="28.3" y2="711.00" stroke="#111" stroke-width="1"/></g><text x="0.4" y="491" font-size="12" text-anchor="start" fill="#000" stroke="#000" font-weight="bold" >E</text><text x="32" y="491.8" font-size="9.6" text-anchor="start" fill="#222" stroke="#222" >Memory CD8<tspan font-size="6" dy="-3.5">+</tspan><tspan dy="3.5"> T cells</tspan></text><rect x="32.10" y="498.4" width="49.98" height="12.100000000000023" fill="#161616"/><text x="57.09" y="507.26" font-size="7.8" text-anchor="middle" fill="#fff" stroke="none" >D0</text><rect x="82.08" y="498.4" width="49.98" height="12.100000000000023" fill="#e8380f"/><text x="107.06" y="507.26" font-size="7.8" text-anchor="middle" fill="#fff" stroke="none" >D7</text><rect x="132.05" y="498.4" width="41.65" height="12.100000000000023" fill="#36278c"/><text x="152.88" y="507.26" font-size="7.8" text-anchor="middle" fill="#fff" stroke="none" >Post</text><text transform="translate(13.30,541.6) rotate(-90)" font-size="8.6" text-anchor="middle" fill="#222" stroke="#222">Inhibitory</text><text transform="translate(22.50,541.6) rotate(-90)" font-size="8.6" text-anchor="middle" fill="#222" stroke="#222">receptors</text><text transform="translate(13.30,599.8) rotate(-90)" font-size="8.6" text-anchor="middle" fill="#222" stroke="#222">Costimulatory</text><text transform="translate(22.50,599.8) rotate(-90)" font-size="8.6" text-anchor="middle" fill="#222" stroke="#222">receptors</text><text transform="translate(13.30,670.2) rotate(-90)" font-size="8.6" text-anchor="middle" fill="#222" stroke="#222">Effector</text><text transform="translate(22.50,670.2) rotate(-90)" font-size="8.6" text-anchor="middle" fill="#222" stroke="#222">molecules</text><text x="177.4" y="519.10" font-size="7.4" text-anchor="start" fill="#222" stroke="#222" >HAVCR2</text><text x="177.4" y="527.63" font-size="7.4" text-anchor="start" fill="#222" stroke="#222" >LAG3</text><text x="177.4" y="536.16" font-size="7.4" text-anchor="start" fill="#222" stroke="#222" >PDCD1</text><text x="177.4" y="544.69" font-size="7.4" text-anchor="start" fill="#222" stroke="#222" >TIGIT</text><text x="177.4" y="553.22" font-size="7.4" text-anchor="start" fill="#222" stroke="#222" >CTLA4</text><text x="177.4" y="561.75" font-size="7.4" text-anchor="start" fill="#222" stroke="#222" >CD160</text><text x="177.4" y="570.28" font-size="7.4" text-anchor="start" fill="#222" stroke="#222" >CD244</text><text x="177.4" y="580.70" font-size="7.4" text-anchor="start" fill="#222" stroke="#222" >CD28</text><text x="177.4" y="589.50" font-size="7.4" text-anchor="start" fill="#222" stroke="#222" >CD27<tspan font-size="6.4" fill="#555"> */ns</tspan></text><text x="177.4" y="598.30" font-size="7.4" text-anchor="start" fill="#222" stroke="#222" >ICOS</text><text x="177.4" y="607.10" font-size="7.4" text-anchor="start" fill="#222" stroke="#222" >CD40LG<tspan font-size="6.4" fill="#555"> ****/ns</tspan></text><text x="177.4" y="615.90" font-size="7.4" text-anchor="start" fill="#222" stroke="#222" >TNFRSF9</text><text x="177.4" y="624.70" font-size="7.4" text-anchor="start" fill="#222" stroke="#222" >TNFRSF4</text><text x="177.4" y="635.10" font-size="7.4" text-anchor="start" fill="#222" stroke="#222" >GNLY</text><text x="177.4" y="643.64" font-size="7.4" text-anchor="start" fill="#222" stroke="#222" >GZMA<tspan font-size="6.4" fill="#555"> */ns</tspan></text><text x="177.4" y="652.18" font-size="7.4" text-anchor="start" fill="#222" stroke="#222" >GZMB</text><text x="177.4" y="660.72" font-size="7.4" text-anchor="start" fill="#222" stroke="#222" >PRF1<tspan font-size="6.4" fill="#555"> **/ns</tspan></text><text x="177.4" y="669.26" font-size="7.4" text-anchor="start" fill="#222" stroke="#222" >TNFSF10</text><text x="177.4" y="677.80" font-size="7.4" text-anchor="start" fill="#222" stroke="#222" >FASLG</text><text x="177.4" y="686.34" font-size="7.4" text-anchor="start" fill="#222" stroke="#222" >NKG7<tspan font-size="6.4" fill="#555"> ns/*</tspan></text><text x="177.4" y="694.88" font-size="7.4" text-anchor="start" fill="#222" stroke="#222" >IFNG</text><text x="177.4" y="703.42" font-size="7.4" text-anchor="start" fill="#222" stroke="#222" >GZMK<tspan font-size="6.4" fill="#555"> **/ns</tspan></text><text x="177.4" y="711.96" font-size="7.4" text-anchor="start" fill="#222" stroke="#222" >TNF</text><text transform="translate(31.81,714.5) rotate(90)" font-size="8.2" fill="#222" stroke="#222" textLength="17.3" lengthAdjust="spacingAndGlyphs">S203</text><text transform="translate(40.14,714.5) rotate(90)" font-size="8.2" fill="#222" stroke="#222" textLength="17.3" lengthAdjust="spacingAndGlyphs">S214</text><text transform="translate(48.47,714.5) rotate(90)" font-size="8.2" fill="#222" stroke="#222" textLength="17.3" lengthAdjust="spacingAndGlyphs">S216</text><text transform="translate(56.80,714.5) rotate(90)" font-size="8.2" fill="#222" stroke="#222" textLength="17.3" lengthAdjust="spacingAndGlyphs">S302</text><text transform="translate(65.13,714.5) rotate(90)" font-size="8.2" fill="#222" stroke="#222" textLength="17.3" lengthAdjust="spacingAndGlyphs">S306</text><text transform="translate(73.46,714.5) rotate(90)" font-size="8.2" fill="#222" stroke="#222" textLength="17.3" lengthAdjust="spacingAndGlyphs">S313</text><text transform="translate(81.79,714.5) rotate(90)" font-size="8.2" fill="#222" stroke="#222" textLength="17.3" lengthAdjust="spacingAndGlyphs">S203</text><text transform="translate(90.12,714.5) rotate(90)" font-size="8.2" fill="#222" stroke="#222" textLength="17.3" lengthAdjust="spacingAndGlyphs">S214</text><text transform="translate(98.45,714.5) rotate(90)" font-size="8.2" fill="#222" stroke="#222" textLength="17.3" lengthAdjust="spacingAndGlyphs">S216</text><text transform="translate(106.78,714.5) rotate(90)" font-size="8.2" fill="#222" stroke="#222" textLength="17.3" lengthAdjust="spacingAndGlyphs">S302</text><text transform="translate(115.11,714.5) rotate(90)" font-size="8.2" fill="#222" stroke="#222" textLength="17.3" lengthAdjust="spacingAndGlyphs">S306</text><text transform="translate(123.44,714.5) rotate(90)" font-size="8.2" fill="#222" stroke="#222" textLength="17.3" lengthAdjust="spacingAndGlyphs">S313</text><text transform="translate(131.77,714.5) rotate(90)" font-size="8.2" fill="#222" stroke="#222" textLength="17.3" lengthAdjust="spacingAndGlyphs">S214</text><text transform="translate(140.10,714.5) rotate(90)" font-size="8.2" fill="#222" stroke="#222" textLength="17.3" lengthAdjust="spacingAndGlyphs">S216</text><text transform="translate(148.42,714.5) rotate(90)" font-size="8.2" fill="#222" stroke="#222" textLength="17.3" lengthAdjust="spacingAndGlyphs">S302</text><text transform="translate(156.75,714.5) rotate(90)" font-size="8.2" fill="#222" stroke="#222" textLength="17.3" lengthAdjust="spacingAndGlyphs">S306</text><text transform="translate(165.08,714.5) rotate(90)" font-size="8.2" fill="#222" stroke="#222" textLength="17.3" lengthAdjust="spacingAndGlyphs">S313</text><rect x="177" y="723" width="43.8" height="7.6" fill="url(#cb)" stroke="#222" stroke-width="0.6"/><text x="181" y="721.7" font-size="7.4" text-anchor="middle" fill="#222" stroke="#222" >−2</text><text x="190.6" y="721.7" font-size="7.4" text-anchor="middle" fill="#222" stroke="#222" >−1</text><text x="200.8" y="721.7" font-size="7.4" text-anchor="middle" fill="#222" stroke="#222" >0</text><text x="210.6" y="721.7" font-size="7.4" text-anchor="middle" fill="#222" stroke="#222" >1</text><text x="220.4" y="721.7" font-size="7.4" text-anchor="middle" fill="#222" stroke="#222" >2</text><linearGradient id="rb" x1="0" x2="1" y1="0" y2="0"><stop offset="0" stop-color="#dc2a38"/><stop offset="0.17" stop-color="#e03a48"/><stop offset="0.18" stop-color="#e45a6a"/><stop offset="0.32" stop-color="#e87888"/><stop offset="0.33" stop-color="#f0b0cc"/><stop offset="0.5" stop-color="#ead0e6"/><stop offset="0.52" stop-color="#d8d0ea"/><stop offset="0.72" stop-color="#bcb4e0"/><stop offset="0.73" stop-color="#8a7ec8"/><stop offset="0.8" stop-color="#5e4caa"/><stop offset="0.93" stop-color="#3e2c90"/><stop offset="0.94" stop-color="#2a1a78"/><stop offset="1" stop-color="#2a1a78"/></linearGradient><text x="250.2" y="11.3" font-size="12" text-anchor="start" fill="#000" stroke="#000" font-weight="bold" >C</text><text x="400.6" y="11.6" font-size="9.7" text-anchor="middle" fill="#222" stroke="#222" textLength="141.5" lengthAdjust="spacingAndGlyphs">Gene set: cellular response to IL-7</text><line x1="282.7" y1="17.8" x2="517.7" y2="17.8" stroke="#222" stroke-width="1.3"/><text x="336" y="31.8" font-size="6.95" text-anchor="middle" fill="#222" >Naïve CD8<tspan font-size="4.5" dy="-2.5">+</tspan><tspan dy="2.5"> T cells</tspan></text><text x="464.7" y="32.6" font-size="6.95" text-anchor="middle" fill="#222" >Memory CD8<tspan font-size="4.5" dy="-2.5">+</tspan><tspan dy="2.5"> T cells</tspan></text><text transform="translate(259.8,136.4) rotate(-90)" font-size="10" fill="#222" stroke="#222" textLength="56.6" lengthAdjust="spacingAndGlyphs">Enrichment score</text><linearGradient id="g1" x1="0" x2="1" y1="0" y2="0"><stop offset="0.000" stop-color="#dc2a38"/><stop offset="0.165" stop-color="#e03a48"/><stop offset="0.182" stop-color="#e45a6a"/><stop offset="0.330" stop-color="#e87888"/><stop offset="0.340" stop-color="#f0b0cc"/><stop offset="0.520" stop-color="#ead0e6"/><stop offset="0.540" stop-color="#d8d0ea"/><stop offset="0.720" stop-color="#bcb4e0"/><stop offset="0.730" stop-color="#8a7ec8"/><stop offset="0.800" stop-color="#5e4caa"/><stop offset="0.930" stop-color="#3e2c90"/><stop offset="0.940" stop-color="#2a1a78"/><stop offset="1.000" stop-color="#2a1a78"/></linearGradient><rect x="283.40" y="38.00" width="105.40" height="65.70" fill="none" stroke="#e2e2e2" stroke-width="0.7"/><line x1="283.40" y1="38.00" x2="283.40" y2="103.70" stroke="#cfcfcf" stroke-width="0.8"/><line x1="283.40" y1="82.30" x2="388.80" y2="82.30" stroke="#d6d6d6" stroke-width="0.7"/><text x="279.80" y="45.25" font-size="7.6" text-anchor="end" fill="#333" stroke="#333" >0.7</text><text x="279.80" y="56.55" font-size="7.6" text-anchor="end" fill="#333" stroke="#333" >0.5</text><text x="279.80" y="67.85" font-size="7.6" text-anchor="end" fill="#333" stroke="#333" >0.3</text><text x="279.80" y="79.15" font-size="7.6" text-anchor="end" fill="#333" stroke="#333" >0.1</text><text x="279.80" y="84.80" font-size="7.6" text-anchor="end" fill="#333" stroke="#333" >0.0</text><line x1="285.60" y1="85.00" x2="285.60" y2="99.80" stroke="#8c8c8c" stroke-width="0.7"/><line x1="286.80" y1="85.00" x2="286.80" y2="99.80" stroke="#8c8c8c" stroke-width="0.7"/><line x1="288.50" y1="85.00" x2="288.50" y2="99.80" stroke="#8c8c8c" stroke-width="0.7"/><line x1="298.90" y1="85.00" x2="298.90" y2="99.80" stroke="#8c8c8c" stroke-width="0.7"/><line x1="305.80" y1="85.00" x2="305.80" y2="99.80" stroke="#8c8c8c" stroke-width="0.7"/><line x1="317.60" y1="85.00" x2="317.60" y2="99.80" stroke="#8c8c8c" stroke-width="0.7"/><line x1="339.90" y1="85.00" x2="339.90" y2="99.80" stroke="#8c8c8c" stroke-width="0.7"/><line x1="341.30" y1="85.00" x2="341.30" y2="99.80" stroke="#8c8c8c" stroke-width="0.7"/><line x1="346.40" y1="85.00" x2="346.40" y2="99.80" stroke="#8c8c8c" stroke-width="0.7"/><line x1="352.50" y1="85.00" x2="352.50" y2="99.80" stroke="#8c8c8c" stroke-width="0.7"/><line x1="353.40" y1="85.00" x2="353.40" y2="99.80" stroke="#8c8c8c" stroke-width="0.7"/><line x1="356.00" y1="85.00" x2="356.00" y2="99.80" stroke="#8c8c8c" stroke-width="0.7"/><line x1="366.30" y1="85.00" x2="366.30" y2="99.80" stroke="#8c8c8c" stroke-width="0.7"/><rect x="283.40" y="100.20" width="100.50" height="3.50" fill="url(#g1)"/><polyline points="283.4,82.3 283.6,62.0 284.0,52.5 286.0,52.5 286.3,44.0 288.0,44.0 288.3,40.4 298.8,44.4 299.5,45.2 300.5,44.6 305.6,47.9 316.4,53.0 339.2,66.0 351.6,71.5 353.0,70.2 358.0,70.3 360.0,71.3 366.3,74.1 367.0,73.0 383.9,82.3" fill="none" stroke="#35903f" stroke-width="1.2" stroke-linejoin="round"/><text x="283.40" y="113.00" font-size="7.2" text-anchor="start" fill="#222" stroke="#222" >D7</text><text x="389.00" y="113.00" font-size="7.2" text-anchor="end" fill="#222" stroke="#222" >D0</text><text x="377.60" y="48.20" font-size="7.0" text-anchor="end" fill="#222" stroke="#222" ><tspan font-style="italic">q</tspan> &lt; 0.0001</text><text x="377.60" y="56.80" font-size="7.0" text-anchor="end" fill="#222" stroke="#222" >NES : 1.94</text><linearGradient id="g2" x1="0" x2="1" y1="0" y2="0"><stop offset="0.000" stop-color="#dc2a38"/><stop offset="0.160" stop-color="#e03a48"/><stop offset="0.176" stop-color="#e45a6a"/><stop offset="0.320" stop-color="#e87888"/><stop offset="0.330" stop-color="#f0b0cc"/><stop offset="0.510" stop-color="#ead0e6"/><stop offset="0.530" stop-color="#d8d0ea"/><stop offset="0.770" stop-color="#bcb4e0"/><stop offset="0.780" stop-color="#8a7ec8"/><stop offset="0.850" stop-color="#5e4caa"/><stop offset="0.930" stop-color="#3e2c90"/><stop offset="0.940" stop-color="#2a1a78"/><stop offset="1.000" stop-color="#2a1a78"/></linearGradient><rect x="412.10" y="38.00" width="101.90" height="65.70" fill="none" stroke="#e2e2e2" stroke-width="0.7"/><line x1="412.10" y1="38.00" x2="412.10" y2="103.70" stroke="#cfcfcf" stroke-width="0.8"/><line x1="412.10" y1="80.50" x2="514.00" y2="80.50" stroke="#d6d6d6" stroke-width="0.7"/><text x="408.50" y="42.50" font-size="7.6" text-anchor="end" fill="#333" stroke="#333" >0.6</text><text x="408.50" y="56.00" font-size="7.6" text-anchor="end" fill="#333" stroke="#333" >0.4</text><text x="408.50" y="69.50" font-size="7.6" text-anchor="end" fill="#333" stroke="#333" >0.2</text><text x="408.50" y="83.00" font-size="7.6" text-anchor="end" fill="#333" stroke="#333" >0.0</text><line x1="413.30" y1="85.00" x2="413.30" y2="99.80" stroke="#8c8c8c" stroke-width="0.7"/><line x1="418.20" y1="85.00" x2="418.20" y2="99.80" stroke="#8c8c8c" stroke-width="0.7"/><line x1="438.70" y1="85.00" x2="438.70" y2="99.80" stroke="#8c8c8c" stroke-width="0.7"/><line x1="439.70" y1="85.00" x2="439.70" y2="99.80" stroke="#8c8c8c" stroke-width="0.7"/><line x1="440.80" y1="85.00" x2="440.80" y2="99.80" stroke="#8c8c8c" stroke-width="0.7"/><line x1="465.50" y1="85.00" x2="465.50" y2="99.80" stroke="#8c8c8c" stroke-width="0.7"/><line x1="466.80" y1="85.00" x2="466.80" y2="99.80" stroke="#8c8c8c" stroke-width="0.7"/><line x1="474.60" y1="85.00" x2="474.60" y2="99.80" stroke="#8c8c8c" stroke-width="0.7"/><line x1="476.80" y1="85.00" x2="476.80" y2="99.80" stroke="#8c8c8c" stroke-width="0.7"/><line x1="481.00" y1="85.00" x2="481.00" y2="99.80" stroke="#8c8c8c" stroke-width="0.7"/><line x1="485.20" y1="85.00" x2="485.20" y2="99.80" stroke="#8c8c8c" stroke-width="0.7"/><line x1="488.00" y1="85.00" x2="488.00" y2="99.80" stroke="#8c8c8c" stroke-width="0.7"/><line x1="492.60" y1="85.00" x2="492.60" y2="99.80" stroke="#8c8c8c" stroke-width="0.7"/><line x1="496.90" y1="85.00" x2="496.90" y2="99.80" stroke="#8c8c8c" stroke-width="0.7"/><line x1="499.40" y1="85.00" x2="499.40" y2="99.80" stroke="#8c8c8c" stroke-width="0.7"/><line x1="503.60" y1="85.00" x2="503.60" y2="99.80" stroke="#8c8c8c" stroke-width="0.7"/><rect x="412.10" y="100.20" width="101.10" height="3.50" fill="url(#g2)"/><polyline points="412.1,80.5 412.5,60.0 413.0,56.0 413.6,47.0 416.0,48.5 417.5,45.0 418.3,40.3 425.0,44.5 433.0,50.5 437.0,52.5 438.0,51.8 441.0,53.5 460.0,66.2 475.0,74.5 480.0,76.6 485.0,78.0 488.0,79.5 490.0,78.5 493.0,80.8 496.0,77.5 498.0,80.2 500.5,75.0 503.0,78.0 505.0,77.0 513.2,81.2" fill="none" stroke="#35903f" stroke-width="1.2" stroke-linejoin="round"/><text x="412.10" y="113.00" font-size="7.2" text-anchor="start" fill="#222" stroke="#222" >D7</text><text x="514.20" y="113.00" font-size="7.2" text-anchor="end" fill="#222" stroke="#222" >D0</text><text x="512.70" y="48.00" font-size="7.0" text-anchor="end" fill="#222" stroke="#222" ><tspan font-style="italic">q</tspan> &lt; 0.05</text><text x="512.70" y="57.20" font-size="7.0" text-anchor="end" fill="#222" stroke="#222" >NES : 1.53</text><linearGradient id="g3" x1="0" x2="1" y1="0" y2="0"><stop offset="0.000" stop-color="#dc2a38"/><stop offset="0.155" stop-color="#e03a48"/><stop offset="0.171" stop-color="#e45a6a"/><stop offset="0.310" stop-color="#e87888"/><stop offset="0.320" stop-color="#f0b0cc"/><stop offset="0.500" stop-color="#ead0e6"/><stop offset="0.520" stop-color="#d8d0ea"/><stop offset="0.740" stop-color="#bcb4e0"/><stop offset="0.750" stop-color="#8a7ec8"/><stop offset="0.820" stop-color="#5e4caa"/><stop offset="0.930" stop-color="#3e2c90"/><stop offset="0.940" stop-color="#2a1a78"/><stop offset="1.000" stop-color="#2a1a78"/></linearGradient><rect x="283.40" y="118.30" width="105.40" height="67.10" fill="none" stroke="#e2e2e2" stroke-width="0.7"/><line x1="283.40" y1="118.30" x2="283.40" y2="185.40" stroke="#cfcfcf" stroke-width="0.8"/><line x1="283.40" y1="134.20" x2="388.80" y2="134.20" stroke="#d6d6d6" stroke-width="0.7"/><text x="279.80" y="123.90" font-size="7.6" text-anchor="end" fill="#333" stroke="#333" >0.2</text><text x="279.80" y="136.70" font-size="7.6" text-anchor="end" fill="#333" stroke="#333" >0.0</text><text x="279.80" y="149.50" font-size="7.6" text-anchor="end" fill="#333" stroke="#333" >−0.2</text><text x="279.80" y="162.30" font-size="7.6" text-anchor="end" fill="#333" stroke="#333" >−0.4</text><line x1="307.10" y1="166.80" x2="307.10" y2="180.80" stroke="#8c8c8c" stroke-width="0.7"/><line x1="308.30" y1="166.80" x2="308.30" y2="180.80" stroke="#8c8c8c" stroke-width="0.7"/><line x1="319.20" y1="166.80" x2="319.20" y2="180.80" stroke="#8c8c8c" stroke-width="0.7"/><line x1="326.10" y1="166.80" x2="326.10" y2="180.80" stroke="#8c8c8c" stroke-width="0.7"/><line x1="329.60" y1="166.80" x2="329.60" y2="180.80" stroke="#8c8c8c" stroke-width="0.7"/><line x1="332.50" y1="166.80" x2="332.50" y2="180.80" stroke="#8c8c8c" stroke-width="0.7"/><line x1="333.30" y1="166.80" x2="333.30" y2="180.80" stroke="#8c8c8c" stroke-width="0.7"/><line x1="339.30" y1="166.80" x2="339.30" y2="180.80" stroke="#8c8c8c" stroke-width="0.7"/><line x1="340.20" y1="166.80" x2="340.20" y2="180.80" stroke="#8c8c8c" stroke-width="0.7"/><line x1="341.30" y1="166.80" x2="341.30" y2="180.80" stroke="#8c8c8c" stroke-width="0.7"/><line x1="356.00" y1="166.80" x2="356.00" y2="180.80" stroke="#8c8c8c" stroke-width="0.7"/><line x1="364.60" y1="166.80" x2="364.60" y2="180.80" stroke="#8c8c8c" stroke-width="0.7"/><line x1="369.80" y1="166.80" x2="369.80" y2="180.80" stroke="#8c8c8c" stroke-width="0.7"/><line x1="376.70" y1="166.80" x2="376.70" y2="180.80" stroke="#8c8c8c" stroke-width="0.7"/><line x1="383.00" y1="166.80" x2="383.00" y2="180.80" stroke="#8c8c8c" stroke-width="0.7"/><rect x="283.40" y="182.00" width="100.50" height="3.40" fill="url(#g3)"/><polyline points="283.4,134.2 283.6,121.0 305.5,132.5 306.5,131.2 307.5,132.5 340.0,152.5 343.0,151.5 346.0,153.5 357.0,155.5 359.0,157.0 365.0,158.0 367.0,160.0 372.0,163.2 373.0,159.0 375.0,160.5 376.0,152.2 378.0,154.0 380.0,146.2 382.5,149.0 383.6,134.0" fill="none" stroke="#35903f" stroke-width="1.2" stroke-linejoin="round"/><text x="283.40" y="194.20" font-size="7.2" text-anchor="start" fill="#222" stroke="#222" >Post</text><text x="389.00" y="194.20" font-size="7.2" text-anchor="end" fill="#222" stroke="#222" >D0</text><text x="378.80" y="128.60" font-size="7.0" text-anchor="end" fill="#222" stroke="#222" ><tspan font-style="italic">q</tspan> = 0.26</text><text x="378.80" y="137.10" font-size="7.0" text-anchor="end" fill="#222" stroke="#222" >NES : −1.17</text><linearGradient id="g4" x1="0" x2="1" y1="0" y2="0"><stop offset="0.000" stop-color="#dc2a38"/><stop offset="0.200" stop-color="#e03a48"/><stop offset="0.220" stop-color="#e45a6a"/><stop offset="0.400" stop-color="#e87888"/><stop offset="0.410" stop-color="#f0b0cc"/><stop offset="0.590" stop-color="#ead0e6"/><stop offset="0.610" stop-color="#d8d0ea"/><stop offset="0.800" stop-color="#bcb4e0"/><stop offset="0.810" stop-color="#8a7ec8"/><stop offset="0.880" stop-color="#5e4caa"/><stop offset="0.930" stop-color="#3e2c90"/><stop offset="0.940" stop-color="#2a1a78"/><stop offset="1.000" stop-color="#2a1a78"/></linearGradient><rect x="412.30" y="119.60" width="101.70" height="65.40" fill="none" stroke="#e2e2e2" stroke-width="0.7"/><line x1="412.30" y1="119.60" x2="412.30" y2="185.00" stroke="#cfcfcf" stroke-width="0.8"/><line x1="412.30" y1="144.90" x2="514.00" y2="144.90" stroke="#d6d6d6" stroke-width="0.7"/><text x="408.70" y="127.40" font-size="7.6" text-anchor="end" fill="#333" stroke="#333" >0.2</text><text x="408.70" y="137.40" font-size="7.6" text-anchor="end" fill="#333" stroke="#333" >0.1</text><text x="408.70" y="147.40" font-size="7.6" text-anchor="end" fill="#333" stroke="#333" >0.0</text><text x="408.70" y="157.40" font-size="7.6" text-anchor="end" fill="#333" stroke="#333" >−0.1</text><text x="408.70" y="167.40" font-size="7.6" text-anchor="end" fill="#333" stroke="#333" >−0.2</text><line x1="430.34" y1="166.50" x2="430.34" y2="181.40" stroke="#8c8c8c" stroke-width="0.7"/><line x1="432.26" y1="166.50" x2="432.26" y2="181.40" stroke="#8c8c8c" stroke-width="0.7"/><line x1="439.47" y1="166.50" x2="439.47" y2="181.40" stroke="#8c8c8c" stroke-width="0.7"/><line x1="445.48" y1="166.50" x2="445.48" y2="181.40" stroke="#8c8c8c" stroke-width="0.7"/><line x1="460.38" y1="166.50" x2="460.38" y2="181.40" stroke="#8c8c8c" stroke-width="0.7"/><line x1="469.52" y1="166.50" x2="469.52" y2="181.40" stroke="#8c8c8c" stroke-width="0.7"/><line x1="470.72" y1="166.50" x2="470.72" y2="181.40" stroke="#8c8c8c" stroke-width="0.7"/><line x1="474.33" y1="166.50" x2="474.33" y2="181.40" stroke="#8c8c8c" stroke-width="0.7"/><line x1="477.93" y1="166.50" x2="477.93" y2="181.40" stroke="#8c8c8c" stroke-width="0.7"/><line x1="479.13" y1="166.50" x2="479.13" y2="181.40" stroke="#8c8c8c" stroke-width="0.7"/><line x1="481.54" y1="166.50" x2="481.54" y2="181.40" stroke="#8c8c8c" stroke-width="0.7"/><line x1="483.94" y1="166.50" x2="483.94" y2="181.40" stroke="#8c8c8c" stroke-width="0.7"/><line x1="487.55" y1="166.50" x2="487.55" y2="181.40" stroke="#8c8c8c" stroke-width="0.7"/><line x1="494.76" y1="166.50" x2="494.76" y2="181.40" stroke="#8c8c8c" stroke-width="0.7"/><line x1="507.98" y1="166.50" x2="507.98" y2="181.40" stroke="#8c8c8c" stroke-width="0.7"/><rect x="412.30" y="181.40" width="99.80" height="3.60" fill="url(#g4)"/><polyline points="412.3,144.9 430.3,162.9 430.6,146.1 433.0,147.7 433.0,133.3 439.0,140.0 439.5,129.2 445.0,135.2 445.5,120.8 459.9,133.3 460.6,131.6 477.9,147.3 479.6,146.1 481.0,148.5 482.7,146.1 484.4,148.5 485.9,146.1 488.8,148.9 490.0,146.5 508.0,159.3 508.5,140.8 512.1,144.9" fill="none" stroke="#35903f" stroke-width="1.2" stroke-linejoin="round"/><text x="412.30" y="194.20" font-size="7.2" text-anchor="start" fill="#222" stroke="#222" >Post</text><text x="514.20" y="194.20" font-size="7.2" text-anchor="end" fill="#222" stroke="#222" >D0</text><text x="512.80" y="129.40" font-size="7.0" text-anchor="end" fill="#222" stroke="#222" ><tspan font-style="italic">q</tspan> = 0.95</text><text x="512.80" y="137.10" font-size="7.0" text-anchor="end" fill="#222" stroke="#222" >NES : 0.60</text><text x="250.4" y="277.6" font-size="12" text-anchor="start" fill="#000" stroke="#000" font-weight="bold" >D</text><text x="336.5" y="280.3" font-size="9.7" text-anchor="middle" fill="#222" stroke="#222" textLength="69.5" lengthAdjust="spacingAndGlyphs">Gene set: anergy</text><line x1="284" y1="286.3" x2="387" y2="286.3" stroke="#222" stroke-width="1.3"/><text x="466" y="280.3" font-size="9.7" text-anchor="middle" fill="#222" stroke="#222" textLength="92" lengthAdjust="spacingAndGlyphs">Gene set: senescence</text><line x1="415" y1="285.2" x2="516" y2="285.2" stroke="#222" stroke-width="1.3"/><text x="336" y="298.8" font-size="6.95" text-anchor="middle" fill="#222" >Naïve CD8<tspan font-size="4.5" dy="-2.5">+</tspan><tspan dy="2.5"> T cells</tspan></text><text x="466" y="300" font-size="6.95" text-anchor="middle" fill="#222" >Memory CD8<tspan font-size="4.5" dy="-2.5">+</tspan><tspan dy="2.5"> T cells</tspan></text><text transform="translate(260,395) rotate(-90)" font-size="10" fill="#222" stroke="#222" textLength="56.6" lengthAdjust="spacingAndGlyphs">Enrichment score</text><linearGradient id="g5" x1="0" x2="1" y1="0" y2="0"><stop offset="0.000" stop-color="#dc2a38"/><stop offset="0.155" stop-color="#e03a48"/><stop offset="0.171" stop-color="#e45a6a"/><stop offset="0.310" stop-color="#e87888"/><stop offset="0.320" stop-color="#f0b0cc"/><stop offset="0.490" stop-color="#ead0e6"/><stop offset="0.510" stop-color="#d8d0ea"/><stop offset="0.720" stop-color="#bcb4e0"/><stop offset="0.730" stop-color="#8a7ec8"/><stop offset="0.800" stop-color="#5e4caa"/><stop offset="0.930" stop-color="#3e2c90"/><stop offset="0.940" stop-color="#2a1a78"/><stop offset="1.000" stop-color="#2a1a78"/></linearGradient><rect x="283.50" y="303.20" width="105.00" height="66.10" fill="none" stroke="#e2e2e2" stroke-width="0.7"/><line x1="283.50" y1="303.20" x2="283.50" y2="369.30" stroke="#cfcfcf" stroke-width="0.8"/><line x1="283.50" y1="323.60" x2="388.50" y2="323.60" stroke="#d6d6d6" stroke-width="0.7"/><text x="279.90" y="309.70" font-size="7.6" text-anchor="end" fill="#333" stroke="#333" >0.2</text><text x="279.90" y="317.90" font-size="7.6" text-anchor="end" fill="#333" stroke="#333" >0.1</text><text x="279.90" y="326.10" font-size="7.6" text-anchor="end" fill="#333" stroke="#333" >0.0</text><text x="279.90" y="334.30" font-size="7.6" text-anchor="end" fill="#333" stroke="#333" >−0.1</text><text x="279.90" y="342.50" font-size="7.6" text-anchor="end" fill="#333" stroke="#333" >−0.2</text><text x="279.90" y="350.70" font-size="7.6" text-anchor="end" fill="#333" stroke="#333" >−0.3</text><line x1="284.23" y1="350.60" x2="284.23" y2="365.10" stroke="#505050" stroke-width="0.7"/><line x1="285.92" y1="350.60" x2="285.92" y2="365.10" stroke="#929292" stroke-width="0.7"/><line x1="289.52" y1="350.60" x2="289.52" y2="365.10" stroke="#565656" stroke-width="0.7"/><line x1="291.00" y1="350.60" x2="291.00" y2="365.10" stroke="#343434" stroke-width="0.7"/><line x1="292.27" y1="350.60" x2="292.27" y2="365.10" stroke="#484848" stroke-width="0.7"/><line x1="293.64" y1="350.60" x2="293.64" y2="365.10" stroke="#959595" stroke-width="0.7"/><line x1="296.92" y1="350.60" x2="296.92" y2="365.10" stroke="#a4a4a4" stroke-width="0.7"/><line x1="297.44" y1="350.60" x2="297.44" y2="365.10" stroke="#ababab" stroke-width="0.7"/><line x1="297.98" y1="350.60" x2="297.98" y2="365.10" stroke="#6c6c6c" stroke-width="0.7"/><line x1="299.04" y1="350.60" x2="299.04" y2="365.10" stroke="#c7c7c7" stroke-width="0.7"/><line x1="299.46" y1="350.60" x2="299.46" y2="365.10" stroke="#5a5a5a" stroke-width="0.7"/><line x1="298.52" y1="350.60" x2="298.52" y2="365.10" stroke="#adadad" stroke-width="0.7"/><line x1="306.44" y1="350.60" x2="306.44" y2="365.10" stroke="#676767" stroke-width="0.7"/><line x1="306.27" y1="350.60" x2="306.27" y2="365.10" stroke="#c3c3c3" stroke-width="0.7"/><line x1="307.92" y1="350.60" x2="307.92" y2="365.10" stroke="#303030" stroke-width="0.7"/><line x1="306.43" y1="350.60" x2="306.43" y2="365.10" stroke="#a9a9a9" stroke-width="0.7"/><line x1="310.04" y1="350.60" x2="310.04" y2="365.10" stroke="#9d9d9d" stroke-width="0.7"/><line x1="311.73" y1="350.60" x2="311.73" y2="365.10" stroke="#4b4b4b" stroke-width="0.7"/><line x1="316.39" y1="350.60" x2="316.39" y2="365.10" stroke="#a2a2a2" stroke-width="0.7"/><line x1="315.46" y1="350.60" x2="315.46" y2="365.10" stroke="#a5a5a5" stroke-width="0.7"/><line x1="318.08" y1="350.60" x2="318.08" y2="365.10" stroke="#373737" stroke-width="0.7"/><line x1="318.75" y1="350.60" x2="318.75" y2="365.10" stroke="#b5b5b5" stroke-width="0.7"/><line x1="319.77" y1="350.60" x2="319.77" y2="365.10" stroke="#525252" stroke-width="0.7"/><line x1="324.43" y1="350.60" x2="324.43" y2="365.10" stroke="#6b6b6b" stroke-width="0.7"/><line x1="323.53" y1="350.60" x2="323.53" y2="365.10" stroke="#b5b5b5" stroke-width="0.7"/><line x1="326.12" y1="350.60" x2="326.12" y2="365.10" stroke="#3f3f3f" stroke-width="0.7"/><line x1="326.96" y1="350.60" x2="326.96" y2="365.10" stroke="#4f4f4f" stroke-width="0.7"/><line x1="326.04" y1="350.60" x2="326.04" y2="365.10" stroke="#888888" stroke-width="0.7"/><line x1="332.89" y1="350.60" x2="332.89" y2="365.10" stroke="#808080" stroke-width="0.7"/><line x1="334.58" y1="350.60" x2="334.58" y2="365.10" stroke="#a5a5a5" stroke-width="0.7"/><line x1="336.06" y1="350.60" x2="336.06" y2="365.10" stroke="#aaaaaa" stroke-width="0.7"/><line x1="337.54" y1="350.60" x2="337.54" y2="365.10" stroke="#5e5e5e" stroke-width="0.7"/><line x1="337.94" y1="350.60" x2="337.94" y2="365.10" stroke="#7b7b7b" stroke-width="0.7"/><line x1="343.47" y1="350.60" x2="343.47" y2="365.10" stroke="#292929" stroke-width="0.7"/><line x1="345.58" y1="350.60" x2="345.58" y2="365.10" stroke="#7c7c7c" stroke-width="0.7"/><line x1="347.27" y1="350.60" x2="347.27" y2="365.10" stroke="#acacac" stroke-width="0.7"/><line x1="347.55" y1="350.60" x2="347.55" y2="365.10" stroke="#acacac" stroke-width="0.7"/><line x1="352.98" y1="350.60" x2="352.98" y2="365.10" stroke="#535353" stroke-width="0.7"/><line x1="354.47" y1="350.60" x2="354.47" y2="365.10" stroke="#474747" stroke-width="0.7"/><line x1="353.25" y1="350.60" x2="353.25" y2="365.10" stroke="#717171" stroke-width="0.7"/><line x1="355.74" y1="350.60" x2="355.74" y2="365.10" stroke="#525252" stroke-width="0.7"/><line x1="359.97" y1="350.60" x2="359.97" y2="365.10" stroke="#565656" stroke-width="0.7"/><line x1="361.45" y1="350.60" x2="361.45" y2="365.10" stroke="#474747" stroke-width="0.7"/><line x1="360.47" y1="350.60" x2="360.47" y2="365.10" stroke="#aaaaaa" stroke-width="0.7"/><line x1="363.56" y1="350.60" x2="363.56" y2="365.10" stroke="#333333" stroke-width="0.7"/><line x1="366.31" y1="350.60" x2="366.31" y2="365.10" stroke="#5b5b5b" stroke-width="0.7"/><line x1="367.79" y1="350.60" x2="367.79" y2="365.10" stroke="#565656" stroke-width="0.7"/><line x1="366.83" y1="350.60" x2="366.83" y2="365.10" stroke="#a2a2a2" stroke-width="0.7"/><line x1="368.85" y1="350.60" x2="368.85" y2="365.10" stroke="#606060" stroke-width="0.7"/><line x1="369.63" y1="350.60" x2="369.63" y2="365.10" stroke="#959595" stroke-width="0.7"/><line x1="373.08" y1="350.60" x2="373.08" y2="365.10" stroke="#6b6b6b" stroke-width="0.7"/><line x1="374.77" y1="350.60" x2="374.77" y2="365.10" stroke="#a1a1a1" stroke-width="0.7"/><line x1="375.64" y1="350.60" x2="375.64" y2="365.10" stroke="#a6a6a6" stroke-width="0.7"/><line x1="376.26" y1="350.60" x2="376.26" y2="365.10" stroke="#2a2a2a" stroke-width="0.7"/><line x1="376.86" y1="350.60" x2="376.86" y2="365.10" stroke="#8f8f8f" stroke-width="0.7"/><line x1="377.74" y1="350.60" x2="377.74" y2="365.10" stroke="#535353" stroke-width="0.7"/><line x1="381.12" y1="350.60" x2="381.12" y2="365.10" stroke="#535353" stroke-width="0.7"/><line x1="382.60" y1="350.60" x2="382.60" y2="365.10" stroke="#858585" stroke-width="0.7"/><rect x="283.50" y="365.70" width="100.50" height="3.60" fill="url(#g5)"/><polyline points="283.5,323.6 283.8,319.0 286.3,307.4 288.5,308.9 291.6,309.5 293.8,308.5 296.9,310.2 299.0,307.4 301.2,305.9 303.3,308.0 306.4,309.5 310.7,311.6 316.0,315.9 322.3,321.2 330.8,328.6 337.1,333.8 343.5,338.1 347.7,340.2 351.9,342.3 356.2,343.4 357.2,344.2 358.3,344.1 359.3,345.3 360.4,345.5 361.5,346.0 362.5,345.6 363.6,347.0 364.6,347.4 365.7,346.5 366.8,345.9 367.8,345.5 368.9,346.2 369.9,346.1 370.9,346.4 372.0,344.4 373.1,345.1 374.1,345.5 375.2,343.8 376.3,343.4 377.4,342.4 378.4,342.3 379.4,342.4 380.5,341.3 382.0,339.1 383.2,333.8 384.1,323.3" fill="none" stroke="#35903f" stroke-width="1.2" stroke-linejoin="round"/><text x="283.50" y="378.20" font-size="7.2" text-anchor="start" fill="#222" stroke="#222" >D7</text><text x="388.70" y="378.20" font-size="7.2" text-anchor="end" fill="#222" stroke="#222" >D0</text><text x="376.30" y="313.60" font-size="7.0" text-anchor="end" fill="#222" stroke="#222" ><tspan font-style="italic">q</tspan> = 0.49</text><text x="376.30" y="322.70" font-size="7.0" text-anchor="end" fill="#222" stroke="#222" >NES : −0.98</text><linearGradient id="g6" x1="0" x2="1" y1="0" y2="0"><stop offset="0.000" stop-color="#dc2a38"/><stop offset="0.150" stop-color="#e03a48"/><stop offset="0.165" stop-color="#e45a6a"/><stop offset="0.300" stop-color="#e87888"/><stop offset="0.310" stop-color="#f0b0cc"/><stop offset="0.490" stop-color="#ead0e6"/><stop offset="0.510" stop-color="#d8d0ea"/><stop offset="0.730" stop-color="#bcb4e0"/><stop offset="0.740" stop-color="#8a7ec8"/><stop offset="0.810" stop-color="#5e4caa"/><stop offset="0.930" stop-color="#3e2c90"/><stop offset="0.940" stop-color="#2a1a78"/><stop offset="1.000" stop-color="#2a1a78"/></linearGradient><rect x="283.20" y="384.20" width="105.30" height="67.30" fill="none" stroke="#e2e2e2" stroke-width="0.7"/><line x1="283.20" y1="384.20" x2="283.20" y2="451.50" stroke="#cfcfcf" stroke-width="0.8"/><line x1="283.20" y1="388.00" x2="388.50" y2="388.00" stroke="#d6d6d6" stroke-width="0.7"/><text x="279.60" y="390.50" font-size="7.6" text-anchor="end" fill="#333" stroke="#333" >0.0</text><text x="279.60" y="403.80" font-size="7.6" text-anchor="end" fill="#333" stroke="#333" >−0.1</text><text x="279.60" y="417.10" font-size="7.6" text-anchor="end" fill="#333" stroke="#333" >−0.2</text><text x="279.60" y="430.40" font-size="7.6" text-anchor="end" fill="#333" stroke="#333" >−0.4</text><line x1="288.46" y1="432.90" x2="288.46" y2="447.40" stroke="#2c2c2c" stroke-width="0.7"/><line x1="290.58" y1="432.90" x2="290.58" y2="447.40" stroke="#868686" stroke-width="0.7"/><line x1="289.42" y1="432.90" x2="289.42" y2="447.40" stroke="#7a7a7a" stroke-width="0.7"/><line x1="292.27" y1="432.90" x2="292.27" y2="447.40" stroke="#808080" stroke-width="0.7"/><line x1="301.16" y1="432.90" x2="301.16" y2="447.40" stroke="#636363" stroke-width="0.7"/><line x1="301.80" y1="432.90" x2="301.80" y2="447.40" stroke="#818181" stroke-width="0.7"/><line x1="302.85" y1="432.90" x2="302.85" y2="447.40" stroke="#8f8f8f" stroke-width="0.7"/><line x1="302.39" y1="432.90" x2="302.39" y2="447.40" stroke="#999999" stroke-width="0.7"/><line x1="306.44" y1="432.90" x2="306.44" y2="447.40" stroke="#696969" stroke-width="0.7"/><line x1="307.92" y1="432.90" x2="307.92" y2="447.40" stroke="#303030" stroke-width="0.7"/><line x1="307.59" y1="432.90" x2="307.59" y2="447.40" stroke="#7c7c7c" stroke-width="0.7"/><line x1="310.04" y1="432.90" x2="310.04" y2="447.40" stroke="#717171" stroke-width="0.7"/><line x1="311.73" y1="432.90" x2="311.73" y2="447.40" stroke="#323232" stroke-width="0.7"/><line x1="313.43" y1="432.90" x2="313.43" y2="447.40" stroke="#7c7c7c" stroke-width="0.7"/><line x1="313.89" y1="432.90" x2="313.89" y2="447.40" stroke="#898989" stroke-width="0.7"/><line x1="317.02" y1="432.90" x2="317.02" y2="447.40" stroke="#717171" stroke-width="0.7"/><line x1="318.50" y1="432.90" x2="318.50" y2="447.40" stroke="#373737" stroke-width="0.7"/><line x1="319.49" y1="432.90" x2="319.49" y2="447.40" stroke="#c2c2c2" stroke-width="0.7"/><line x1="320.19" y1="432.90" x2="320.19" y2="447.40" stroke="#919191" stroke-width="0.7"/><line x1="321.89" y1="432.90" x2="321.89" y2="447.40" stroke="#4a4a4a" stroke-width="0.7"/><line x1="324.00" y1="432.90" x2="324.00" y2="447.40" stroke="#282828" stroke-width="0.7"/><line x1="331.83" y1="432.90" x2="331.83" y2="447.40" stroke="#9b9b9b" stroke-width="0.7"/><line x1="333.95" y1="432.90" x2="333.95" y2="447.40" stroke="#343434" stroke-width="0.7"/><line x1="335.43" y1="432.90" x2="335.43" y2="447.40" stroke="#9c9c9c" stroke-width="0.7"/><line x1="334.41" y1="432.90" x2="334.41" y2="447.40" stroke="#a1a1a1" stroke-width="0.7"/><line x1="337.12" y1="432.90" x2="337.12" y2="447.40" stroke="#6b6b6b" stroke-width="0.7"/><line x1="338.81" y1="432.90" x2="338.81" y2="447.40" stroke="#ababab" stroke-width="0.7"/><line x1="343.47" y1="432.90" x2="343.47" y2="447.40" stroke="#656565" stroke-width="0.7"/><line x1="344.88" y1="432.90" x2="344.88" y2="447.40" stroke="#c5c5c5" stroke-width="0.7"/><line x1="345.58" y1="432.90" x2="345.58" y2="447.40" stroke="#686868" stroke-width="0.7"/><line x1="347.27" y1="432.90" x2="347.27" y2="447.40" stroke="#2e2e2e" stroke-width="0.7"/><line x1="348.75" y1="432.90" x2="348.75" y2="447.40" stroke="#8b8b8b" stroke-width="0.7"/><line x1="347.59" y1="432.90" x2="347.59" y2="447.40" stroke="#757575" stroke-width="0.7"/><line x1="351.93" y1="432.90" x2="351.93" y2="447.40" stroke="#656565" stroke-width="0.7"/><line x1="351.62" y1="432.90" x2="351.62" y2="447.40" stroke="#808080" stroke-width="0.7"/><line x1="354.04" y1="432.90" x2="354.04" y2="447.40" stroke="#aeaeae" stroke-width="0.7"/><line x1="354.89" y1="432.90" x2="354.89" y2="447.40" stroke="#aeaeae" stroke-width="0.7"/><line x1="355.74" y1="432.90" x2="355.74" y2="447.40" stroke="#3e3e3e" stroke-width="0.7"/><line x1="359.33" y1="432.90" x2="359.33" y2="447.40" stroke="#727272" stroke-width="0.7"/><line x1="359.01" y1="432.90" x2="359.01" y2="447.40" stroke="#8e8e8e" stroke-width="0.7"/><line x1="360.39" y1="432.90" x2="360.39" y2="447.40" stroke="#5a5a5a" stroke-width="0.7"/><line x1="361.45" y1="432.90" x2="361.45" y2="447.40" stroke="#a7a7a7" stroke-width="0.7"/><line x1="362.50" y1="432.90" x2="362.50" y2="447.40" stroke="#6d6d6d" stroke-width="0.7"/><line x1="364.62" y1="432.90" x2="364.62" y2="447.40" stroke="#959595" stroke-width="0.7"/><line x1="363.51" y1="432.90" x2="363.51" y2="447.40" stroke="#999999" stroke-width="0.7"/><line x1="366.74" y1="432.90" x2="366.74" y2="447.40" stroke="#898989" stroke-width="0.7"/><line x1="368.43" y1="432.90" x2="368.43" y2="447.40" stroke="#969696" stroke-width="0.7"/><line x1="370.97" y1="432.90" x2="370.97" y2="447.40" stroke="#444444" stroke-width="0.7"/><line x1="371.82" y1="432.90" x2="371.82" y2="447.40" stroke="#878787" stroke-width="0.7"/><line x1="373.08" y1="432.90" x2="373.08" y2="447.40" stroke="#535353" stroke-width="0.7"/><line x1="375.20" y1="432.90" x2="375.20" y2="447.40" stroke="#636363" stroke-width="0.7"/><line x1="375.84" y1="432.90" x2="375.84" y2="447.40" stroke="#9e9e9e" stroke-width="0.7"/><line x1="377.74" y1="432.90" x2="377.74" y2="447.40" stroke="#8f8f8f" stroke-width="0.7"/><line x1="378.38" y1="432.90" x2="378.38" y2="447.40" stroke="#898989" stroke-width="0.7"/><line x1="379.43" y1="432.90" x2="379.43" y2="447.40" stroke="#a5a5a5" stroke-width="0.7"/><line x1="379.95" y1="432.90" x2="379.95" y2="447.40" stroke="#c7c7c7" stroke-width="0.7"/><line x1="381.12" y1="432.90" x2="381.12" y2="447.40" stroke="#3b3b3b" stroke-width="0.7"/><line x1="382.60" y1="432.90" x2="382.60" y2="447.40" stroke="#6a6a6a" stroke-width="0.7"/><line x1="384.08" y1="432.90" x2="384.08" y2="447.40" stroke="#a2a2a2" stroke-width="0.7"/><rect x="283.20" y="448.20" width="100.80" height="3.30" fill="url(#g6)"/><polyline points="283.2,387.3 286.3,390.0 288.5,390.9 290.6,389.4 292.7,390.0 295.0,391.0 298.0,392.2 301.2,393.6 303.3,394.3 307.5,395.8 311.7,398.5 318.1,403.2 324.4,408.4 330.8,413.7 337.1,419.0 343.5,423.9 349.8,426.4 354.0,427.1 357.2,428.5 358.2,429.0 359.3,429.6 360.4,427.7 361.4,427.5 362.5,428.3 363.6,425.4 364.6,425.3 365.7,424.5 366.8,424.4 367.8,423.3 368.9,422.1 369.9,421.1 370.9,420.1 372.0,419.0 373.1,417.6 374.1,415.8 375.2,413.8 376.3,411.6 377.4,409.6 378.4,408.4 379.4,407.3 380.5,405.3 382.0,403.2 382.6,401.0 383.2,388.3 383.7,384.5" fill="none" stroke="#35903f" stroke-width="1.2" stroke-linejoin="round"/><text x="283.20" y="459.50" font-size="7.2" text-anchor="start" fill="#222" stroke="#222" >Post</text><text x="388.70" y="459.50" font-size="7.2" text-anchor="end" fill="#222" stroke="#222" >D0</text><text x="376.30" y="396.60" font-size="7.0" text-anchor="end" fill="#222" stroke="#222" ><tspan font-style="italic">q</tspan> &lt; 0.01</text><text x="376.30" y="405.30" font-size="7.0" text-anchor="end" fill="#222" stroke="#222" >NES : −1.55</text><linearGradient id="g7" x1="0" x2="1" y1="0" y2="0"><stop offset="0.000" stop-color="#dc2a38"/><stop offset="0.155" stop-color="#e03a48"/><stop offset="0.171" stop-color="#e45a6a"/><stop offset="0.310" stop-color="#e87888"/><stop offset="0.320" stop-color="#f0b0cc"/><stop offset="0.490" stop-color="#ead0e6"/><stop offset="0.510" stop-color="#d8d0ea"/><stop offset="0.770" stop-color="#bcb4e0"/><stop offset="0.780" stop-color="#8a7ec8"/><stop offset="0.850" stop-color="#5e4caa"/><stop offset="0.930" stop-color="#3e2c90"/><stop offset="0.940" stop-color="#2a1a78"/><stop offset="1.000" stop-color="#2a1a78"/></linearGradient><rect x="413.30" y="303.50" width="102.70" height="65.50" fill="none" stroke="#e2e2e2" stroke-width="0.7"/><line x1="413.30" y1="303.50" x2="413.30" y2="369.00" stroke="#cfcfcf" stroke-width="0.8"/><line x1="413.30" y1="335.75" x2="516.00" y2="335.75" stroke="#d6d6d6" stroke-width="0.7"/><text x="409.70" y="311.55" font-size="7.6" text-anchor="end" fill="#333" stroke="#333" >0.3</text><text x="409.70" y="320.45" font-size="7.6" text-anchor="end" fill="#333" stroke="#333" >0.2</text><text x="409.70" y="329.35" font-size="7.6" text-anchor="end" fill="#333" stroke="#333" >0.1</text><text x="409.70" y="338.25" font-size="7.6" text-anchor="end" fill="#333" stroke="#333" >0.0</text><text x="409.70" y="347.15" font-size="7.6" text-anchor="end" fill="#333" stroke="#333" >−0.1</text><line x1="415.29" y1="350.50" x2="415.29" y2="364.50" stroke="#909090" stroke-width="0.7"/><line x1="414.05" y1="350.50" x2="414.05" y2="364.50" stroke="#909090" stroke-width="0.7"/><line x1="416.77" y1="350.50" x2="416.77" y2="364.50" stroke="#4c4c4c" stroke-width="0.7"/><line x1="418.46" y1="350.50" x2="418.46" y2="364.50" stroke="#808080" stroke-width="0.7"/><line x1="422.69" y1="350.50" x2="422.69" y2="364.50" stroke="#545454" stroke-width="0.7"/><line x1="426.92" y1="350.50" x2="426.92" y2="364.50" stroke="#9b9b9b" stroke-width="0.7"/><line x1="427.09" y1="350.50" x2="427.09" y2="364.50" stroke="#7e7e7e" stroke-width="0.7"/><line x1="428.62" y1="350.50" x2="428.62" y2="364.50" stroke="#7a7a7a" stroke-width="0.7"/><line x1="428.55" y1="350.50" x2="428.55" y2="364.50" stroke="#c0c0c0" stroke-width="0.7"/><line x1="431.16" y1="350.50" x2="431.16" y2="364.50" stroke="#545454" stroke-width="0.7"/><line x1="432.05" y1="350.50" x2="432.05" y2="364.50" stroke="#8f8f8f" stroke-width="0.7"/><line x1="434.96" y1="350.50" x2="434.96" y2="364.50" stroke="#616161" stroke-width="0.7"/><line x1="434.57" y1="350.50" x2="434.57" y2="364.50" stroke="#a4a4a4" stroke-width="0.7"/><line x1="437.50" y1="350.50" x2="437.50" y2="364.50" stroke="#a4a4a4" stroke-width="0.7"/><line x1="436.56" y1="350.50" x2="436.56" y2="364.50" stroke="#929292" stroke-width="0.7"/><line x1="439.19" y1="350.50" x2="439.19" y2="364.50" stroke="#313131" stroke-width="0.7"/><line x1="441.73" y1="350.50" x2="441.73" y2="364.50" stroke="#636363" stroke-width="0.7"/><line x1="442.78" y1="350.50" x2="442.78" y2="364.50" stroke="#aaaaaa" stroke-width="0.7"/><line x1="447.02" y1="350.50" x2="447.02" y2="364.50" stroke="#545454" stroke-width="0.7"/><line x1="448.50" y1="350.50" x2="448.50" y2="364.50" stroke="#6f6f6f" stroke-width="0.7"/><line x1="450.19" y1="350.50" x2="450.19" y2="364.50" stroke="#9f9f9f" stroke-width="0.7"/><line x1="449.02" y1="350.50" x2="449.02" y2="364.50" stroke="#a3a3a3" stroke-width="0.7"/><line x1="452.31" y1="350.50" x2="452.31" y2="364.50" stroke="#4a4a4a" stroke-width="0.7"/><line x1="454.43" y1="350.50" x2="454.43" y2="364.50" stroke="#878787" stroke-width="0.7"/><line x1="462.89" y1="350.50" x2="462.89" y2="364.50" stroke="#969696" stroke-width="0.7"/><line x1="461.95" y1="350.50" x2="461.95" y2="364.50" stroke="#949494" stroke-width="0.7"/><line x1="464.58" y1="350.50" x2="464.58" y2="364.50" stroke="#292929" stroke-width="0.7"/><line x1="467.12" y1="350.50" x2="467.12" y2="364.50" stroke="#727272" stroke-width="0.7"/><line x1="468.45" y1="350.50" x2="468.45" y2="364.50" stroke="#a0a0a0" stroke-width="0.7"/><line x1="469.23" y1="350.50" x2="469.23" y2="364.50" stroke="#898989" stroke-width="0.7"/><line x1="471.77" y1="350.50" x2="471.77" y2="364.50" stroke="#888888" stroke-width="0.7"/><line x1="477.70" y1="350.50" x2="477.70" y2="364.50" stroke="#aeaeae" stroke-width="0.7"/><line x1="479.81" y1="350.50" x2="479.81" y2="364.50" stroke="#404040" stroke-width="0.7"/><line x1="482.35" y1="350.50" x2="482.35" y2="364.50" stroke="#464646" stroke-width="0.7"/><line x1="484.47" y1="350.50" x2="484.47" y2="364.50" stroke="#626262" stroke-width="0.7"/><line x1="496.31" y1="350.50" x2="496.31" y2="364.50" stroke="#a9a9a9" stroke-width="0.7"/><line x1="497.79" y1="350.50" x2="497.79" y2="364.50" stroke="#a0a0a0" stroke-width="0.7"/><line x1="498.85" y1="350.50" x2="498.85" y2="364.50" stroke="#9b9b9b" stroke-width="0.7"/><line x1="499.17" y1="350.50" x2="499.17" y2="364.50" stroke="#b8b8b8" stroke-width="0.7"/><line x1="501.39" y1="350.50" x2="501.39" y2="364.50" stroke="#787878" stroke-width="0.7"/><line x1="506.26" y1="350.50" x2="506.26" y2="364.50" stroke="#a1a1a1" stroke-width="0.7"/><line x1="505.32" y1="350.50" x2="505.32" y2="364.50" stroke="#999999" stroke-width="0.7"/><line x1="507.31" y1="350.50" x2="507.31" y2="364.50" stroke="#2d2d2d" stroke-width="0.7"/><rect x="413.30" y="365.50" width="101.00" height="3.50" fill="url(#g7)"/><polyline points="413.8,337.0 414.3,335.0 415.3,327.5 416.3,324.3 417.4,321.2 418.5,316.9 418.9,312.3 419.8,312.2 420.7,313.7 421.6,313.8 422.7,315.4 423.8,315.9 424.9,315.2 425.9,313.8 426.9,313.4 428.0,311.6 429.0,308.0 430.1,307.4 431.2,306.8 432.2,305.8 433.3,306.3 434.4,305.8 435.4,305.3 436.4,306.0 437.5,306.3 438.6,307.1 439.6,307.4 440.7,307.6 441.7,307.4 442.8,310.0 443.8,309.5 444.9,309.9 445.9,310.5 447.0,310.6 448.0,310.2 449.1,310.8 450.1,311.6 451.2,313.2 452.3,313.8 453.3,315.0 454.2,314.9 455.2,315.8 456.2,316.5 457.1,317.1 458.1,318.0 459.0,319.1 460.0,319.0 461.0,321.7 461.9,320.7 462.9,322.2 463.9,322.8 464.8,324.6 465.8,324.3 466.8,325.3 467.7,326.4 468.7,327.7 469.6,327.2 470.6,329.1 471.6,328.6 472.5,330.9 473.5,330.7 474.4,332.0 475.4,332.4 476.3,332.6 477.2,334.3 478.2,334.7 479.1,335.5 480.0,335.0 481.0,336.3 481.9,337.0 482.8,337.8 483.7,338.5 484.6,338.0 485.6,338.7 486.5,340.3 487.4,340.5 488.3,341.3 489.2,342.2 490.1,342.3 491.1,343.7 492.0,344.0 492.9,344.6 493.9,345.4 494.8,347.0 495.7,347.6 496.7,345.5 497.8,341.5 498.9,339.1 499.9,335.5 501.0,333.8 502.1,333.9 503.1,334.9 504.8,336.4 506.3,332.8 507.7,330.7 509.4,331.7 510.4,332.7 511.5,333.4 512.4,334.6 513.4,335.5 514.3,336.0" fill="none" stroke="#35903f" stroke-width="1.2" stroke-linejoin="round"/><text x="413.30" y="378.20" font-size="7.2" text-anchor="start" fill="#222" stroke="#222" >D7</text><text x="516.20" y="378.20" font-size="7.2" text-anchor="end" fill="#222" stroke="#222" >D0</text><text x="507.70" y="315.70" font-size="7.0" text-anchor="end" fill="#222" stroke="#222" ><tspan font-style="italic">q</tspan> = 0.26</text><text x="507.70" y="323.80" font-size="7.0" text-anchor="end" fill="#222" stroke="#222" >NES : 1.10</text><linearGradient id="g8" x1="0" x2="1" y1="0" y2="0"><stop offset="0.000" stop-color="#dc2a38"/><stop offset="0.200" stop-color="#e03a48"/><stop offset="0.220" stop-color="#e45a6a"/><stop offset="0.400" stop-color="#e87888"/><stop offset="0.410" stop-color="#f0b0cc"/><stop offset="0.590" stop-color="#ead0e6"/><stop offset="0.610" stop-color="#d8d0ea"/><stop offset="0.790" stop-color="#bcb4e0"/><stop offset="0.800" stop-color="#8a7ec8"/><stop offset="0.870" stop-color="#5e4caa"/><stop offset="0.930" stop-color="#3e2c90"/><stop offset="0.940" stop-color="#2a1a78"/><stop offset="1.000" stop-color="#2a1a78"/></linearGradient><rect x="413.30" y="384.20" width="102.70" height="67.10" fill="none" stroke="#e2e2e2" stroke-width="0.7"/><line x1="413.30" y1="384.20" x2="413.30" y2="451.30" stroke="#cfcfcf" stroke-width="0.8"/><line x1="413.30" y1="400.00" x2="516.00" y2="400.00" stroke="#d6d6d6" stroke-width="0.7"/><text x="409.70" y="392.10" font-size="7.6" text-anchor="end" fill="#333" stroke="#333" >0.1</text><text x="409.70" y="402.50" font-size="7.6" text-anchor="end" fill="#333" stroke="#333" >0.0</text><text x="409.70" y="412.90" font-size="7.6" text-anchor="end" fill="#333" stroke="#333" >−0.1</text><text x="409.70" y="423.30" font-size="7.6" text-anchor="end" fill="#333" stroke="#333" >−0.2</text><line x1="420.00" y1="432.50" x2="420.00" y2="446.30" stroke="#5c5c5c" stroke-width="0.7"/><line x1="420.22" y1="432.50" x2="420.22" y2="446.30" stroke="#8d8d8d" stroke-width="0.7"/><line x1="422.00" y1="432.50" x2="422.00" y2="446.30" stroke="#393939" stroke-width="0.7"/><line x1="423.75" y1="432.50" x2="423.75" y2="446.30" stroke="#6c6c6c" stroke-width="0.7"/><line x1="425.50" y1="432.50" x2="425.50" y2="446.30" stroke="#757575" stroke-width="0.7"/><line x1="426.23" y1="432.50" x2="426.23" y2="446.30" stroke="#bcbcbc" stroke-width="0.7"/><line x1="427.50" y1="432.50" x2="427.50" y2="446.30" stroke="#666666" stroke-width="0.7"/><line x1="430.00" y1="432.50" x2="430.00" y2="446.30" stroke="#979797" stroke-width="0.7"/><line x1="431.33" y1="432.50" x2="431.33" y2="446.30" stroke="#878787" stroke-width="0.7"/><line x1="433.75" y1="432.50" x2="433.75" y2="446.30" stroke="#2c2c2c" stroke-width="0.7"/><line x1="435.50" y1="432.50" x2="435.50" y2="446.30" stroke="#353535" stroke-width="0.7"/><line x1="435.00" y1="432.50" x2="435.00" y2="446.30" stroke="#a4a4a4" stroke-width="0.7"/><line x1="437.50" y1="432.50" x2="437.50" y2="446.30" stroke="#393939" stroke-width="0.7"/><line x1="437.93" y1="432.50" x2="437.93" y2="446.30" stroke="#919191" stroke-width="0.7"/><line x1="444.50" y1="432.50" x2="444.50" y2="446.30" stroke="#303030" stroke-width="0.7"/><line x1="446.25" y1="432.50" x2="446.25" y2="446.30" stroke="#636363" stroke-width="0.7"/><line x1="444.91" y1="432.50" x2="444.91" y2="446.30" stroke="#939393" stroke-width="0.7"/><line x1="448.00" y1="432.50" x2="448.00" y2="446.30" stroke="#898989" stroke-width="0.7"/><line x1="450.00" y1="432.50" x2="450.00" y2="446.30" stroke="#8a8a8a" stroke-width="0.7"/><line x1="453.75" y1="432.50" x2="453.75" y2="446.30" stroke="#333333" stroke-width="0.7"/><line x1="455.50" y1="432.50" x2="455.50" y2="446.30" stroke="#828282" stroke-width="0.7"/><line x1="459.50" y1="432.50" x2="459.50" y2="446.30" stroke="#a4a4a4" stroke-width="0.7"/><line x1="460.64" y1="432.50" x2="460.64" y2="446.30" stroke="#909090" stroke-width="0.7"/><line x1="472.50" y1="432.50" x2="472.50" y2="446.30" stroke="#545454" stroke-width="0.7"/><line x1="474.50" y1="432.50" x2="474.50" y2="446.30" stroke="#888888" stroke-width="0.7"/><line x1="473.44" y1="432.50" x2="473.44" y2="446.30" stroke="#808080" stroke-width="0.7"/><line x1="476.25" y1="432.50" x2="476.25" y2="446.30" stroke="#686868" stroke-width="0.7"/><line x1="475.54" y1="432.50" x2="475.54" y2="446.30" stroke="#b8b8b8" stroke-width="0.7"/><line x1="478.00" y1="432.50" x2="478.00" y2="446.30" stroke="#646464" stroke-width="0.7"/><line x1="480.00" y1="432.50" x2="480.00" y2="446.30" stroke="#434343" stroke-width="0.7"/><line x1="482.00" y1="432.50" x2="482.00" y2="446.30" stroke="#959595" stroke-width="0.7"/><line x1="483.75" y1="432.50" x2="483.75" y2="446.30" stroke="#444444" stroke-width="0.7"/><line x1="485.50" y1="432.50" x2="485.50" y2="446.30" stroke="#6e6e6e" stroke-width="0.7"/><line x1="484.31" y1="432.50" x2="484.31" y2="446.30" stroke="#8b8b8b" stroke-width="0.7"/><line x1="490.00" y1="432.50" x2="490.00" y2="446.30" stroke="#7e7e7e" stroke-width="0.7"/><line x1="492.50" y1="432.50" x2="492.50" y2="446.30" stroke="#353535" stroke-width="0.7"/><line x1="494.50" y1="432.50" x2="494.50" y2="446.30" stroke="#919191" stroke-width="0.7"/><line x1="495.55" y1="432.50" x2="495.55" y2="446.30" stroke="#acacac" stroke-width="0.7"/><line x1="497.50" y1="432.50" x2="497.50" y2="446.30" stroke="#afafaf" stroke-width="0.7"/><line x1="497.99" y1="432.50" x2="497.99" y2="446.30" stroke="#858585" stroke-width="0.7"/><line x1="500.00" y1="432.50" x2="500.00" y2="446.30" stroke="#616161" stroke-width="0.7"/><line x1="503.75" y1="432.50" x2="503.75" y2="446.30" stroke="#494949" stroke-width="0.7"/><line x1="504.80" y1="432.50" x2="504.80" y2="446.30" stroke="#a1a1a1" stroke-width="0.7"/><line x1="510.00" y1="432.50" x2="510.00" y2="446.30" stroke="#9c9c9c" stroke-width="0.7"/><line x1="511.25" y1="432.50" x2="511.25" y2="446.30" stroke="#505050" stroke-width="0.7"/><line x1="512.50" y1="432.50" x2="512.50" y2="446.30" stroke="#9f9f9f" stroke-width="0.7"/><line x1="511.85" y1="432.50" x2="511.85" y2="446.30" stroke="#b6b6b6" stroke-width="0.7"/><rect x="413.30" y="448.00" width="101.00" height="3.30" fill="url(#g8)"/><polyline points="413.2,400.0 414.1,400.4 415.1,401.8 416.0,402.8 416.9,403.8 417.8,405.4 418.8,405.9 419.7,407.0 420.6,407.8 422.3,402.1 423.8,397.9 424.8,394.7 425.9,392.6 426.9,390.5 428.0,388.3 429.1,389.5 430.1,391.5 431.2,392.6 432.2,391.1 433.3,389.4 435.0,391.5 436.4,389.4 437.5,388.7 438.6,387.3 439.6,388.8 440.7,389.8 441.7,391.5 442.8,391.4 443.8,392.6 444.9,392.9 446.0,391.5 447.7,388.3 448.9,388.8 450.2,390.0 451.2,390.3 452.3,390.6 453.3,392.1 454.4,392.6 455.5,393.2 456.5,393.3 457.6,394.1 458.7,394.7 459.6,395.7 460.5,396.3 461.4,396.9 462.3,398.2 463.2,399.3 464.1,399.6 465.0,401.0 465.9,401.8 466.8,403.4 467.7,404.7 468.6,405.6 469.5,406.4 470.4,407.9 471.3,408.4 472.2,409.1 473.1,410.2 474.0,411.0 475.0,412.5 475.9,412.6 476.8,413.7 477.7,414.8 478.6,416.3 479.5,416.1 480.4,416.2 481.3,418.2 482.2,419.1 483.1,418.9 484.0,420.1 484.9,420.2 485.8,421.0 486.7,421.9 487.7,423.1 488.6,423.6 489.5,423.0 490.4,424.3 491.5,425.7 492.5,425.3 493.6,426.4 494.6,426.0 495.7,425.4 496.8,424.8 497.8,424.3 498.9,425.2 499.9,426.4 500.9,425.3 502.0,425.4 503.1,427.1 504.1,426.8 505.2,427.5 506.4,427.6 507.7,426.4 509.0,428.5 509.8,420.1 510.9,412.7 512.0,411.6 513.0,398.9" fill="none" stroke="#35903f" stroke-width="1.2" stroke-linejoin="round"/><text x="413.30" y="459.50" font-size="7.2" text-anchor="start" fill="#222" stroke="#222" >Post</text><text x="516.20" y="459.50" font-size="7.2" text-anchor="end" fill="#222" stroke="#222" >D0</text><text x="507.70" y="395.20" font-size="7.0" text-anchor="end" fill="#222" stroke="#222" ><tspan font-style="italic">q</tspan> = 0.42</text><text x="507.70" y="404.10" font-size="7.0" text-anchor="end" fill="#222" stroke="#222" >NES : −1.01</text><text x="250.4" y="489.6" font-size="12" text-anchor="start" fill="#000" stroke="#000" font-weight="bold" >F</text><text x="336.5" y="489.5" font-size="9.7" text-anchor="middle" fill="#222" stroke="#222" textLength="84.5" lengthAdjust="spacingAndGlyphs">Gene set: effector vs</text><text x="335.5" y="500" font-size="9.7" text-anchor="middle" fill="#222" stroke="#222" textLength="97.5" lengthAdjust="spacingAndGlyphs">exhaustion down genes</text><line x1="283" y1="507.4" x2="389" y2="507.4" stroke="#222" stroke-width="1.3"/><text x="336" y="520.4" font-size="6.95" text-anchor="middle" fill="#222" >Memory CD8<tspan font-size="4.5" dy="-2.5">+</tspan><tspan dy="2.5"> T cells</tspan></text><text transform="translate(260,612) rotate(-90)" font-size="10" fill="#222" stroke="#222" textLength="56.6" lengthAdjust="spacingAndGlyphs">Enrichment score</text><linearGradient id="g9" x1="0" x2="1" y1="0" y2="0"><stop offset="0.000" stop-color="#dc2a38"/><stop offset="0.155" stop-color="#e03a48"/><stop offset="0.171" stop-color="#e45a6a"/><stop offset="0.310" stop-color="#e87888"/><stop offset="0.320" stop-color="#f0b0cc"/><stop offset="0.520" stop-color="#ead0e6"/><stop offset="0.540" stop-color="#d8d0ea"/><stop offset="0.770" stop-color="#bcb4e0"/><stop offset="0.780" stop-color="#8a7ec8"/><stop offset="0.850" stop-color="#5e4caa"/><stop offset="0.930" stop-color="#3e2c90"/><stop offset="0.940" stop-color="#2a1a78"/><stop offset="1.000" stop-color="#2a1a78"/></linearGradient><rect x="283.00" y="526.20" width="105.40" height="66.80" fill="none" stroke="#e2e2e2" stroke-width="0.7"/><line x1="283.00" y1="526.20" x2="283.00" y2="593.00" stroke="#cfcfcf" stroke-width="0.8"/><line x1="283.00" y1="550.40" x2="388.40" y2="550.40" stroke="#d6d6d6" stroke-width="0.7"/><text x="279.40" y="532.80" font-size="7.6" text-anchor="end" fill="#333" stroke="#333" >0.2</text><text x="279.40" y="542.85" font-size="7.6" text-anchor="end" fill="#333" stroke="#333" >0.1</text><text x="279.40" y="552.90" font-size="7.6" text-anchor="end" fill="#333" stroke="#333" >0.0</text><text x="279.40" y="562.95" font-size="7.6" text-anchor="end" fill="#333" stroke="#333" >−0.1</text><text x="279.40" y="573.00" font-size="7.6" text-anchor="end" fill="#333" stroke="#333" >−0.2</text><line x1="283.50" y1="574.30" x2="283.50" y2="588.80" stroke="#383838" stroke-width="0.7"/><line x1="284.57" y1="574.30" x2="284.57" y2="588.80" stroke="#464646" stroke-width="0.7"/><line x1="285.18" y1="574.30" x2="285.18" y2="588.80" stroke="#1e1e1e" stroke-width="0.7"/><line x1="285.84" y1="574.30" x2="285.84" y2="588.80" stroke="#3f3f3f" stroke-width="0.7"/><line x1="286.46" y1="574.30" x2="286.46" y2="588.80" stroke="#505050" stroke-width="0.7"/><line x1="287.29" y1="574.30" x2="287.29" y2="588.80" stroke="#464646" stroke-width="0.7"/><line x1="288.32" y1="574.30" x2="288.32" y2="588.80" stroke="#7b7b7b" stroke-width="0.7"/><line x1="289.29" y1="574.30" x2="289.29" y2="588.80" stroke="#a4a4a4" stroke-width="0.7"/><line x1="290.03" y1="574.30" x2="290.03" y2="588.80" stroke="#c3c3c3" stroke-width="0.7"/><line x1="290.78" y1="574.30" x2="290.78" y2="588.80" stroke="#575757" stroke-width="0.7"/><line x1="291.90" y1="574.30" x2="291.90" y2="588.80" stroke="#a1a1a1" stroke-width="0.7"/><line x1="292.96" y1="574.30" x2="292.96" y2="588.80" stroke="#6c6c6c" stroke-width="0.7"/><line x1="293.97" y1="574.30" x2="293.97" y2="588.80" stroke="#585858" stroke-width="0.7"/><line x1="294.95" y1="574.30" x2="294.95" y2="588.80" stroke="#797979" stroke-width="0.7"/><line x1="295.63" y1="574.30" x2="295.63" y2="588.80" stroke="#7d7d7d" stroke-width="0.7"/><line x1="296.66" y1="574.30" x2="296.66" y2="588.80" stroke="#8d8d8d" stroke-width="0.7"/><line x1="297.36" y1="574.30" x2="297.36" y2="588.80" stroke="#6d6d6d" stroke-width="0.7"/><line x1="298.35" y1="574.30" x2="298.35" y2="588.80" stroke="#737373" stroke-width="0.7"/><line x1="299.18" y1="574.30" x2="299.18" y2="588.80" stroke="#949494" stroke-width="0.7"/><line x1="299.79" y1="574.30" x2="299.79" y2="588.80" stroke="#a8a8a8" stroke-width="0.7"/><line x1="303.37" y1="574.30" x2="303.37" y2="588.80" stroke="#6b6b6b" stroke-width="0.7"/><line x1="304.28" y1="574.30" x2="304.28" y2="588.80" stroke="#272727" stroke-width="0.7"/><line x1="304.96" y1="574.30" x2="304.96" y2="588.80" stroke="#6c6c6c" stroke-width="0.7"/><line x1="305.99" y1="574.30" x2="305.99" y2="588.80" stroke="#343434" stroke-width="0.7"/><line x1="307.14" y1="574.30" x2="307.14" y2="588.80" stroke="#363636" stroke-width="0.7"/><line x1="308.25" y1="574.30" x2="308.25" y2="588.80" stroke="#8b8b8b" stroke-width="0.7"/><line x1="309.20" y1="574.30" x2="309.20" y2="588.80" stroke="#3b3b3b" stroke-width="0.7"/><line x1="310.38" y1="574.30" x2="310.38" y2="588.80" stroke="#6b6b6b" stroke-width="0.7"/><line x1="310.97" y1="574.30" x2="310.97" y2="588.80" stroke="#a1a1a1" stroke-width="0.7"/><line x1="311.57" y1="574.30" x2="311.57" y2="588.80" stroke="#474747" stroke-width="0.7"/><line x1="312.68" y1="574.30" x2="312.68" y2="588.80" stroke="#4e4e4e" stroke-width="0.7"/><line x1="313.42" y1="574.30" x2="313.42" y2="588.80" stroke="#7c7c7c" stroke-width="0.7"/><line x1="314.60" y1="574.30" x2="314.60" y2="588.80" stroke="#6d6d6d" stroke-width="0.7"/><line x1="315.29" y1="574.30" x2="315.29" y2="588.80" stroke="#606060" stroke-width="0.7"/><line x1="315.87" y1="574.30" x2="315.87" y2="588.80" stroke="#5c5c5c" stroke-width="0.7"/><line x1="316.66" y1="574.30" x2="316.66" y2="588.80" stroke="#454545" stroke-width="0.7"/><line x1="317.65" y1="574.30" x2="317.65" y2="588.80" stroke="#676767" stroke-width="0.7"/><line x1="318.56" y1="574.30" x2="318.56" y2="588.80" stroke="#464646" stroke-width="0.7"/><line x1="319.19" y1="574.30" x2="319.19" y2="588.80" stroke="#767676" stroke-width="0.7"/><line x1="320.09" y1="574.30" x2="320.09" y2="588.80" stroke="#666666" stroke-width="0.7"/><line x1="320.65" y1="574.30" x2="320.65" y2="588.80" stroke="#787878" stroke-width="0.7"/><line x1="321.33" y1="574.30" x2="321.33" y2="588.80" stroke="#575757" stroke-width="0.7"/><line x1="322.13" y1="574.30" x2="322.13" y2="588.80" stroke="#7a7a7a" stroke-width="0.7"/><line x1="325.48" y1="574.30" x2="325.48" y2="588.80" stroke="#1e1e1e" stroke-width="0.7"/><line x1="326.40" y1="574.30" x2="326.40" y2="588.80" stroke="#727272" stroke-width="0.7"/><line x1="327.49" y1="574.30" x2="327.49" y2="588.80" stroke="#4c4c4c" stroke-width="0.7"/><line x1="328.57" y1="574.30" x2="328.57" y2="588.80" stroke="#8c8c8c" stroke-width="0.7"/><line x1="329.44" y1="574.30" x2="329.44" y2="588.80" stroke="#c7c7c7" stroke-width="0.7"/><line x1="330.16" y1="574.30" x2="330.16" y2="588.80" stroke="#858585" stroke-width="0.7"/><line x1="331.11" y1="574.30" x2="331.11" y2="588.80" stroke="#8e8e8e" stroke-width="0.7"/><line x1="331.73" y1="574.30" x2="331.73" y2="588.80" stroke="#777777" stroke-width="0.7"/><line x1="332.74" y1="574.30" x2="332.74" y2="588.80" stroke="#959595" stroke-width="0.7"/><line x1="333.40" y1="574.30" x2="333.40" y2="588.80" stroke="#565656" stroke-width="0.7"/><line x1="336.30" y1="574.30" x2="336.30" y2="588.80" stroke="#828282" stroke-width="0.7"/><line x1="336.95" y1="574.30" x2="336.95" y2="588.80" stroke="#1b1b1b" stroke-width="0.7"/><line x1="337.64" y1="574.30" x2="337.64" y2="588.80" stroke="#494949" stroke-width="0.7"/><line x1="338.80" y1="574.30" x2="338.80" y2="588.80" stroke="#747474" stroke-width="0.7"/><line x1="339.79" y1="574.30" x2="339.79" y2="588.80" stroke="#535353" stroke-width="0.7"/><line x1="340.99" y1="574.30" x2="340.99" y2="588.80" stroke="#2f2f2f" stroke-width="0.7"/><line x1="342.11" y1="574.30" x2="342.11" y2="588.80" stroke="#1f1f1f" stroke-width="0.7"/><line x1="343.04" y1="574.30" x2="343.04" y2="588.80" stroke="#1e1e1e" stroke-width="0.7"/><line x1="344.20" y1="574.30" x2="344.20" y2="588.80" stroke="#1f1f1f" stroke-width="0.7"/><line x1="344.76" y1="574.30" x2="344.76" y2="588.80" stroke="#3f3f3f" stroke-width="0.7"/><line x1="345.86" y1="574.30" x2="345.86" y2="588.80" stroke="#101010" stroke-width="0.7"/><line x1="346.84" y1="574.30" x2="346.84" y2="588.80" stroke="#555555" stroke-width="0.7"/><line x1="347.85" y1="574.30" x2="347.85" y2="588.80" stroke="#6e6e6e" stroke-width="0.7"/><line x1="348.64" y1="574.30" x2="348.64" y2="588.80" stroke="#808080" stroke-width="0.7"/><line x1="349.70" y1="574.30" x2="349.70" y2="588.80" stroke="#6d6d6d" stroke-width="0.7"/><line x1="350.35" y1="574.30" x2="350.35" y2="588.80" stroke="#919191" stroke-width="0.7"/><line x1="351.27" y1="574.30" x2="351.27" y2="588.80" stroke="#929292" stroke-width="0.7"/><line x1="351.82" y1="574.30" x2="351.82" y2="588.80" stroke="#5a5a5a" stroke-width="0.7"/><line x1="352.82" y1="574.30" x2="352.82" y2="588.80" stroke="#424242" stroke-width="0.7"/><line x1="353.80" y1="574.30" x2="353.80" y2="588.80" stroke="#9a9a9a" stroke-width="0.7"/><line x1="354.71" y1="574.30" x2="354.71" y2="588.80" stroke="#a2a2a2" stroke-width="0.7"/><line x1="355.69" y1="574.30" x2="355.69" y2="588.80" stroke="#666666" stroke-width="0.7"/><line x1="356.64" y1="574.30" x2="356.64" y2="588.80" stroke="#696969" stroke-width="0.7"/><line x1="357.50" y1="574.30" x2="357.50" y2="588.80" stroke="#555555" stroke-width="0.7"/><line x1="358.61" y1="574.30" x2="358.61" y2="588.80" stroke="#383838" stroke-width="0.7"/><line x1="359.58" y1="574.30" x2="359.58" y2="588.80" stroke="#101010" stroke-width="0.7"/><line x1="360.59" y1="574.30" x2="360.59" y2="588.80" stroke="#101010" stroke-width="0.7"/><line x1="361.71" y1="574.30" x2="361.71" y2="588.80" stroke="#858585" stroke-width="0.7"/><line x1="362.34" y1="574.30" x2="362.34" y2="588.80" stroke="#6e6e6e" stroke-width="0.7"/><line x1="363.48" y1="574.30" x2="363.48" y2="588.80" stroke="#585858" stroke-width="0.7"/><line x1="364.27" y1="574.30" x2="364.27" y2="588.80" stroke="#565656" stroke-width="0.7"/><line x1="364.93" y1="574.30" x2="364.93" y2="588.80" stroke="#565656" stroke-width="0.7"/><line x1="365.95" y1="574.30" x2="365.95" y2="588.80" stroke="#5b5b5b" stroke-width="0.7"/><line x1="367.02" y1="574.30" x2="367.02" y2="588.80" stroke="#787878" stroke-width="0.7"/><line x1="367.94" y1="574.30" x2="367.94" y2="588.80" stroke="#5d5d5d" stroke-width="0.7"/><line x1="371.76" y1="574.30" x2="371.76" y2="588.80" stroke="#4d4d4d" stroke-width="0.7"/><line x1="372.40" y1="574.30" x2="372.40" y2="588.80" stroke="#5c5c5c" stroke-width="0.7"/><line x1="373.08" y1="574.30" x2="373.08" y2="588.80" stroke="#7b7b7b" stroke-width="0.7"/><line x1="374.10" y1="574.30" x2="374.10" y2="588.80" stroke="#595959" stroke-width="0.7"/><line x1="375.06" y1="574.30" x2="375.06" y2="588.80" stroke="#6b6b6b" stroke-width="0.7"/><line x1="375.84" y1="574.30" x2="375.84" y2="588.80" stroke="#6d6d6d" stroke-width="0.7"/><line x1="376.84" y1="574.30" x2="376.84" y2="588.80" stroke="#838383" stroke-width="0.7"/><line x1="377.61" y1="574.30" x2="377.61" y2="588.80" stroke="#7a7a7a" stroke-width="0.7"/><line x1="378.28" y1="574.30" x2="378.28" y2="588.80" stroke="#6b6b6b" stroke-width="0.7"/><line x1="379.39" y1="574.30" x2="379.39" y2="588.80" stroke="#686868" stroke-width="0.7"/><line x1="380.11" y1="574.30" x2="380.11" y2="588.80" stroke="#8e8e8e" stroke-width="0.7"/><line x1="381.05" y1="574.30" x2="381.05" y2="588.80" stroke="#838383" stroke-width="0.7"/><line x1="382.17" y1="574.30" x2="382.17" y2="588.80" stroke="#616161" stroke-width="0.7"/><line x1="383.25" y1="574.30" x2="383.25" y2="588.80" stroke="#9e9e9e" stroke-width="0.7"/><rect x="283.00" y="589.40" width="100.80" height="3.60" fill="url(#g9)"/><polyline points="283.2,549.5 283.8,542.1 284.7,536.8 285.9,531.5 287.4,530.5 290.6,530.0 292.7,529.4 294.8,528.8 296.9,529.4 299.0,528.8 301.2,530.5 303.3,530.0 306.4,530.5 309.6,532.2 313.8,534.7 318.1,537.9 322.3,542.1 328.7,548.4 335.0,555.8 341.3,562.2 347.7,567.5 353.0,569.6 356.2,570.7 357.2,570.2 358.3,570.7 359.3,570.9 360.4,570.2 361.5,569.1 362.5,570.5 363.6,569.6 364.6,569.3 365.7,569.3 366.7,568.1 367.8,567.9 368.8,568.3 369.9,566.8 371.0,565.5 372.0,567.5 373.1,565.4 374.2,565.4 375.2,562.7 376.3,562.2 377.4,561.2 378.4,559.0 379.4,557.3 380.5,554.8 382.0,550.6 383.2,549.1" fill="none" stroke="#35903f" stroke-width="1.2" stroke-linejoin="round"/><text x="283.00" y="604.60" font-size="9.2" text-anchor="start" fill="#222" stroke="#222" >D7</text><text x="388.60" y="604.60" font-size="9.2" text-anchor="end" fill="#222" stroke="#222" >D0</text><text x="385.10" y="536.20" font-size="7.0" text-anchor="end" fill="#222" stroke="#222" ><tspan font-style="italic">q</tspan> = 0.96</text><text x="385.10" y="544.70" font-size="7.0" text-anchor="end" fill="#222" stroke="#222" >NES : 0.84</text><linearGradient id="g10" x1="0" x2="1" y1="0" y2="0"><stop offset="0.000" stop-color="#dc2a38"/><stop offset="0.200" stop-color="#e03a48"/><stop offset="0.220" stop-color="#e45a6a"/><stop offset="0.400" stop-color="#e87888"/><stop offset="0.410" stop-color="#f0b0cc"/><stop offset="0.600" stop-color="#ead0e6"/><stop offset="0.620" stop-color="#d8d0ea"/><stop offset="0.810" stop-color="#bcb4e0"/><stop offset="0.820" stop-color="#8a7ec8"/><stop offset="0.890" stop-color="#5e4caa"/><stop offset="0.930" stop-color="#3e2c90"/><stop offset="0.940" stop-color="#2a1a78"/><stop offset="1.000" stop-color="#2a1a78"/></linearGradient><rect x="283.00" y="608.30" width="105.40" height="66.00" fill="none" stroke="#e2e2e2" stroke-width="0.7"/><line x1="283.00" y1="608.30" x2="283.00" y2="674.30" stroke="#cfcfcf" stroke-width="0.8"/><line x1="283.00" y1="634.70" x2="388.40" y2="634.70" stroke="#d6d6d6" stroke-width="0.7"/><text x="279.40" y="612.60" font-size="7.6" text-anchor="end" fill="#333" stroke="#333" >0.2</text><text x="279.40" y="624.90" font-size="7.6" text-anchor="end" fill="#333" stroke="#333" >0.1</text><text x="279.40" y="637.20" font-size="7.6" text-anchor="end" fill="#333" stroke="#333" >0.0</text><text x="279.40" y="649.50" font-size="7.6" text-anchor="end" fill="#333" stroke="#333" >−0.1</text><line x1="283.50" y1="656.00" x2="283.50" y2="670.40" stroke="#4e4e4e" stroke-width="0.7"/><line x1="284.38" y1="656.00" x2="284.38" y2="670.40" stroke="#8c8c8c" stroke-width="0.7"/><line x1="284.97" y1="656.00" x2="284.97" y2="670.40" stroke="#595959" stroke-width="0.7"/><line x1="285.55" y1="656.00" x2="285.55" y2="670.40" stroke="#717171" stroke-width="0.7"/><line x1="286.75" y1="656.00" x2="286.75" y2="670.40" stroke="#2d2d2d" stroke-width="0.7"/><line x1="287.58" y1="656.00" x2="287.58" y2="670.40" stroke="#8a8a8a" stroke-width="0.7"/><line x1="289.52" y1="656.00" x2="289.52" y2="670.40" stroke="#6d6d6d" stroke-width="0.7"/><line x1="290.51" y1="656.00" x2="290.51" y2="670.40" stroke="#757575" stroke-width="0.7"/><line x1="291.24" y1="656.00" x2="291.24" y2="670.40" stroke="#5a5a5a" stroke-width="0.7"/><line x1="291.83" y1="656.00" x2="291.83" y2="670.40" stroke="#6c6c6c" stroke-width="0.7"/><line x1="292.53" y1="656.00" x2="292.53" y2="670.40" stroke="#646464" stroke-width="0.7"/><line x1="293.64" y1="656.00" x2="293.64" y2="670.40" stroke="#3b3b3b" stroke-width="0.7"/><line x1="294.19" y1="656.00" x2="294.19" y2="670.40" stroke="#3d3d3d" stroke-width="0.7"/><line x1="295.03" y1="656.00" x2="295.03" y2="670.40" stroke="#636363" stroke-width="0.7"/><line x1="296.10" y1="656.00" x2="296.10" y2="670.40" stroke="#333333" stroke-width="0.7"/><line x1="296.75" y1="656.00" x2="296.75" y2="670.40" stroke="#6a6a6a" stroke-width="0.7"/><line x1="297.82" y1="656.00" x2="297.82" y2="670.40" stroke="#333333" stroke-width="0.7"/><line x1="298.58" y1="656.00" x2="298.58" y2="670.40" stroke="#4e4e4e" stroke-width="0.7"/><line x1="301.31" y1="656.00" x2="301.31" y2="670.40" stroke="#6a6a6a" stroke-width="0.7"/><line x1="302.41" y1="656.00" x2="302.41" y2="670.40" stroke="#3c3c3c" stroke-width="0.7"/><line x1="303.22" y1="656.00" x2="303.22" y2="670.40" stroke="#3f3f3f" stroke-width="0.7"/><line x1="304.14" y1="656.00" x2="304.14" y2="670.40" stroke="#a5a5a5" stroke-width="0.7"/><line x1="306.12" y1="656.00" x2="306.12" y2="670.40" stroke="#575757" stroke-width="0.7"/><line x1="307.08" y1="656.00" x2="307.08" y2="670.40" stroke="#868686" stroke-width="0.7"/><line x1="308.08" y1="656.00" x2="308.08" y2="670.40" stroke="#7d7d7d" stroke-width="0.7"/><line x1="309.15" y1="656.00" x2="309.15" y2="670.40" stroke="#757575" stroke-width="0.7"/><line x1="309.96" y1="656.00" x2="309.96" y2="670.40" stroke="#5f5f5f" stroke-width="0.7"/><line x1="310.97" y1="656.00" x2="310.97" y2="670.40" stroke="#8c8c8c" stroke-width="0.7"/><line x1="312.13" y1="656.00" x2="312.13" y2="670.40" stroke="#5c5c5c" stroke-width="0.7"/><line x1="313.21" y1="656.00" x2="313.21" y2="670.40" stroke="#8d8d8d" stroke-width="0.7"/><line x1="314.22" y1="656.00" x2="314.22" y2="670.40" stroke="#8d8d8d" stroke-width="0.7"/><line x1="315.13" y1="656.00" x2="315.13" y2="670.40" stroke="#707070" stroke-width="0.7"/><line x1="316.30" y1="656.00" x2="316.30" y2="670.40" stroke="#888888" stroke-width="0.7"/><line x1="316.86" y1="656.00" x2="316.86" y2="670.40" stroke="#686868" stroke-width="0.7"/><line x1="317.82" y1="656.00" x2="317.82" y2="670.40" stroke="#666666" stroke-width="0.7"/><line x1="318.58" y1="656.00" x2="318.58" y2="670.40" stroke="#5f5f5f" stroke-width="0.7"/><line x1="319.25" y1="656.00" x2="319.25" y2="670.40" stroke="#9c9c9c" stroke-width="0.7"/><line x1="320.06" y1="656.00" x2="320.06" y2="670.40" stroke="#8d8d8d" stroke-width="0.7"/><line x1="321.17" y1="656.00" x2="321.17" y2="670.40" stroke="#a1a1a1" stroke-width="0.7"/><line x1="322.06" y1="656.00" x2="322.06" y2="670.40" stroke="#a1a1a1" stroke-width="0.7"/><line x1="324.66" y1="656.00" x2="324.66" y2="670.40" stroke="#717171" stroke-width="0.7"/><line x1="325.25" y1="656.00" x2="325.25" y2="670.40" stroke="#6c6c6c" stroke-width="0.7"/><line x1="325.93" y1="656.00" x2="325.93" y2="670.40" stroke="#5b5b5b" stroke-width="0.7"/><line x1="327.06" y1="656.00" x2="327.06" y2="670.40" stroke="#7e7e7e" stroke-width="0.7"/><line x1="327.90" y1="656.00" x2="327.90" y2="670.40" stroke="#727272" stroke-width="0.7"/><line x1="328.67" y1="656.00" x2="328.67" y2="670.40" stroke="#646464" stroke-width="0.7"/><line x1="329.48" y1="656.00" x2="329.48" y2="670.40" stroke="#656565" stroke-width="0.7"/><line x1="330.36" y1="656.00" x2="330.36" y2="670.40" stroke="#878787" stroke-width="0.7"/><line x1="331.36" y1="656.00" x2="331.36" y2="670.40" stroke="#7f7f7f" stroke-width="0.7"/><line x1="332.01" y1="656.00" x2="332.01" y2="670.40" stroke="#5e5e5e" stroke-width="0.7"/><line x1="332.69" y1="656.00" x2="332.69" y2="670.40" stroke="#717171" stroke-width="0.7"/><line x1="333.63" y1="656.00" x2="333.63" y2="670.40" stroke="#353535" stroke-width="0.7"/><line x1="334.41" y1="656.00" x2="334.41" y2="670.40" stroke="#383838" stroke-width="0.7"/><line x1="335.40" y1="656.00" x2="335.40" y2="670.40" stroke="#565656" stroke-width="0.7"/><line x1="336.56" y1="656.00" x2="336.56" y2="670.40" stroke="#1e1e1e" stroke-width="0.7"/><line x1="337.33" y1="656.00" x2="337.33" y2="670.40" stroke="#646464" stroke-width="0.7"/><line x1="338.03" y1="656.00" x2="338.03" y2="670.40" stroke="#656565" stroke-width="0.7"/><line x1="339.05" y1="656.00" x2="339.05" y2="670.40" stroke="#757575" stroke-width="0.7"/><line x1="339.81" y1="656.00" x2="339.81" y2="670.40" stroke="#686868" stroke-width="0.7"/><line x1="340.39" y1="656.00" x2="340.39" y2="670.40" stroke="#6c6c6c" stroke-width="0.7"/><line x1="341.25" y1="656.00" x2="341.25" y2="670.40" stroke="#535353" stroke-width="0.7"/><line x1="342.16" y1="656.00" x2="342.16" y2="670.40" stroke="#7e7e7e" stroke-width="0.7"/><line x1="343.10" y1="656.00" x2="343.10" y2="670.40" stroke="#6e6e6e" stroke-width="0.7"/><line x1="344.01" y1="656.00" x2="344.01" y2="670.40" stroke="#6a6a6a" stroke-width="0.7"/><line x1="344.96" y1="656.00" x2="344.96" y2="670.40" stroke="#a5a5a5" stroke-width="0.7"/><line x1="346.63" y1="656.00" x2="346.63" y2="670.40" stroke="#101010" stroke-width="0.7"/><line x1="347.80" y1="656.00" x2="347.80" y2="670.40" stroke="#6f6f6f" stroke-width="0.7"/><line x1="348.64" y1="656.00" x2="348.64" y2="670.40" stroke="#656565" stroke-width="0.7"/><line x1="349.20" y1="656.00" x2="349.20" y2="670.40" stroke="#878787" stroke-width="0.7"/><line x1="350.31" y1="656.00" x2="350.31" y2="670.40" stroke="#3b3b3b" stroke-width="0.7"/><line x1="351.02" y1="656.00" x2="351.02" y2="670.40" stroke="#4d4d4d" stroke-width="0.7"/><line x1="351.69" y1="656.00" x2="351.69" y2="670.40" stroke="#585858" stroke-width="0.7"/><line x1="352.60" y1="656.00" x2="352.60" y2="670.40" stroke="#848484" stroke-width="0.7"/><line x1="353.33" y1="656.00" x2="353.33" y2="670.40" stroke="#707070" stroke-width="0.7"/><line x1="354.01" y1="656.00" x2="354.01" y2="670.40" stroke="#939393" stroke-width="0.7"/><line x1="354.72" y1="656.00" x2="354.72" y2="670.40" stroke="#474747" stroke-width="0.7"/><line x1="355.33" y1="656.00" x2="355.33" y2="670.40" stroke="#414141" stroke-width="0.7"/><line x1="356.12" y1="656.00" x2="356.12" y2="670.40" stroke="#5c5c5c" stroke-width="0.7"/><line x1="356.71" y1="656.00" x2="356.71" y2="670.40" stroke="#303030" stroke-width="0.7"/><line x1="357.53" y1="656.00" x2="357.53" y2="670.40" stroke="#3e3e3e" stroke-width="0.7"/><line x1="358.66" y1="656.00" x2="358.66" y2="670.40" stroke="#8c8c8c" stroke-width="0.7"/><line x1="359.61" y1="656.00" x2="359.61" y2="670.40" stroke="#838383" stroke-width="0.7"/><line x1="360.71" y1="656.00" x2="360.71" y2="670.40" stroke="#8d8d8d" stroke-width="0.7"/><line x1="361.77" y1="656.00" x2="361.77" y2="670.40" stroke="#6c6c6c" stroke-width="0.7"/><line x1="362.65" y1="656.00" x2="362.65" y2="670.40" stroke="#a2a2a2" stroke-width="0.7"/><line x1="363.69" y1="656.00" x2="363.69" y2="670.40" stroke="#8b8b8b" stroke-width="0.7"/><line x1="364.50" y1="656.00" x2="364.50" y2="670.40" stroke="#9d9d9d" stroke-width="0.7"/><line x1="365.29" y1="656.00" x2="365.29" y2="670.40" stroke="#6d6d6d" stroke-width="0.7"/><line x1="366.08" y1="656.00" x2="366.08" y2="670.40" stroke="#5b5b5b" stroke-width="0.7"/><line x1="366.67" y1="656.00" x2="366.67" y2="670.40" stroke="#595959" stroke-width="0.7"/><line x1="367.26" y1="656.00" x2="367.26" y2="670.40" stroke="#525252" stroke-width="0.7"/><line x1="368.10" y1="656.00" x2="368.10" y2="670.40" stroke="#4a4a4a" stroke-width="0.7"/><line x1="369.25" y1="656.00" x2="369.25" y2="670.40" stroke="#373737" stroke-width="0.7"/><line x1="370.04" y1="656.00" x2="370.04" y2="670.40" stroke="#4b4b4b" stroke-width="0.7"/><line x1="370.86" y1="656.00" x2="370.86" y2="670.40" stroke="#727272" stroke-width="0.7"/><line x1="371.42" y1="656.00" x2="371.42" y2="670.40" stroke="#373737" stroke-width="0.7"/><line x1="372.41" y1="656.00" x2="372.41" y2="670.40" stroke="#393939" stroke-width="0.7"/><line x1="373.27" y1="656.00" x2="373.27" y2="670.40" stroke="#313131" stroke-width="0.7"/><line x1="374.44" y1="656.00" x2="374.44" y2="670.40" stroke="#2a2a2a" stroke-width="0.7"/><line x1="375.33" y1="656.00" x2="375.33" y2="670.40" stroke="#5b5b5b" stroke-width="0.7"/><line x1="376.36" y1="656.00" x2="376.36" y2="670.40" stroke="#5c5c5c" stroke-width="0.7"/><line x1="377.04" y1="656.00" x2="377.04" y2="670.40" stroke="#4f4f4f" stroke-width="0.7"/><line x1="377.84" y1="656.00" x2="377.84" y2="670.40" stroke="#5e5e5e" stroke-width="0.7"/><line x1="378.90" y1="656.00" x2="378.90" y2="670.40" stroke="#5e5e5e" stroke-width="0.7"/><line x1="379.50" y1="656.00" x2="379.50" y2="670.40" stroke="#191919" stroke-width="0.7"/><line x1="380.66" y1="656.00" x2="380.66" y2="670.40" stroke="#7b7b7b" stroke-width="0.7"/><line x1="381.60" y1="656.00" x2="381.60" y2="670.40" stroke="#949494" stroke-width="0.7"/><line x1="382.68" y1="656.00" x2="382.68" y2="670.40" stroke="#808080" stroke-width="0.7"/><rect x="283.00" y="670.80" width="100.80" height="3.50" fill="url(#g10)"/><polyline points="283.2,634.7 283.2,630.5 284.2,630.0 285.3,628.4 286.4,626.8 287.4,624.2 288.4,623.6 289.5,623.1 290.6,622.9 291.6,622.0 292.7,619.5 293.8,617.8 294.9,615.1 295.9,614.6 296.9,614.1 298.0,611.5 299.1,612.8 300.1,613.6 301.1,613.4 302.2,615.7 303.2,614.5 304.3,614.6 305.4,614.8 306.4,615.7 307.5,614.9 308.6,613.6 309.6,613.3 310.7,611.5 311.7,611.5 312.8,610.8 313.8,610.8 314.9,611.1 315.9,610.8 317.0,611.0 318.1,611.3 319.1,610.9 320.2,611.5 322.3,612.5 326.5,615.7 332.9,623.1 339.2,630.5 345.6,637.9 351.9,644.3 358.3,648.5 363.6,651.2 364.6,650.8 365.7,652.6 366.7,652.1 367.8,651.8 368.8,651.9 369.9,651.7 371.0,651.0 372.0,650.6 373.1,650.6 374.2,649.7 375.2,649.6 376.3,648.5 377.3,648.9 378.4,648.1 379.4,647.4 380.4,646.0 381.5,645.3 382.6,641.1 383.7,634.7" fill="none" stroke="#35903f" stroke-width="1.2" stroke-linejoin="round"/><text x="283.00" y="686.40" font-size="9.2" text-anchor="start" fill="#222" stroke="#222" >Post</text><text x="388.60" y="686.40" font-size="9.2" text-anchor="end" fill="#222" stroke="#222" >D0</text><text x="384.70" y="621.50" font-size="7.0" text-anchor="end" fill="#222" stroke="#222" ><tspan font-style="italic">q</tspan> = 0.98</text><text x="384.70" y="629.90" font-size="7.0" text-anchor="end" fill="#222" stroke="#222" >NES : 0.71</text></svg></body></html>
